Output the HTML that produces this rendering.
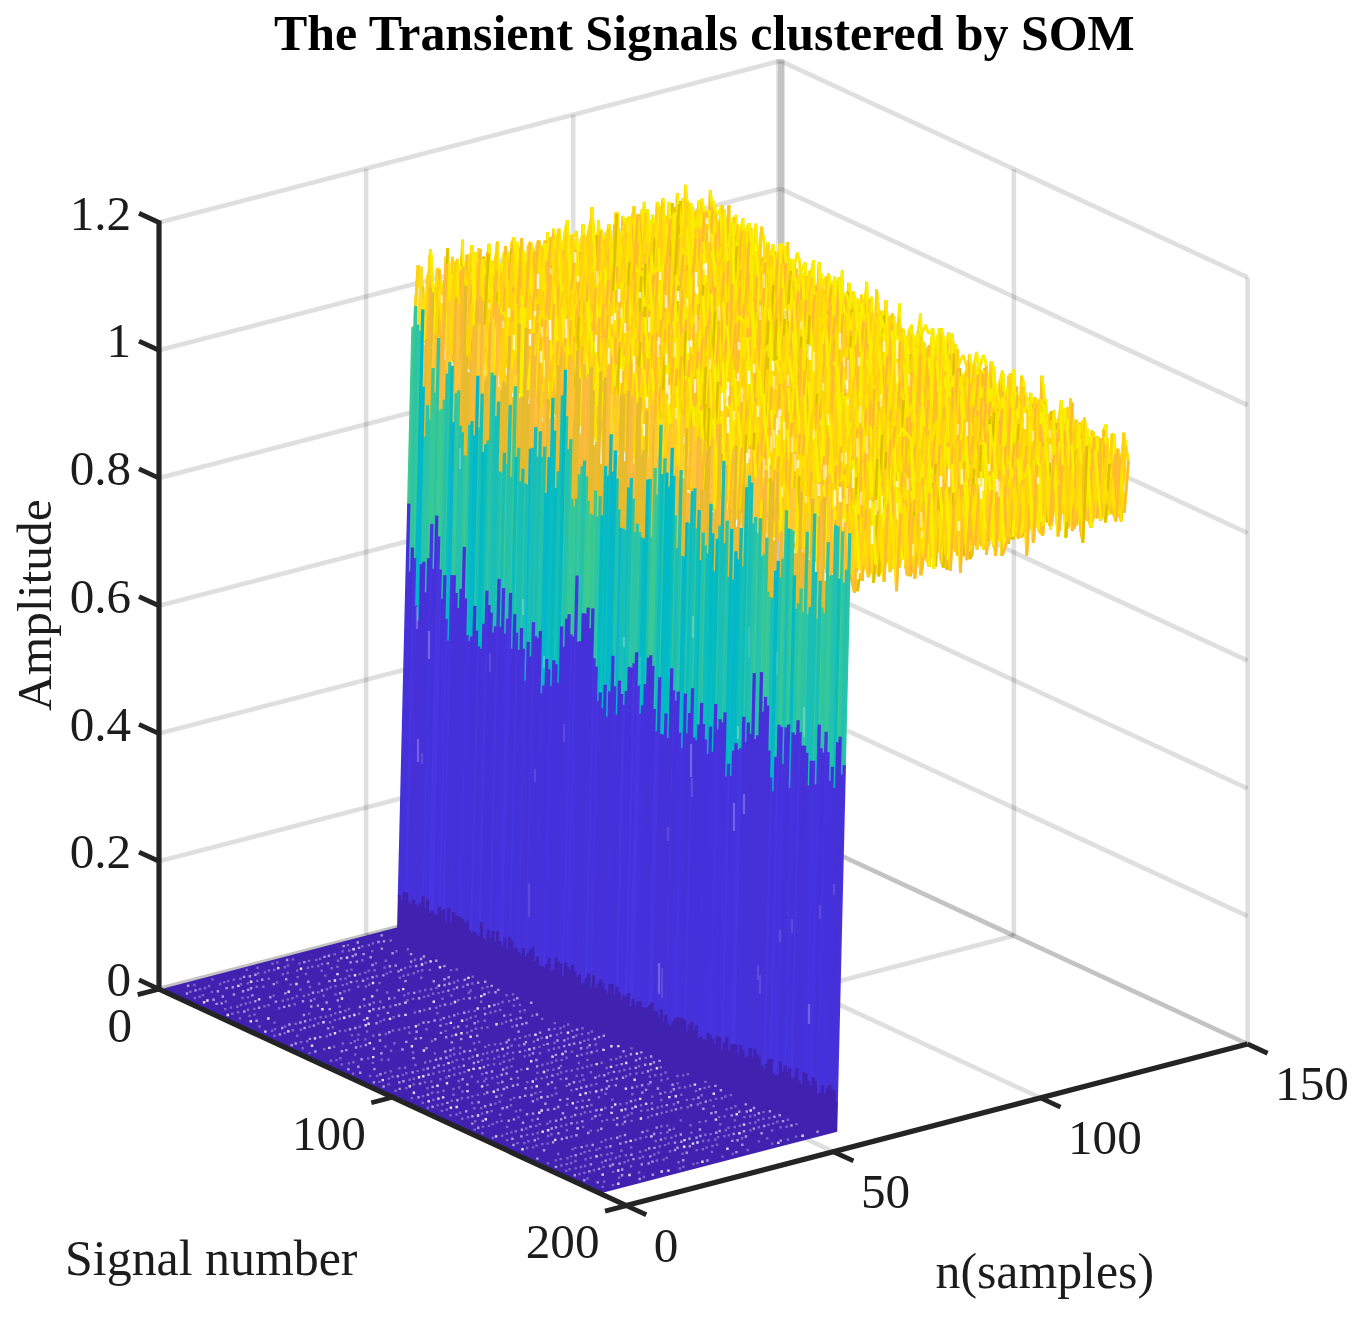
<!DOCTYPE html>
<html><head><meta charset="utf-8"><title>The Transient Signals clustered by SOM</title>
<style>html,body{margin:0;padding:0;background:#fff}body{width:1370px;height:1323px;position:relative;overflow:hidden}</style></head>
<body>
<svg width="1370" height="1323" viewBox="0 0 1370 1323" style="position:absolute;left:0;top:0">
<rect width="1370" height="1323" fill="#fff"/>
<g fill="none" stroke="#262626" stroke-opacity="0.15" stroke-width="4.6">
<path d="M159.0 989.1L780.3 827.5"/>
<path d="M159.0 861.3L780.3 699.7"/>
<path d="M159.0 733.6L780.3 572.0"/>
<path d="M159.0 605.8L780.3 444.2"/>
<path d="M159.0 478.1L780.3 316.5"/>
<path d="M159.0 350.3L780.3 188.7"/>
<path d="M159.0 222.5L780.3 60.9"/>
<path d="M366.1 935.2L366.1 168.7"/>
<path d="M573.2 881.4L573.2 114.8"/>
<path d="M780.3 827.5L1247.6 1044.0"/>
<path d="M780.3 699.7L1247.6 916.2"/>
<path d="M780.3 572.0L1247.6 788.5"/>
<path d="M780.3 444.2L1247.6 660.7"/>
<path d="M780.3 316.5L1247.6 533.0"/>
<path d="M780.3 188.7L1247.6 405.2"/>
<path d="M780.3 60.9L1247.6 277.4"/>
<path d="M1013.9 935.7L1013.9 169.2"/>
<path d="M1247.6 1044.0L1247.6 277.4"/>
<path d="M159.0 989.1L780.3 827.5"/>
<path d="M392.6 1097.3L1013.9 935.7"/>
<path d="M366.1 935.2L833.4 1151.7"/>
<path d="M573.2 881.4L1040.5 1097.9"/>
<path d="M780.3 827.5L1247.6 1044.0"/>
<path stroke-width="8.3" d="M780.3 58.9V827.5"/>
<path stroke-width="6.4" d="M781.2 60.9V827.5"/>
</g>
<style>.o{stroke:#ffba30}.g{stroke:#ffd014}.y{stroke:#ffe300}.b{stroke:#f8f000}.k{stroke:#dfc000}path{vector-effect:non-scaling-stroke}</style>
<g fill="none" stroke-width="2.7" stroke-linejoin="bevel">
<g transform="matrix(4.1420 -1.0773 0 -6.3880 161.3 990.2)"><path class="y" d="M61 93l1 10 1-8 1 0 1 10 1-10 1 5 1-9 1 11 1-8 1 8 1-11 1 10 1-5 1 8 1-12 1 11 1-12 1 11 1-11 1 8 1-6 1 8 1-8 1 8 1-8 1 10 1-11 1 10 1-9 1 9 1-8 1-4 1 12 1-7 1 8 1-9 1 10 1-11 1 6 1-5 1 7 1-8 1 12 1-12 1 8 1-6 1 6 1-10 1 12 1-11 1 9 1 1 1-10 1 10 1-8 1 8 1-7 1 5 1-4 1 7 1-10 1 7 1-9 1 11 1-7 1 7 1-10"/>
<path class="o" d="M61 93l1 10M68 91l1 11M72 91l1 10M76 92l1 11M78 91l1 11M82 93l1 8M84 93l1 8M86 93l1 10M88 92l1 10M90 93l1 9M93 90l1 12M99 93l1 6M101 94l1 7M103 93l1 12M111 92l1 9M122 93l1 7"/>
<path class="g" d="M63 95l1 0 1 10M66 95l1 5M70 94l1 8M74 96l1 8M92 94l1-4M95 95l1 8M97 94l1 10M105 93l1 8M107 95l1 6M114 92l1 10M116 94l1 8M118 95l1 5M120 96l1 7M126 95l1 7"/>
<path class="b" d="M65 105l1-10M75 104l1-12M98 104l1-11M104 105l1-12"/>
<path class="k" d="M80 91l1 8M109 91l1 12M124 91l1 11"/>
</g>
<g transform="matrix(4.1420 -1.0773 0 -6.3880 173.0 995.6)"><path class="y" d="M61 92l1 11 1-10 1 9 1-2 1-8 1 9 1-8 1 8 1-10 1 13 1-11 1 11 1-10 1 9 1-9 1 8 1-11 1 10 1-9 1 10 1-12 1 14 1-10 1-1 1 7 1-6 1 6 1-7 1 10 1-8 1 8 1-10 1 7 1-7 1 8 1 1 1-9 1 11 1-15 1 12 1-6 1 6 1-8 1 9 1-11 1 9 1-10 1 11 1-7 1 6 1-4 1 6 1-11 1 9 1-5 1 5 1-7 1 9 1-12 1 13 1-12 1 13 1-13 1 12 1-9 1 9 1-9"/>
<path class="o" d="M61 92l1 11M63 93l1 9M66 92l1 9M68 93l1 8M72 93l1 11M78 91l1 10M82 90l1 14M85 93l1 7M89 93l1 10M93 93l1 7M98 93l1 11M114 91l1 9M118 93l1 9M120 90l1 13M122 91l1 13M124 91l1 12"/>
<path class="b" d="M62 103l1-10M71 104l1-11M73 104l1-10M75 103l1-9M83 104l1-10M92 103l1-10M99 104l1-15M121 103l1-12M123 104l1-13M125 103l1-9M127 103l1-9"/>
<path class="g" d="M70 91l1 13M74 94l1 9M76 94l1 8M80 92l1 10M84 94l1-1M87 94l1 6M91 95l1 8M95 93l1 8M102 95l1 6M104 93l1 9M106 91l1 9M110 94l1 6M112 96l1 6M116 95l1 5M126 94l1 9"/>
<path class="k" d="M100 89l1 12M108 90l1 11"/>
</g>
<g transform="matrix(4.1420 -1.0773 0 -6.3880 184.7 1001.0)"><path class="y" d="M61 94l1 7 1-9 1 8 1-8 1 10 1-12 1 11 1-8 1 8 1-5 1 8 1-10 1 7 1-8 1 2 1 9 1-12 1 8 1-10 1 9 1-5 1 6 1-9 1 13 1-11 1 11 1-14 1 9 1-7 1 8 1-9 1 10 1-8 1 9 1-7 1 6 1-8 1 9 1-10 1 10 1 1 1-13 1 10 1-6 1 9 1-9 1 10 1-11 1 1 1 5 1-8 1 13 1-9 1 10 1-11 1 10 1-3 1-10 1 7 1-6 1 9 1-10 1 11 1-10 1 9 1-10 1 12"/>
<path class="g" d="M61 94l1 7M71 96l1 8M73 94l1 7M76 95l1 9M82 94l1 6M86 93l1 11M90 92l1 8M96 95l1 6M105 94l1 9M107 94l1 10M110 94l1 5M114 95l1 10M116 94l1 10M121 92l1 9M123 91l1 11M125 92l1 9M127 91l1 12"/>
<path class="o" d="M63 92l1 8M65 92l1 10M69 93l1 8M75 93l1 2M78 92l1 8M80 90l1 9M84 91l1 13M92 91l1 10M94 93l1 9M98 93l1 9M100 92l1 10M109 93l1 1M112 91l1 13M119 91l1 7"/>
<path class="k" d="M67 90l1 11M88 90l1 9M103 90l1 10"/>
<path class="b" d="M72 104l1-10M77 104l1-12M85 104l1-11M87 104l1-14M102 103l1-13M108 104l1-11M113 104l1-9M115 105l1-11M117 104l1-3"/>
</g>
<g transform="matrix(4.1420 -1.0773 0 -6.3880 196.4 1006.4)"><path class="y" d="M61 100l1-9 1 12 1-11 1-1 1 9 1-7 1 8 1-7 1 1 1 8 1-9 1 7 1-11 1 11 1-7 1 7 1-5 1 5 1-9 1 9 1-11 1 11 1-8 1 11 1-14 1 12 1-10 1 10 1-9 1 9 1-10 1 9 1-9 1 8 1 0 1-6 1 8 1-8 1 10 1-11 1 10 1-11 1 11 1-13 1 10 1-8 1 12 1-13 1 9 1-6 1 8 1-11 1 10 1-9 1 8 1-8 1 11 1-11 1-1 1 8 1-8 1 10 1-10 1 11 1 1 1 1 1-12"/>
<path class="o" d="M62 91l1 12M64 92l1-1 1 9M67 93l1 8M74 90l1 11M82 90l1 11M84 93l1 11M90 93l1 9M92 92l1 9M94 92l1 8M103 92l1 11M105 90l1 10M109 91l1 9M115 92l1 8M117 92l1 11M119 92l1-1 1 8"/>
<path class="b" d="M63 103l1-11M71 103l1-9M85 104l1-14M100 104l1-11M102 103l1-11M104 103l1-13M108 104l1-13M118 103l1-11M125 102l1 1 1 1 1-12"/>
<path class="g" d="M69 94l1 1 1 8M72 94l1 7M76 94l1 7M78 96l1 5M80 92l1 9M88 92l1 10M97 94l1 8M99 94l1 10M101 93l1 10M107 92l1 12M111 94l1 8M113 91l1 10M124 91l1 11"/>
<path class="k" d="M86 90l1 12M122 91l1 10"/>
</g>
<g transform="matrix(4.1420 -1.0773 0 -6.3880 208.1 1011.8)"><path class="y" d="M61 92l1-1 1 11 1-12 1 11 1-10 1 8 1-6 1 8 1-11 1 12 1-6 1 4 1-6 1-3 1 9 1-11 1 14 1-10 1 9 1-8 1 8 1-8 1 8 1-9 1 10 1-11 1 8 1-5 1-1 1-2 1 12 1-12 1 7 1-7 1 9 1-1 1 3 1-12 1 10 1-10 1 0 1 8 1-7 1 13 1-14 1 11 1-11 1 10 1-9 1 7 1-4 1 5 1-8 1 10 1-7 1 8 1-9 1-1 1 9 1-10 1 11 1-13 1 1 1 10 1-12 1 14 1-12"/>
<path class="o" d="M61 92l1-1 1 11M66 91l1 8M68 93l1 8M70 90l1 12M75 91l1 9M79 93l1 9M87 92l1 8M93 92l1 7M95 92l1 9M99 91l1 10M101 91l1 0 1 8M104 92l1 13M106 91l1 11M108 91l1 10M110 92l1 7M114 92l1 10M119 93l1 9M121 92l1 11M124 91l1 10M126 89l1 14"/>
<path class="k" d="M64 90l1 11M77 89l1 14M123 90l1 1"/>
<path class="b" d="M71 102l1-6M78 103l1-10M84 102l1-9M86 103l1-11M92 104l1-12M98 103l1-12M105 105l1-14M117 103l1-9M122 103l1-13M127 103l1-12"/>
<path class="g" d="M72 96l1 4M74 94l1-3M81 94l1 8M83 94l1 8M85 93l1 10M89 95l1-1 1-2 1 12M112 95l1 5M116 95l1 8M118 94l1-1"/>
</g>
<g transform="matrix(4.1420 -1.0773 0 -6.3880 219.7 1017.2)"><path class="y" d="M61 92l1 6 1-6 1 10 1-9 1 11 1-12 1 10 1-12 1 10 1-10 1 9 1-4 1-3 1 11 1-13 1 2 1 10 1-11 1 8 1-8 1 8 1-5 1 7 1-9 1 9 1-9 1 10 1-10 1 7 1-5 1 8 1-13 1 11 1-8 1 7 1-8 1 9 1-9 1 3 1 7 1-8 1 8 1-8 1 7 1-9 1 11 1-12 1 10 1-8 1 11 1-2 1 0 1-11 1 14 1-15 1 11 1-8 1 9 1-11 1 11 1-9 1 0 1-1 1 12 1-10 1 8 1 0"/>
<path class="o" d="M61 92l1 6M63 92l1 10M67 92l1 10M69 90l1 10M74 92l1 11M76 90l1 2 1 10M79 91l1 8M89 92l1 7M93 89l1 11M95 92l1 7M97 91l1 9M99 91l1 3M104 93l1 7M108 90l1 10M118 92l1 9M120 90l1 11M122 92l1 0 1-1"/>
<path class="g" d="M65 93l1 11M73 95l1-3M81 91l1 8M83 94l1 7M85 92l1 9M87 92l1 10M91 94l1 8M100 94l1 7M102 93l1 8M106 91l1 11M110 92l1 11M124 91l1 12M126 93l1 8"/>
<path class="b" d="M66 104l1-12M75 103l1-13M88 102l1-10M107 102l1-12M111 103l1-2M115 104l1-15M125 103l1-10"/>
<path class="k" d="M71 90l1 9M114 90l1 14M116 89l1 11"/>
</g>
<g transform="matrix(4.1420 -1.0773 0 -6.3880 231.4 1022.7)"><path class="y" d="M61 99l1-6 1 9 1-10 1 8 1 0 1-9 1 9 1-10 1 12 1-8 1 7 1-11 1 10 1-8 1 7 1-9 1 8 1-4 1 7 1-9 1 9 1-11 1 9 1-9 1 11 1-10 1 2 1 8 1-9 1 9 1-9 1 7 1-6 1 7 1-7 1 10 1-2 1-12 1 13 1-12 1 10 1 1 1-11 1 10 1-9 1 11 1-8 1-2 1 8 1-2 1-4 1-2 1 11 1-10 1 11 1-10 1 6 1-12 1 11 1-9 1 11 1-11 1 13 1 1 1-5 1-7 1 11"/>
<path class="g" d="M62 93l1 9M67 91l1 9M71 94l1 7M75 92l1 7M79 94l1 7M88 93l1 8M96 93l1 10M106 91l1 11M108 94l1-2M112 94l1-2 1 11M117 94l1 6M123 90l1 13M127 92l1 11"/>
<path class="b" d="M63 102l1-10M70 102l1-8M97 103l1-2M107 102l1-8M114 103l1-10M116 104l1-10M124 103l1 1 1-5"/>
<path class="o" d="M64 92l1 8M69 90l1 12M81 92l1 9M85 90l1 11M87 91l1 2M90 92l1 9M92 92l1 7M94 93l1 7M99 89l1 13M104 90l1 10M109 92l1 8M115 93l1 11M119 88l1 11"/>
<path class="k" d="M73 90l1 10M77 90l1 8M83 90l1 9M101 90l1 10M121 90l1 11"/>
</g>
<g transform="matrix(4.1420 -1.0773 0 -6.3880 243.1 1028.1)"><path class="y" d="M61 92l1 7 1-8 1 0 1 11 1-10 1 9 1-7 1 6 1-11 1 12 1-9 1 11 1-13 1 10 1-10 1 11 1-7 1 7 1-10 1 1 1 8 1-9 1 7 1-6 1 8 1-7 1-2 1 10 1-10 1 11 1-9 1 9 1-9 1 0 1 8 1-8 1 8 1-9 1 11 1-11 1 9 1-9 1 7 1-6 1 6 1-6 1 7 1-7 1 9 1-11 1 10 1-10 1 10 1-10 1 9 1-7 1 7 1-7 1 9 1-9 1 8 1-8 1 5 1-8 1 9 1-9 1 10"/>
<path class="g" d="M61 92l1 7M63 91l1 0M66 92l1 9M68 94l1 6M76 90l1 11M78 94l1 7M80 91l1 1M87 93l1-2M90 91l1 11M92 93l1 9M94 93l1 0M97 93l1 8M105 93l1 6M107 93l1 7M117 93l1 7M119 93l1 9M121 93l1 8M123 93l1 5M127 90l1 10"/>
<path class="o" d="M64 91l1 11M72 92l1 11M74 90l1 10M81 92l1 8M83 91l1 7M85 92l1 8M88 91l1 10M95 93l1 8M99 92l1 11M101 92l1 9M103 92l1 7M109 93l1 9M111 91l1 10M113 91l1 10M115 91l1 9"/>
<path class="b" d="M65 102l1-10M73 103l1-13M91 102l1-9M93 102l1-9M100 103l1-11M110 102l1-11M120 102l1-9"/>
<path class="k" d="M70 89l1 12M125 90l1 9"/>
</g>
<g transform="matrix(4.1420 -1.0773 0 -6.3880 254.8 1033.5)"><path class="y" d="M61 91l1 8 1-6 1 8 1-11 1 7 1-7 1 11 1-10 1 10 1-11 1 13 1-14 1 13 1-11 1 8 1-6 1 6 1-5 1 6 1-9 1 7 1-6 1 10 1-10 1 10 1-11 1 10 1-8 1 7 1-10 1 11 1-12 1 13 1-7 1 5 1-7 1-1 1 7 1-6 1 6 1-5 1 7 1-13 1 13 1-8 1 7 1-8 1 1 1 9 1-13 1 15 1-10 1 8 1-12 1 13 1-9 1 5 1 0 1-7 1 10 1-12 1 9 1-8 1 7 1-7 1 11 1-11"/>
<path class="o" d="M61 91l1 8M65 90l1 7M67 90l1 11M71 90l1 13M75 91l1 8M83 92l1 10M87 91l1 10M93 89l1 13M115 90l1 13M120 92l1 10M124 91l1 7M126 91l1 11"/>
<path class="g" d="M63 93l1 8M69 91l1 10M77 93l1 6M79 94l1 6M81 91l1 7M85 92l1 10M89 93l1 7M91 90l1 11M95 95l1 5M97 93l1-1 1 7M100 93l1 6M102 94l1 7M106 93l1 7M108 92l1 1 1 9M113 94l1 8M117 94l1 5M122 90l1 9"/>
<path class="b" d="M72 103l1-14M74 102l1-11M84 102l1-10M86 102l1-11M94 102l1-7M110 102l1-13M112 104l1-10M114 102l1-12M116 103l1-9M121 102l1-12M127 102l1-11"/>
<path class="k" d="M73 89l1 13M104 88l1 13M111 89l1 15"/>
</g>
<g transform="matrix(4.1420 -1.0773 0 -6.3880 266.5 1038.9)"><path class="y" d="M61 102l1-12 1 1 1 8 1-8 1 11 1-11 1 9 1-10 1 12 1-9 1 5 1-5 1 6 1-5 1 8 1-9 1 5 1-9 1 10 1-8 1 8 1-7 1 8 1-11 1 13 1-11 1 8 1-6 1 7 1-9 1 12 1-1 1-15 1 15 1-12 1 9 1-9 1 8 1-7 1 10 1-11 1 10 1-10 1 10 1-11 1 12 1-10 1 10 1-11 1 11 1-10 1 9 1-6 1 9 1-13 1 12 1-14 1 12 1-12 1 12 1-8 1 7 1-6 1 10 1-3 1-7 1 6"/>
<path class="b" d="M61 102l1-12M66 102l1-11M70 102l1-9M76 102l1-9M86 102l1-11M92 103l1-1 1-15M95 102l1-12M101 101l1-11M107 101l1-10M115 103l1-13M117 102l1-14M125 103l1-3"/>
<path class="g" d="M62 90l1 1M69 90l1 12M71 93l1 5M73 93l1 6M75 94l1 8M77 93l1 5M83 92l1 8M89 93l1 7M91 91l1 12M98 90l1 8M100 91l1 10M112 91l1 9M114 94l1 9M116 90l1 12M122 92l1 7M124 93l1 10M127 93l1 6"/>
<path class="o" d="M63 91l1 8M65 91l1 11M67 91l1 9M81 91l1 8M87 91l1 8M96 90l1 9M102 90l1 10M104 90l1 10M108 91l1 10M110 90l1 11M118 88l1 12M120 88l1 12"/>
<path class="k" d="M79 89l1 10M85 89l1 13M94 87l1 15M106 89l1 12"/>
</g>
<g transform="matrix(4.1420 -1.0773 0 -6.3880 278.2 1044.3)"><path class="y" d="M61 90l1 12 1-13 1 9 1-7 1 10 1-11 1 11 1-12 1 11 1-7 1 9 1-9 1 7 1-9 1 8 1-9 1 11 1-10 1 10 1-9 1 6 1-7 1 8 1-7 1 8 1-10 1 10 1-6 1 5 1-7 1 8 1-7 1 5 1-9 1 11 1-9 1 11 1-12 1 10 1-9 1 7 1-8 1 7 1-8 1 10 1-9 1 10 1 2 1-10 1 9 1-11 1 9 1-9 1 12 1-11 1 11 1-9 1 7 1-11 1 11 1-8 1 6 1-8 1 10 1-6 1 5 1-7"/>
<path class="o" d="M61 90l1 12M65 91l1 10M67 90l1 11M77 90l1 11M79 91l1 10M81 92l1 6M83 91l1 8M87 90l1 10M91 92l1 8M97 91l1 11M99 90l1 10M101 91l1 7M107 90l1 10M112 90l1 9M116 91l1 11M122 92l1 6"/>
<path class="b" d="M62 102l1-13M68 101l1-12M72 102l1-9M78 101l1-10M80 101l1-9M98 102l1-12M109 102l1-10M111 101l1-11M115 102l1-11M117 102l1-9"/>
<path class="k" d="M63 89l1 9M69 89l1 11M95 89l1 11M105 89l1 10M120 89l1 11"/>
<path class="g" d="M71 93l1 9M73 93l1 7M75 91l1 8M85 92l1 8M89 94l1 5M93 93l1 5M103 90l1 7M110 92l1 9M114 90l1 12M118 93l1 7M124 90l1 10M126 94l1 5"/>
</g>
<g transform="matrix(4.1420 -1.0773 0 -6.3880 289.8 1049.7)"><path class="y" d="M61 90l1 9 1-8 1 7 1-7 1 6 1-6 1 9 1-7 1 7 1-9 1 2 1 7 1-8 1 11 1-14 1 8 1-7 1 8 1-8 1 7 1-6 1 10 1-10 1 7 1-5 1 7 1-10 1 7 1-7 1 9 1-8 1 7 1-11 1 15 1-12 1 11 1-9 1 8 1-8 1 7 1-9 1 1 1 10 1-12 1 10 1-9 1 8 1-9 1 9 1-7 1 9 1-9 1 8 1-7 1 8 1-9 1 9 1-11 1 10 1-7 1 7 1-7 1 8 1-9 1 6 1-7 1 8"/>
<path class="o" d="M61 90l1 9M76 89l1 8M78 90l1 8M82 91l1 10M90 90l1 9M96 90l1 11M105 89l1 10M107 90l1 8M109 89l1 9M111 91l1 9M119 89l1 10M125 91l1 6"/>
<path class="g" d="M63 91l1 7M65 91l1 6M67 91l1 9M69 93l1 7M71 91l1 2 1 7M74 92l1 11M80 90l1 7M84 91l1 7M86 93l1 7M88 90l1 7M92 91l1 7M98 92l1 8M100 92l1 7M102 90l1 1 1 10M113 91l1 8M115 92l1 8M117 91l1 9M121 92l1 7M123 92l1 8M127 90l1 8"/>
<path class="b" d="M75 103l1-14M83 101l1-10M95 102l1-12M104 101l1-12"/>
<path class="k" d="M94 87l1 15"/>
</g>
<g transform="matrix(4.1420 -1.0773 0 -6.3880 301.5 1055.1)"><path class="y" d="M61 91l1 7 1 3 1-2 1-7 1 8 1-12 1 11 1-10 1 12 1-11 1 8 1-7 1 11 1-14 1 11 1-7 1 7 1-11 1 10 1-8 1 12 1-12 1 10 1-10 1 9 1-8 1 7 1-9 1 13 1-12 1 9 1-8 1 8 1-9 1 12 1-9 1 8 1-11 1 8 1-10 1 15 1-14 1 12 1-10 1 7 1-9 1 13 1-9 1 5 1-7 1 9 1 1 1-10 1 8 1-7 1 8 1-11 1 9 1-7 1 11 1-10 1 6 1-8 1 13 1-13 1 9 1-9"/>
<path class="o" d="M61 91l1 7M67 88l1 11M71 90l1 8M83 90l1 10M87 91l1 7M89 89l1 13M93 91l1 8M95 90l1 12M99 90l1 8M103 89l1 12M105 91l1 7M107 89l1 13M111 91l1 9M114 91l1 8M116 92l1 8M118 89l1 9M120 91l1 11M124 90l1 13M126 90l1 9"/>
<path class="b" d="M63 101l1-2M70 101l1-11M74 102l1-14M82 102l1-12M90 102l1-12M96 102l1-9M98 101l1-11M102 103l1-14M104 101l1-10M108 102l1-9M113 101l1-10M121 102l1-10M125 103l1-13"/>
<path class="g" d="M65 92l1 8M73 91l1 11M77 92l1 7M81 90l1 12M85 90l1 9M91 90l1 9M97 93l1 8M109 93l1 5M122 92l1 6"/>
<path class="k" d="M69 89l1 12M75 88l1 11M79 88l1 10M101 88l1 15"/>
</g>
<g transform="matrix(4.1420 -1.0773 0 -6.3880 313.2 1060.5)"><path class="y" d="M61 88l1 12 1-10 1 10 1-9 1 6 1-7 1 11 1-10 1 8 1-9 1 11 1-12 1 11 1-10 1 11 1-10 1-1 1 0 1 11 1-3 1-9 1 11 1-11 1 11 1-10 1 11 1-9 1 6 1-6 1 7 1-7 1 8 1-10 1 9 1-11 1 13 1-13 1 14 1-12 1 10 1-9 1 9 1-11 1 8 1 4 1-11 1 9 1-6 1 6 1-8 1 9 1-10 1 8 1 1 1-9 1 6 1-6 1 9 1-10 1 10 1-7 1 8 1-10 1 10 1-3 1-7 1 1"/>
<path class="k" d="M61 88l1 12M96 88l1 13M98 88l1 14"/>
<path class="o" d="M63 90l1 10M65 91l1 6M67 90l1 11M71 90l1 11M73 89l1 11M75 90l1 11M77 91l1-1 1 0 1 11M82 89l1 11M84 89l1 11M86 90l1 11M94 90l1 9M100 90l1 10M102 91l1 9M107 90l1 9M111 91l1 9M113 90l1 8M116 90l1 6M118 90l1 9M120 89l1 10M124 90l1 10"/>
<path class="b" d="M68 101l1-10M72 101l1-12M76 101l1-10M80 101l1-3M87 101l1-9M93 100l1-10M97 101l1-13M99 102l1-12M106 101l1-11"/>
<path class="g" d="M69 91l1 8M88 92l1 6M90 92l1 7M92 92l1 8M104 89l1 8M109 93l1 6M122 92l1 8M127 90l1 1"/>
</g>
<g transform="matrix(4.1420 -1.0773 0 -6.3880 324.9 1066.0)"><path class="y" d="M61 102l1-10 1-2 1 12 1-12 1 9 1-10 1 9 1-10 1 10 1-8 1 12 1-11 1 9 1-11 1 9 1-10 1 13 1-13 1 12 1-11 1 11 1-10 1 9 1-10 1 9 1-8 1 10 1-10 1 10 1-9 1 8 1-10 1 9 1-7 1 10 1-12 1 7 1-8 1 8 1-6 1 8 1-6 1 7 1-8 1 9 1-9 1 8 1-9 1 9 1-11 1 13 1-12 1 12 1-10 1 7 1-9 1 10 1-1 1-9 1 11 1-8 1 6 1-9 1 9 1-9 1 9 1-1"/>
<path class="b" d="M61 102l1-10M64 102l1-12M72 102l1-11M78 101l1-13M80 100l1-11M82 100l1-10M90 100l1-9M96 101l1-12M112 101l1-12M114 101l1-10"/>
<path class="g" d="M62 92l1-2 1 12M65 90l1 9M87 90l1 10M91 91l1 8M103 92l1 7M105 91l1 9M109 90l1 9M115 91l1 7M117 89l1 10M120 89l1 11M122 92l1 6"/>
<path class="o" d="M67 89l1 9M69 88l1 10M71 90l1 12M73 91l1 9M75 89l1 9M81 89l1 11M83 90l1 9M85 89l1 9M89 90l1 10M93 89l1 9M95 91l1 10M97 89l1 7M99 88l1 8M101 90l1 8M107 91l1 8M111 88l1 13M113 89l1 12M124 89l1 9M126 89l1 9"/>
<path class="k" d="M77 88l1 13M79 88l1 12"/>
</g>
<g transform="matrix(4.1420 -1.0773 0 -6.3880 336.6 1071.4)"><path class="y" d="M61 99l1-10 1 10 1-10 1 10 1-9 1 10 1-7 1 5 1-11 1 12 1-8 1 8 1-10 1 9 1-6 1 7 1-8 1 10 1-11 1 9 1-11 1 13 1-10 1 10 1-9 1 10 1-15 1 12 1-8 1 7 1-7 1 9 1-6 1-6 1 14 1-4 1-12 1 11 1-9 1 11 1-7 1 6 1-6 1 5 1-8 1 8 1 1 1-8 1 10 1-3 1-9 1 13 1-13 1 11 1-7 1 8 1-12 1 13 1-11 1 12 1-15 1 14 1-8 1-3 1 8 1-8 1 12"/>
<path class="o" d="M62 89l1 10M66 90l1 10M78 91l1 10M84 91l1 10M95 88l1 14M98 86l1 11M100 88l1 11M106 89l1 8M109 90l1 10M125 90l1 8M127 90l1 12"/>
<path class="g" d="M64 89l1 10M68 93l1 5M72 91l1 8M74 89l1 9M76 92l1 7M80 90l1 9M82 88l1 13M86 92l1 10M90 91l1 7M92 91l1 9M94 94l1-6M102 92l1 6M104 92l1 5M116 92l1 8M120 90l1 12M124 93l1-3"/>
<path class="k" d="M70 87l1 12M88 87l1 12M112 88l1 13M114 88l1 11M118 88l1 13M122 87l1 14"/>
<path class="b" d="M79 101l1-11M83 101l1-10M85 101l1-9M87 102l1-15M96 102l1-4M110 100l1-3M113 101l1-13M117 100l1-12M119 101l1-11M121 102l1-15M123 101l1-8"/>
</g>
<g transform="matrix(4.1420 -1.0773 0 -6.3880 348.3 1076.8)"><path class="y" d="M61 100l1-12 1 11 1-8 1 10 1-11 1 8 1-10 1 9 1-7 1 8 1-8 1 10 1-7 1 2 1-7 1 9 1-7 1 6 1-7 1 2 1 7 1-1 1-7 1 5 1-5 1 8 1-7 1 5 1-6 1 7 1 1 1-10 1 12 1-9 1 7 1-6 1 9 1-13 1 10 1-9 1 13 1-13 1 10 1-11 1 7 1 2 1-8 1 12 1-13 1 13 1-3 1-9 1 9 1-6 1 5 1-8 1 11 1-9 1 8 1-14 1 17 1-13 1 11 1-12 1 8 1-6 1 8"/>
<path class="b" d="M61 100l1-12M65 101l1-11M73 100l1-7M98 101l1-13M102 102l1-13M109 101l1-13M111 101l1-3M122 102l1-13M124 100l1-12"/>
<path class="o" d="M62 88l1 11M66 90l1 8M68 88l1 9M76 88l1 9M78 90l1 6M80 89l1 2M84 90l1 5M86 90l1 8M88 91l1 5M90 90l1 7M93 88l1 12M101 89l1 13M108 89l1 12M110 88l1 13M113 89l1 9M117 89l1 11M121 85l1 17M123 89l1 11M125 88l1 8"/>
<path class="g" d="M64 91l1 10M70 90l1 8M72 90l1 10M74 93l1 2M81 91l1 7M95 91l1 7M97 92l1 9M103 89l1 10M115 92l1 5M119 91l1 8M127 90l1 8"/>
<path class="k" d="M99 88l1 10M105 88l1 7"/>
</g>
<g transform="matrix(4.1420 -1.0773 0 -6.3880 359.9 1082.2)"><path class="y" d="M61 97l1-9 1 11 1-11 1 0 1 10 1 1 1-13 1 14 1-9 1 8 1-8 1 9 1 0 1 0 1-9 1 8 1-9 1 7 1-7 1 8 1-7 1 6 1-10 1 12 1-8 1 7 1-10 1 9 1-8 1 12 1-10 1 9 1-10 1 8 1-10 1 12 1-12 1 12 1-11 1 12 1-12 1 10 1-2 1-10 1 12 1-13 1 10 1-6 1 6 1-8 1 8 1-7 1 12 1-9 1 8 1-12 1 12 1-9 1 7 1-2 1 3 1 0 1-10 1 10 1-10 1 12 1-9"/>
<path class="o" d="M62 88l1 11M64 88l1 0M78 90l1 7M80 90l1 8M88 88l1 9M96 88l1 12M98 88l1 12M100 89l1 12M102 89l1 10M113 89l1 12M117 88l1 12M126 89l1 12"/>
<path class="k" d="M65 88l1 10M68 86l1 14M84 87l1 12M105 87l1 12M107 86l1 10"/>
<path class="b" d="M69 100l1-9M73 100l1 0 1 0M91 101l1-10M93 100l1-10M97 100l1-12M99 100l1-11M101 101l1-12M114 101l1-9M116 100l1-12M118 100l1-9M127 101l1-9"/>
<path class="g" d="M70 91l1 8M72 91l1 9M76 91l1 8M82 91l1 6M86 91l1 7M90 89l1 12M92 91l1 9M94 90l1 8M109 90l1 6M111 88l1 8M115 92l1 8M119 91l1 7M124 89l1 10"/>
</g>
<g transform="matrix(4.1420 -1.0773 0 -6.3880 371.6 1087.6)"><path class="y" d="M61 98l1-7 1 7 1-8 1 10 1-10 1 10 1-9 1-1 1 8 1-9 1 12 1-11 1-1 1 9 1 1 1 0 1-9 1 7 1-7 1 11 1-14 1 14 1-11 1 7 1-7 1-2 1 11 1-10 1 8 1-9 1 9 1-8 1 10 1-8 1 7 1-9 1 11 1-10 1 8 1-9 1 9 1-8 1-4 1 12 1-10 1 10 1-8 1 10 1-9 1 5 1-6 1 7 1-8 1 7 1-7 1 11 1-4 1-6 1 7 1-9 1 11 1-8 1 9 1-12 1 10 1-8 1-3"/>
<path class="g" d="M62 91l1 7M64 90l1 10M68 91l1-1M71 89l1 12M73 90l1-1M78 90l1 7M80 90l1 11M95 91l1 7M101 89l1 9M110 91l1 5M123 91l1 9M125 88l1 10"/>
<path class="b" d="M65 100l1-10M67 100l1-9M72 101l1-11M81 101l1-14M83 101l1-11M94 99l1-8M98 100l1-10M109 100l1-9M117 100l1-4M124 100l1-12"/>
<path class="o" d="M66 90l1 10M69 90l1 8M74 89l1 9M84 90l1 7M86 90l1-2 1 11M89 89l1 8M93 89l1 10M97 89l1 11M99 90l1 8M103 90l1-4 1 12M106 88l1 10M108 90l1 10M112 90l1 7M114 89l1 7M116 89l1 11M119 90l1 7M121 88l1 11M127 90l1-3"/>
<path class="k" d="M82 87l1 14M91 88l1 9"/>
</g>
<g transform="matrix(4.1420 -1.0773 0 -6.3880 383.3 1093.0)"><path class="y" d="M61 88l1 10 1-8 1 10 1-12 1 11 1-9 1 10 1-14 1 2 1 10 1-9 1 11 1-10 1 7 1-9 1 9 1-8 1 8 1-7 1 9 1-8 1 9 1-11 1 7 1-7 1 10 1-7 1 6 1-9 1 9 1-7 1 6 1-8 1 11 1-13 1 14 1-13 1 11 1-11 1 9 1-8 1 8 1-6 1 9 1-9 1 8 1-10 1 9 1-1 1 2 1-10 1 7 1-9 1 3 1-4 1 13 1-9 1 7 1-8 1 8 1-8 1 11 1-13 1 9 1-5 1 7 1-9"/>
<path class="g" d="M61 88l1 10M82 91l1 9M88 92l1 6M92 91l1 6M100 88l1 9M102 89l1 8M104 91l1 9M106 91l1 8M115 90l1-4M120 89l1 8M126 91l1 7"/>
<path class="o" d="M63 90l1 10M65 88l1 11M67 90l1 10M70 88l1 10M72 89l1 11M74 90l1 7M76 88l1 9M78 89l1 8M80 90l1 9M84 89l1 7M86 89l1 10M90 89l1 9M94 89l1 11M98 88l1 11M108 89l1 9M112 89l1 7M118 90l1 7M122 89l1 11M124 87l1 9"/>
<path class="b" d="M64 100l1-12M68 100l1-14M73 100l1-10M83 100l1-11M95 100l1-13M97 101l1-13M105 100l1-9M107 99l1-10M111 99l1-10M123 100l1-13"/>
<path class="k" d="M69 86l1 2M96 87l1 14M114 87l1 3M116 86l1 13"/>
</g>
<g transform="matrix(4.1420 -1.0773 0 -6.3880 395.0 1098.4)"><path class="y" d="M61 97l1-10 1 11 1-8 1-2 1 10 1-8 1 10 1-13 1 11 1-8 1 6 1-8 1 8 1-7 1 12 1-14 1 12 1-12 1 9 1-8 1 11 1-11 1 0 1 13 1-13 1 11 1 0 1-8 1 8 1-11 1 12 1-2 1-7 1 9 1-4 1-9 1 11 1-7 1 6 1-8 1 9 1-8 1 7 1-8 1 8 1-5 1 7 1-9 1 9 1-10 1 9 1-8 1 8 1-8 1 7 1-7 1 10 1-10 1 10 1-13 1 5 1 7 1-8 1 4 1-7 1 10 1-9"/>
<path class="k" d="M62 87l1 11M77 87l1 12M79 87l1 9M121 87l1 5"/>
<path class="g" d="M64 90l1-2M71 90l1 6M89 91l1 8M94 91l1 9M99 91l1 6M103 90l1 7M105 89l1 8M107 92l1 7M115 90l1 7M117 90l1 10M122 92l1 7M124 91l1 4M126 88l1 10"/>
<path class="o" d="M65 88l1 10M67 90l1 10M69 87l1 11M73 88l1 8M75 89l1 12M81 88l1 11M83 88l1 0 1 13M86 88l1 11M91 88l1 12M97 87l1 11M101 89l1 9M109 90l1 9M111 89l1 9M113 90l1 8M119 90l1 10"/>
<path class="b" d="M68 100l1-13M76 101l1-14M82 99l1-11M85 101l1-13M88 99l1-8M92 100l1-2M95 100l1-4M110 99l1-10M118 100l1-10M120 100l1-13M123 99l1-8"/>
</g>
<g transform="matrix(4.1420 -1.0773 0 -6.3880 406.7 1103.8)"><path class="y" d="M61 91l1 6 1-8 1 7 1-9 1 11 1-8 1 9 1-11 1 10 1-7 1 9 1-10 1 9 1-11 1 12 1-11 1 11 1-10 1 9 1-14 1 5 1 9 1-11 1 11 1-13 1 14 1-12 1 9 1-11 1 12 1-8 1 9 1-10 1 9 1-9 1 7 1-10 1 14 1-10 1 6 1-10 1 14 1-15 1 13 1-8 1 8 1-9 1 6 1-6 1 10 1-12 1 13 1-10 1 7 1-6 1 7 1-8 1 8 1-9 1 8 1-7 1 8 1-8 1 8 1-11 1 13 1-8"/>
<path class="g" d="M61 91l1 6M63 89l1 7M67 90l1 9M69 88l1 10M71 91l1 9M73 90l1 9M77 89l1 11M79 90l1 9M82 90l1 9M92 90l1 9M100 90l1 6M106 90l1 8M110 89l1 10M114 90l1 7M116 91l1 7M118 90l1 8M122 90l1 8M124 90l1 8"/>
<path class="o" d="M65 87l1 11M75 88l1 12M81 85l1 5M84 88l1 11M86 86l1 14M88 88l1 9M94 89l1 9M96 89l1 7M102 86l1 14M108 89l1 6M120 89l1 8"/>
<path class="b" d="M68 99l1-11M72 100l1-10M76 100l1-11M78 100l1-10M83 99l1-11M85 99l1-13M87 100l1-12M99 100l1-10M103 100l1-15M111 99l1-12M113 100l1-10M127 100l1-8"/>
<path class="k" d="M90 86l1 12M98 86l1 14M104 85l1 13M112 87l1 13M126 87l1 13"/>
</g>
<g transform="matrix(4.1420 -1.0773 0 -6.3880 418.4 1109.3)"><path class="y" d="M61 97l1-9 1 12 1-11 1 9 1-8 1 5 1-7 1 10 1-11 1 13 1-13 1 10 1-8 1 9 1 1 1-11 1 12 1-12 1 7 1-8 1 1 1 12 1-15 1 11 1-10 1 11 1-11 1 12 1-1 1-9 1 11 1-13 1 12 1-10 1 9 1-8 1 8 1-9 1 10 1-8 1 10 1-13 1 10 1-7 1 4 1-4 1 8 1-11 1 12 1-13 1 14 1-10 1 6 1-6 1 7 1-6 1 6 1-12 1 12 1-8 1 7 1-7 1 11 1-11 1 10 1-10 1 11"/>
<path class="g" d="M62 88l1 12M64 89l1 9M66 90l1 5M68 88l1 10M72 87l1 10M74 89l1 9M81 87l1 1M91 88l1 11M97 89l1 8M99 88l1 10M101 90l1 10M105 90l1 4M107 90l1 8M113 90l1 6M115 90l1 7M117 91l1 6M121 89l1 7"/>
<path class="b" d="M63 100l1-11M71 100l1-13M76 99l1-11M78 100l1-12M83 100l1-15M92 99l1-13M102 100l1-13M112 100l1-10M124 100l1-11M126 99l1-10"/>
<path class="o" d="M70 87l1 13M77 88l1 12M79 88l1 7M82 88l1 12M84 85l1 11M95 88l1 9M103 87l1 10M109 87l1 12M111 86l1 14M119 85l1 12M123 89l1 11M125 89l1 10M127 89l1 11"/>
<path class="k" d="M86 86l1 11M88 86l1 12M93 86l1 12"/>
</g>
<g transform="matrix(4.1420 -1.0773 0 -6.3880 430.0 1114.7)"><path class="y" d="M61 99l1-10 1 8 1-9 1 11 1-9 1 8 1-10 1 9 1-9 1 12 1-12 1-2 1 12 1-9 1 11 1-10 1 6 1-8 1 12 1-12 1 9 1-10 1 10 1-8 1 7 1-6 1 9 1-9 1-1 1 9 1-8 1-1 1-1 1 11 1-12 1 9 1-6 1 5 1-4 1 5 1-10 1 13 1-10 1 7 1-7 1 6 1-5 1 10 1-13 1 12 1-9 1 8 1-13 1 14 1-8 1 9 1-12 1 9 1-9 1-1 1 11 1-9 1 8 1-11 1 15 1-5 1-8"/>
<path class="b" d="M61 99l1-10M65 99l1-9M71 100l1-12M76 100l1-10M80 100l1-12M88 99l1-9M95 99l1-12M103 99l1-10M109 100l1-13M111 99l1-9M115 99l1-8M117 100l1-12M126 101l1-5"/>
<path class="g" d="M62 89l1 8M66 90l1 8M68 88l1 9M77 90l1 6M79 88l1 12M87 90l1 9M89 90l1-1M92 90l1-1M94 88l1 11M98 90l1 5M100 91l1 5M106 89l1 6M108 90l1 10M112 90l1 8M116 91l1 9M118 88l1 9M123 89l1 8"/>
<path class="o" d="M64 88l1 11M70 88l1 12M72 88l1-2 1 12M75 89l1 11M81 88l1 9M83 87l1 10M85 89l1 7M90 89l1 9M93 89l1-1M104 89l1 7M110 87l1 12M114 85l1 14M120 88l1-1 1 11M125 86l1 15"/>
<path class="k" d="M96 87l1 9M102 86l1 13"/>
</g>
<g transform="matrix(4.1420 -1.0773 0 -6.3880 441.7 1120.1)"><path class="y" d="M61 98l1-9 1 8 1-9 1 9 1-2 1-7 1 9 1-12 1 12 1-7 1 7 1-9 1 12 1-15 1 11 1-7 1 9 1-12 1 14 1-12 1 8 1-10 1 10 1-10 1 12 1-9 1 7 1-7 1 8 1-11 1 12 1-12 1 3 1 7 1-8 1-1 1 10 1-10 1 10 1 3 1-15 1 13 1-9 1 10 1-1 1-8 1 7 1-10 1 11 1-11 1 10 1-10 1 9 1-6 1 9 1-10 1 8 1-10 1 13 1-12 1 10 1-10 1 10 1-11 1 8 1 1 1-6"/>
<path class="b" d="M61 98l1-9M74 100l1-15M80 100l1-12M86 98l1-9M101 100l1-15M105 99l1-1M116 99l1-10M120 100l1-12"/>
<path class="g" d="M62 89l1 8M67 88l1 9M71 90l1 7M104 89l1 10M107 90l1 7M109 87l1 11M113 87l1 9M115 90l1 9M117 89l1 8M119 87l1 13M125 87l1 8"/>
<path class="o" d="M64 88l1 9M69 85l1 12M73 88l1 12M77 89l1 9M81 88l1 8M87 89l1 7M89 89l1 8M93 86l1 3 1 7M96 88l1-1 1 10M99 87l1 10M111 87l1 10M121 88l1 10M123 88l1 10"/>
<path class="k" d="M75 85l1 11M79 86l1 14M83 86l1 10M85 86l1 12M91 86l1 12M102 85l1 13"/>
</g>
<g transform="matrix(4.1420 -1.0773 0 -6.3880 453.4 1125.5)"><path class="y" d="M61 89l1 6 1-8 1 13 1-13 1 9 1-6 1 10 1 0 1-13 1 10 1-11 1 11 1-9 1 10 1 0 1-9 1 9 1-12 1 12 1-9 1 8 1-7 1 5 1-8 1 11 1-8 1 7 1-11 1 11 1-7 1 7 1-11 1 11 1-9 1 10 1-1 1-9 1 9 1-11 1 9 1-8 1 10 1-9 1 9 1-9 1 9 1 1 1 0 1-9 1 9 1-9 1 5 1-7 1 8 1-8 1 13 1-10 1 6 1-10 1 11 1-8 1 7 1-9 1 8 1-7 1 9 1 2"/>
<path class="g" d="M61 89l1 6M67 90l1 10M77 89l1 9M83 90l1 5M87 90l1 7M91 90l1 7M95 88l1 10M106 88l1 9M110 89l1 9M112 89l1 5M118 90l1 6"/>
<path class="o" d="M63 87l1 13M65 87l1 9M70 87l1 10M74 88l1 10M79 86l1 12M81 89l1 8M85 87l1 11M89 86l1 11M93 86l1 11M98 88l1 9M102 87l1 10M104 88l1 9M114 87l1 8M116 87l1 13M120 86l1 11M122 89l1 7M124 87l1 8M126 88l1 9"/>
<path class="b" d="M64 100l1-13M68 100l1 0 1-13M75 98l1 0M80 98l1-9M86 98l1-8M96 98l1-1M108 98l1 0M111 98l1-9M117 100l1-10"/>
<path class="k" d="M72 86l1 11M100 86l1 9"/>
</g>
<g transform="matrix(4.1420 -1.0773 0 -6.3880 465.1 1130.9)"><path class="y" d="M61 87l1 9 1-7 1 8 1-10 1 9 1-8 1 9 1-11 1 11 1-12 1 11 1-8 1-1 1 9 1-8 1 9 1 2 1-10 1 6 1-8 1 13 1-10 1 8 1-8 1 6 1-10 1 11 1-9 1 9 1-9 1 11 1-9 1 8 1-2 1-9 1 8 1-7 1 7 1-7 1 11 1-13 1 13 1-11 1 12 1-11 1 7 1-9 1 9 1-9 1 10 1-9 1 8 1-7 1-1 1 10 1-4 1-6 1 9 1-9 1 6 1-8 1 11 1-10 1 11 1-9 1 10 1-4"/>
<path class="o" d="M61 87l1 9M67 88l1 9M71 85l1 11M73 88l1-1M76 88l1 9M81 87l1 13M87 86l1 11M91 88l1 11M96 87l1 8M98 88l1 7M100 88l1 11M102 86l1 13M104 88l1 12M110 87l1 10M112 88l1 8M118 88l1 9M120 88l1 6M124 87l1 11"/>
<path class="g" d="M63 89l1 8M65 87l1 9M74 87l1 9M79 89l1 6M83 90l1 8M85 90l1 6M89 88l1 9M93 90l1 8M106 89l1 7M108 87l1 9M114 89l1-1 1 10M126 89l1 10"/>
<path class="k" d="M69 86l1 11M122 86l1 11"/>
<path class="b" d="M78 99l1-10M82 100l1-10M84 98l1-8M92 99l1-9M101 99l1-13M103 99l1-11M105 100l1-11M125 98l1-9M127 99l1-4"/>
</g>
<g transform="matrix(4.1420 -1.0773 0 -6.3880 476.8 1136.3)"><path class="y" d="M61 88l1 9 1-11 1 11 1-11 1 11 1-10 1 10 1-9 1 10 1-8 1 8 1-1 1-13 1 14 1-12 1 8 1-8 1 10 1-7 1 6 1-7 1 10 1-14 1 14 1-9 1 8 1-9 1 8 1-9 1 9 1-8 1 10 1-11 1 9 1-10 1 11 1-11 1 3 1 6 1-5 1 7 1-12 1 10 1 2 1-9 1 9 1-11 1 11 1-11 1 10 1-6 1 8 1-10 1 8 1-8 1 10 1-11 1-1 1 8 1-7 1 8 1-6 1 5 1 1 1-9 1 12 1-13"/>
<path class="g" d="M61 88l1 9M71 90l1 8M80 89l1 6M82 88l1 10M86 89l1 8M96 86l1 11M99 89l1 6M101 90l1 7M106 88l1 9M112 90l1 8M114 88l1 8"/>
<path class="o" d="M63 86l1 11M65 86l1 11M67 87l1 10M69 88l1 10M74 84l1 14M76 86l1 8M78 86l1 10M84 84l1 14M88 88l1 8M90 87l1 9M92 88l1 10M94 87l1 9M98 86l1 3M108 86l1 11M116 88l1 10M118 87l1-1M121 87l1 8M123 89l1 5M126 86l1 12"/>
<path class="b" d="M70 98l1-8M72 98l1-1M75 98l1-12M83 98l1-14M85 98l1-9M93 98l1-11M113 98l1-10M117 98l1-11M127 98l1-13"/>
<path class="k" d="M103 85l1 10M110 86l1 10M119 86l1 8"/>
</g>
<g transform="matrix(4.1420 -1.0773 0 -6.3880 488.4 1141.7)"><path class="y" d="M61 89l1 9 1-12 1 9 1-8 1 9 1-6 1 6 1-6 1 10 1-13 1 11 1-13 1 12 1-11 1 9 1-6 1 6 1-8 1 10 1-12 1 10 1-10 1 10 1-9 1 8 1-9 1 11 1 1 1-9 1 8 1-10 1 1 1 8 1-8 1 12 1-15 1 12 1-9 1 7 1-6 1 7 1-5 1-3 1 12 1-11 1 9 1-2 1-6 1 7 1-7 1 1 1 8 1-10 1 0 1 7 1-9 1 8 1-7 1 12 1-14 1 12 1-10 1 9 1-9 1 12 1-13 1 8"/>
<path class="g" d="M61 89l1 9M65 87l1 9M67 90l1 6M69 90l1 10M75 86l1 9M77 89l1 6M92 86l1 1M101 88l1 7M103 90l1-3M109 89l1 7M111 89l1 1 1 8M115 88l1 7M117 86l1 8"/>
<path class="b" d="M62 98l1-12M70 100l1-13M72 98l1-13M89 97l1-9M96 99l1-15M105 99l1-11M113 98l1-10M120 99l1-14M126 99l1-13"/>
<path class="o" d="M63 86l1 9M71 87l1 11M73 85l1 12M79 87l1 10M83 85l1 10M85 86l1 8M90 88l1 8M93 87l1 8M95 87l1 12M99 87l1 7M104 87l1 12M106 88l1 9M114 88l1 0M119 87l1 12M123 87l1 9M125 87l1 12M127 86l1 8"/>
<path class="k" d="M81 85l1 10M87 85l1 11M97 84l1 12M121 85l1 12"/>
</g>
<g transform="matrix(4.1420 -1.0773 0 -6.3880 500.1 1147.1)"><path class="y" d="M61 90l1-2 1 9 1-8 1 4 1-4 1 6 1-9 1 2 1 12 1-13 1 9 1-7 1 6 1-7 1 11 1-14 1 12 1-9 1 7 1-7 1 8 1-10 1 10 1 1 1-7 1 8 1-12 1 12 1-12 1 12 1-11 1 10 1 2 1-13 1 10 1-11 1 11 1-9 1-3 1 10 1-8 1 12 1-11 1 12 1-11 1 8 1-8 1 6 1-8 1 10 1-1 1-6 1 12 1-15 1 11 1-11 1 8 1-9 1 12 1-10 1 10 1-10 1 12 1-10 1 6 1-9 1 9"/>
<path class="g" d="M61 90l1-2M64 89l1 4M66 89l1 6M69 88l1 12M71 87l1 9M73 89l1 6M86 90l1 8M90 86l1 12M92 87l1 10M95 86l1 10M106 88l1 8M113 89l1 12M115 86l1 11M125 89l1 6"/>
<path class="o" d="M62 88l1 9M68 86l1 2M75 88l1 11M79 88l1 7M81 88l1 8M83 86l1 10M88 86l1 12M99 87l1-3M102 86l1 12M104 87l1 12M108 88l1 6M110 86l1 10M117 86l1 8M121 87l1 10M123 87l1 12M127 86l1 9"/>
<path class="b" d="M70 100l1-13M76 99l1-14M87 98l1-12M89 98l1-12M91 98l1-11M94 99l1-13M103 98l1-11M105 99l1-11M114 101l1-15M124 99l1-10"/>
<path class="k" d="M77 85l1 12M97 85l1 11M100 84l1 10M119 85l1 12"/>
</g>
<g transform="matrix(4.1420 -1.0773 0 -6.3880 511.8 1152.6)"><path class="y" d="M61 86l1-2 1 15 1-12 1 9 1-8 1 9 1-9 1 8 1-8 1 9 1-1 1-10 1 2 1 8 1-8 1 10 1-12 1 8 1 2 1-8 1 7 1-8 1 10 1-11 1 9 1-8 1 8 1-9 1 10 1-9 1 10 1-8 1 7 1-7 1 8 1-2 1-8 1 11 1-12 1 9 1-7 1 8 1-9 1 10 1-8 1 7 1-11 1 9 1-7 1 9 1-10 1 9 1-12 1 14 1-11 1 11 1-10 1 10 1-1 1-9 1 11 1-11 1 11 1-12 1 10 1-11 1 15"/>
<path class="o" d="M61 86l1-2M64 87l1 9M70 88l1 9M73 86l1 2M83 87l1 10M85 86l1 9M89 86l1 10M98 87l1 11M100 86l1 9M110 87l1 9M112 86l1 9M116 86l1 11M118 87l1 10M121 87l1 11M123 87l1 11M125 86l1 10"/>
<path class="k" d="M62 84l1 15M108 85l1 9M114 83l1 14M127 85l1 15"/>
<path class="b" d="M63 99l1-12M67 97l1-9M71 97l1-1M77 98l1-12M92 97l1-8M96 97l1-2M99 98l1-12M115 97l1-11M122 98l1-11M124 98l1-12"/>
<path class="g" d="M66 88l1 9M68 88l1 8M74 88l1 8M76 88l1 10M78 86l1 8M81 88l1 7M87 87l1 8M91 87l1 10M93 89l1 7M95 89l1 8M102 88l1 8M104 87l1 10M106 89l1 7"/>
</g>
<g transform="matrix(4.1420 -1.0773 0 -6.3880 523.5 1158.0)"><path class="y" d="M61 87l1 9 1-10 1-2 1 12 1-9 1 7 1-6 1 9 1-9 1 8 1-10 1 12 1-12 1 11 1-8 1 9 1-12 1 10 1-11 1 10 1-9 1 11 1-8 1 8 1-12 1 11 1-11 1 7 1-6 1 11 1-12 1 11 1-7 1 6 1-7 1 7 1-8 1 12 1-13 1 8 1-8 1 7 1 2 1-8 1 9 1-9 1 6 1-6 1 8 1-7 1 8 1 1 1-9 1 8 1-13 1 14 1-10 1 10 1-8 1 7 1-9 1 9 1 0 1-10 1 9 1 0 1-9"/>
<path class="g" d="M61 87l1 9M63 86l1-2M66 87l1 7M70 88l1 8M74 86l1 11M76 89l1 9M80 85l1 10M82 86l1 11M84 89l1 8M94 89l1 6M96 88l1 7M100 86l1 8M105 87l1 9M111 88l1 8M114 88l1 8M120 89l1 7M125 86l1 9"/>
<path class="o" d="M64 84l1 12M68 88l1 9M72 86l1 12M78 86l1 10M88 85l1 7M90 86l1 11M92 85l1 11M98 87l1 12M102 86l1 7M107 87l1 6M109 87l1 8M116 83l1 14M118 87l1 10M122 87l1 9"/>
<path class="b" d="M69 97l1-9M73 98l1-12M75 97l1-8M77 98l1-12M83 97l1-8M85 97l1-12M91 97l1-12M99 99l1-13M113 97l1-9M119 97l1-8"/>
<path class="k" d="M86 85l1 11"/>
</g>
<g transform="matrix(4.1420 -1.0773 0 -6.3880 535.2 1163.4)"><path class="y" d="M61 86l1 8 1-7 1 10 1-10 1 8 1-9 1 7 1-7 1 8 1-9 1 11 1-11 1 1 1 10 1-12 1 12 1-11 1 9 1-7 1 7 1-7 1 10 1-14 1 13 1-8 1 7 1-6 1 7 1-10 1 7 1-5 1 8 1-7 1 7 1-10 1 9 1-7 1 9 1-11 1 9 1-8 1 8 1 0 1-11 1 9 1-5 1 8 1-10 1 11 1-9 1 9 1-12 1 11 1-12 1 11 1-8 1 8 1-10 1 12 1-10 1 7 1-5 1-4 1 10 1-8 1 11 1-11"/>
<path class="o" d="M61 86l1 8M63 87l1 10M65 87l1 8M67 86l1 7M73 85l1 1 1 10M80 87l1 7M82 87l1 10M84 83l1 13M90 86l1 7M100 86l1 9M109 86l1 11M113 85l1 11M117 87l1 8M121 87l1 7M126 87l1 11"/>
<path class="b" d="M64 97l1-10M83 97l1-14M99 97l1-11M110 97l1-9M112 97l1-12M120 97l1-10M127 98l1-11"/>
<path class="g" d="M69 86l1 8M78 85l1 9M86 88l1 7M88 89l1 7M92 88l1 8M94 89l1 7M96 86l1 9M98 88l1 9M102 87l1 8M107 88l1 8M111 88l1 9M123 89l1-4"/>
<path class="k" d="M71 85l1 11M76 84l1 12M105 84l1 9M115 84l1 11M119 85l1 12M124 85l1 10"/>
</g>
<g transform="matrix(4.1420 -1.0773 0 -6.3880 546.9 1168.8)"><path class="y" d="M61 86l1 10 1-11 1 10 1-9 1 11 1-10 1 0 1 7 1-5 1 4 1-5 1 7 1-9 1 12 1-9 1 8 1 0 1-11 1 10 1-11 1 10 1-10 1 10 1-11 1 12 1-13 1 13 1-9 1-1 1 9 1-9 1 7 1 4 1-9 1 11 1-14 1 10 1-8 1 11 1-13 1 10 1-7 1 5 1-8 1 11 1-7 1 8 1-10 1 7 1-7 1 0 1 10 1-13 1 10 1-6 1 9 1-10 1 7 1-8 1 8 1-7 1 9 1-9 1 11 1-11 1 8 1-8"/>
<path class="o" d="M61 86l1 10M63 85l1 10M65 86l1 11M79 86l1 10M81 85l1 10M87 83l1 13M90 86l1 9M92 86l1 7M97 85l1 10M99 87l1 11M101 85l1 10M111 87l1 0 1 10M114 84l1 10M118 87l1 7M120 86l1 8M122 87l1 9M126 87l1 8"/>
<path class="b" d="M66 97l1-10M75 98l1-9M77 97l1 0 1-11M94 97l1-9M96 99l1-14M100 98l1-13M106 96l1-7M108 97l1-10M113 97l1-13M117 97l1-10M123 96l1-9M125 98l1-11"/>
<path class="g" d="M67 87l1 0 1 7M70 89l1 4M72 88l1 7M74 86l1 12M76 89l1 8M83 85l1 10M89 87l1-1M95 88l1 11M103 88l1 5M105 85l1 11M107 89l1 8M109 87l1 7M116 88l1 9M124 87l1 11"/>
<path class="k" d="M85 84l1 12"/>
</g>
<g transform="matrix(4.1420 -1.0773 0 -6.3880 558.5 1174.2)"><path class="y" d="M61 86l1 10 1-11 1 12 1-9 1 9 1-11 1 10 1-12 1 12 1-12 1 13 1-12 1 2 1 7 1-10 1 15 1-13 1 11 1-13 1 12 1-13 1 13 1-1 1-11 1 4 1 8 1-8 1 9 1-13 1 10 1-4 1 4 1 4 1-10 1 7 1-10 1 10 1-10 1 7 1-9 1 14 1 0 1-13 1 13 1-10 1 9 1-9 1 6 1-6 1 9 1-11 1 10 1-7 1 6 1-7 1 8 1-8 1 5 1-8 1 10 1-6 1 6 1-7 1 10 1-9 1 9 1-9"/>
<path class="o" d="M61 86l1 10M63 85l1 12M69 84l1 12M76 84l1 15M85 84l1 4M90 84l1 10M97 85l1 10M99 85l1 7M101 83l1 14M104 84l1 13M106 87l1 9M108 87l1 6M110 87l1 9M116 87l1 8M120 84l1 10M124 87l1 10"/>
<path class="b" d="M64 97l1-9M66 97l1-11M68 96l1-12M72 97l1-12M77 99l1-13M79 97l1-13M81 96l1-13M87 96l1-8M89 97l1-13M94 98l1-10M102 97l1 0 1-13M105 97l1-10M107 96l1-9M125 97l1-9M127 97l1-9"/>
<path class="g" d="M65 88l1 9M67 86l1 10M73 85l1 2 1 7M78 86l1 11M86 88l1 8M88 88l1 9M92 90l1 4M95 88l1 7M112 85l1 10M114 88l1 6M118 87l1 5M122 88l1 6M126 88l1 9"/>
<path class="k" d="M71 84l1 13M80 84l1 12M82 83l1 13"/>
</g>
<g transform="matrix(4.1420 -1.0773 0 -6.3880 570.2 1179.6)"><path class="y" d="M61 96l1-9 1 9 1-10 1 7 1-9 1 12 1-7 1 5 1-10 1 12 1-12 1 13 1-12 1-1 1 9 1-8 1 11 1-10 1 7 1-11 1 1 1 13 1-9 1 10 1-11 1 10 1 0 1-8 1 4 1-7 1 11 1-10 1 8 1-8 1 10 1-10 1 8 1-9 1 3 1 5 1-8 1 10 1 1 1-9 1 11 1-15 1 11 1-9 1 2 1-1 1 7 1-5 1 5 1-5 1 6 1-7 1 9 1-11 1 9 1-8 1 8 1-9 1 9 1-11 1 13 1-11 1 9"/>
<path class="g" d="M62 87l1 9M68 89l1 5M70 84l1 12M77 85l1 11M79 86l1 7M84 87l1 10M86 86l1 10M89 88l1 4M91 85l1 11M100 88l1 5M105 87l1 11M110 87l1-1M113 88l1 5M115 88l1 6"/>
<path class="o" d="M64 86l1 7M66 84l1 12M72 84l1 13M74 85l1-1 1 9M93 86l1 8M95 86l1 10M97 86l1 8M99 85l1 3M102 85l1 10M107 83l1 11M109 85l1 2M111 86l1 7M117 87l1 9M119 85l1 9M121 86l1 8M123 85l1 9M125 83l1 13M127 85l1 9"/>
<path class="b" d="M71 96l1-12M73 97l1-12M78 96l1-10M83 96l1-9M85 97l1-11M88 96l1-8M104 96l1-9M106 98l1-15M118 96l1-11"/>
<path class="k" d="M81 82l1 1 1 13"/>
</g>
<g transform="matrix(4.1420 -1.0773 0 -6.3880 581.9 1185.0)"><path class="y" d="M61 83l1 12 1-10 1 1 1 9 1-11 1 11 1-10 1 9 1-10 1 10 1-1 1-9 1 12 1-10 1 7 1-8 1 12 1-9 1 4 1-7 1 10 1-8 1 8 1-8 1 9 1-8 1-2 1 7 1-7 1 9 1-8 1 11 1-14 1 8 1-7 1 10 1 3 1-12 1 10 1-11 1 11 1-13 1 11 1-9 1 14 1-13 1 10 1-10 1 9 1-10 1 7 1-6 1 10 1-10 1 7 1-4 1 8 1-14 1 10 1-6 1 5 1-7 1 11 1-11 1 12 1-12 1 11"/>
<path class="o" d="M61 83l1 12M64 86l1 9M66 84l1 11M75 86l1 7M77 85l1 12M81 85l1 10M88 86l1 7M92 87l1 11M94 84l1 8M99 86l1 10M101 85l1 11M105 85l1 14M109 86l1 9M111 85l1 7M113 86l1 10M115 86l1 7M119 83l1 10M123 85l1 11M125 85l1 12M127 85l1 11"/>
<path class="g" d="M63 85l1 1M68 85l1 9M70 84l1 10M79 88l1 4M83 87l1 8M85 87l1 9M87 88l1-2M90 86l1 9M96 85l1 10M107 86l1 10M117 89l1 8M121 87l1 5"/>
<path class="k" d="M73 84l1 12M103 83l1 11"/>
<path class="b" d="M74 96l1-10M78 97l1-9M86 96l1-8M93 98l1-14M98 98l1-12M100 96l1-11M106 99l1-13M114 96l1-10M118 97l1-14M124 96l1-11M126 97l1-12"/>
</g>
<g transform="matrix(4.1420 -1.0773 0 -6.3880 593.6 1190.4)"><path class="y" d="M61 94l1-8 1-3 1 12 1-8 1 5 1 0 1-4 1 7 1-7 1 7 1-8 1 11 1-10 1 7 1-9 1-1 1 8 1-10 1 14 1-13 1 8 1-6 1 8 1-9 1 9 1-8 1 9 1-8 1 9 1-11 1 10 1-9 1 9 1-10 1 10 1-12 1 11 1-9 1 8 1 3 1-10 1 1 1 7 1 2 1-11 1 12 1-9 1 5 1-7 1 10 1-10 1 12 1-15 1 10 1-9 1 3 1 7 1-9 1 8 1-7 1 9 1-8 1 9 1-11 1 9 1-9 1 12"/>
<path class="o" d="M62 86l1-3 1 12M76 86l1-1M79 83l1 14M81 84l1 8M83 86l1 8M85 85l1 9M87 86l1 9M95 85l1 10M97 83l1 11M99 85l1 8M102 86l1 1M106 85l1 12M110 86l1 10M112 86l1 12M114 83l1 10M116 84l1 3M119 85l1 8M121 86l1 9M127 85l1 12"/>
<path class="g" d="M65 87l1 5M68 88l1 7M70 88l1 7M72 87l1 11M74 88l1 7M77 85l1 8M89 87l1 9M91 85l1 10M93 86l1 9M103 87l1 7M108 88l1 5M117 87l1 7M123 87l1 9M125 85l1 9"/>
<path class="b" d="M73 98l1-10M80 97l1-13M90 96l1-11M101 96l1-10M105 96l1-11M107 97l1-9M111 96l1-10M113 98l1-15"/>
</g>
<g transform="matrix(2.3365 1.0825 0 -6.3880 689.2 851.2)"><path class="y" d="M1 92l1 8 1-5 1-3 1 10 1-8 1-3 1 0 1 14 1-3 1 1 1-10 1-1 1 2 1 9 1-11 1 12 1-14 1 3 1 10 1-12 1 10 1 2 1-10 1 7 1 1 1-10 1 1 1 0 1 7 1 4 1-2 1-9 1 9 1-9 1 8 1 0 1 0 1-6 1 8 1-11 1 9 1 0 1-8 1 0 1 7 1-7 1-2 1 2 1 5 1-5 1 0 1 9 1-9 1-2 1 8 1-8 1 0 1 10 1 0 1-10 1 7 1-6 1 7 1-10 1 3 1-1 1-2 1 1 1-1 1 9 1-7 1 1 1-2 1 9 1 4 1-13 1 11 1-8 1-3 1 9 1-7 1-4 1 5 1 6 1-6 1 7 1-12 1 8 1 6 1-14 1 3 1-2 1 0 1 1 1 0 1 2 1 7 1 3 1-11 1-1 1 0 1 1 1-3 1 0 1 5 1 8 1-14 1 1 1 11 1 2 1-2 1-10 1 7 1 3 1-10 1 1 1 1 1-2 1 1 1 1 1 7 1 2 1-3 1 2 1 1 1-1 1-12 1 4 1 8 1-3 1-6 1 7 1 2 1-11 1-2 1 10 1 1 1 3 1-14 1 9 1 1 1 2 1-8 1-2 1 8 1-9 1 0 1 1 1-1 1 14 1-3 1-3 1-7 1 7 1-8 1 2 1-2 1 10 1-10 1 1 1 10 1-10 1 11 1-12 1 1 1 7 1 1 1-11 1 4 1 0 1 6 1 1 1-2 1-6 1 7 1 0 1-9 1 10 1-9 1 10 1 0 1-10 1-2 1-1 1 14 1-2 1-2"/>
<path class="o" d="M1 92l1 8M7 91l1 0 1 14M12 93l1-1M16 92l1 12M27 91l1 1 1 0 1 7M35 92l1 8M41 91l1 9M48 90l1 2 1 5M54 92l1-2 1 8M58 90l1 10M65 88l1 3M67 90l1-2M69 89l1-1M72 90l1 1 1-2 1 9M82 91l1-4 1 5M93 88l1 0M95 89l1 0 1 2M102 89l1 1 1-3M105 87l1 5M116 88l1 1 1 1M119 88l1 1 1 1M128 86l1 4M135 87l1-2M148 86l1 1 1-1 1 14M156 86l1 2M158 86l1 10M165 86l1 1 1 7M169 84l1 4M183 86l1-2 1-1"/>
<path class="g" d="M3 95l1-3 1 10M6 94l1-3M13 92l1 2 1 9M19 93l1 10M21 91l1 10M24 93l1 7M33 92l1 9M39 94l1 8M44 92l1 0 1 7M47 92l1-2M51 92l1 0 1 9M57 90l1 0M61 90l1 7M63 91l1 7M66 91l1-1M77 89l1 11M79 92l1-3 1 9M84 92l1 6M86 92l1 7M92 90l1-2M94 88l1 1M97 91l1 7M100 90l1-1 1 0M106 92l1 8M113 88l1 7M118 90l1-2M121 90l1 7M129 90l1 8M132 89l1 7M144 89l1-2 1 8M147 86l1 0M154 87l1 7M157 88l1-2M160 86l1 1 1 10M163 87l1 11M170 88l1 0 1 6M175 87l1 7M178 85l1 10M180 86l1 10"/>
<path class="b" d="M9 105l1-3M11 103l1-10M15 103l1-11M17 104l1-14M20 103l1-12M23 103l1-10M31 103l1-2M40 102l1-11M53 101l1-9M76 102l1-13M78 100l1-8M90 101l1-14M99 101l1-11M107 100l1-14M111 100l1-2M123 99l1-3M125 98l1 1 1-1 1-12M130 98l1-3M134 98l1-11M139 99l1-14M143 97l1-8M151 100l1-3 1-3M164 98l1-12M182 96l1-10M186 97l1-2"/>
<path class="k" d="M18 90l1 3M68 88l1 1M70 88l1 9M88 87l1 8M91 87l1 3M104 87l1 0M108 86l1 1 1 11M136 85l1 10M140 85l1 9M185 83l1 14"/>
</g>
<g transform="matrix(2.3365 1.0825 0 -6.3880 685.0 852.3)"><path class="y" d="M1 102l1-9 1-1 1 8 1-8 1 11 1-8 1 7 1-10 1 0 1-1 1 13 1-2 1-1 1-10 1 13 1-11 1 9 1-1 1-7 1 9 1-12 1 0 1 10 1-9 1 9 1 0 1 1 1-2 1-10 1 2 1-1 1 3 1-1 1 6 1-9 1 0 1 1 1 9 1-8 1 10 1-10 1 1 1 10 1-11 1 1 1 7 1 2 1-1 1-10 1 8 1 0 1-8 1 9 1 2 1-12 1 9 1 0 1-7 1 0 1 7 1-9 1 8 1 3 1-2 1-9 1 10 1-10 1 3 1 8 1-3 1 2 1-1 1 0 1-9 1 0 1 9 1-7 1 8 1-2 1-8 1 12 1-3 1-1 1-8 1 11 1-10 1 8 1-12 1 2 1 1 1 8 1-1 1-10 1 9 1 2 1 1 1-9 1-1 1 10 1-1 1 1 1 1 1-1 1 0 1 1 1-14 1 13 1 1 1-10 1-1 1 0 1 6 1-5 1-2 1 8 1 0 1 1 1 1 1-1 1-1 1-5 1-2 1 0 1 0 1 8 1-10 1 8 1 3 1-9 1 10 1-2 1-10 1 2 1 7 1 2 1-10 1-2 1 0 1 9 1-9 1 11 1-9 1 11 1-1 1-12 1 2 1 9 1-3 1 1 1-10 1 2 1 2 1 7 1-8 1 7 1-1 1 2 1-7 1 6 1 3 1-11 1 1 1-1 1 12 1-4 1-9 1 2 1 8 1-4 1 5 1-12 1-1 1 1 1 8 1-8 1 4 1 6 1-10 1 8 1-8 1 2 1 5 1 1 1 1 1-9 1 2 1-2"/>
<path class="o" d="M2 93l1-1 1 8M5 92l1 11M9 92l1 0 1-1 1 13M17 93l1 9M32 91l1 3M34 93l1 6M36 90l1 0 1 1M40 92l1 10M50 91l1 8M53 91l1 9M56 90l1 9M62 90l1 8M66 90l1 10M68 90l1 3M75 90l1 0 1 9M85 90l1 11M89 87l1 2 1 1 1 8M98 90l1-1 1 10M107 86l1 13M111 89l1 0 1 6M115 88l1 8M123 89l1 0 1 0M127 87l1 8M137 88l1-2M139 86l1 9M141 86l1 11M146 86l1 2 1 9M151 85l1 2M162 87l1 1M172 85l1-1M176 85l1 4M179 85l1 8M181 85l1 2 1 5"/>
<path class="b" d="M6 103l1-8M12 104l1-2M16 104l1-11M21 103l1-12M41 102l1-10M44 103l1-11M48 102l1-1M55 102l1-12M64 101l1-2M70 101l1-3M79 100l1-2M82 102l1-3M86 101l1-10M100 99l1-1M103 100l1-1M105 99l1 1 1-14M108 99l1 1 1-10M129 98l1-9M131 99l1-2M136 98l1-10M144 99l1-1 1-12M148 97l1-3M161 98l1-11M165 99l1-4M171 97l1-12"/>
<path class="g" d="M7 95l1 7M15 91l1 13M20 94l1 9M22 91l1 0 1 10M25 92l1 9M31 92l1-1M33 94l1-1M38 91l1 9M42 92l1 1 1 10M45 92l1 1 1 7M59 92l1 0 1 7M69 93l1 8M78 92l1 8M81 90l1 12M87 91l1 8M110 90l1-1M114 90l1-2M122 91l1-2M125 89l1 8M130 89l1 10M133 87l1 2 1 7M138 86l1 0M143 88l1 11M152 87l1 2 1 7M155 88l1 7M159 89l1 6M163 88l1-1 1 12M167 86l1 2 1 8M173 84l1 1 1 8M177 89l1 6M186 85l1 2 1-2"/>
<path class="k" d="M30 90l1 2M94 87l1 9"/>
</g>
<g transform="matrix(2.3365 1.0825 0 -6.3880 680.9 853.4)"><path class="y" d="M1 95l1 10 1-4 1-5 1 5 1-7 1 8 1-8 1 10 1-2 1-1 1-11 1 4 1-2 1 11 1 0 1 0 1-12 1 1 1 9 1-12 1 3 1 8 1-9 1 11 1-9 1-4 1 3 1 0 1 11 1-4 1 5 1-5 1 2 1-8 1 6 1 3 1-2 1-10 1 11 1-10 1 10 1 0 1-11 1 10 1 0 1-11 1 3 1-2 1 9 1-5 1-3 1 9 1-9 1 0 1 6 1-6 1 1 1 6 1 3 1-11 1 7 1-5 1-2 1 0 1 7 1-5 1 5 1 6 1-13 1-1 1 1 1-1 1 2 1 7 1 0 1-9 1 11 1-12 1 4 1 4 1-7 1-2 1 5 1 5 1-8 1 10 1-11 1-1 1 10 1 1 1-11 1 0 1 9 1-8 1 3 1-1 1 5 1 2 1-8 1-1 1 4 1-5 1 4 1-3 1-1 1 11 1-10 1 3 1 7 1 1 1 0 1-10 1 10 1-8 1 10 1-15 1 3 1-4 1 2 1 8 1 1 1 2 1-2 1 1 1-9 1 8 1-9 1-1 1 12 1-9 1-2 1 8 1 4 1-12 1-1 1 9 1 1 1-7 1-2 1 12 1-12 1-1 1 1 1 1 1 7 1 3 1-9 1 0 1-4 1 11 1 1 1-1 1-8 1 8 1-1 1-9 1 1 1 7 1-8 1 1 1 8 1 1 1-10 1 1 1 0 1 10 1-4 1-4 1-5 1 4 1 9 1-3 1 2 1-8 1 8 1-12 1 1 1 10 1-9 1 11 1 1 1-14 1 1 1 0 1 9 1 1 1-1"/>
<path class="g" d="M1 95l1 10M4 96l1 5M6 94l1 8M8 94l1 10M13 94l1-2 1 11M22 92l1 8M24 91l1 11M26 93l1-4M35 93l1 6M49 90l1 9M51 94l1-3 1 9M55 91l1 6M58 92l1 6M61 90l1 7M63 92l1-2M67 92l1 5M70 90l1-1M72 90l1-1 1 2M77 89l1 11M79 88l1 4 1 4M82 89l1-2M84 92l1 5M96 91l1-1M101 88l1 4 1-5M104 91l1-3M109 91l1 7M115 91l1 10M126 88l1 8M128 87l1-1M131 89l1-2M139 89l1-2M142 87l1-1M145 88l1 7M148 89l1 0 1-4M154 88l1 8M164 86l1 1M169 89l1-5M171 88l1 9M175 88l1 8M178 85l1 10M183 84l1 1"/>
<path class="b" d="M2 105l1-4M9 104l1-2M15 103l1 0 1 0 1-12M30 103l1-4M32 104l1-5M37 102l1-2M60 101l1-11M69 103l1-13M111 99l1 0 1-10M114 99l1-8M116 101l1-15M134 99l1-12M141 99l1-12M147 98l1-9M167 97l1-4M172 97l1-3M174 96l1-8M181 97l1 1 1-14"/>
<path class="o" d="M12 90l1 4M18 91l1 1 1 9M28 92l1 0 1 11M41 91l1 10M44 90l1 10M48 92l1-2M54 91l1 0M57 91l1 1M64 90l1 0 1 7M71 89l1 1M74 91l1 7M83 87l1 5M86 89l1 10M88 88l1-1M93 87l1 9M95 88l1 3M97 90l1 5M100 89l1-1M103 87l1 4M105 88l1-1 1 11M108 88l1 3M113 89l1 10M118 89l1-4 1 2 1 8M132 87l1 8M135 87l1-1M140 87l1 12M143 86l1 1 1 1M157 86l1 1 1 7M160 86l1 1 1 8M165 87l1 0 1 10M170 84l1 4M177 84l1 1M180 86l1 11M184 85l1 0 1 9"/>
<path class="k" d="M21 89l1 3M27 89l1 3M39 90l1 11M47 89l1 3M89 87l1 10M92 87l1 0M117 86l1 3M129 86l1 12M136 86l1 9M150 85l1 11"/>
</g>
<g transform="matrix(2.3365 1.0825 0 -6.3880 676.7 854.4)"><path class="y" d="M1 102l1-10 1 0 1 9 1-10 1 12 1-12 1 11 1-8 1-4 1 2 1-4 1 15 1 0 1-11 1 10 1-9 1 8 1 1 1-9 1 8 1 0 1-1 1 3 1-10 1 10 1-3 1 1 1-2 1-5 1 10 1-14 1 1 1 1 1 7 1-9 1 0 1 3 1 9 1-12 1 8 1-5 1-2 1 12 1-12 1 12 1-3 1 0 1 0 1-9 1 9 1-3 1 3 1 1 1 1 1-11 1 10 1-10 1-1 1-1 1 14 1-13 1 9 1 0 1 3 1-2 1 1 1-12 1 1 1 9 1-1 1 2 1-2 1 4 1-11 1-1 1 8 1-8 1 11 1-4 1-9 1 8 1 3 1-12 1 4 1 8 1-11 1 12 1-2 1-10 1 0 1 10 1 2 1-12 1 12 1-4 1 2 1-7 1-1 1 7 1-2 1 2 1 2 1-2 1 1 1 0 1-10 1 10 1-3 1-6 1 0 1 1 1 10 1-11 1 10 1-13 1 12 1-2 1 2 1 0 1-11 1 4 1-1 1-2 1 8 1-1 1-7 1 10 1-1 1-9 1 10 1-1 1-11 1 2 1 12 1-5 1-6 1-4 1 12 1 0 1-10 1 12 1 0 1-4 1 2 1-8 1-3 1 13 1-3 1-2 1-8 1 2 1-1 1 9 1-8 1-2 1 11 1 1 1-11 1 8 1 0 1-10 1-1 1 13 1-1 1 2 1-12 1-1 1 10 1-2 1 4 1-12 1 1 1 0 1 10 1-13 1 9 1 1 1-8 1 11 1-11 1 2 1 9 1-2 1-1 1-8 1 0 1-1"/>
<path class="o" d="M2 92l1 0 1 9M9 94l1-4 1 2 1-4 1 15M15 92l1 10M17 93l1 8M33 91l1 1 1 7M40 90l1 8M43 91l1 12M45 91l1 12M50 91l1 9M60 89l1 14M62 90l1 9M69 90l1 9M76 90l1 8M90 88l1 0 1 10M99 90l1 7M107 88l1 10M110 89l1 0 1 1M116 86l1 12M121 87l1 4M124 88l1 8M127 88l1 10M130 88l1 10M133 86l1 2 1 12M138 85l1 12M147 86l1 13M151 86l1 2M155 88l1-2M159 87l1 8M167 86l1-1M172 85l1 1 1 0M176 83l1 9M186 85l1 0 1-1"/>
<path class="k" d="M5 91l1 12M32 90l1 1M36 90l1 0 1 3M81 88l1 8M84 87l1 4M87 88l1 12M163 84l1 13"/>
<path class="b" d="M6 103l1-12M13 103l1 0 1-11M16 102l1-9M19 102l1-9M24 103l1-10M26 103l1-3M31 104l1-14M39 102l1-12M44 103l1-12M46 103l1-3M54 101l1 1 1-11M57 101l1-10M61 103l1-13M65 102l1-2M67 101l1-12M72 100l1-2M74 102l1-11M79 101l1-4M88 100l1-2M93 100l1-12M95 100l1-4M103 99l1-2M113 100l1-11M115 99l1-13M128 98l1-1M131 98l1-1M135 100l1-5M142 99l1 0 1-4M148 99l1-3M157 97l1 1 1-11M164 97l1-1M166 98l1-12M171 97l1-12M180 96l1-11M183 96l1-2"/>
<path class="g" d="M7 91l1 11M20 93l1 8M25 93l1 10M30 94l1 10M38 93l1 9M42 93l1-2M56 91l1 10M58 91l1-1 1-1M68 89l1 1M75 91l1-1M78 90l1 11M85 91l1 8M94 88l1 12M98 91l1-1M112 90l1 10M114 89l1 10M122 91l1-1 1-2M137 89l1-4M141 87l1 12M146 89l1-3M152 88l1-1 1 9M156 86l1 11M162 85l1-1M168 85l1 10M174 86l1 10M179 85l1 11M181 85l1 2 1 9"/>
</g>
<g transform="matrix(2.3365 1.0825 0 -6.3880 672.6 855.5)"><path class="y" d="M1 91l1 13 1-5 1-6 1 8 1-10 1 10 1-6 1 5 1 0 1 2 1-1 1-7 1 0 1 8 1-11 1 1 1-1 1 0 1 10 1-10 1-2 1 5 1-3 1 11 1-11 1 1 1 1 1 1 1 9 1 0 1-2 1 0 1-1 1-9 1 7 1 2 1-2 1-5 1 8 1-10 1 10 1 2 1-5 1 3 1-8 1-3 1 3 1-2 1 6 1-7 1 0 1 3 1-3 1 0 1 10 1-10 1 8 1 2 1 2 1-12 1 9 1-8 1 10 1-9 1-2 1 0 1 11 1-2 1-8 1-2 1-2 1 3 1-2 1 13 1-8 1-4 1 9 1-7 1-1 1 10 1-11 1 0 1 11 1-1 1-10 1 9 1-6 1-1 1 8 1 1 1-13 1 1 1 11 1-7 1-5 1 3 1 9 1 0 1-11 1 3 1 8 1-10 1-1 1 1 1 1 1 7 1-7 1 8 1-2 1 4 1-5 1-6 1 8 1 5 1-5 1-10 1 1 1-2 1 2 1 10 1-1 1-9 1 8 1-9 1 0 1 13 1-2 1-10 1 10 1-11 1-2 1 13 1-4 1-6 1 6 1 0 1 3 1-10 1-1 1 10 1-10 1 3 1-3 1 0 1 13 1-4 1 0 1-11 1 2 1 12 1-1 1 0 1-8 1 9 1-2 1 2 1-14 1 14 1-13 1 0 1 12 1-3 1-9 1 1 1 1 1-2 1 11 1 1 1-10 1 0 1 10 1-5 1 5 1-12 1 9 1-8 1 0 1 10 1-10 1 10 1 0 1-12 1 1 1 12 1-1 1-3 1-2"/>
<path class="o" d="M1 91l1 13M4 93l1 8M6 91l1 10M16 91l1 1M21 91l1-2M24 91l1 11M26 91l1 1 1 1M35 91l1 7M41 91l1 10M47 90l1 3M51 90l1 0 1 3M54 90l1 0 1 10M57 90l1 8M61 90l1 9M63 91l1 10M71 89l1-2M73 90l1-2M80 90l1 10M82 89l1 0M93 88l1 11M96 87l1 3M100 88l1 3M103 89l1-1 1 1 1 1M113 89l1 8M118 88l1-2M120 88l1 10M123 88l1 8M125 87l1 0 1 13M129 88l1 10M131 87l1-2 1 13M135 88l1 6M139 87l1-1 1 10M142 86l1 3M144 86l1 0 1 13M149 84l1 2 1 12M164 85l1 1 1 1 1-2M171 87l1 10M175 85l1 9M177 86l1 0 1 10M183 84l1 1"/>
<path class="b" d="M2 104l1-5M25 102l1-11M30 103l1 0 1-2M43 103l1-5M45 101l1-8M60 102l1-12M64 101l1-9M68 101l1-2M75 101l1-8M81 100l1-11M84 100l1-1M91 100l1-13M98 99l1 0M111 100l1-5M115 102l1-5M127 100l1-2 1-10M130 98l1-11M146 99l1-4M151 98l1-1 1 0M155 98l1-2M157 98l1-14M159 98l1-13M162 97l1-3M169 97l1-10M172 97l1-5M174 97l1-12M179 96l1-10M181 96l1 0M185 97l1-1"/>
<path class="g" d="M8 95l1 5M13 94l1 0 1 8M17 92l1-1 1 0 1 10M23 94l1-3M28 93l1 1 1 9M39 93l1 8M46 93l1-3M48 93l1-2 1 6M53 93l1-3M65 92l1-2 1 0 1 11M70 91l1-2M76 93l1-4 1 9M79 91l1-1M83 89l1 11M86 89l1 9M88 92l1-1 1 8M95 92l1-5M97 90l1 9M101 91l1 8M106 90l1 7M108 90l1 8M143 89l1-3M154 89l1 9M160 85l1 0M167 85l1 11M170 87l1 0M180 86l1 10M184 85l1 12"/>
<path class="k" d="M22 89l1 5M72 87l1 3M74 88l1 13M92 87l1 1M117 87l1 1M119 86l1 2M158 84l1 14M161 85l1 12"/>
</g>
<g transform="matrix(2.3365 1.0825 0 -6.3880 668.5 856.6)"><path class="y" d="M1 100l1-8 1 3 1 8 1-10 1 11 1-11 1 11 1-9 1-2 1-2 1 2 1 6 1 4 1-10 1 8 1 2 1-1 1 2 1-12 1-2 1 13 1-1 1 3 1-6 1-7 1-3 1 13 1-3 1-7 1-2 1 3 1-1 1 1 1 7 1-7 1-1 1 0 1 9 1-12 1 10 1-8 1 1 1 6 1-8 1 9 1 1 1 0 1-1 1-10 1 9 1 2 1 1 1-1 1-1 1-7 1 9 1-9 1 0 1-2 1 8 1-8 1 10 1-8 1 7 1 1 1 2 1 0 1-11 1 8 1-1 1 2 1 3 1-4 1-9 1 11 1-1 1-12 1 12 1 1 1-12 1 9 1 0 1-9 1-1 1 11 1-10 1 9 1 0 1-9 1 2 1 9 1-1 1-11 1 9 1 3 1 0 1-13 1 2 1 7 1 3 1-2 1 3 1 0 1-1 1-1 1-11 1 10 1-1 1-9 1 2 1-1 1 1 1-1 1 0 1 1 1 9 1 2 1-2 1 0 1-10 1-4 1 17 1-11 1 7 1-1 1-7 1-1 1 8 1-8 1 9 1-1 1-10 1 0 1 9 1-6 1-1 1-1 1 8 1 0 1-8 1 12 1-2 1-1 1 2 1-11 1 2 1-1 1 6 1 0 1-7 1-1 1 2 1 5 1-8 1 11 1-10 1 12 1-13 1 11 1-7 1-2 1 1 1 8 1-11 1 11 1 1 1-11 1 1 1 7 1 0 1-8 1 5 1-5 1 8 1-9 1 11 1-3 1-7 1 9 1-10 1 2 1 7 1-9 1-1 1 3 1-3 1 3"/>
<path class="o" d="M2 92l1 3M5 93l1 11M10 93l1-2M12 93l1 6M15 93l1 8M20 92l1-2M26 92l1-3 1 13M30 92l1-2 1 3 1-1M37 92l1 0M40 89l1 10M43 92l1 6M45 90l1 9M50 89l1 9M60 90l1 8M62 90l1 10M75 90l1 11M81 89l1 9M84 89l1-1 1 11M87 89l1 9M90 89l1 2M99 89l1 7M110 87l1 2 1-1M115 88l1 1M121 88l1-4 1 17M127 89l1-1 1 8M133 86l1 0M136 89l1-1 1-1 1 8M141 87l1 12M151 87l1-1 1 2M157 86l1 12M159 85l1 11M162 87l1 1M168 86l1 1 1 7M172 86l1 5M174 86l1 8M176 85l1 11M184 85l1-1M187 84l1 3"/>
<path class="g" d="M3 95l1 8M7 93l1 11M9 95l1-2M11 91l1 2M33 92l1 1 1 7M36 93l1-1M38 92l1 9M42 91l1 1M56 92l1 9M58 92l1 0 1-2M64 92l1 7M69 91l1 8M91 91l1 9M94 88l1 9M112 88l1 1 1-1 1 0M116 89l1 9M124 90l1 7M130 88l1 9M146 87l1 2 1-1 1 6M153 88l1 5M161 89l1-2M163 88l1 8M179 86l1 9M181 85l1 2 1 7M186 87l1-3"/>
<path class="b" d="M4 103l1-10M6 104l1-11M8 104l1-9M14 103l1-10M17 103l1-1M19 104l1-12M22 103l1-1M24 105l1-6M28 102l1-3M53 101l1-1M57 101l1-9M67 102l1 0 1-11M73 103l1-4M76 101l1-1 1-12M79 100l1 1 1-12M92 100l1-1M96 100l1 0 1-13M101 99l1-2M103 100l1 0 1-1 1-1M118 100l1-2 1 0 1-10M123 101l1-11M142 99l1-2M145 98l1-11M158 98l1-13M166 96l1 1 1-11"/>
<path class="k" d="M21 90l1 13M78 88l1 12M98 87l1 2M107 87l1 10M134 86l1 9M155 85l1 11M165 85l1 11M185 84l1 3"/>
</g>
<g transform="matrix(2.3365 1.0825 0 -6.3880 664.3 857.7)"><path class="y" d="M1 93l1 10 1-4 1-5 1 7 1-10 1 13 1-10 1 6 1 2 1-1 1 3 1-12 1 1 1 8 1-10 1 2 1-2 1-1 1 10 1 3 1-12 1-1 1 2 1-1 1 1 1-2 1 1 1-1 1 12 1-1 1-2 1 2 1 0 1-11 1 11 1-1 1-8 1-1 1 9 1-10 1 11 1 0 1-2 1 0 1-7 1-2 1 2 1 2 1 5 1-7 1-1 1-3 1 13 1 2 1-4 1-8 1 9 1 1 1-1 1-8 1 9 1-12 1 9 1-8 1 2 1-1 1 0 1 9 1-9 1 1 1-1 1 0 1-3 1 1 1-2 1 4 1 1 1-5 1 3 1 12 1-11 1 0 1 10 1-2 1 0 1 1 1-13 1 1 1 11 1 0 1-11 1 2 1 9 1-12 1 2 1 1 1 8 1 0 1-10 1 4 1 6 1-10 1-1 1 0 1 3 1 7 1-9 1-1 1 2 1 7 1 0 1 0 1 2 1-9 1 9 1-9 1 0 1-2 1 0 1 11 1-13 1 1 1 14 1-13 1 2 1 6 1 1 1-9 1 3 1-4 1 0 1 10 1 2 1-10 1 7 1 2 1-1 1-11 1 9 1 3 1-1 1-8 1 0 1 0 1 9 1 1 1-4 1-9 1 3 1 10 1-3 1 2 1-11 1 12 1-11 1 10 1-11 1 8 1-9 1 9 1-9 1 12 1-8 1 5 1-7 1 0 1 8 1 1 1 1 1-9 1 8 1 0 1-2 1-9 1 9 1-7 1-2 1 2 1-2 1 7 1-6 1 9 1 2 1 0 1-2 1 0 1-3"/>
<path class="g" d="M1 93l1 10M8 94l1 6M13 92l1 1M17 93l1-2M26 92l1-2M39 91l1 9M49 94l1 5M57 91l1 9M61 92l1 9M66 92l1-1M68 91l1 9M70 91l1 1 1-1 1 0 1-3M78 92l1-5M80 90l1 12M83 91l1 10M93 90l1 9M100 88l1 4 1 6M103 88l1-1M106 90l1 7M118 89l1-2M120 87l1 11M125 87l1 2M130 90l1-4M132 86l1 10M154 86l1 12M156 87l1 10M160 85l1 9M164 89l1 5M166 87l1 0M171 88l1 8M177 87l1-2 1 2"/>
<path class="b" d="M2 103l1-4M7 104l1-10M12 104l1-12M21 103l1-12M30 102l1-1M43 101l1-2M55 103l1-4M59 101l1-1M62 101l1-12M81 102l1-11M84 101l1-2M87 100l1-13M124 100l1-13M134 98l1-10M147 98l1-4M151 98l1-3M153 97l1-11M155 98l1-11M163 97l1-8M170 97l1-9M173 96l1-2M184 97l1 0 1-2"/>
<path class="o" d="M4 94l1 7M14 93l1 8M16 91l1 2M18 91l1-1M22 91l1-1 1 2 1-1 1 1M28 91l1-1 1 12M38 92l1-1M41 90l1 11M46 92l1-2 1 2 1 2M51 92l1-1 1-3M63 89l1 9M65 90l1 2M67 91l1 0M75 89l1-2 1 4 1 1M82 91l1 0M88 87l1 1M92 88l1 2M95 87l1 2 1 1 1 8M104 87l1 0M108 88l1-1 1 2 1 7M115 89l1 9M117 89l1 0M119 87l1 0M126 89l1 6M129 87l1 3M131 86l1 0M135 88l1 7M143 88l1 0 1 0 1 9M150 88l1 10M158 86l1 8M162 85l1 12M167 87l1 8M175 85l1 9M179 87l1-2 1 7M182 86l1 9"/>
<path class="k" d="M6 91l1 13M19 90l1 10M27 90l1 1M35 90l1 11M53 88l1 13M74 88l1 1M79 87l1 3M89 88l1 11M105 87l1 3M122 85l1 1 1 14M139 85l1 9M149 85l1 3"/>
</g>
<g transform="matrix(2.3365 1.0825 0 -6.3880 660.2 858.7)"><path class="y" d="M1 103l1-10 1-1 1 11 1-13 1 13 1-8 1 7 1-11 1 3 1-2 1 9 1-1 1 3 1-12 1 8 1 1 1 1 1-9 1 1 1-1 1 9 1 1 1 0 1-1 1 0 1 1 1 1 1 0 1-11 1-2 1 13 1-11 1 2 1 6 1-7 1-3 1 13 1-4 1-7 1 10 1-12 1-1 1 3 1 9 1-1 1 1 1-1 1-2 1-6 1 8 1 2 1-2 1-11 1 2 1 1 1 8 1-8 1-2 1-1 1 13 1-11 1 10 1-11 1 12 1-3 1 1 1-10 1 1 1 7 1 2 1 0 1-1 1-1 1-1 1 5 1-1 1-2 1-1 1 1 1-14 1 15 1-1 1-10 1 1 1 6 1-7 1 8 1-7 1 4 1-6 1 11 1 1 1 1 1-4 1 0 1 1 1-9 1 2 1 6 1-10 1 1 1 9 1 3 1-3 1 0 1-11 1 11 1 2 1-2 1-8 1 1 1-1 1 0 1 9 1-11 1 9 1-1 1 2 1 2 1-11 1 9 1-2 1-9 1 10 1 1 1-9 1 3 1 5 1-10 1 8 1 1 1-9 1 4 1 7 1-10 1 1 1-2 1 10 1-11 1 0 1 1 1 9 1 3 1-3 1-8 1 2 1 6 1 1 1 0 1-9 1 0 1 0 1 9 1-11 1 11 1 1 1-1 1-1 1 2 1-10 1 10 1-12 1 11 1-9 1 7 1 2 1-9 1 0 1-2 1 9 1 1 1-12 1 1 1 8 1-6 1 9 1-1 1 2 1 0 1-9 1 9 1-12 1 2 1-2 1 2 1-1 1 2"/>
<path class="o" d="M2 93l1-1 1 11M11 92l1 9M19 92l1 1 1-1 1 9M30 92l1-2M37 90l1 13M40 92l1 10M42 90l1-1 1 3M54 89l1 2 1 1M58 92l1-2 1-1 1 13M62 91l1 10M69 91l1 7M84 89l1 1 1 6M87 89l1 8M89 90l1 4M91 88l1 11M101 87l1 1 1 9M111 89l1 1M113 89l1 0 1 9M116 87l1 9M127 88l1 3M133 86l1 4M136 87l1 1 1-2 1 10M141 85l1 1 1 9M146 87l1 2M151 87l1 0 1 0M155 85l1 11M161 87l1 10M165 87l1 7M169 87l1-2 1 9M173 83l1 1 1 8M176 86l1 9M183 84l1 2 1-2 1 2"/>
<path class="b" d="M4 103l1-13M6 103l1-8M14 103l1-12M27 102l1 1 1 0 1-11M32 103l1-11M38 103l1-4M41 102l1-12M52 102l1-2M61 102l1-11M63 101l1-11M65 102l1-3M76 102l1-1 1-2M82 100l1-1M93 100l1 1 1-4M104 100l1-3M115 98l1-11M120 99l1-11M144 98l1-3M157 97l1-1M160 97l1-10M162 97l1-12M164 96l1-9M179 96l1 0 1-9M182 96l1-12"/>
<path class="k" d="M5 90l1 13M9 91l1 3M15 91l1 8M31 90l1 13M81 85l1 15M107 86l1 11M124 86l1 10M130 86l1 8M140 85l1 0"/>
<path class="g" d="M7 95l1 7M10 94l1-2M33 92l1 2 1 6M36 93l1-3M44 92l1 9M50 92l1 8M56 92l1 8M64 90l1 12M68 90l1 1M90 94l1-6M98 89l1 2 1 6M112 90l1-1M121 88l1 9M128 91l1 5M134 90l1 7M147 89l1 6M153 87l1 9M163 85l1 11M168 87l1 0M181 87l1 9M186 86l1-1 1 2"/>
</g>
<g transform="matrix(2.3365 1.0825 0 -6.3880 656.0 859.8)"><path class="y" d="M1 96l1 5 1 3 1-10 1 7 1-11 1 14 1-12 1 11 1-1 1-4 1-5 1-1 1 2 1 7 1-10 1 1 1 2 1 8 1 0 1 0 1-8 1-4 1 2 1-3 1 1 1 2 1-2 1 3 1 8 1-2 1-4 1-1 1 6 1-8 1 10 1-4 1-7 1-2 1 10 1-7 1 8 1-1 1 2 1-11 1-2 1 2 1 1 1 2 1 8 1-12 1 0 1 0 1 13 1-4 1 1 1-9 1 7 1-5 1 9 1-10 1 7 1-8 1 8 1-7 1-2 1-1 1 12 1-2 1-9 1 0 1-1 1 1 1 2 1 5 1-6 1 3 1-5 1 3 1 8 1 0 1-9 1 2 1 6 1-2 1 2 1-2 1-7 1 6 1 5 1-3 1-7 1 2 1 3 1-6 1 0 1 0 1 10 1 0 1-10 1 11 1-2 1-8 1 0 1 2 1-3 1 9 1-7 1-2 1 0 1 8 1 2 1-1 1-3 1-6 1-1 1-2 1 1 1-2 1 4 1 11 1-13 1 2 1 6 1-6 1-3 1 10 1 1 1-11 1 13 1-11 1-2 1 12 1-2 1-9 1 7 1 4 1-9 1-2 1 8 1 4 1-2 1-11 1 3 1-2 1 10 1-1 1-12 1 4 1 1 1 7 1 0 1 0 1-7 1 8 1-8 1-3 1 2 1-1 1 2 1 8 1-11 1 13 1-14 1-1 1 2 1 2 1 5 1 3 1 1 1-13 1 1 1 10 1-2 1-5 1 6 1-9 1-1 1 4 1-5 1 10 1-5 1 6 1 2 1 0 1-3 1 2 1 1"/>
<path class="g" d="M1 96l1 5M4 94l1 7M8 92l1 11M14 94l1 7M16 91l1 1 1 2 1 8M22 94l1-4M27 92l1-2M32 95l1-1 1 6M35 92l1 10M38 91l1-2M49 93l1 8M57 90l1 7M59 92l1 9M73 89l1 2M77 93l1-5M79 91l1 8M83 92l1 6M93 92l1 3M97 89l1 10M100 89l1 11M103 90l1 0 1 2 1-3 1 9M108 91l1-2 1 0M115 89l1-1M123 89l1 6M125 89l1-3M135 87l1 7M138 89l1-2 1 8M144 89l1-2M149 88l1 1 1 7M154 89l1 8M156 89l1-3M158 88l1-1M160 89l1 8M167 88l1 5M175 88l1 6M177 85l1-1M179 88l1-5M182 88l1 6"/>
<path class="b" d="M3 104l1-10M7 104l1-12M9 103l1-1M36 102l1-4M54 102l1-4M60 101l1-10M90 100l1-3M99 99l1-10M101 100l1-2M112 99l1-1M121 100l1-13M130 99l1-11M137 98l1-9M141 99l1-2M155 97l1-8M161 97l1-11M163 99l1-14M170 97l1-13M184 96l1 0 1-3"/>
<path class="k" d="M6 90l1 14M23 90l1 2M25 89l1 1M28 90l1 3M39 89l1 10M53 89l1 13M72 88l1 1M126 86l1 10M129 86l1 13M148 84l1 4M165 84l1 2"/>
<path class="o" d="M12 93l1-1 1 2M24 92l1-3M26 90l1 2M29 93l1 8M41 92l1 8M45 90l1-2 1 2 1 1 1 2M51 89l1 0 1 0M61 91l1 7M63 90l1 8M65 91l1-2 1-1 1 12M70 89l1 0 1-1M74 91l1 5M76 90l1 3M78 88l1 3M82 90l1 2M88 89l1 6M92 90l1 2M95 89l1 0 1 0M110 89l1 8M116 88l1-2 1 1 1-2 1 4 1 11M122 87l1 2M131 88l1-2 1 12M143 86l1 3M145 87l1 10M157 86l1 2M159 87l1 2M162 86l1 13M164 85l1-1M166 86l1 2M171 84l1 1 1 10M178 84l1 4M180 83l1 10"/>
</g>
<g transform="matrix(2.3365 1.0825 0 -6.3880 651.9 860.9)"><path class="y" d="M1 100l1-8 1 2 1-1 1 0 1 9 1-8 1 8 1-1 1-10 1 0 1 12 1-3 1 2 1-9 1-1 1 11 1 0 1-9 1 7 1-8 1 8 1-11 1 11 1-9 1 9 1 0 1-1 1-10 1 2 1-4 1 14 1-2 1-10 1 12 1-9 1-3 1 9 1 4 1-12 1 8 1-8 1 2 1-1 1 10 1-2 1-3 1 5 1-13 1 2 1 9 1-1 1 0 1-10 1 2 1-2 1 9 1-7 1 10 1-11 1 8 1-9 1 12 1-9 1-1 1 8 1-11 1 1 1 1 1 10 1-2 1 1 1-11 1 11 1-10 1 12 1 1 1-3 1-2 1-8 1 2 1 10 1-2 1-10 1 1 1 1 1-2 1 7 1 5 1-12 1 1 1 0 1 8 1-9 1 7 1 1 1 2 1-1 1-10 1 12 1-10 1-2 1 11 1 0 1 1 1-2 1-10 1 9 1 3 1-2 1-13 1 3 1 2 1-3 1 10 1 0 1 1 1 1 1-1 1 0 1-11 1 12 1-1 1-13 1 14 1-3 1-7 1-2 1 9 1-7 1 8 1-4 1-6 1 0 1 10 1-11 1 1 1 8 1 1 1-7 1-2 1-1 1 10 1-3 1 5 1-13 1 1 1 12 1-2 1 2 1-1 1-11 1 12 1 0 1-10 1 9 1-2 1 2 1 1 1-2 1-11 1 11 1-9 1 8 1 1 1-2 1-7 1-3 1 4 1-3 1 7 1 6 1-11 1-3 1 10 1-9 1 13 1-1 1-1 1-1 1-12 1 16 1-11 1-5 1 4 1-2 1 0 1-1"/>
<path class="o" d="M2 92l1 2 1-1 1 0M11 91l1 12M16 92l1 11M21 93l1 8M25 92l1 9M31 88l1 14M40 91l1 8M42 91l1 2M44 92l1 10M49 89l1 2 1 9M54 89l1 2M56 89l1 9M58 91l1 10M62 89l1 12M65 91l1 8M68 89l1 1 1 10M73 88l1 11M75 89l1 12M84 89l1 1 1 1M87 89l1 7M90 89l1 1 1 0M94 89l1 7M101 90l1-2M107 88l1 9M111 85l1 3 1 2M121 87l1 12M124 85l1 14M128 87l1 9M141 87l1-1M146 85l1 1 1 12M168 84l1 4M170 85l1 7M173 87l1-3M176 85l1 13M181 83l1 16M186 85l1 0"/>
<path class="g" d="M5 93l1 9M7 94l1 8M15 93l1-1M19 94l1 7M29 90l1 2 1-4M36 93l1-3M43 93l1-1M55 91l1-2M60 90l1 8M64 92l1-1M80 89l1 2 1 10M86 91l1-2M92 90l1 8M99 88l1 12M102 88l1 11M113 90l1-3 1 10M127 89l1-2M130 89l1 8M133 87l1 0 1 10M137 87l1 8M140 89l1-2M142 86l1 10M152 86l1 12M155 88l1 9M163 87l1 8M167 87l1-3M169 88l1-3M183 88l1-5M185 87l1-2M187 85l1-1"/>
<path class="k" d="M10 91l1 0M23 90l1 11M34 90l1 12M37 90l1 9M67 88l1 1M136 86l1 1M161 85l1 11M174 84l1 10M184 83l1 4"/>
<path class="b" d="M12 103l1-3M14 102l1-9M17 103l1 0 1-9M32 102l1-2M35 102l1-9M39 103l1-12M45 102l1-2M48 102l1-13M59 101l1-11M63 101l1-9M70 100l1-2M76 101l1 1 1-3M82 101l1-2M89 101l1-12M97 99l1-1M100 100l1-10M103 99l1 0M105 100l1-2M109 100l1-2M118 99l1-1M122 99l1-1M125 99l1-3M145 98l1-13M148 98l1-2M150 98l1-1M153 98l1 0 1-10M156 97l1-2M158 97l1 1 1-2M172 98l1-11M177 98l1-1 1-1M182 99l1-11"/>
</g>
<g transform="matrix(2.3365 1.0825 0 -6.3880 647.8 862.0)"><path class="y" d="M1 95l1 6 1-5 1 8 1-1 1-10 1 7 1-5 1-4 1 10 1 0 1-10 1 0 1-1 1 10 1 3 1-12 1-1 1 12 1-11 1 3 1-4 1 11 1-10 1 7 1-6 1 0 1-1 1 10 1-2 1 1 1-7 1-2 1 11 1-8 1 6 1 2 1-12 1 1 1 10 1-2 1-1 1 3 1-9 1 1 1-5 1 2 1 1 1-3 1 14 1-9 1-4 1 3 1 11 1-2 1-1 1-11 1 11 1-11 1 10 1-10 1 9 1-9 1 8 1 4 1-11 1 11 1-3 1 2 1-8 1 7 1-10 1 11 1-10 1 9 1-11 1 2 1 10 1-11 1 10 1 1 1-9 1 0 1 8 1 2 1-1 1-2 1 3 1-13 1 11 1-3 1 4 1-13 1 10 1-11 1 4 1 0 1 1 1 8 1-9 1 10 1-2 1-8 1 7 1-7 1 0 1 8 1-8 1 0 1-1 1 8 1-2 1-7 1 12 1-11 1-1 1 1 1-1 1-2 1 2 1 9 1-9 1 1 1-2 1 10 1-7 1 9 1-4 1-9 1 12 1-10 1 0 1 8 1 0 1-6 1-3 1 10 1-7 1-4 1 10 1-2 1 2 1-9 1 1 1 0 1 6 1 5 1-12 1-1 1 9 1-8 1 0 1 1 1 0 1-2 1 1 1-3 1 2 1 2 1-4 1 11 1-8 1 9 1-11 1 1 1 1 1 0 1 10 1 2 1-6 1-6 1 0 1 10 1-2 1-11 1 12 1-11 1 2 1-3 1-1 1 14 1-9 1 9 1-1 1 0 1-2 1 1 1 2"/>
<path class="g" d="M1 95l1 6M3 96l1 8M6 93l1 7M8 95l1-4M12 91l1 0 1-1M20 91l1 3 1-4M24 91l1 7M26 92l1 0M32 93l1-2M35 94l1 6M39 91l1 10M45 93l1-5M51 93l1-4M53 92l1 11M70 92l1 7M72 89l1 11M74 90l1 9M82 91l1 0 1 8M97 90l1 1 1 8M100 90l1 10M103 90l1 7M105 90l1 0 1 8M108 90l1 0 1-1M113 88l1 12M123 89l1-2M126 90l1 9M135 90l1-3M138 90l1-4M143 87l1 1 1 0M154 88l1-2M158 86l1 2 1-4M164 85l1 1M171 87l1 0 1 10M178 87l1-3 1-1M182 88l1 9"/>
<path class="b" d="M4 104l1-1 1-10M16 103l1-12M34 102l1-8M37 102l1-12M50 102l1-9M54 103l1-2 1-1M65 101l1-11M67 101l1-3M69 100l1-8M78 100l1-11M85 101l1-1 1-2M88 101l1-13M92 100l1-13M101 100l1-2M114 100l1-11M127 99l1-4M130 98l1-10M147 99l1-12M168 97l1 2 1-6M173 97l1-2M176 96l1-11M181 97l1-9M183 97l1-1 1 0 1-2"/>
<path class="k" d="M9 91l1 10M22 90l1 11M38 90l1 1M49 88l1 14M57 89l1 11M59 89l1 10M76 88l1 2M129 86l1 12M157 84l1 2M160 84l1 11M180 83l1 14"/>
<path class="o" d="M14 90l1 10M17 91l1-1 1 12M27 92l1-1 1 10M33 91l1 11M44 92l1 1M46 88l1 2 1 1 1-3M52 89l1 3M61 89l1 9M63 89l1 8M66 90l1 11M77 90l1 10M79 89l1 10M89 88l1 11M93 87l1 10M95 86l1 4 1 0M110 89l1 8M115 89l1-1 1 1 1-1 1-2 1 2 1 9M122 88l1 1M124 87l1 10M131 88l1 0 1 8M136 87l1 10M139 86l1 10M145 88l1 6M148 87l1-1 1 9M151 87l1 0 1 1 1 0M155 86l1 1 1-3M162 87l1 9M165 86l1 1 1 0 1 10M175 84l1 12M177 85l1 2"/>
</g>
<g transform="matrix(2.3365 1.0825 0 -6.3880 643.6 863.1)"><path class="y" d="M1 102l1-11 1 4 1-4 1 0 1 9 1-8 1 8 1 3 1-7 1 8 1-3 1 3 1-11 1-1 1 0 1 10 1 0 1-9 1 11 1-1 1-2 1-9 1 0 1 0 1 8 1-8 1 10 1-9 1-4 1 5 1 6 1 2 1-1 1 0 1-8 1 0 1 10 1-1 1-12 1 4 1-5 1 4 1-1 1 8 1 2 1-2 1 0 1 2 1-9 1 9 1-1 1-3 1-6 1 7 1-8 1 1 1-4 1 12 1-8 1 8 1-7 1 5 1-8 1 0 1 6 1-5 1 0 1 0 1 7 1-9 1 12 1-12 1 10 1-9 1 10 1-2 1-9 1 11 1-10 1-1 1 11 1-2 1-7 1-4 1 1 1 0 1 1 1 1 1-3 1 13 1-11 1 10 1-9 1 5 1 4 1 1 1-11 1 1 1 7 1-7 1 0 1 8 1-11 1 10 1 1 1-12 1 10 1 3 1 0 1-8 1-2 1 11 1-10 1 7 1 3 1-6 1 5 1-2 1-1 1-7 1 8 1 2 1-11 1-2 1 14 1-11 1-2 1 11 1-11 1 7 1 3 1-10 1-2 1 11 1 2 1-10 1 9 1 0 1-12 1 1 1 1 1 8 1 4 1-2 1-11 1 0 1 8 1 4 1-2 1 1 1 1 1 1 1-1 1-3 1 2 1 1 1-4 1 2 1-1 1-8 1 8 1-8 1 0 1 1 1 9 1-3 1-9 1 0 1 1 1 9 1-8 1 8 1-10 1 2 1 0 1 6 1 3 1-1 1-7 1 1 1 6 1-2 1-5 1-2 1 1 1-3 1-2"/>
<path class="o" d="M2 91l1 4M5 91l1 9M7 92l1 8M14 93l1-1M19 93l1 11M23 92l1 0 1 0 1 8M27 92l1 10M42 89l1 4M56 91l1 1M64 90l1 0 1 6M71 89l1 12M73 89l1 10M75 90l1 10M78 89l1 11M80 90l1-1 1 11M85 87l1 1 1 0 1 1M89 90l1-3M94 90l1 5M99 90l1 7M102 90l1 8M107 86l1 10M112 89l1 11M127 89l1-2 1 11M130 87l1 7M133 87l1-2 1 11M141 86l1 1M164 87l1 1M169 85l1 1M174 85l1 2M176 87l1 6M185 86l1 1M187 84l1-2"/>
<path class="g" d="M3 95l1-4 1 0M10 96l1 8M15 92l1 0 1 10M29 93l1-4M31 94l1 6M36 93l1 0 1 10M41 94l1-5M43 93l1-1 1 8M50 93l1 9M54 92l1 7M57 92l1-4M60 92l1 8M62 93l1 5M67 91l1 0 1 0 1 7M84 91l1-4M88 89l1 1M92 89l1 10M98 89l1 1M101 90l1 0M111 91l1-2M114 90l1 7M121 89l1 8M124 88l1-2 1 14M137 88l1 9M142 87l1 8M146 86l1 0 1 8M161 87l1 8M163 87l1 0M165 88l1 9M168 85l1 0M170 86l1 9M172 87l1 8M175 87l1 0M180 88l1 1 1 6M184 88l1-2M186 87l1-3"/>
<path class="b" d="M11 104l1-3M13 104l1-11M20 104l1-1 1-2M28 102l1-9M38 103l1-1 1-12M46 102l1-2M49 102l1-9M51 102l1-1 1-3M72 101l1-12M76 100l1-2M82 100l1-2M91 100l1-11M93 99l1-9M97 100l1-11M109 99l1 0 1-8M113 100l1-10M116 100l1-6M118 99l1-2M123 99l1-11M126 100l1-11M129 98l1-11M136 98l1-10M144 99l1-2M149 98l1-2M152 98l1 1 1-1 1-3M157 98l1-4M166 97l1-3M178 96l1-1"/>
<path class="k" d="M30 89l1 5M40 90l1 4M58 88l1 12M90 87l1 13M104 87l1 10M140 85l1 1"/>
</g>
<g transform="matrix(2.3365 1.0825 0 -6.3880 639.5 864.1)"><path class="y" d="M1 94l1 10 1-5 1 2 1-11 1 5 1 7 1-12 1 2 1 8 1-6 1-2 1 0 1 9 1 1 1-2 1 1 1-8 1 10 1-14 1 6 1 4 1 1 1 2 1-1 1-12 1 14 1-3 1 1 1 0 1 3 1-13 1-2 1 2 1-1 1 10 1 2 1-12 1 4 1 5 1 4 1-4 1-2 1 2 1-8 1-1 1 2 1-2 1 2 1 7 1-8 1 1 1-2 1 11 1-10 1 9 1 3 1 0 1-14 1 11 1-8 1 5 1-10 1 13 1 1 1-11 1 9 1-2 1-8 1 9 1 0 1-10 1 10 1-9 1 12 1-9 1-1 1 8 1-9 1 7 1 0 1-8 1-1 1 12 1 0 1 0 1-11 1 11 1-2 1 0 1-9 1 7 1-7 1 11 1-11 1-3 1 4 1 7 1 2 1-2 1 0 1 2 1-10 1 12 1-2 1-8 1 5 1-8 1 2 1 0 1 7 1-10 1 4 1 6 1-8 1 2 1-2 1-1 1-1 1-1 1 13 1-12 1 2 1 6 1 1 1-9 1-1 1 9 1-7 1 8 1 2 1-10 1 9 1 2 1-9 1-2 1 10 1-12 1 1 1 13 1-5 1 3 1-10 1-2 1 2 1 9 1 0 1-12 1 4 1-5 1 2 1 0 1 9 1-8 1 10 1-14 1 2 1 3 1-3 1 2 1 8 1-7 1 6 1 2 1 1 1-9 1 9 1-1 1-9 1 10 1-10 1 6 1-7 1 7 1 1 1 0 1-1 1-7 1-2 1 14 1-5 1-6 1-2 1 8 1 4 1-13 1 10 1 1"/>
<path class="g" d="M1 94l1 10M6 95l1 7M11 94l1-2M13 92l1 9M21 95l1 4M32 91l1-2M39 94l1 5M45 91l1-1M47 92l1-2M53 90l1 11M55 91l1 9M69 89l1 9M74 89l1 12M76 92l1-1 1 8M106 91l1 5M108 88l1 2 1 0 1 7M112 87l1 4 1 6M116 91l1-2M123 89l1 6M126 87l1-1M129 88l1 8M135 90l1-2M139 87l1 13M144 86l1 2M149 89l1-5M151 86l1 0M162 88l1 6M166 88l1 9M173 86l1 7M179 84l1 14M182 87l1-2 1 8M186 84l1 10"/>
<path class="b" d="M2 104l1-5M19 103l1-14M27 103l1-3M31 104l1-13M37 102l1-12M41 103l1-4M57 103l1 0 1-14M65 101l1-11M75 101l1-9M84 100l1 0 1 0 1-11M88 100l1-2M94 100l1-11M99 99l1-2M104 101l1-2 1-8M121 99l1-12M134 99l1-9M137 98l1-12M140 100l1-5M142 98l1-10M155 97l1-14M165 97l1-9M167 97l1-1M170 97l1-10M180 98l1-5M185 97l1-13"/>
<path class="o" d="M5 90l1 5M8 90l1 2 1 8M12 92l1 0M18 93l1 10M34 91l1-1 1 10M38 90l1 4M46 90l1 2M48 90l1 2 1 7M51 91l1 1 1-2M59 89l1 11M61 92l1 5M63 87l1 13M66 90l1 9M79 90l1 7M82 89l1-1 1 12M87 89l1 11M91 89l1 7M93 89l1 11M95 89l1-3M97 90l1 7M103 89l1 12M115 89l1 2M117 89l1-1 1-1 1-1 1 13M122 87l1 2M127 86l1 9M132 88l1 9M136 88l1 10M138 86l1 1M143 88l1-2M145 88l1 9M148 85l1 4M152 86l1 9M154 87l1 10M157 85l1 3 1-3 1 2 1 8M169 87l1 10M171 87l1 6M178 86l1-2"/>
<path class="k" d="M20 89l1 6M26 89l1 14M33 89l1 2M72 88l1 10M96 86l1 4M150 84l1 2M156 83l1 2"/>
</g>
<g transform="matrix(2.3365 1.0825 0 -6.3880 635.3 865.2)"><path class="y" d="M1 102l1-11 1 9 1-5 1 8 1-3 1-7 1 7 1 2 1-10 1 13 1-3 1 0 1-5 1-7 1 2 1 1 1 7 1-7 1 7 1 2 1-12 1 1 1 1 1 1 1 11 1-14 1 3 1-3 1 3 1 0 1 10 1-2 1-1 1-1 1-8 1 2 1 8 1-1 1-3 1-7 1 3 1 1 1-1 1 6 1 4 1-2 1 0 1 2 1-6 1 5 1-1 1-2 1-7 1 9 1-9 1-1 1 10 1-10 1 0 1 8 1-7 1 9 1-11 1-1 1 10 1-8 1-2 1 11 1-9 1 0 1 8 1-12 1 12 1-9 1 9 1 0 1-8 1 10 1-2 1-7 1 8 1-1 1-9 1 1 1 1 1-3 1-1 1 12 1-10 1 6 1-8 1 10 1-8 1 9 1-9 1 8 1-9 1 1 1-2 1 2 1 0 1 9 1-13 1 3 1 8 1-9 1 10 1-2 1 0 1-6 1 8 1-2 1-7 1 9 1 1 1-14 1 15 1-3 1 0 1-7 1 6 1 4 1-10 1-1 1 6 1 2 1-10 1 9 1-8 1 0 1 9 1-10 1 2 1 6 1 1 1 3 1-3 1 4 1-15 1 3 1-1 1 9 1 3 1-11 1-2 1 0 1 7 1 3 1-3 1 4 1 1 1-13 1 11 1-11 1 11 1 2 1-2 1 1 1 1 1-14 1 13 1-8 1-2 1 0 1 7 1-7 1-1 1 12 1-13 1 9 1-9 1 9 1-8 1-1 1 3 1-4 1 12 1-2 1-9 1 1 1 6 1 3 1-10 1-1 1 9 1-9 1 4"/>
<path class="o" d="M2 91l1 9M7 93l1 7M10 92l1 13M16 92l1 1M22 90l1 1 1 1 1 1 1 11M27 90l1 3 1-3 1 3M31 93l1 10M36 91l1 2M59 91l1 0 1 8M64 90l1-1M67 91l1-2 1 11M70 91l1 0M75 90l1 9M84 90l1 1M92 88l1 10M94 90l1 9M99 90l1-2 1 2M107 88l1 10M125 89l1 6M128 87l1 9M130 88l1 0 1 9M133 87l1 2M142 87l1 9M146 86l1 0 1 7M161 84l1 13M165 87l1 7M167 87l1-1 1 12M170 85l1 9M172 85l1 9M175 85l1 3M177 84l1 12M180 85l1 1 1 6"/>
<path class="g" d="M4 95l1 8M14 97l1-7M17 93l1 7M19 93l1 7M30 93l1 0M37 93l1 8M42 93l1 1 1-1 1 6M54 92l1 9M56 92l1-1 1 10M62 92l1 9M65 89l1 10M71 91l1 8M78 91l1 10M81 92l1 8M85 91l1 1 1-3 1-1 1 12M90 90l1 6M96 90l1 8M98 89l1 1M101 90l1 0 1 9M105 89l1 8M111 90l1 8M114 89l1 9M121 90l1 6M124 90l1-1M134 89l1 6M141 88l1-1M145 88l1-2M163 89l1-2 1 0M174 86l1-1M176 88l1-4M184 85l1-1"/>
<path class="b" d="M5 103l1-3M11 105l1-3M26 104l1-14M32 103l1-2M46 103l1-2M48 101l1 2 1-6M51 102l1-1 1-2M55 101l1-9M63 101l1-11M79 101l1-2M82 100l1-1M89 100l1-10M103 99l1-13M115 98l1 1 1-14M118 100l1-3M123 100l1-10M137 99l1-3M139 100l1-15M144 99l1-11M151 97l1 1 1-13M157 98l1-2M160 98l1-14M162 97l1-8M169 98l1-13M178 96l1-2"/>
<path class="k" d="M15 90l1 2M41 90l1 3M73 87l1 12M104 86l1 3M117 85l1 15M140 85l1 3M153 85l1 11M155 85l1 11M185 84l1 9M187 84l1 4"/>
</g>
<g transform="matrix(2.3365 1.0825 0 -6.3880 631.2 866.3)"><path class="y" d="M1 92l1 10 1-10 1 9 1 2 1-12 1 13 1-12 1 0 1 10 1-7 1-3 1 1 1 7 1 3 1-2 1 0 1-11 1 11 1-8 1-1 1 10 1 2 1 0 1-3 1-11 1 11 1 0 1 2 1-8 1 8 1-12 1 2 1-1 1 1 1 8 1 2 1-13 1 2 1 1 1 9 1-2 1 1 1-10 1 3 1 0 1-6 1 2 1-3 1 3 1 0 1-1 1 1 1 12 1-10 1 7 1 2 1-7 1 6 1 0 1-9 1 8 1-8 1 8 1 2 1-3 1-2 1 3 1-10 1 11 1 1 1-11 1 11 1-14 1 11 1-10 1 2 1 9 1-11 1 11 1-1 1 3 1-10 1 7 1-1 1 4 1-3 1 2 1-9 1 8 1-10 1 10 1-10 1 10 1-11 1-1 1 1 1 2 1 8 1-1 1 1 1-2 1-6 1 9 1-3 1-6 1 9 1-10 1-2 1 1 1 8 1-9 1 1 1 0 1 0 1-3 1 12 1-11 1 1 1 1 1 8 1-9 1 0 1 10 1 4 1-14 1 2 1 9 1-10 1 6 1-5 1-2 1 8 1 1 1-10 1 2 1 8 1-6 1-2 1 9 1-9 1-4 1 1 1 2 1 12 1 2 1-15 1 0 1 1 1-1 1-3 1 2 1 12 1-8 1 9 1-10 1-2 1 0 1-2 1 2 1 10 1 0 1-10 1 8 1-5 1-5 1 10 1-8 1 2 1 4 1-4 1 8 1-13 1 11 1 2 1-3 1 0 1-9 1 1 1 11 1 0 1 0 1-12 1 10 1-2 1-9 1 11 1 0"/>
<path class="o" d="M1 92l1 10M3 92l1 9M8 92l1 0 1 10M21 92l1 10M26 90l1 11M32 91l1 2M34 92l1 1M38 90l1 2 1 1M44 91l1 3M48 90l1-3M50 90l1 0 1-1 1 1M63 91l1 8M69 89l1 11M72 90l1 11M74 87l1 11M77 90l1 9M79 88l1 11M91 89l1 10M93 89l1 10M95 88l1-1 1 1M98 90l1 8M108 89l1-2M110 88l1 8M113 88l1 0 1 0 1-3 1 12M122 87l1 0 1 10M126 87l1 2M129 88l1 6M135 86l1 2M139 88l1 9M141 88l1-4 1 1M144 87l1 12M148 86l1 1 1-1M152 85l1 12M157 86l1 0M160 86l1 10M163 86l1 8M168 86l1 2M173 83l1 11M179 85l1 11"/>
<path class="k" d="M6 91l1 13M18 90l1 11M47 88l1 2M49 87l1 3M76 88l1 2M118 86l1 1M143 85l1 2M151 83l1 2M159 84l1 2M166 84l1 10M178 84l1 1M183 84l1 10M186 83l1 11"/>
<path class="b" d="M7 104l1-12M15 103l1-2M22 102l1 2 1 0 1-3M29 103l1-8M31 103l1-12M37 103l1-13M41 102l1-2M54 102l1-10M65 101l1-3M70 100l1 1 1-11M73 101l1-14M82 101l1-10M86 101l1-3M88 100l1-9M104 99l1-3M107 99l1-10M125 101l1-14M128 98l1-10M145 99l1 2 1-15M153 97l1-8M155 98l1-10M175 96l1-3M181 96l1 0"/>
<path class="g" d="M11 95l1-3 1 1 1 7M20 93l1-1M30 95l1 8M33 93l1-1M35 93l1 8M40 93l1 9M45 94l1 0 1-6M53 90l1 12M55 92l1 7M58 94l1 6M61 91l1 8M83 91l1 7M89 91l1 8M97 88l1 2M103 90l1 9M106 90l1 9M109 87l1 1M112 87l1 1M119 87l1 1 1 8M127 89l1 9M131 89l1-2 1 8M136 88l1 8M138 90l1-2M147 86l1 0M150 86l1-3M154 89l1 9M156 88l1-2M158 86l1-2M165 89l1-5M169 88l1 4M171 88l1 8"/>
</g>
<g transform="matrix(2.3365 1.0825 0 -6.3880 627.0 867.4)"><path class="y" d="M1 102l1-8 1 10 1-12 1-1 1 11 1-11 1 10 1 3 1-4 1 4 1-4 1 2 1-7 1-4 1 0 1-1 1 10 1-8 1 7 1 1 1-8 1 9 1-1 1-7 1 8 1-9 1 8 1-9 1-2 1 3 1 10 1-1 1 1 1-2 1-9 1-3 1 12 1 0 1-1 1-5 1-2 1 0 1 7 1 0 1 1 1-1 1 4 1-1 1 0 1-3 1 0 1 2 1-8 1 9 1-11 1 10 1-2 1-7 1-3 1 12 1-9 1 8 1-10 1 2 1-2 1 3 1-3 1 11 1-13 1 1 1 11 1-9 1 9 1-13 1 14 1-3 1-11 1 13 1-8 1-3 1-2 1 12 1-10 1 0 1 0 1 0 1 2 1 9 1-12 1 9 1-7 1 9 1-12 1 10 1-1 1 5 1-3 1-1 1-8 1 1 1-4 1 12 1-8 1 0 1 10 1-14 1 13 1 1 1-4 1-6 1 9 1-1 1-1 1 2 1-1 1-9 1 9 1-1 1 1 1-11 1 8 1 1 1-9 1 11 1-4 1 1 1-7 1 9 1-10 1 9 1-8 1 0 1-1 1 8 1 3 1-13 1 12 1 0 1-8 1 9 1-3 1 3 1-3 1-8 1 2 1 7 1-1 1 5 1-4 1-1 1 2 1-11 1 9 1-8 1 10 1-9 1 10 1-1 1 1 1-13 1 3 1 9 1-10 1 5 1 5 1-14 1 12 1 0 1-9 1 9 1-9 1 8 1-8 1-2 1 4 1-1 1 9 1-2 1 2 1-10 1-1 1 8 1-8 1-1 1 14 1-11 1-1"/>
<path class="g" d="M2 94l1 10M7 91l1 10M14 95l1-4M25 93l1 8M41 94l1-2M54 93l1 9M59 92l1-3M62 92l1 8M65 92l1-2 1 3 1-3 1 11M73 91l1 9M80 92l1-3M86 89l1 0M88 91l1 9M90 88l1 9M104 90l1 0 1 10M111 90l1 9M117 89l1 9M121 87l1 8M124 87l1 11M130 87l1 9M140 89l1 9M145 87l1 2 1 7M153 86l1 9M157 88l1 10M162 88l1 9M164 87l1 5M170 86l1 9M176 88l1-1M187 87l1-1"/>
<path class="b" d="M3 104l1-12M9 104l1-4M11 104l1-4M32 102l1-1M34 102l1-2M48 103l1-1 1 0 1-3M53 101l1-8M55 102l1-11M57 101l1-2M61 101l1-9M69 101l1-13M76 101l1-3M79 100l1-8M89 100l1-12M97 101l1-3M106 100l1-14M108 99l1 1 1-4M112 99l1-1M115 99l1-1M118 98l1-1M125 98l1-4M136 98l1-13M141 98l1-3M143 98l1-3M149 100l1-4M152 97l1-11M156 97l1-9M158 98l1-1 1 1 1-13M163 97l1-10M166 97l1-14M180 96l1-10M186 98l1-11"/>
<path class="o" d="M4 92l1-1M15 91l1 0 1-1 1 10M19 92l1 7M22 92l1 9M27 92l1 8M29 91l1-2 1 3 1 10M36 91l1-3M42 92l1 0 1 7M56 91l1 10M64 90l1 2M71 89l1 11M75 87l1 14M81 89l1-2 1 12M84 89l1 0 1 0M87 89l1 2M92 90l1 9M94 87l1 10M100 89l1 1 1-4M107 86l1 13M128 88l1 9M132 88l1 0 1-1 1 8M155 87l1 10M161 85l1 3M167 83l1 12M172 86l1 8M174 86l1-2 1 4M177 87l1 9M181 86l1-1 1 8M184 85l1-1 1 14"/>
<path class="k" d="M5 91l1 11M37 88l1 12M60 89l1 12M70 88l1 1M78 87l1 13M102 86l1 12M137 85l1 12"/>
</g>
<g transform="matrix(2.3365 1.0825 0 -6.3880 622.9 868.4)"><path class="y" d="M1 101l1-1 1-7 1 10 1 1 1-8 1 7 1-11 1 0 1 0 1-1 1 0 1 3 1 7 1-3 1 4 1 0 1-12 1 12 1-10 1 3 1 8 1-11 1 0 1 8 1 1 1 1 1-2 1 1 1 1 1-8 1-1 1 0 1 0 1 0 1 8 1-9 1 11 1-11 1-1 1 13 1-15 1 13 1-11 1-3 1 3 1 2 1 0 1-1 1 1 1-3 1 3 1-4 1 11 1-11 1 11 1-1 1-10 1 10 1 1 1 0 1 0 1-9 1 8 1 1 1 0 1 0 1 1 1-9 1 6 1 3 1-12 1 12 1-10 1-2 1-1 1 1 1 10 1-7 1 7 1-1 1-10 1 1 1 3 1 5 1-1 1 0 1 3 1-11 1 9 1-7 1 10 1-10 1 8 1-11 1 2 1 0 1 2 1-3 1 11 1-1 1 0 1-11 1 13 1 0 1-13 1 11 1-10 1 3 1-1 1 10 1-12 1 1 1 2 1-2 1 1 1 6 1-8 1 0 1 0 1 9 1-8 1-3 1 13 1-14 1 4 1-2 1 10 1-6 1 6 1-9 1 9 1-9 1 8 1-10 1 4 1-2 1-4 1 6 1 8 1-8 1-3 1 1 1 1 1 6 1 0 1-6 1-2 1 1 1 1 1-3 1 0 1 8 1-6 1 8 1 0 1 1 1-12 1 8 1-6 1 10 1-4 1-7 1 8 1-6 1-1 1 9 1 1 1-12 1 9 1-9 1 10 1-11 1 10 1 0 1-1 1 2 1-9 1-3 1 4 1 5 1 4 1-12 1 10 1 1 1-9 1 6 1 3"/>
<path class="g" d="M3 93l1 10M6 96l1 7M9 92l1 0 1-1M13 94l1 7M21 95l1 8M31 94l1-1 1 0 1 0 1 0 1 8M37 92l1 11M40 91l1 13M47 93l1 0 1-1M50 93l1-3M52 93l1-4M55 89l1 11M69 92l1 6M74 91l1-2M79 92l1 7M83 89l1 3 1 5M96 89l1 0M98 91l1-3M108 88l1 3 1-1 1 10M114 91l1-2 1 1 1 6M126 89l1-2M129 91l1 6M135 86l1 4 1-2M139 90l1 8M141 90l1-3M143 88l1 1 1 6M147 89l1-2M149 88l1 1 1-3M154 88l1 8M160 87l1 10M165 88l1-1 1 9M178 86l1-3M183 84l1 10"/>
<path class="b" d="M5 104l1-8M22 103l1-11M27 102l1-2M38 103l1-11M41 104l1-15M43 102l1-11M68 101l1-9M71 101l1-12M73 101l1-10M92 100l1-10M104 100l1 0 1-13M111 100l1-12M124 99l1-14M140 98l1-8M157 97l1-12M161 97l1-4M168 97l1-12M182 96l1-12"/>
<path class="o" d="M8 92l1 0M12 91l1 3M18 90l1 12M20 92l1 3M23 92l1 0 1 8M39 92l1-1M42 89l1 13M44 91l1-3 1 3 1 2M49 92l1 1M51 90l1 3M53 89l1 11M63 91l1 8M72 89l1 12M75 89l1-1M77 89l1 10M89 88l1 9M91 90l1 10M93 90l1 8M95 87l1 2M97 89l1 2M99 88l1 11M103 87l1 13M112 88l1 1 1 2M118 88l1 0 1 0 1 9M122 89l1-3M127 87l1 10M131 88l1 9M133 88l1 8M137 88l1-4 1 6M142 87l1 1M148 87l1 1M151 86l1 0 1 8M158 85l1 8M163 86l1 8M169 85l1 9M171 85l1 10M173 84l1 10M180 87l1 5M186 86l1 6"/>
<path class="k" d="M11 91l1 0M58 89l1 10M76 88l1 1M82 88l1 1M106 87l1 11M123 86l1 13M125 85l1 4M179 83l1 4"/>
</g>
<g transform="matrix(2.3365 1.0825 0 -6.3880 618.8 869.5)"><path class="y" d="M1 92l1 2 1 6 1-8 1-1 1 9 1-7 1 7 1 2 1 3 1-6 1 2 1 3 1-13 1 1 1 2 1 0 1 7 1-10 1 12 1-4 1 0 1 1 1 0 1-7 1 10 1-11 1-2 1 11 1-9 1 6 1 3 1-11 1 10 1 1 1-10 1 0 1 1 1-2 1 12 1-13 1 12 1-9 1 6 1 3 1 0 1-3 1 5 1-3 1 1 1 0 1-1 1 0 1-11 1 13 1-11 1-3 1 10 1-8 1 0 1 1 1-1 1 2 1-3 1 3 1-1 1-4 1 3 1 12 1-13 1-1 1 13 1-12 1 12 1-2 1-2 1 1 1-7 1 8 1-9 1 11 1-3 1 1 1-2 1-5 1-4 1 1 1-1 1 11 1-10 1 7 1 1 1-1 1-7 1 11 1-1 1-3 1-6 1-3 1 0 1 2 1 0 1 9 1 2 1-9 1 8 1-9 1 6 1 2 1 2 1-14 1-1 1 11 1 2 1-2 1 3 1-13 1 5 1 5 1 0 1-9 1 7 1 2 1-7 1 8 1 1 1-2 1-7 1 9 1-12 1 11 1-11 1 9 1-6 1 8 1-1 1-2 1 3 1-3 1-7 1 2 1 7 1 0 1 3 1-12 1 9 1-2 1 2 1 0 1 0 1 0 1 2 1-11 1 7 1-7 1 1 1-3 1 10 1-6 1 7 1-8 1-1 1 8 1-8 1 10 1-10 1 1 1-1 1 9 1-8 1 8 1-10 1 10 1-6 1-4 1 0 1 1 1-2 1 9 1 2 1-11 1 1 1 7 1-6 1-2 1 11 1-3 1-9"/>
<path class="g" d="M1 92l1 2 1 6M15 92l1 2 1 0 1 7M37 91l1 1M43 92l1 6M56 91l1-3M63 92l1-3M65 92l1-1 1-4M70 89l1-1M85 92l1-4M98 90l1-3M105 91l1 8M107 90l1 6M118 91l1 5M121 87l1 7M124 89l1 8M128 89l1 9M140 87l1 2 1 7M156 88l1-3M159 89l1 7M161 88l1-1 1 8M167 88l1-1M170 88l1 8M174 90l1-4 1 0 1 1 1-2M181 85l1 1 1 7M184 87l1-2"/>
<path class="o" d="M4 92l1-1M7 93l1 7M14 91l1 1M19 91l1 12M25 93l1 10M27 92l1-2 1 11M30 92l1 6M33 90l1 10M36 91l1 0M38 92l1-2 1 12M54 89l1 13M57 88l1 10M59 90l1 0 1 1 1-1 1 2M64 89l1 3M67 87l1 3 1 12M73 89l1 12M78 91l1 8M80 90l1 11M86 88l1 1 1-1 1 11M90 89l1 7M94 89l1 11M99 87l1 0M101 89l1 0 1 9M112 85l1 11M117 86l1 5M130 86l1 11M134 89l1 8M145 87l1 9M153 87l1 7M155 87l1 1M157 85l1 10M164 87l1 10M166 87l1 1M168 87l1 9M172 86l1 10M178 85l1 9M185 85l1 11"/>
<path class="k" d="M5 91l1 9M41 89l1 12M71 88l1 13M100 87l1 2M111 86l1-1M132 86l1 9"/>
<path class="b" d="M10 105l1-6M13 104l1-13M20 103l1-4M26 103l1-11M40 102l1-13M48 103l1-3M50 101l1 0 1-1M55 102l1-11M69 102l1-13M72 101l1-12M74 101l1-2M81 101l1-3M95 100l1-1 1-3M104 100l1-9M106 99l1-9M110 100l1-14M116 99l1-13M126 98l1-2M129 98l1-12M144 99l1-12M152 98l1-11M165 97l1-10M169 96l1-8M173 96l1-6M180 96l1-11M186 96l1-3"/>
</g>
<g transform="matrix(2.3365 1.0825 0 -6.3880 614.6 870.6)"><path class="y" d="M1 103l1-9 1 0 1 6 1 3 1-9 1 8 1-9 1-1 1-1 1 3 1-3 1 2 1 8 1 3 1-4 1 2 1-9 1 0 1 1 1-2 1 10 1-7 1-2 1 6 1-7 1-2 1 12 1-10 1 7 1 1 1-10 1 13 1-12 1 11 1 0 1-12 1 13 1 1 1-14 1 12 1-10 1 8 1-10 1 0 1 0 1 2 1 0 1-1 1-1 1 2 1-2 1 2 1 9 1-11 1 8 1 3 1-11 1 8 1 1 1-1 1 2 1-3 1 3 1-4 1 3 1 4 1-2 1-10 1 8 1 0 1-7 1 8 1-13 1 1 1 12 1 2 1-15 1 3 1 6 1-8 1 2 1-1 1 0 1 8 1-1 1 2 1 1 1-1 1 1 1-8 1-3 1 10 1 1 1-11 1 9 1-9 1 9 1 0 1 2 1 0 1 0 1-10 1 0 1 0 1 0 1 8 1-9 1 2 1-1 1 10 1 0 1-12 1-1 1 2 1-1 1 12 1 1 1-10 1-4 1 12 1-1 1-8 1 9 1-13 1 4 1-3 1 13 1-11 1 11 1-12 1 10 1-9 1 8 1-7 1-3 1 4 1-2 1 6 1 3 1-1 1-11 1 4 1-2 1 10 1-11 1 0 1 2 1-2 1 0 1 1 1 1 1 8 1-8 1 9 1-2 1 2 1-2 1 4 1-14 1 12 1-1 1-8 1 7 1-9 1 8 1 2 1-2 1-10 1 13 1-10 1 7 1-9 1 13 1-2 1-9 1 6 1 0 1-7 1 1 1 8 1 1 1-8 1 7 1 1 1-10 1 0 1 11"/>
<path class="g" d="M2 94l1 0M6 94l1 8M11 94l1-3 1 2 1 8M19 93l1 1 1-2M23 95l1-2 1 6M34 91l1 11M48 92l1-1 1-1 1 2 1-2 1 2 1 9M55 90l1 8M69 91l1 8M72 92l1 8M83 89l1 0 1 8M91 91l1-3M95 88l1 9M97 88l1 9M105 89l1 0M109 90l1-1M119 90l1-4M126 89l1-3M131 87l1 10M135 89l1-3M137 90l1-2M143 89l1-2M147 86l1 2 1-2M150 86l1 1M152 88l1 8M154 88l1 9M163 88l1 7M176 87l1 6M180 87l1 8M183 88l1 7"/>
<path class="o" d="M3 94l1 6M8 93l1-1 1-1 1 3M18 93l1 0M21 92l1 10M26 92l1-2 1 12M29 92l1 7M37 90l1 13M40 90l1 12M42 92l1 8M44 90l1 0 1 0 1 2 1 0M58 90l1 8M75 88l1 12M78 87l1 3 1 6M82 90l1-1M92 88l1 10M103 89l1 0 1 0M106 89l1 8M108 88l1 2M110 89l1 10M113 87l1-1M115 88l1-1 1 12M120 86l1 12M123 89l1 9M125 85l1 4M129 88l1 11M133 88l1 8M136 86l1 4M138 88l1 6M142 85l1 4M144 87l1 10M146 86l1 0M149 86l1 0M151 87l1 1M160 85l1 12M165 86l1 8M169 84l1 13M171 87l1 7M173 85l1 13M179 86l1 1M186 86l1 0 1 11"/>
<path class="b" d="M15 104l1-4M22 102l1-7M28 102l1-10M33 103l1-12M35 102l1 0 1-12M38 103l1 1 1-14M41 102l1-10M54 101l1-11M57 101l1-11M67 103l1-2 1-10M76 100l1 2 1-15M101 99l1 0M112 99l1-12M117 99l1 1 1-10M128 99l1-11M130 99l1-12M155 97l1-2M157 97l1-2M159 99l1-14M161 97l1-1M170 97l1-10M174 98l1-2 1-9M182 96l1-8M185 96l1-10"/>
<path class="k" d="M32 90l1 13M74 87l1 1M81 88l1 2M114 86l1 2M127 86l1 13"/>
</g>
<g transform="matrix(2.3365 1.0825 0 -6.3880 610.5 871.7)"><path class="y" d="M1 91l1 10 1 0 1-7 1-2 1 9 1-9 1 8 1 3 1 1 1-11 1 12 1-2 1-9 1 1 1-4 1-1 1 10 1 2 1-1 1 0 1-9 1 9 1 0 1-8 1 7 1 2 1-11 1 8 1-6 1-1 1 7 1-7 1 10 1-10 1 1 1 10 1-12 1-2 1 10 1-6 1 6 1-8 1 8 1-8 1 10 1-9 1 9 1-1 1-2 1 4 1-3 1 0 1-8 1 8 1-10 1-1 1 12 1-9 1-1 1 3 1 1 1-4 1 0 1 1 1 2 1 10 1-14 1 9 1-9 1 1 1-2 1 0 1 1 1 10 1-9 1 0 1 8 1-1 1-8 1 12 1-1 1-1 1-1 1 2 1-10 1 1 1-2 1 1 1 1 1 9 1-3 1-10 1 1 1 9 1 1 1-1 1-10 1 3 1 7 1-7 1 2 1 7 1-2 1-1 1-1 1-7 1 1 1 6 1 1 1-9 1 0 1 9 1 4 1-2 1 2 1-9 1 8 1-2 1-1 1-9 1 0 1 9 1-8 1 9 1 1 1-2 1-5 1 9 1-11 1 7 1-6 1 8 1-10 1 11 1-2 1 0 1-1 1-8 1 1 1 0 1 7 1 1 1-2 1-10 1 9 1 2 1 1 1-9 1 5 1 1 1 2 1-9 1 8 1 0 1-8 1 1 1 0 1-3 1 10 1-9 1 0 1 13 1-14 1 10 1-8 1-2 1 3 1 8 1-7 1 4 1-7 1 10 1-3 1-5 1-3 1 1 1-1 1 11 1 0 1-10 1 1 1 10 1-10 1-3 1 9 1 0 1-7"/>
<path class="k" d="M1 91l1 10M56 89l1-1M145 85l1 9M159 85l1 10"/>
<path class="g" d="M4 94l1-2 1 9M7 92l1 8M14 94l1 1 1-4M28 91l1 8M30 93l1-1M36 93l1 10M38 91l1-2M41 93l1 6M43 91l1 8M54 91l1 8M59 91l1-1M61 93l1 1 1-4M66 93l1 10M76 90l1 0 1 8M80 89l1 12M87 91l1-2 1 1M90 91l1 9M99 90l1 7M102 92l1 7M117 91l1 8M122 87l1 9M128 91l1 9M132 90l1 8M134 88l1 11M140 89l1 0 1 7M166 87l1-2M168 88l1 8M170 89l1 4M172 86l1 10M175 88l1-3 1 1M178 85l1 11M181 86l1 1 1 10M184 87l1-3"/>
<path class="b" d="M9 103l1 1 1-11M12 105l1-2 1-9M27 102l1-11M34 102l1-10M37 103l1-12M48 101l1-1M51 102l1-3M67 103l1-14M81 101l1-1 1-1M85 100l1-10M91 100l1-3M114 100l1-2M116 100l1-9M118 99l1-2M129 100l1-11M133 98l1-10M135 99l1-2M163 99l1-14M173 96l1-3M180 96l1-10M183 97l1-10"/>
<path class="o" d="M11 93l1 12M16 91l1-1 1 10M22 92l1 9M25 93l1 7M31 92l1 7M33 92l1 10M35 92l1 1M39 89l1 10M45 91l1 10M47 92l1 9M57 88l1 12M60 90l1 3M63 90l1 0 1 1 1 2M68 89l1 9M70 89l1 1 1-2 1 0 1 1 1 10M86 90l1 1M89 90l1 1M93 87l1 1 1 9M98 87l1 3M101 90l1 2M107 88l1 1 1 6M111 87l1 0 1 9M121 87l1 0M124 88l1 9M130 89l1 7M139 88l1 1M149 88l1 5M153 87l1 8M156 87l1 1 1 0 1-3M161 86l1 0 1 13M164 85l1 10M167 85l1 3M177 86l1-1M185 84l1 9"/>
</g>
<g transform="matrix(2.3365 1.0825 0 -6.3880 606.3 872.7)"><path class="y" d="M1 101l1-8 1 0 1 11 1 0 1-14 1 14 1-1 1-8 1-3 1 12 1-13 1 1 1 11 1-4 1 5 1-4 1-5 1-2 1-2 1 0 1 12 1-13 1 1 1-1 1 0 1 0 1 13 1-9 1 5 1-5 1-2 1 8 1-6 1 6 1 0 1 0 1 0 1 1 1-9 1 0 1-2 1 10 1-9 1 8 1-8 1 8 1-11 1 4 1-2 1 10 1-12 1 2 1 11 1-8 1 5 1 2 1 0 1-1 1-1 1 4 1-5 1 5 1-3 1-2 1 2 1-8 1 12 1-15 1 9 1 2 1-1 1-1 1 1 1-10 1 10 1 0 1-8 1 2 1 5 1-8 1 10 1-9 1 2 1-3 1 7 1 6 1-4 1 2 1-3 1-7 1 10 1-8 1 8 1-11 1 0 1 2 1 6 1 0 1-8 1 10 1-4 1-7 1 0 1 1 1 0 1 8 1 2 1-11 1 10 1 0 1-11 1 2 1 0 1 2 1-1 1 9 1-9 1-1 1 1 1 7 1-8 1-3 1 11 1 0 1 1 1-8 1 5 1-9 1 9 1-8 1 9 1-8 1 8 1-10 1 0 1 2 1 0 1 8 1 1 1-2 1-6 1-2 1 0 1 9 1-8 1-2 1 1 1 11 1-9 1-4 1 3 1 7 1-7 1-1 1 6 1 2 1 2 1 0 1-9 1 8 1-2 1-6 1 10 1-10 1 9 1-10 1 7 1-6 1 6 1-7 1 7 1-7 1-2 1 10 1-1 1-1 1 0 1-8 1 0 1 11 1-11 1-2 1 12 1-10 1 3 1-2 1 9"/>
<path class="o" d="M2 93l1 0M6 90l1 14M10 92l1 12M12 91l1 1 1 11M21 91l1 12M26 90l1 0 1 13M32 92l1 8M40 92l1 0 1-2M44 91l1 8M46 91l1 8M49 92l1-2 1 10M53 90l1 11M67 91l1 12M78 90l1 2M81 89l1 10M83 90l1 2M85 89l1 7M96 89l1 2M100 89l1 10M104 88l1 1 1 0 1 8M112 87l1 2 1 0M119 89l1 1M129 86l1 9M131 87l1 9M133 88l1 8M136 86l1 2 1 0 1 8M144 87l1 9M147 86l1 1 1 11M155 87l1 6M171 87l1 7M180 85l1 11M182 85l1-2M185 85l1 3M187 86l1 9"/>
<path class="g" d="M3 93l1 11M9 95l1-3M18 95l1-2 1-2 1 0M24 91l1-1M29 94l1 5M31 94l1-2M34 94l1 6M42 90l1 10M55 93l1 5M79 92l1 5M84 92l1-3M91 90l1 10M93 92l1 8M95 89l1 0M97 91l1 6M103 88l1 0M109 88l1 10M114 89l1 2 1-1 1 9M118 90l1-1M120 90l1 7M122 89l1-3M127 90l1 5M135 86l1 0M142 89l1-2 1 0M146 88l1-2M150 89l1-4M152 88l1 7M154 88l1-1M160 88l1 8M163 88l1 10M165 88l1 9M167 87l1 7M169 88l1 6M173 87l1-2 1 10M179 85l1 0M186 88l1-2"/>
<path class="b" d="M4 104l1 0 1-14M7 104l1-1 1-8M11 104l1-13M14 103l1-4M16 104l1-4M22 103l1-13M28 103l1-9M54 101l1-8M61 102l1-5M63 102l1-3M68 103l1-15M87 102l1-4M89 100l1-3M92 100l1-8M94 100l1-11M108 99l1-11M117 99l1-9M126 98l1-8M140 97l1-2M149 98l1-9M158 97l1 0 1-9M164 98l1-10M166 97l1-10"/>
<path class="k" d="M23 90l1 1M25 90l1 0M48 88l1 4M52 88l1 2M69 88l1 9M75 88l1 10M123 86l1 11M151 85l1 3M183 83l1 12"/>
</g>
<g transform="matrix(2.3365 1.0825 0 -6.3880 602.2 873.8)"><path class="y" d="M1 95l1 5 1 0 1-9 1 3 1 6 1-8 1-1 1 12 1-1 1-8 1 8 1 0 1-11 1 2 1-1 1-1 1 11 1-10 1 11 1-1 1-11 1 13 1-1 1-9 1 8 1-1 1-9 1 10 1-9 1 9 1 0 1-7 1 7 1-12 1 3 1-3 1 2 1 0 1 7 1 1 1 1 1-2 1 3 1-10 1 9 1-10 1 7 1 2 1 1 1-11 1 9 1 0 1-9 1 8 1-8 1 0 1 2 1-2 1-1 1 0 1-1 1 3 1-4 1 5 1-2 1 7 1-7 1 11 1-10 1 0 1-3 1 2 1 1 1-2 1 8 1-8 1-2 1 11 1-11 1 10 1-7 1 10 1-3 1 3 1-14 1 2 1-2 1 0 1 3 1 9 1-10 1 12 1-10 1 9 1 0 1-2 1-8 1 0 1 6 1-3 1 7 1-13 1 12 1 0 1 0 1-12 1 1 1 11 1-8 1 0 1 1 1-2 1 9 1 0 1-3 1 1 1 1 1 1 1-7 1-1 1 7 1 0 1-7 1-1 1 8 1 2 1-11 1 8 1-9 1 9 1-8 1 6 1-4 1 9 1-2 1 2 1-1 1-12 1 2 1 9 1 0 1 0 1 1 1-9 1 7 1 1 1 1 1-14 1 12 1 0 1-1 1-9 1 11 1-12 1 2 1-2 1 1 1 3 1 5 1-6 1-4 1 12 1-9 1 8 1-6 1 7 1-2 1-1 1-4 1 7 1 0 1 1 1-2 1-13 1 1 1 2 1 3 1 9 1-2 1-9 1 9 1-9 1 0 1 10 1 1 1-1 1-9"/>
<path class="g" d="M1 95l1 5M5 94l1 6M11 94l1 8M25 94l1 8M28 92l1 10M30 93l1 9M33 95l1 7M35 90l1 3 1-3M38 92l1 0M47 91l1 7M56 90l1 0M65 92l1-2M73 90l1 1M75 89l1 8M77 89l1-2M92 88l1 12M101 92l1 7M110 90l1 0 1 1 1-2 1 9M120 91l1-1 1 7M124 90l1-1M134 90l1 9M145 89l1 7M153 86l1 11M159 89l1 5M161 88l1-4M166 89l1 7M170 89l1 7M177 85l1 3 1 9"/>
<path class="o" d="M4 91l1 3M7 92l1-1 1 12M14 91l1 2 1-1 1-1 1 11M19 92l1 11M22 91l1 13M37 90l1 2M39 92l1 7M45 92l1 9M51 90l1 9M54 90l1 8M57 90l1 2 1-2 1-1 1 0M62 88l1 3 1-4M66 90l1 7M68 90l1 11M70 91l1 0 1-3M74 91l1-2M80 87l1 10M82 90l1 10M86 86l1 2 1-2M90 89l1 9M94 90l1 9M98 89l1 0 1 6M107 86l1 1 1 11M125 89l1 8M128 88l1 8M130 87l1 9M132 88l1 6M139 86l1 2 1 9M149 84l1 12M156 87l1-2 1 1 1 3M164 87l1 8M176 83l1 2M181 86l1 9M183 86l1 0 1 10"/>
<path class="b" d="M9 103l1-1M20 103l1-1M23 104l1-1 1-9M26 102l1-1M29 102l1-9M31 102l1 0M34 102l1-12M42 101l1-2M44 102l1-10M46 101l1-10M50 101l1-11M69 101l1-10M83 100l1-3M85 100l1-14M93 100l1-10M95 99l1 0 1-2M102 99l1-13M127 99l1-11M135 99l1-2M137 99l1-1 1-12M144 98l1-9M148 98l1-14M154 97l1-12M171 96l1 0 1 1 1-2M179 97l1-2M185 96l1 1 1-1 1-9"/>
<path class="k" d="M61 89l1-1M64 87l1 5M72 88l1 2M78 87l1 11M88 86l1 0 1 3M103 86l1 12M155 85l1 2M162 84l1 12M175 82l1 1"/>
</g>
<g transform="matrix(2.3365 1.0825 0 -6.3880 598.1 874.9)"><path class="y" d="M1 101l1-8 1 7 1 1 1-2 1-8 1 12 1 1 1-14 1 1 1 12 1-10 1 1 1 8 1 0 1-2 1 2 1-11 1 13 1-12 1-1 1 10 1-11 1 5 1-1 1-3 1-1 1 12 1-9 1 10 1-12 1-2 1 9 1-4 1 3 1 2 1 1 1 1 1-3 1-9 1 4 1 0 1-2 1 1 1 8 1-11 1 11 1-10 1 0 1 0 1 9 1-8 1 1 1-2 1 2 1 7 1 3 1-1 1-2 1 0 1-1 1 0 1-1 1 4 1-10 1 10 1-14 1 12 1-9 1 9 1 1 1-9 1 10 1 0 1-3 1-9 1 7 1 3 1-10 1 9 1-3 1 2 1-7 1 10 1-3 1 2 1 0 1 0 1 0 1 2 1-13 1 11 1-11 1 9 1-10 1 4 1-4 1 12 1 2 1-11 1 7 1-10 1 11 1-10 1-1 1 3 1 7 1-1 1-6 1 9 1-5 1-5 1 10 1-11 1 12 1-11 1 0 1 8 1-11 1 9 1 3 1-11 1 11 1-3 1 3 1-10 1 1 1 9 1-12 1 4 1-1 1 9 1-10 1 9 1-7 1-2 1 2 1-1 1 7 1 0 1-8 1-2 1 2 1-2 1 8 1-6 1 0 1-2 1 6 1-3 1 0 1 0 1 9 1-12 1 12 1-2 1 2 1-3 1-11 1 1 1 8 1 2 1-6 1 7 1-9 1 9 1-11 1-1 1 4 1 7 1-8 1 1 1-2 1 1 1 7 1 4 1-3 1-1 1-8 1 1 1 12 1-14 1 11 1-2 1-6 1-3 1 1 1 10"/>
<path class="o" d="M2 93l1 7M6 91l1 12M9 90l1 1M20 92l1-1M23 90l1 5M26 91l1-1M29 93l1 10M32 89l1 9M40 89l1 4M43 91l1 1 1 8M48 90l1 0 1 0 1 9M52 91l1 1 1-2 1 2 1 7M67 87l1 12M76 89l1 7M83 90l1 10M97 87l1 12M102 87l1 11M104 88l1-1M114 88l1 12M116 89l1 0 1 8M119 86l1 9M122 87l1 11M126 88l1 1M129 86l1 4M133 88l1 9M141 88l1-2 1 2 1-2 1 8M146 88l1 0M159 84l1 1M171 87l1 1M179 86l1 1M187 86l1 10"/>
<path class="b" d="M7 103l1 1 1-14M15 102l1-2M19 104l1-12M28 102l1-9M30 103l1-12M57 102l1-1 1-2M64 101l1-10M66 101l1-14M73 101l1 0 1-3M84 100l1-3M90 101l1-13M99 101l1-11M110 99l1-5M113 99l1-11M115 100l1-11M123 98l1-3M125 98l1-10M128 98l1-12M132 98l1-10M153 98l1-12M155 98l1-2M157 98l1-3M166 96l1-11M176 98l1-3M181 99l1-14M183 96l1-2"/>
<path class="g" d="M10 91l1 12M12 93l1 1 1 8M18 91l1 13M21 91l1 10M24 95l1-1 1-3M31 91l1-2M34 94l1 3M41 93l1 0 1-2M65 91l1 10M69 90l1 9M72 91l1 10M79 89l1 9M93 88l1 9M96 91l1-4M100 90l1 7M105 87l1 3 1 7M109 90l1 9M112 89l1 10M127 89l1 9M130 90l1-1 1 9M135 90l1-2 1 2 1-1 1 7M147 88l1-2 1 6M150 89l1 0 1 0 1 9M154 86l1 12M160 85l1 8M163 89l1 7M165 87l1 9M169 88l1 7M172 88l1-2 1 1 1 7M180 87l1 12M182 85l1 11M185 88l1-3 1 1"/>
<path class="k" d="M27 90l1 12M46 89l1 11M91 88l1 11M95 87l1 4M167 85l1-1 1 4"/>
</g>
<g transform="matrix(2.3365 1.0825 0 -6.3880 593.9 876.0)"><path class="y" d="M1 93l1 10 1-8 1-4 1 3 1 8 1-7 1 0 1 6 1 1 1-8 1 9 1-1 1-8 1-4 1 0 1 1 1 12 1-12 1 12 1 2 1-12 1 11 1 0 1-3 1-1 1-1 1-6 1 11 1-15 1 11 1 1 1-7 1 5 1-6 1 0 1 1 1 0 1-4 1 9 1 2 1-9 1-1 1 9 1-12 1 12 1-10 1 10 1 1 1-1 1-11 1 12 1-2 1 0 1 1 1-11 1 2 1 0 1 1 1-4 1 3 1 1 1-3 1-1 1 13 1-4 1 3 1-10 1 11 1-12 1 2 1 10 1-10 1-1 1 2 1 5 1-8 1 3 1 7 1-7 1-4 1 11 1 0 1-10 1 1 1-3 1 1 1 1 1 0 1-2 1 11 1-9 1 8 1-7 1 8 1 2 1-4 1-7 1-2 1 13 1-11 1 8 1-8 1 6 1 2 1 1 1-7 1 0 1 8 1-12 1 3 1 10 1-12 1 11 1-8 1 5 1 1 1-8 1 6 1-9 1 13 1-4 1-8 1 14 1-13 1 9 1 0 1-1 1-11 1 14 1 1 1-14 1 11 1-7 1 8 1-1 1 2 1-1 1-11 1 10 1 2 1-4 1-1 1 3 1-10 1 12 1-1 1-3 1-6 1 8 1 0 1 0 1-11 1 12 1-14 1 3 1 1 1-2 1 10 1 2 1-14 1 3 1 10 1-10 1 7 1-9 1 11 1-1 1 3 1-10 1 9 1-1 1-2 1 3 1-10 1 0 1-3 1 1 1 8 1-6 1-2 1 12 1-13 1 1 1 6 1 5 1-4 1-8"/>
<path class="g" d="M1 93l1 10M3 95l1-4M5 94l1 8M7 95l1 0 1 6M11 94l1 9M14 94l1-4M19 91l1 12M28 93l1 11M33 94l1 5M35 93l1 0 1 1 1 0 1-4 1 9M62 92l1-3M70 89l1 2 1 10M75 92l1 5M78 92l1 7M80 92l1-4M85 90l1-3M88 89l1 0M92 89l1 8M103 89l1 6M107 91l1 0 1 8M110 87l1 3 1 10M113 88l1 11M115 91l1 5M118 89l1 6M125 88l1 9M134 90l1 8M139 87l1 10M149 89l1 8M153 86l1 12M157 88l1-2M170 88l1 9M178 85l1 8M184 85l1 6"/>
<path class="b" d="M2 103l1-8M12 103l1-1M18 103l1-12M20 103l1 2 1-12M23 104l1 0 1-3M29 104l1-15M49 101l1-1M65 101l1-4M69 101l1-12M72 101l1-10M96 100l1-4M100 100l1-11M109 99l1-12M112 100l1-12M114 99l1-8M121 99l1-4M124 101l1-13M130 99l1 1 1-14M135 98l1-1M137 99l1-1 1-11M141 99l1-4M146 99l1-1 1-3M154 98l1-14M160 98l1-14M163 97l1-10M169 98l1-10M171 97l1-1M174 97l1-10M182 97l1-13M186 96l1-4"/>
<path class="k" d="M4 91l1 3M15 90l1 0M45 88l1 12M51 89l1 12M63 89l1-1 1 13M87 88l1 1M129 85l1 14M155 84l1 3M161 84l1 3"/>
<path class="o" d="M16 90l1 1 1 12M22 93l1 11M30 89l1 11M42 92l1-1 1 9M47 90l1 10M56 89l1 2 1 0 1 1 1-4 1 3 1 1M68 90l1 11M73 91l1-1 1 2M77 89l1 3M81 88l1 11M84 89l1 1M86 87l1 1M89 89l1-2 1 11M94 90l1 8M98 89l1-2 1 13M101 89l1 8M120 86l1 13M123 87l1 14M132 86l1 11M145 87l1 12M156 87l1 1M158 86l1 10M162 87l1 10M164 87l1 7M166 85l1 11M175 87l1 0 1-3 1 1M180 87l1-2 1 12M183 84l1 1"/>
</g>
<g transform="matrix(2.3365 1.0825 0 -6.3880 589.8 877.1)"><path class="y" d="M1 105l1-11 1 7 1 1 1 0 1-9 1 8 1-1 1-11 1 7 1 4 1-7 1-1 1 1 1 10 1 0 1-10 1-2 1 9 1-10 1 2 1 10 1-12 1 10 1-9 1 2 1 0 1 9 1-9 1 9 1-12 1 1 1 12 1-1 1-3 1 0 1-8 1 8 1 0 1-6 1-5 1 13 1 1 1-14 1 14 1-12 1 12 1-11 1 2 1-4 1 8 1-7 1 0 1 0 1 3 1 8 1-1 1-3 1 3 1-1 1 2 1-2 1 1 1 0 1-12 1 1 1 2 1 9 1-11 1 12 1-2 1-8 1 7 1-2 1 4 1-8 1 5 1 2 1-10 1 12 1-2 1-11 1 1 1 10 1 2 1-4 1 3 1-1 1-12 1 1 1-2 1 12 1-8 1 8 1 0 1-7 1 8 1 2 1-3 1-10 1 9 1-1 1 3 1-10 1 1 1-5 1 13 1 1 1-12 1 13 1-3 1-6 1 6 1-8 1-2 1 2 1 2 1 6 1-8 1 9 1-9 1-2 1 12 1-10 1 0 1-1 1-1 1 0 1 8 1-8 1 1 1-1 1 2 1 8 1-8 1 6 1-7 1-1 1 9 1-10 1 1 1-2 1 1 1 0 1 12 1-11 1 0 1 2 1-3 1 3 1-2 1 11 1-2 1-11 1 14 1-4 1 0 1 0 1-9 1-1 1 10 1 0 1-8 1 7 1-7 1 6 1-4 1-2 1 0 1 0 1-3 1 3 1-1 1 10 1 1 1-1 1-2 1-1 1-8 1 9 1 0 1-8 1 8 1 4 1-12 1 8 1-12 1 14"/>
<path class="b" d="M1 105l1-11M15 103l1 0 1-10M22 102l1-12M28 102l1-9M30 102l1-12M33 103l1-1 1-3M43 102l1-14M45 102l1-12M47 102l1-11M56 101l1-1M61 101l1-2M70 101l1-2M80 101l1-2M85 101l1-4M87 100l1-1M97 99l1 2 1-3M103 99l1-10M108 99l1-12M110 100l1-3M123 99l1-10M145 98l1-11M152 98l1-2M155 99l1-4M175 97l1-1 1-2M184 98l1-12"/>
<path class="o" d="M2 94l1 7M6 93l1 8M9 89l1 7M12 93l1-1 1 1M18 91l1 9M20 90l1 2 1 10M23 90l1 10M25 91l1 2M27 93l1 9M32 91l1 12M41 88l1 13M44 88l1 14M46 90l1 12M48 91l1 2M52 90l1 0M54 90l1 3M65 88l1 1M67 91l1 9M72 91l1 7M79 89l1 12M82 88l1 1M89 87l1 1M104 89l1 1M106 85l1 13M109 87l1 13M114 89l1-2 1 2M121 89l1-2 1 12M126 88l1-1M128 87l1 8M130 87l1 1 1-1M138 87l1 9M140 86l1 1 1-2 1 1 1 0 1 12M146 87l1 0 1 2M149 86l1 3M151 87l1 11M159 86l1-1 1 10M163 87l1 7M170 87l1-3M173 86l1 10M179 85l1 9M182 86l1 8M185 86l1 8M187 82l1 14"/>
<path class="g" d="M10 96l1 4M14 93l1 10M17 93l1-2M26 93l1 0M29 93l1 9M37 91l1 8M40 93l1-5M49 93l1-4M53 90l1 0M55 93l1 8M66 89l1 2M69 89l1 12M76 92l1 5M83 89l1 10M90 88l1-2M93 90l1 8M96 91l1 8M100 88l1 9M105 90l1-5M112 91l1 6M116 89l1 2 1 6M119 89l1 9M124 89l1 0 1-1M127 87l1 0M132 87l1 2 1 8M135 89l1 6M137 88l1-1M148 89l1-3M150 89l1-2M165 87l1 6M167 89l1-2 1 0 1 0M172 87l1-1"/>
<path class="k" d="M31 90l1 1M50 89l1 8M91 86l1 12M154 85l1 14M171 84l1 3"/>
</g>
<g transform="matrix(2.3365 1.0825 0 -6.3880 585.6 878.1)"><path class="y" d="M1 93l1 7 1-10 1 0 1 0 1 11 1-9 1-1 1 11 1 2 1-14 1 11 1 0 1-2 1-7 1 0 1 10 1-1 1 1 1-1 1-2 1 1 1-9 1 0 1 9 1 1 1 0 1-9 1 9 1-8 1 8 1 1 1-10 1 0 1-3 1 3 1 7 1-10 1 4 1 7 1 1 1-8 1-3 1 13 1-11 1 8 1-10 1-1 1 13 1-1 1-11 1 12 1-11 1-2 1 10 1-8 1-1 1 1 1-2 1 0 1 0 1 2 1-1 1 0 1 1 1 9 1 0 1-9 1 8 1-10 1 3 1 9 1-12 1 2 1-1 1 8 1-7 1 7 1 1 1-11 1 1 1 9 1 0 1 2 1-9 1 8 1-10 1 10 1-12 1 1 1 2 1 1 1 8 1-8 1 8 1-2 1-9 1 2 1-1 1 9 1-8 1-2 1 0 1 12 1-2 1 2 1-12 1-2 1 2 1 2 1-3 1 10 1-7 1 9 1-1 1 1 1-1 1-11 1 8 1-8 1 11 1-3 1-4 1 5 1 2 1-1 1-1 1 1 1-9 1 8 1 3 1-4 1 4 1-10 1 6 1-10 1 14 1-2 1-8 1 6 1-5 1 7 1 1 1-11 1-2 1 13 1-4 1 6 1-3 1 0 1-1 1-10 1 2 1 9 1-9 1 5 1-5 1-2 1 11 1-2 1 0 1-11 1 12 1-10 1 12 1-10 1 6 1 0 1 2 1 0 1 1 1-2 1 1 1-12 1 1 1 10 1-9 1-1 1 11 1-11 1-2 1 10 1-9 1 3 1 10 1-10 1 7 1-8"/>
<path class="o" d="M1 93l1 7M3 90l1 0M5 90l1 11M16 92l1 10M23 91l1 0M28 92l1 9M34 92l1-3 1 3M38 89l1 4M45 92l1 8M48 89l1 13M51 90l1 12M53 91l1-2M56 91l1-1 1 1M59 89l1 0 1 0 1 2 1-1 1 0 1 1 1 9M68 91l1 8M73 89l1 2M77 91l1 7M80 88l1 1 1 9M85 91l1 8M90 88l1 2 1 1M97 88l1 2 1-1 1 9M102 88l1 0 1 12M107 88l1-2 1 2 1 2M111 87l1 10M118 87l1 8M129 88l1 8M136 85l1 14M144 87l1-2M152 86l1 2 1 9M158 86l1 11M164 86l1 12M174 84l1 1 1 10M177 86l1-1 1 11M180 85l1-2"/>
<path class="k" d="M4 90l1 0M11 90l1 11M43 90l1 13M89 87l1 1M145 85l1 13M162 84l1 12M181 83l1 10M183 84l1 3"/>
<path class="g" d="M7 92l1-1 1 11M15 92l1 0M24 91l1 9M30 93l1 8M33 92l1 0M36 92l1 7M39 93l1 7M42 93l1-3M47 90l1-1M54 89l1 10M58 91l1-2M70 89l1 3 1 9M74 91l1-1 1 8M87 89l1 10M92 91l1 8M94 91l1 8M101 90l1-2M110 90l1-3M113 90l1 9M120 87l1 11M123 91l1 5M134 89l1 6M139 89l1 6M141 90l1 7M155 88l1 5M157 88l1-2M166 88l1 6M184 87l1 10M186 87l1 7"/>
<path class="b" d="M10 104l1-14M32 102l1-10M44 103l1-11M49 102l1-1 1-11M52 102l1-11M72 101l1-12M84 100l1-9M104 100l1-2M106 100l1-12M114 99l1-1M116 99l1-1M131 99l1-4M133 99l1-10M137 99l1-2M142 97l1 1 1-11M146 98l1-4M148 100l1-3M154 97l1-9M159 97l1-2M165 98l1-10M171 97l1-2M185 97l1-10"/>
</g>
<g transform="matrix(2.3365 1.0825 0 -6.3880 581.5 879.2)"><path class="y" d="M1 101l1-7 1 8 1 2 1-2 1-7 1 6 1 1 1-13 1 2 1 12 1-13 1 1 1 2 1 9 1 1 1-10 1 0 1 0 1-1 1-1 1 2 1 8 1-9 1 2 1-1 1-3 1 8 1-5 1 7 1 0 1-6 1 7 1-1 1 1 1 0 1-8 1 11 1-2 1-9 1 1 1 8 1 0 1-9 1 5 1-8 1 11 1-1 1-9 1 1 1 6 1-6 1 5 1 1 1-6 1-2 1 7 1 5 1-3 1 2 1 2 1-4 1 2 1-3 1 2 1-9 1 2 1-1 1-2 1 0 1 8 1-9 1 12 1 0 1-2 1-7 1 0 1-3 1 10 1 2 1 1 1-14 1 0 1 5 1 5 1-9 1 10 1-8 1 8 1 1 1-2 1 0 1-8 1 9 1-11 1 1 1 10 1 0 1 1 1-12 1 10 1 0 1-3 1-5 1 0 1-4 1 11 1-1 1 0 1 1 1 3 1-11 1-3 1 0 1 5 1-5 1-1 1 14 1-11 1 10 1-13 1 0 1 10 1-5 1-5 1 2 1-2 1 2 1 10 1-8 1-3 1 2 1 0 1 8 1-11 1 12 1-2 1-6 1 11 1-12 1 7 1-8 1 2 1 10 1-3 1-10 1-2 1 2 1-1 1 9 1-6 1 9 1 1 1-8 1 7 1-11 1 9 1 1 1-10 1 0 1 1 1 9 1-11 1 3 1 0 1 7 1-9 1-1 1-2 1 2 1 12 1-10 1-2 1 1 1 8 1-9 1 8 1-8 1 1 1 8 1 2 1-10 1 9 1-8 1-2 1 1 1-1 1 9"/>
<path class="g" d="M2 94l1 8M6 95l1 6M14 93l1 9M17 93l1 0M22 93l1 8M24 92l1 2 1-1 1-3M29 93l1 7M32 94l1 7M37 93l1 11M40 93l1 1 1 8M44 93l1 5M50 92l1 6M56 90l1 7M67 93l1-1 1-2M72 89l1 12M76 92l1 0 1-3 1 10M84 93l1 5M88 91l1 8M96 89l1 10M105 90l1-4M115 91l1-5M124 90l1-5M130 89l1-3M133 88l1 8M138 89l1 11M143 89l1 10M148 86l1-1M151 88l1 9M154 90l1 7M161 87l1 9M164 88l1 0 1 7M167 86l1-1 1-2M172 87l1-2M178 85l1 1M182 86l1 9M184 87l1-2M186 86l1-1"/>
<path class="b" d="M4 104l1-2M11 103l1-13M16 103l1-10M38 104l1-2 1-9M42 102l1 0 1-9M58 102l1-3M60 101l1 2 1-4M63 101l1-3M73 101l1 0 1-2M80 101l1 1 1-14M90 100l1-2M97 99l1 0M99 100l1-12M111 100l1-11M118 99l1-11M139 100l1-12M144 99l1-3M153 98l1-8M155 97l1-11M171 97l1-10"/>
<path class="k" d="M9 89l1 2M12 90l1 1 1 2M82 88l1 0M113 86l1 0 1 5M116 86l1-1 1 14M122 85l1 10M125 85l1 2M127 85l1 2M131 86l1 2M135 85l1 12M149 85l1 9M169 83l1 2"/>
<path class="o" d="M10 91l1 12M18 93l1 0 1-1 1-1 1 2M27 90l1 8M46 90l1 11M49 91l1 1M52 92l1 5M55 92l1-2M66 91l1 2M69 90l1 0 1 8M83 88l1 5M86 89l1 10M93 90l1 9M95 88l1 1M100 88l1 10M104 90l1 0M106 86l1 11M112 89l1-3M119 88l1 10M121 85l1 0M126 87l1-2M128 87l1 10M132 88l1 0M140 88l1 7M142 87l1 2M146 86l1-2 1 2M156 86l1 9M159 86l1 0 1 1M163 85l1 3M170 85l1 12M173 85l1 1 1 8M176 85l1 8M179 86l1 8M185 85l1 1M187 85l1 9"/>
</g>
<g transform="matrix(2.3365 1.0825 0 -6.3880 577.3 880.3)"><path class="y" d="M1 94l1 6 1-5 1-5 1 1 1 10 1-8 1-1 1 11 1-3 1 2 1 0 1 1 1 0 1-9 1-1 1 6 1 2 1-9 1 8 1-9 1 11 1-10 1-2 1 13 1-2 1 2 1-8 1 6 1-10 1-1 1 10 1-8 1-1 1 2 1-1 1-2 1-1 1 0 1 12 1-2 1-8 1 2 1 7 1 0 1 1 1-12 1 3 1 5 1 4 1-10 1 8 1-10 1-1 1 15 1-4 1-7 1-1 1 0 1-2 1-1 1 4 1-1 1 9 1-10 1 10 1 2 1-4 1-1 1 3 1-10 1 10 1-10 1 2 1 1 1 6 1 1 1-2 1-11 1 1 1 1 1 10 1-1 1 1 1-11 1 13 1-10 1 7 1-9 1-1 1 1 1 1 1 10 1-11 1 10 1-2 1-8 1 11 1-11 1 9 1-9 1 2 1-1 1 8 1 2 1-4 1-8 1-1 1 3 1 1 1-1 1 7 1-1 1 0 1 1 1-1 1 2 1-12 1 11 1-7 1 10 1-6 1-10 1 12 1 1 1-2 1 4 1-2 1-8 1 9 1 1 1-5 1 4 1-12 1 13 1-9 1-3 1 8 1-9 1 12 1-10 1 9 1-1 1-11 1 0 1 9 1 4 1-1 1-1 1-8 1 7 1-11 1 1 1 14 1-3 1-2 1-10 1 2 1 8 1 0 1 1 1-1 1 0 1 2 1-1 1-10 1 9 1 1 1-7 1 9 1-14 1 14 1-3 1-8 1 1 1 6 1-7 1 8 1 0 1-9 1 0 1 8 1-8 1 9 1 3 1-1 1-1 1-8"/>
<path class="o" d="M1 94l1 6M4 90l1 1M8 92l1 11M16 93l1 6M21 91l1 11M23 92l1-2 1 13M33 92l1-1 1 2M37 90l1-1M42 91l1 2M47 89l1 3M51 91l1 8M57 92l1-1 1 0 1-2 1-1M63 91l1 9M65 90l1 10M79 87l1 1 1 1M85 88l1 13M89 89l1-1 1 1 1 1 1 10M97 89l1 11M99 89l1 9M101 89l1 2M108 87l1 3M118 86l1 11M134 86l1 13M137 87l1 8M145 85l1 9M153 85l1 14M158 86l1 8M166 85l1 9M171 83l1 14M174 86l1 1M177 86l1 8M183 85l1 9"/>
<path class="g" d="M3 95l1-5M5 91l1 10M7 93l1-1M15 94l1-1M19 92l1 8M28 95l1 6M30 91l1-1M35 93l1-1 1-2M43 93l1 7M48 92l1 5M62 92l1-1M71 90l1 10M73 90l1 2 1 1 1 6M81 89l1 10M87 91l1 7M94 89l1 10M102 91l1-1 1 8M107 88l1-1M109 90l1 1 1-1 1 7M120 90l1 10M129 89l1 9M136 90l1-3M141 88l1 9M150 88l1 7M169 88l1 9M175 87l1 6M180 85l1 0 1 8"/>
<path class="b" d="M9 103l1-3M13 103l1 0 1-9M22 102l1-10M25 103l1-2M27 103l1-8M46 101l1-12M55 103l1-4M67 102l1-4M77 100l1-2M86 101l1-10M93 100l1-11M95 99l1-2M98 100l1-11M105 100l1-4M121 100l1-6M127 99l1-2M130 98l1 1 1-5M133 98l1-12M135 99l1-9M140 98l1-10M147 98l1-1M154 99l1-3M170 97l1-14M172 97l1-3M185 97l1-1 1-1"/>
<path class="k" d="M31 90l1 10M38 89l1 0 1 12M53 89l1-1 1 15M61 88l1 4M123 84l1 12M139 86l1 12M144 85l1 0M152 84l1 1M157 84l1 2"/>
</g>
<g transform="matrix(2.3365 1.0825 0 -6.3880 573.2 881.4)"><path class="y" d="M1 99l1-4 1 4 1 1 1 1 1-12 1 13 1-1 1-10 1 3 1-2 1 12 1-1 1-12 1 9 1 4 1-13 1 2 1 8 1-9 1 9 1-11 1 0 1 11 1-2 1-5 1 7 1 3 1-12 1 9 1 1 1-10 1 8 1-1 1 4 1 0 1-3 1-10 1 12 1-11 1 2 1 6 1 4 1-10 1-2 1 0 1-2 1 13 1-13 1 3 1 8 1-10 1 11 1 2 1-12 1 1 1 10 1-3 1 3 1-4 1 0 1 0 1 2 1-9 1 10 1-11 1 0 1 1 1-1 1-2 1 8 1-7 1 11 1 0 1 1 1-13 1 0 1 3 1 7 1 1 1-1 1-10 1 2 1-2 1 12 1-11 1 8 1 0 1 2 1-1 1 0 1-7 1 0 1 8 1-9 1-2 1 9 1-9 1 9 1-10 1 10 1 0 1 2 1-11 1 2 1 0 1 7 1 1 1 0 1 0 1 0 1-10 1 0 1 1 1-1 1 3 1-3 1 8 1-8 1 9 1 0 1-12 1 11 1-6 1 0 1-4 1 2 1-4 1 15 1-14 1 3 1 3 1-5 1 10 1-6 1 5 1 1 1-1 1 1 1-10 1 8 1-7 1 0 1 7 1 4 1-14 1 1 1 1 1 0 1 10 1-10 1 10 1 0 1-1 1-1 1-8 1 9 1 1 1-9 1 1 1-2 1-2 1 2 1 1 1 10 1 1 1-14 1 3 1 8 1-10 1 7 1-7 1 0 1 8 1 3 1-8 1 6 1-8 1 0 1 8 1 2 1-12 1 9 1-8 1 1 1 7 1-7 1 9"/>
<path class="g" d="M2 95l1 4M9 91l1 3 1-2M26 94l1 7M32 92l1 8M41 93l1 6M44 93l1-2 1 0M50 92l1 8M56 92l1 10M72 89l1 11M78 91l1 7M92 91l1 0 1 8M96 88l1 9M104 88l1 2 1 0 1 7M113 88l1 1M115 88l1 3 1-3M124 90l1 0 1-4M132 91l1-5M135 90l1 5M143 87l1 7M160 88l1-2M170 85l1 7M176 88l1 6M182 84l1 9M184 85l1 1"/>
<path class="k" d="M6 89l1 13M38 90l1 12M47 89l1 13M70 88l1 8M126 86l1 2M128 84l1 15M146 84l1 1 1 1M167 84l1 3"/>
<path class="o" d="M11 92l1 12M14 91l1 9M17 91l1 2 1 8M20 92l1 9M22 90l1 0 1 11M29 92l1 9M40 91l1 2M46 91l1-2M49 89l1 3M52 90l1 11M55 91l1 1M64 91l1 10M66 90l1 0 1 1 1-1 1-2M76 88l1 0 1 3M82 88l1 2 1-2 1 12M86 89l1 8M95 90l1-2M98 88l1 9M100 87l1 10M112 88l1 0M114 89l1-1M117 88l1 8M119 88l1 9M122 85l1 11M127 88l1-4M130 85l1 3 1 3M133 86l1 10M140 86l1 8M142 87l1 0M148 86l1 0 1 10M151 86l1 10M156 86l1 9M159 87l1 1M161 86l1-2 1 2 1 1 1 10M168 87l1 8M172 85l1 0 1 8M178 86l1 0 1 8M185 86l1 7M187 86l1 9"/>
<path class="b" d="M12 104l1-1 1-12M16 104l1-13M28 104l1-12M35 103l1 0 1-3M39 102l1-11M43 103l1-10M48 102l1-13M54 103l1-12M57 102l1-3M59 102l1-4M65 101l1-11M75 101l1-13M85 100l1-11M129 99l1-14M145 98l1-14M165 97l1 1 1-14M175 96l1-8M181 96l1-12"/>
</g>
<g transform="matrix(2.3365 1.0825 0 -6.3880 569.1 882.4)"><path class="y" d="M1 93l1 8 1-10 1 2 1 1 1 10 1-11 1-1 1 10 1 1 1-1 1-12 1-1 1 14 1-12 1 3 1 6 1 1 1-8 1 9 1-11 1 9 1 1 1-12 1 14 1-12 1-1 1 0 1 14 1-13 1-2 1 14 1-12 1 1 1-2 1 2 1-2 1 12 1-12 1 11 1-2 1-8 1 2 1 9 1-1 1-3 1 4 1-13 1 12 1-1 1-10 1 9 1-9 1-1 1 10 1 1 1-10 1-1 1 2 1 1 1-2 1 0 1 3 1 5 1-8 1 12 1-11 1 7 1 5 1-2 1-13 1 13 1 0 1-10 1 0 1 6 1 3 1-3 1-6 1-1 1-2 1 15 1-6 1 3 1-11 1 11 1-13 1 1 1 1 1 3 1-2 1 10 1-11 1 3 1 7 1 0 1-11 1 11 1-10 1 6 1-4 1-3 1 0 1 10 1 0 1 2 1-12 1 3 1-3 1 1 1-1 1 10 1 1 1-2 1 3 1-5 1 5 1-12 1 11 1-4 1-8 1 7 1-5 1 10 1 0 1-2 1 1 1-3 1-8 1 11 1-3 1 2 1-1 1-10 1 13 1-10 1 0 1-2 1-1 1 13 1-12 1 11 1-4 1-6 1-3 1 2 1-1 1 9 1 2 1-9 1 10 1 1 1-11 1 0 1-2 1 13 1-13 1 2 1 7 1-1 1 3 1 1 1 0 1-3 1-8 1 0 1 10 1-4 1-9 1 12 1-11 1 9 1-7 1-1 1 0 1-1 1 1 1 9 1 1 1-12 1 2 1 10 1-12 1 12 1-1 1-10 1 9 1-8"/>
<path class="o" d="M1 93l1 8M3 91l1 2M7 93l1-1 1 10M19 93l1 9M26 91l1-1 1 0 1 14M30 91l1-2 1 14M33 91l1 1 1-2 1 2M39 90l1 11M42 91l1 2M48 89l1 12M53 90l1-1M57 90l1-1 1 2M62 90l1 3M65 90l1 12M71 88l1 13M74 91l1 0M79 91l1-1M81 88l1 15M87 87l1 1 1 1 1 3M93 89l1 3M99 89l1 6M103 88l1 10M107 88l1 3M109 88l1 1M111 88l1 10M121 87l1 7M123 89l1 10M129 87l1 11M134 86l1 13M138 87l1-1M141 87l1 11M146 87l1-1 1 9M155 86l1 13M166 87l1 10M171 85l1 9M173 87l1-1M175 86l1-1 1 1 1 9M180 84l1 2M183 84l1 12M186 85l1 9"/>
<path class="g" d="M4 93l1 1 1 10M15 91l1 3 1 6M21 91l1 9M36 92l1-2 1 12M43 93l1 9M51 90l1 9M54 89l1 10M59 91l1 1 1-2 1 0M63 93l1 5M67 91l1 7M75 91l1 6M80 90l1-2M85 89l1 11M90 92l1-2 1 10M94 92l1 7M97 88l1 11M101 91l1-3 1 0M108 91l1-3M110 89l1-1M118 88l1 11M136 89l1 0 1-2M139 86l1 13M144 88l1-3M150 88l1 10M153 88l1 0 1-2M157 86l1 2 1 7M165 87l1 0M174 86l1 0M181 86l1 10"/>
<path class="b" d="M6 104l1-11M14 103l1-12M20 102l1-11M25 103l1-12M29 104l1-13M32 103l1-12M38 102l1-12M44 102l1-1 1-3M47 102l1-13M49 101l1-1M66 102l1-11M69 103l1-2 1-13M72 101l1 0 1-10M77 100l1-3M82 103l1-6M84 100l1-11M86 100l1-13M92 100l1-11M98 99l1-10M106 100l1-12M113 99l1-2M115 100l1-5M117 100l1-12M119 99l1-4M124 99l1 0 1-2M127 98l1-3M135 99l1-10M140 99l1-12M142 98l1-4M151 98l1 1 1-11M156 99l1-13M161 97l1 1 1 0 1-3M167 97l1-4M179 96l1-12M182 96l1-12M184 96l1-1"/>
<path class="k" d="M12 90l1-1 1 14M24 89l1 14M145 85l1 2M169 84l1 12"/>
</g>
<g transform="matrix(2.3365 1.0825 0 -6.3880 564.9 883.5)"><path class="y" d="M1 104l1-12 1 10 1 0 1 1 1-10 1 7 1 2 1-9 1 0 1 0 1 9 1-3 1-5 1 5 1 3 1-10 1 1 1 8 1-9 1 11 1-9 1-1 1 11 1-9 1 5 1 0 1 0 1 3 1-1 1-1 1-10 1 11 1 1 1-5 1 3 1-3 1-7 1 9 1-6 1-2 1 9 1-3 1-10 1 4 1-2 1 1 1 7 1-3 1-5 1 12 1-9 1-5 1 13 1-11 1 2 1 9 1 1 1 0 1-3 1 2 1 0 1-5 1-6 1 8 1-10 1 12 1-9 1 1 1 0 1 4 1-6 1 10 1 0 1 1 1-15 1 11 1-7 1 8 1 1 1 2 1-12 1 0 1 9 1 0 1-10 1 11 1 0 1-7 1-3 1 11 1-12 1 1 1 7 1-5 1-3 1 1 1 0 1 11 1-11 1 9 1-3 1 6 1-11 1 1 1-5 1 14 1-5 1-10 1 13 1-1 1-9 1 2 1-3 1 14 1-11 1-3 1 13 1-10 1-3 1 10 1-8 1-4 1 4 1 0 1-1 1 0 1 0 1 8 1-10 1 2 1-1 1 0 1 11 1-10 1-2 1 8 1 0 1 3 1-11 1 10 1-8 1-1 1 11 1-1 1-1 1-3 1-3 1-2 1 6 1-7 1 1 1 9 1 1 1-1 1-10 1-1 1 10 1-8 1-1 1 1 1 0 1-3 1 1 1 10 1-1 1-11 1 2 1 11 1-10 1 8 1-11 1 14 1-3 1 1 1-2 1 0 1-7 1 1 1 0 1 10 1-11 1 10 1-11 1-1 1 9 1-11 1 1"/>
<path class="b" d="M1 104l1-12M21 103l1-9M24 104l1-9M29 103l1-1 1-1M33 102l1 1 1-5M51 102l1-9M54 101l1-11M57 101l1 1 1 0 1-3M61 101l1 0 1-5M74 100l1 1 1-15M81 101l1-12M91 100l1-12M99 100l1-11M103 101l1-11M107 100l1-5M115 101l1-11M118 100l1-10M134 98l1-10M144 98l1-1M154 98l1-1 1-10M169 97l1-10M173 98l1-3M175 96l1-2M181 98l1-11M183 97l1-11"/>
<path class="g" d="M2 92l1 10M11 93l1 9M14 94l1 5M18 93l1 8M20 92l1 11M22 94l1-1 1 11M25 95l1 5M40 94l1-2 1 9M49 95l1-5 1 12M52 93l1-5M56 92l1 9M69 92l1 0 1 4M78 90l1 8M89 92l1-3M95 91l1-3 1 1M98 89l1 11M104 90l1 1 1-5M113 90l1-3M116 90l1-3M119 90l1-3M125 89l1-1 1 0M130 86l1 2M133 87l1 11M143 87l1 11M148 90l1-2 1 6M152 88l1 9M159 88l1-1 1 1 1 0 1-3 1 1 1 10M170 87l1 8M179 88l1 0 1 10M182 87l1 10M185 85l1 9"/>
<path class="o" d="M6 93l1 7M9 93l1 0 1 0M17 92l1 1M32 91l1 11M38 91l1 9M44 88l1 4 1-2 1 1 1 7M55 90l1 2M64 90l1 8M66 88l1 12M68 91l1 1M72 90l1 10M76 86l1 11M82 89l1 0 1 9M86 88l1 11M90 89l1 11M92 88l1 1 1 7M97 89l1 0M100 89l1 9M112 88l1 2M114 87l1 14M117 87l1 13M120 87l1 10M122 89l1-4M124 89l1 0M127 88l1 0 1 8M131 88l1-1 1 0M135 88l1-2M140 86l1 10M142 88l1-1M151 87l1 1M156 87l1-1 1 10M168 86l1 11M178 87l1 1M184 86l1-1"/>
<path class="k" d="M53 88l1 13M106 86l1 14M109 85l1 13M123 85l1 4M136 86l1 8M167 84l1 2M172 84l1 14M187 83l1 1"/>
</g>
<g transform="matrix(2.3365 1.0825 0 -6.3880 560.8 884.6)"><path class="y" d="M1 94l1 7 1-9 1 0 1 9 1 1 1-10 1 2 1 9 1-2 1 0 1-10 1-2 1 13 1-9 1 1 1-4 1 12 1-11 1 8 1 1 1 1 1 1 1-8 1 9 1-12 1-1 1 1 1-2 1 5 1 9 1-3 1-6 1-4 1 12 1-9 1 9 1 0 1-12 1 13 1-10 1-1 1-2 1 11 1-1 1-1 1-1 1-9 1 11 1 1 1-10 1 10 1-10 1-2 1 10 1 2 1-11 1-1 1 2 1-2 1 4 1-5 1 1 1 11 1-9 1 10 1-11 1 10 1-1 1 0 1-10 1 12 1-11 1-1 1 2 1 7 1-11 1 12 1-11 1 11 1-7 1 7 1-2 1-8 1-1 1 12 1-2 1-9 1 11 1 0 1-11 1 11 1-3 1 1 1-1 1 4 1-2 1 2 1-10 1 7 1-11 1 0 1 3 1 9 1-8 1 5 1-7 1-3 1 12 1-10 1 1 1 9 1-3 1 2 1-10 1 9 1 1 1-9 1 9 1-1 1-9 1 9 1 2 1-2 1-1 1 2 1 1 1 1 1-10 1 7 1-1 1 1 1 1 1-10 1 10 1 0 1-9 1-1 1-1 1 12 1-14 1 13 1-1 1 1 1-8 1-4 1 0 1 9 1 3 1-10 1 8 1 3 1-12 1-1 1 1 1 9 1 2 1-10 1 8 1 2 1-2 1 1 1-1 1-2 1-8 1 0 1 11 1 1 1-13 1 11 1-10 1 9 1-8 1-1 1-2 1 3 1 1 1 7 1 1 1 0 1 0 1-1 1-10 1 12 1 0 1-13 1 12 1 2"/>
<path class="g" d="M1 94l1 7M4 92l1 9M7 92l1 2 1 9M16 94l1-4M24 94l1 9M30 94l1 9M33 94l1-4M36 93l1 9M41 93l1-1M53 91l1-2M61 93l1-5M65 91l1 10M71 89l1 12M75 91l1 7M81 92l1 7M84 89l1-1M99 91l1 7M103 90l1 9M105 91l1 5M107 89l1-3M121 87l1 9M145 89l1-4M150 87l1 8M155 86l1 9M158 87l1 8M173 86l1-1M176 86l1 1 1 7"/>
<path class="o" d="M3 92l1 0M12 91l1-2 1 13M15 93l1 1M19 91l1 8M26 91l1-1M28 91l1-2M34 90l1 12M39 90l1 13M42 92l1-2 1 11M51 91l1 10M57 90l1-1M59 91l1-2 1 4M62 88l1 1 1 11M67 90l1 10M73 90l1-1 1 2M79 88l1 11M85 88l1 12M88 89l1 11M91 89l1 11M101 87l1 0M110 88l1 1 1 9M115 87l1 9M118 88l1 9M129 89l1 7M134 87l1 10M137 88l1-1 1-1M146 85l1 0M153 86l1-1 1 1M165 85l1 0 1 11M171 85l1 9M174 85l1-2M183 84l1 12"/>
<path class="b" d="M9 103l1-2M23 102l1-8M25 103l1-12M31 103l1-3M35 102l1-9M37 102l1 0 1-12M40 103l1-10M50 101l1-10M52 101l1-10M66 101l1-11M68 100l1-1M72 101l1-11M86 100l1-2M89 100l1 0 1-11M92 100l1-3M96 101l1-2M98 101l1-10M123 98l1-2M128 99l1-10M140 98l1-14M149 97l1-10M152 98l1-12M157 97l1-10M160 97l1-2M168 97l1-13M184 96l1 0 1-13"/>
<path class="k" d="M17 90l1 12M27 90l1 1M29 89l1 5M48 89l1 11M54 89l1 10M58 89l1 2M77 87l1 12M102 87l1 3M108 86l1 12M139 86l1 12M141 84l1 13M147 85l1 9M169 84l1 11M175 83l1 3M186 83l1 12"/>
</g>
<g transform="matrix(2.3365 1.0825 0 -6.3880 556.6 885.7)"><path class="y" d="M1 103l1-8 1 5 1 4 1-10 1 7 1 1 1-1 1-9 1 4 1-1 1 9 1-2 1-10 1 9 1-1 1 1 1-10 1 12 1-11 1 9 1-7 1 6 1 3 1-11 1 7 1 3 1-1 1-3 1 3 1-8 1 0 1 9 1-11 1 0 1 10 1-9 1 2 1 5 1-6 1 7 1-2 1 3 1-10 1-1 1 0 1 0 1 9 1-10 1 4 1 7 1-11 1 3 1 8 1-11 1 1 1 12 1-2 1-2 1 0 1 4 1-3 1 2 1-13 1 11 1-11 1 9 1-7 1-1 1 2 1 10 1-9 1 8 1 0 1 1 1 1 1-5 1-5 1 7 1-8 1 7 1-7 1-2 1 10 1-3 1-8 1 2 1 10 1-11 1 2 1 7 1-9 1 3 1-3 1 3 1-5 1 4 1-3 1 9 1 1 1-2 1 3 1 2 1-11 1 9 1-10 1 9 1-10 1 0 1 1 1 8 1-8 1 0 1-3 1 11 1-10 1 1 1 9 1 1 1-10 1 0 1 0 1-2 1 3 1-1 1 10 1-1 1-8 1-2 1 1 1-1 1 1 1-1 1 12 1-12 1-1 1 8 1 1 1 4 1-12 1 12 1-11 1 0 1-1 1 9 1 0 1 2 1-13 1 0 1 10 1 2 1-1 1 1 1 0 1 0 1-9 1-2 1 10 1-7 1-3 1 0 1 1 1-1 1 1 1 10 1 2 1-11 1-1 1 11 1-13 1 10 1-10 1 11 1-2 1 3 1-1 1-5 1-5 1 1 1-2 1 0 1-1 1 14 1-15 1 5 1 7 1-10 1-1"/>
<path class="g" d="M2 95l1 5M5 94l1 7M9 92l1 4 1-1 1 9M14 92l1 9M20 92l1 9M22 94l1 6M25 92l1 7M31 93l1 0 1 9M38 94l1 5M40 93l1 7M45 90l1 0M50 93l1 7M53 92l1 8M68 90l1-1 1 2M72 92l1 8M78 92l1 7M80 91l1 7M90 91l1 7M93 92l1-3 1 3 1-5M97 91l1-3M104 90l1 9M108 88l1 0M120 88l1 0M122 88l1-2M124 89l1-1M128 89l1-2M131 87l1 1M140 87l1 12M156 88l1-2 1 10M159 89l1-3 1 0M163 86l1 1 1 10M167 88l1-1M179 87l1-2M182 84l1 14M185 88l1 7"/>
<path class="b" d="M4 104l1-10M12 104l1-2M19 103l1-11M24 103l1-11M27 102l1-1M33 102l1-11M57 102l1-2M61 102l1-3M63 101l1-13M71 101l1-9M73 100l1 0 1 1 1 1 1-5M88 100l1-11M102 99l1 2 1-11M105 99l1-10M126 98l1-1M134 99l1-12M139 99l1-12M141 99l1-11M147 98l1-13M151 97l1-1M153 97l1 0M165 97l1 2 1-11M169 98l1-13M175 97l1-1M183 98l1-15"/>
<path class="o" d="M18 91l1 12M34 91l1 0 1 10M37 92l1 2M44 91l1-1M46 90l1 0 1 9M49 89l1 4M52 89l1 3M55 89l1 1 1 12M64 88l1 11M66 88l1 9M70 91l1 10M82 91l1-2 1 10M87 90l1 10M89 89l1 2M92 89l1 3M98 88l1 9M106 89l1 9M109 88l1 1 1 8M112 89l1 0 1-3M117 88l1 9M121 88l1 0M125 88l1 10M129 87l1 1 1-1M132 88l1-1 1 12M135 87l1-1 1 8M142 88l1 0 1-1 1 9M148 85l1 0M161 86l1 1 1-1M168 87l1 11M170 85l1 10M172 85l1 11M178 86l1 1M180 85l1 0 1-1M187 85l1-1"/>
<path class="k" d="M86 88l1 2M96 87l1 4M114 86l1 11M116 87l1 1M123 86l1 3M149 85l1 10M184 83l1 5"/>
</g>
<g transform="matrix(2.3365 1.0825 0 -6.3880 552.5 886.8)"><path class="y" d="M1 95l1-3 1 2 1-2 1 10 1-9 1 1 1-3 1 10 1 2 1-1 1-11 1 0 1 10 1-6 1 5 1-6 1 10 1-10 1 7 1-9 1 10 1-12 1 0 1 11 1-9 1 0 1 0 1 0 1 1 1 7 1-1 1-7 1 9 1 0 1-8 1 7 1 2 1-9 1 8 1-6 1-2 1-2 1 8 1 0 1 3 1 1 1-13 1 8 1 0 1-9 1 14 1-4 1-8 1 2 1 9 1-13 1 1 1 1 1-3 1 2 1-1 1 0 1 11 1-11 1 10 1-7 1 8 1-9 1 7 1-7 1 7 1-7 1 1 1-1 1-3 1 2 1 6 1-5 1 8 1-8 1 7 1 4 1-4 1-5 1 5 1 1 1-10 1 12 1-2 1-8 1 7 1 0 1-1 1 3 1 0 1-1 1 3 1-13 1 0 1 11 1-12 1 4 1 9 1-3 1 0 1-9 1 10 1 2 1-11 1-2 1 10 1-2 1 0 1-5 1 8 1-2 1-7 1-3 1 10 1-1 1-1 1-6 1 9 1-8 1-2 1 1 1 7 1 0 1 0 1 0 1 0 1-1 1-7 1 8 1 0 1-8 1-1 1-1 1 12 1-11 1 8 1 3 1-3 1-9 1 0 1 1 1 10 1 1 1-14 1 5 1-3 1 11 1-14 1 2 1 10 1 0 1-9 1 9 1 0 1 1 1-10 1 10 1-2 1-7 1 1 1 7 1-1 1-6 1-1 1 1 1 5 1-6 1-1 1 1 1-1 1-1 1 9 1-1 1 5 1-6 1 2 1-6 1 6 1 3 1-12 1 11 1-2"/>
<path class="g" d="M1 95l1-3M4 92l1 10M7 94l1-3M13 91l1 10M15 95l1 5M17 94l1 10M19 94l1 7M21 92l1 10M30 93l1 7M39 93l1 8M41 95l1-2 1-2M55 93l1 9M57 89l1 1M65 89l1 10M67 92l1 8M74 92l1-1M76 88l1 2M79 91l1 8M81 91l1 7M85 93l1 5M91 91l1 7M103 92l1 9M107 89l1 10M111 88l1 10M115 91l1 8M118 90l1-3 1 10M123 89l1 9M125 90l1-2M127 89l1 7M134 88l1 8M137 88l1-1 1-1M141 87l1 8M146 86l1 1 1 10M151 89l1-3M158 86l1 9M165 87l1 1 1 7M169 88l1-1 1 1 1 5M175 87l1-1M183 88l1 6"/>
<path class="o" d="M2 92l1 2 1-2M6 93l1 1M8 91l1 10M12 91l1 0M23 90l1 0M26 92l1 0 1 0 1 0 1 1M33 92l1 9M36 93l1 7M43 91l1 8M48 90l1 8M54 91l1 2M58 90l1 1 1-3 1 2 1-1 1 0 1 11M69 91l1 7M71 91l1 7M73 91l1 1M75 91l1-3M77 90l1 6M88 89l1 12M99 89l1 0 1 11M102 88l1 4M110 90l1-2M126 88l1 1M139 86l1 12M145 86l1 0M152 86l1 11M154 83l1 2 1 10M162 86l1 10M173 87l1-1 1 1M176 86l1-1 1 9M186 85l1 11"/>
<path class="b" d="M10 103l1-1M18 104l1-10M22 102l1-12M38 102l1-9M46 102l1 1 1-13M52 103l1-4M56 102l1-13M68 100l1-9M83 102l1-4M89 101l1-2M95 100l1 0 1-1M98 102l1-13M101 100l1-12M104 101l1-3M108 99l1 2 1-11M116 99l1-2M124 98l1-8M140 98l1-11M143 98l1-3M149 98l1-14M153 97l1-14M180 98l1-6M185 97l1-12M187 96l1-2"/>
<path class="k" d="M24 90l1 11M51 89l1 14M150 84l1 5"/>
</g>
<g transform="matrix(2.3365 1.0825 0 -6.3880 548.3 887.8)"><path class="y" d="M1 102l1 0 1-2 1 3 1-11 1 8 1 4 1-3 1-10 1 3 1-1 1 7 1 3 1-11 1 10 1-10 1 9 1-10 1 14 1-15 1 9 1-6 1 9 1 1 1-13 1 10 1 2 1-11 1 8 1-10 1 4 1-3 1 9 1-8 1-1 1 3 1 8 1-12 1 10 1-10 1 13 1-10 1-1 1 0 1 2 1-6 1 5 1 11 1-10 1-3 1 8 1-7 1 2 1 6 1 4 1-16 1 3 1 9 1 0 1 0 1 0 1-1 1 0 1-10 1 12 1-10 1 10 1-9 1 10 1-9 1 6 1-9 1 11 1 2 1-4 1-4 1 1 1-6 1 11 1-10 1 10 1-11 1 2 1-1 1 7 1-7 1 1 1-2 1 9 1-9 1 10 1-11 1 12 1-1 1-8 1-2 1 0 1 1 1 7 1-7 1 1 1 7 1 3 1-14 1 3 1-1 1 9 1-11 1 1 1 2 1 8 1-7 1-4 1 1 1 7 1-7 1-1 1 11 1 0 1-11 1 2 1-1 1 6 1-7 1 9 1 1 1-2 1-10 1 2 1 11 1 0 1-11 1 0 1 11 1-10 1-1 1 11 1-3 1-9 1 1 1 8 1-9 1 2 1-1 1 7 1 5 1 0 1-13 1 3 1 8 1-1 1 1 1-9 1 10 1-2 1-7 1-2 1 9 1-11 1 1 1 3 1 5 1-7 1-3 1 15 1-2 1-11 1 0 1 9 1 0 1 3 1-14 1 12 1-1 1 0 1-1 1 1 1-10 1 0 1 1 1-2 1 3 1 5 1-6 1 0 1 9 1-7 1-2"/>
<path class="b" d="M4 103l1-11M7 104l1-3M13 103l1-11M19 105l1-15M23 102l1 1 1-13M27 102l1-11M41 102l1-10M48 103l1-10M55 103l1-16M69 101l1-9M74 102l1-4M91 99l1-11M93 100l1-1 1-8M103 101l1-14M130 98l1 0M134 98l1-10M137 98l1-3M146 99l1 0 1-13M152 97l1-9M154 98l1-2M165 99l1-2 1-11M171 98l1-14M173 96l1-1"/>
<path class="g" d="M5 92l1 8M10 94l1-1M32 90l1 9M36 93l1 8M43 91l1 0M45 93l1-6M47 92l1 11M49 93l1-3M53 93l1 6M70 92l1 6M72 89l1 11M76 94l1 1M80 90l1 10M83 91l1-1M86 90l1 1 1-2M95 91l1-2M97 89l1 1M100 90l1 1 1 7M105 90l1-1 1 9M108 87l1 1M110 90l1 8M112 91l1-4M122 88l1 6M133 87l1 11M139 86l1 1M143 88l1-1M149 89l1 8M153 88l1 10M156 89l1-2 1 9M161 89l1 5M163 87l1-3M167 86l1 0M180 86l1-2M182 87l1 5M187 88l1-2"/>
<path class="o" d="M9 91l1 3M11 93l1 7M14 92l1 10M16 92l1 9M18 91l1 14M22 93l1 9M25 90l1 10M28 91l1 8M31 93l1-3M34 91l1-1M38 89l1 10M42 92l1-1M44 91l1 2M46 87l1 5M50 90l1 8M52 91l1 2M57 90l1 9M64 88l1 12M66 90l1 10M68 91l1 10M78 89l1 11M82 89l1 2M84 90l1 7M88 89l1 9M90 89l1 10M92 88l1 12M96 89l1 0M98 90l1 7M109 88l1 2M114 88l1 7M116 88l1-1 1 11M120 87l1 2 1-1M124 87l1 9M128 85l1 2 1 11M132 87l1 0M135 88l1-1 1 11M140 87l1 8M142 86l1 2M144 87l1 7M148 86l1 3M159 85l1 1 1 3M164 84l1 15M168 86l1 9M172 84l1 12M178 85l1 0 1 1M181 84l1 3M184 86l1 0 1 9"/>
<path class="k" d="M20 90l1 9M30 89l1 4M35 90l1 3M40 89l1 13M56 87l1 3M104 87l1 3M113 87l1 1"/>
</g>
<g transform="matrix(2.3365 1.0825 0 -6.3880 544.2 888.9)"><path class="y" d="M1 90l1 1 1 1 1 12 1-1 1-10 1 2 1-1 1 6 1 0 1 1 1-9 1-1 1 8 1-6 1 8 1-8 1 4 1-5 1 8 1-8 1 11 1-11 1 1 1 7 1-11 1 2 1 12 1-9 1 8 1-3 1 3 1-9 1 7 1 0 1 2 1-10 1-2 1 1 1 11 1-13 1 13 1-3 1-6 1 6 1 3 1-1 1 1 1-4 1 3 1-8 1 6 1 0 1-7 1-1 1 7 1 1 1-9 1 0 1 1 1 0 1-1 1-1 1 9 1-7 1 9 1-10 1 9 1-6 1 7 1-11 1 12 1-11 1 1 1 0 1 9 1-12 1-1 1-1 1 11 1-9 1 13 1-3 1 3 1 0 1-1 1 1 1-1 1-10 1 8 1-9 1 11 1-11 1-4 1 14 1-2 1 3 1-3 1-8 1 9 1 0 1-10 1 4 1 5 1 2 1 0 1-8 1 5 1-7 1 10 1-13 1 3 1 9 1 1 1-11 1 1 1 8 1-8 1 2 1 8 1-13 1 10 1-6 1 8 1-11 1-1 1 1 1 9 1 3 1-11 1 2 1 7 1 0 1-7 1 9 1-1 1-8 1 1 1 4 1 3 1-11 1-2 1 14 1-3 1-8 1 9 1-11 1 12 1-1 1-9 1 1 1-1 1 7 1-10 1 1 1 10 1 1 1-11 1 13 1-2 1-1 1-11 1 12 1-2 1-7 1 5 1 3 1 1 1 0 1-11 1 8 1 2 1-9 1-1 1-1 1 1 1 1 1 10 1-2 1-3 1 6 1-2 1-12 1 13 1-3 1-8 1 11 1-12"/>
<path class="k" d="M1 90l1 1M26 89l1 2M77 88l1-1 1-1M94 85l1 14M111 86l1 3M154 85l1 1"/>
<path class="o" d="M2 91l1 1 1 12M12 92l1-1M17 93l1 4M21 92l1 11M23 92l1 1 1 7M38 90l1 1 1 11M41 89l1 13M55 91l1 7M59 90l1 1 1 0 1-1M65 91l1 9M67 90l1 9M73 90l1 1M75 91l1 9M79 86l1 11M89 90l1 8M99 89l1 9M102 88l1 4M115 88l1 1 1 8M121 86l1 10M126 86l1 1M130 88l1 2M142 85l1 14M155 86l1 10M158 86l1 13M162 85l1 12M170 86l1 8M174 86l1-1 1 1 1 1M186 86l1 11"/>
<path class="b" d="M4 104l1-1M22 103l1-11M28 103l1-9M30 102l1-3M32 102l1-9M36 102l1-10M40 102l1-13M42 102l1-3M46 102l1-1M48 102l1-4M66 100l1-10M72 101l1-11M82 101l1-3M84 101l1 0 1-1 1 1 1-1 1-10M92 100l1-11M97 100l1-3M110 99l1-13M114 99l1-11M120 99l1-13M129 99l1-11M135 99l1-1 1-8M140 98l1-11M143 99l1-3M148 98l1-1 1-9M157 97l1-11M159 99l1-2 1-1M163 97l1-2M168 97l1 0 1-11M172 96l1-9M178 97l1-2M181 98l1-2 1-12M184 97l1-3M187 97l1-12"/>
<path class="g" d="M6 93l1 2 1-1 1 6M13 91l1 8M15 93l1 8M19 92l1 8M27 91l1 12M29 94l1 8M33 93l1 7M37 92l1-2M44 93l1 6M51 93l1 6M54 92l1-1M58 90l1 0M62 90l1-1 1 9M69 93l1 7M71 89l1 12M74 91l1 0M81 88l1 13M91 89l1 11M93 89l1-4M103 92l1 5M107 91l1 5M109 89l1 10M112 89l1 9M118 89l1 2 1 8M123 90l1 8M125 87l1-1M127 87l1 9M131 90l1 7M134 90l1 9M137 90l1 1 1 4M141 87l1-2M145 88l1 9M147 86l1 12M150 88l1 1 1-1 1 7M165 88l1 5M173 87l1-1M177 87l1 10M183 84l1 13"/>
</g>
<g transform="matrix(2.3365 1.0825 0 -6.3880 540.1 890.0)"><path class="y" d="M1 94l1 8 1-3 1 3 1-7 1 8 1-2 1 0 1-10 1 1 1-1 1 8 1 3 1-9 1 9 1-10 1 8 1-7 1 6 1-7 1 12 1-12 1 9 1 2 1-12 1 11 1-9 1-2 1 7 1-8 1 2 1 1 1 7 1-11 1 14 1-10 1 8 1 0 1 2 1-12 1 10 1-11 1 0 1 8 1 1 1 4 1-12 1-1 1-1 1 4 1 7 1-7 1-3 1 10 1-3 1-6 1-2 1 10 1 0 1 2 1-2 1-1 1 4 1-10 1 11 1-11 1 7 1-9 1 9 1-7 1 7 1-9 1 8 1 1 1 0 1-8 1 7 1 0 1 1 1-10 1 9 1-9 1 2 1 0 1-2 1 2 1 7 1-6 1 8 1-12 1 9 1-6 1 6 1-6 1-1 1 1 1-2 1 2 1-1 1-3 1 13 1-5 1 3 1-8 1-4 1 4 1 10 1-14 1 10 1-7 1 10 1-3 1-9 1 2 1 10 1-9 1 1 1 8 1-1 1 0 1 0 1-10 1 10 1-12 1 11 1 0 1 2 1-12 1 2 1 8 1 2 1-14 1 1 1 11 1-9 1 0 1 8 1 1 1-9 1-1 1-1 1 11 1-8 1-1 1 11 1-12 1 8 1-6 1-3 1 10 1 1 1-1 1-11 1 14 1-3 1-11 1 13 1-3 1-9 1 0 1 2 1 5 1-6 1-3 1 13 1-11 1 1 1 0 1-2 1 9 1-4 1-6 1 12 1-3 1 3 1 0 1 0 1-11 1 12 1-11 1 1 1-4 1 10 1-10 1 1 1 11 1-10 1 10"/>
<path class="g" d="M1 94l1 8M5 95l1 8M11 91l1 8M16 92l1 8M31 92l1 1 1 7M36 93l1 8M42 90l1 0 1 8M47 91l1-1M50 93l1 7M52 93l1-3 1 10M64 92l1 11M66 92l1 7M70 92l1 7M76 91l1 7M82 89l1 2 1 0 1-2M86 91l1 7M88 92l1 8M90 88l1 9M92 91l1 6M94 91l1-1M96 91l1-2M98 91l1-1M106 90l1 10M116 90l1 1 1 8M122 88l1 10M129 89l1 8M135 88l1 0M141 86l1 11M143 89l1-1 1 11M148 89l1-3 1 10M161 88l1 5M168 87l1-2M171 90l1-6M185 84l1 11"/>
<path class="b" d="M6 103l1-2M21 104l1-12M24 103l1-12M35 103l1-10M39 103l1-12M46 103l1-12M60 101l1-2M63 102l1-10M65 103l1-11M89 100l1-12M101 100l1-5M107 100l1-14M111 99l1-3M115 99l1-9M118 99l1-1M120 98l1 0M127 99l1-12M131 99l1-14M145 99l1-12M151 97l1-1M154 99l1-3M157 98l1-3M165 97l1-11M177 96l1-11M179 97l1-11"/>
<path class="o" d="M9 91l1 1 1-1M14 93l1 9M18 93l1 6M20 92l1 12M22 92l1 9M25 91l1 11M27 93l1-2 1 7M30 90l1 2M40 91l1 10M48 90l1-1 1 4M56 91l1-2 1 10M68 90l1 9M72 90l1 8M80 89l1 9M85 89l1 2M95 90l1 1M97 89l1 2M99 90l1-3 1 13M104 90l1-4 1 4M108 86l1 10M110 89l1 10M113 87l1 2 1 10M128 87l1 2M133 86l1 11M136 88l1 8M139 88l1-1 1-1M146 87l1 8M153 85l1 14M156 85l1 13M159 86l1 0 1 2M163 87l1-3 1 13M166 86l1 1 1 0M169 85l1 9M172 84l1 12M178 85l1 12M180 86l1 1 1-4 1 10M187 85l1 10"/>
<path class="k" d="M34 89l1 14M124 86l1 11M132 85l1 1M184 83l1 1"/>
</g>
<g transform="matrix(2.3365 1.0825 0 -6.3880 535.9 891.1)"><path class="y" d="M1 102l1-9 1 0 1 1 1 10 1-9 1 7 1-7 1 6 1 2 1-3 1-7 1 1 1 9 1-13 1 12 1-11 1 12 1-10 1 10 1-11 1 8 1-5 1 6 1 2 1-9 1 7 1 1 1-11 1 10 1 0 1 1 1-12 1 10 1-7 1 9 1-10 1-1 1-1 1 2 1-2 1 11 1 0 1-11 1-1 1 2 1 10 1-3 1 0 1 3 1-9 1 9 1-2 1-9 1 2 1 7 1 1 1-9 1 2 1-4 1 1 1-1 1 0 1 9 1-4 1 5 1-10 1 9 1-7 1 8 1-8 1-1 1 1 1-1 1 0 1 8 1-9 1 1 1 1 1 7 1-1 1 0 1 4 1 2 1-5 1 3 1-12 1 11 1-8 1 7 1-11 1 10 1-11 1 10 1 1 1 0 1 2 1-3 1-2 1-9 1 2 1 0 1 2 1 7 1 0 1 1 1-10 1 10 1-9 1 10 1-11 1 1 1 10 1-2 1-10 1 11 1 1 1-12 1 3 1-4 1 0 1 12 1-10 1 9 1-9 1 2 1 7 1-2 1 5 1-13 1 1 1 9 1 0 1-10 1 2 1 7 1-8 1-5 1 12 1 3 1-2 1-6 1 7 1 0 1-11 1 12 1-11 1-1 1 7 1-8 1 2 1 0 1 12 1-14 1 3 1 9 1 2 1-13 1 8 1 3 1-4 1-4 1 6 1-1 1-8 1 9 1-1 1 1 1 3 1-13 1 9 1 3 1-9 1-1 1-3 1 1 1 2 1 10 1-13 1 12 1-1 1-11 1 1 1 1 1 8 1-9 1 10 1-9"/>
<path class="o" d="M2 93l1 0 1 1M12 93l1 1M17 91l1 12M33 90l1 10M37 92l1-1 1-1 1 2M41 90l1 11M44 90l1-1 1 2 1 10M54 90l1 2M58 91l1 2M60 89l1 1M62 89l1 0 1 9M67 89l1 9M71 91l1-1 1 1M78 90l1 1 1 7M87 89l1 11M91 88l1 10M93 87l1 10M101 88l1 0 1 2 1 7M107 88l1 10M109 89l1 10M111 88l1 1 1 10M115 87l1 11M118 87l1 3M120 86l1 0 1 12M123 88l1 9M125 88l1 2M134 87l1 2M137 88l1-5M145 86l1 12M147 87l1-1M150 85l1 2 1 0M154 85l1 3M165 86l1 9M176 85l1 2 1 10M184 86l1 8"/>
<path class="g" d="M4 94l1 10M6 95l1 7M8 95l1 6M13 94l1 9M19 93l1 10M21 92l1 8M23 95l1 6M26 94l1 7M29 91l1 10M35 93l1 9M40 92l1-2M51 92l1 9M55 92l1 7M59 93l1-4M61 90l1-1M65 94l1 5M69 91l1 8M73 91l1-1 1 0 1 8M77 89l1 1M89 92l1 7M119 90l1-4M126 90l1 7M130 87l1 1 1 9M135 89l1 7M142 90l1 7M148 86l1 7M152 87l1 12M155 88l1 9M158 86l1 8M162 89l1 6M170 85l1 9M173 88l1-1 1-3M179 84l1 12M183 85l1 1M186 85l1 10"/>
<path class="b" d="M5 104l1-9M10 103l1-3M14 103l1-13M18 103l1-10M20 103l1-11M25 103l1-9M36 102l1-10M83 101l1 2 1-5M86 101l1-12M88 100l1-8M90 99l1-11M97 100l1-3M110 99l1-11M113 99l1-2M117 99l1-12M129 100l1-13M140 98l1-2M143 97l1 0M146 98l1-11M153 99l1-14M156 97l1 2 1-13M160 97l1-4M169 98l1-13M172 97l1-9M178 97l1-13"/>
<path class="k" d="M15 90l1 12M100 86l1 2M138 83l1 12M175 84l1 1M182 84l1 1"/>
</g>
<g transform="matrix(2.3365 1.0825 0 -6.3880 531.8 892.1)"><path class="y" d="M1 93l1 8 1-10 1 11 1-11 1 12 1-10 1 9 1-10 1 3 1-3 1 12 1-3 1-10 1 10 1-8 1 8 1-8 1 7 1-6 1 0 1-4 1 11 1-9 1 1 1 6 1-5 1-1 1 10 1-12 1 1 1-2 1 12 1-12 1 13 1-12 1 13 1-4 1-1 1-1 1 2 1-9 1-1 1 11 1-1 1 0 1-12 1 3 1 0 1-3 1 11 1-9 1 0 1 9 1 3 1-12 1 0 1 9 1 0 1 2 1 1 1-2 1 0 1-12 1 10 1-6 1 9 1-12 1 10 1-6 1 7 1 1 1-2 1-1 1 3 1-10 1 7 1 0 1-2 1-5 1-1 1-2 1 3 1-3 1 1 1 0 1-2 1 2 1 7 1-7 1 8 1-6 1 9 1-11 1-2 1 2 1-1 1 1 1 1 1 6 1 3 1-2 1 2 1-10 1 0 1-3 1 14 1-12 1 10 1-11 1 10 1 0 1-8 1-1 1 0 1 1 1-3 1 12 1 1 1-1 1-1 1-10 1 13 1-12 1 9 1 0 1-7 1-3 1 3 1 9 1-2 1-9 1-3 1 11 1 4 1-13 1 12 1-1 1-12 1 13 1-11 1 9 1-10 1 3 1 8 1-12 1 12 1-4 1-8 1 11 1-1 1 0 1-8 1 10 1-4 1-8 1 12 1-2 1-10 1 7 1-7 1 2 1-2 1 1 1 9 1-10 1 1 1 0 1-3 1 12 1-12 1 2 1 12 1-2 1-1 1-3 1 0 1-5 1 7 1-8 1 0 1 11 1-2 1 0 1-11 1 12 1-11 1 9"/>
<path class="o" d="M1 93l1 8M3 91l1 11M5 91l1 12M9 92l1 3M11 92l1 12M14 91l1 10M16 93l1 8M28 93l1 10M30 91l1 1 1-2M42 91l1-1 1 11M47 88l1 3M57 90l1 9M68 89l1 10M81 90l1-2 1 3M84 88l1 1 1 0 1-2M88 89l1 7M90 89l1 8M95 87l1 2 1-1 1 1 1 1M104 89l1 0M106 86l1 14M108 88l1 10M110 87l1 10M114 88l1 0 1 1 1-3M122 87l1 13M124 88l1 9M128 87l1 3M132 88l1-3 1 11M139 86l1 13M141 88l1 9M146 86l1 12M149 86l1 11M156 86l1 12M159 86l1 7M161 86l1 2M163 86l1 1 1 9M169 84l1 12M171 84l1 2M181 86l1 11M187 85l1 9"/>
<path class="g" d="M7 93l1 9M10 95l1-3M18 93l1 7M20 94l1 0 1-4M24 92l1 1 1 6M27 94l1-1M36 91l1 13M48 91l1 0 1-3M52 90l1 0 1 9M56 90l1 0M66 92l1 9M70 93l1 7M76 91l1 7M80 91l1-1M83 91l1-3M92 91l1 9M94 89l1-2M99 90l1 6M105 89l1-3M113 89l1-1M127 90l1-3M129 90l1 9M136 87l1 12M143 87l1 3 1 8M153 88l1 10M162 88l1-2M166 86l1 1 1 0 1-3M172 86l1 12M178 87l1 7M180 86l1 0"/>
<path class="b" d="M12 104l1-3M29 103l1-12M33 102l1-12M35 103l1-12M37 104l1-4M44 101l1-1M55 102l1-12M60 101l1 1 1-2M67 101l1-12M71 100l1 1 1-2M75 101l1-10M93 100l1-11M103 99l1-10M107 100l1-12M119 99l1-1M123 100l1-12M130 99l1-2M135 100l1-13M137 99l1-1 1-12M140 99l1-11M145 98l1-12M147 98l1-4M154 98l1-4M157 98l1-2M170 96l1-12M173 98l1-2M182 97l1-2M186 96l1-11"/>
<path class="k" d="M22 90l1 11M32 90l1 12M34 90l1 13M50 88l1 11M64 88l1 10M87 87l1 2M117 86l1 12M185 84l1 12"/>
</g>
<g transform="matrix(2.3365 1.0825 0 -6.3880 527.6 893.2)"><path class="y" d="M1 102l1-9 1 8 1-11 1 13 1-10 1 9 1-9 1 9 1-2 1-1 1-6 1 0 1 10 1-11 1 10 1-12 1 11 1-11 1 12 1-7 1 9 1-10 1 7 1-1 1-8 1 11 1-2 1-10 1 10 1 0 1-1 1-9 1 0 1 0 1 10 1-9 1-1 1 1 1 0 1 1 1 8 1-1 1 0 1-7 1 0 1 8 1-1 1 2 1 1 1-9 1 6 1 0 1-8 1 0 1 5 1 1 1-6 1-2 1-2 1 1 1 0 1 11 1 0 1-9 1 7 1-8 1 8 1 1 1-2 1-7 1 0 1-1 1 2 1-1 1 9 1-10 1 1 1 3 1 4 1-1 1-6 1 10 1-2 1-11 1 10 1 0 1 3 1-10 1 7 1-8 1 7 1-6 1 5 1 4 1-1 1 1 1 2 1-5 1-6 1 1 1-2 1-1 1-2 1 12 1-1 1-7 1 8 1-10 1 11 1-1 1-9 1 8 1 1 1 1 1-9 1 8 1-9 1 0 1 2 1-2 1 7 1-9 1 10 1 0 1-11 1 11 1 4 1-5 1-8 1 0 1 6 1 2 1-8 1-2 1 10 1-6 1-3 1 0 1 1 1 9 1-10 1 10 1-11 1 0 1 12 1-9 1-1 1 7 1-11 1 2 1 1 1-2 1 2 1-2 1 7 1 4 1-9 1 0 1-3 1 12 1-1 1-2 1 4 1-14 1 4 1 9 1 0 1 2 1-11 1 10 1-1 1-13 1 5 1-4 1 4 1-3 1 10 1-10 1 8 1 0 1-6 1-1 1-2 1 9 1-6 1 9 1-12"/>
<path class="o" d="M2 93l1 8M6 93l1 9M12 93l1 0 1 10M15 92l1 10M17 90l1 11M19 90l1 12M29 91l1 10M33 91l1 0 1 0 1 10M37 92l1-1 1 1 1 0M55 92l1 5M61 89l1 0M71 90l1 0 1-1 1 2 1-1 1 9M77 89l1 1M82 90l1 10M85 87l1 10M102 89l1-1M109 88l1 11M118 89l1 0M121 89l1 7M123 87l1 10M126 86l1 11M130 88l1 0M134 88l1-2M138 87l1 0 1 1 1 9M142 87l1 10M144 86l1 0 1 12M148 88l1 7M150 84l1 2 1 1 1-2M154 87l1-2M158 87l1 0M160 84l1 12M166 87l1 9M170 87l1 10M173 83l1 5M177 85l1 10M183 86l1-2"/>
<path class="k" d="M4 90l1 13M60 88l1 1M104 86l1 12M135 86l1 10M155 85l1 7M165 83l1 4M175 84l1 4"/>
<path class="g" d="M8 93l1 9M21 95l1 9M23 94l1 7M26 92l1 11M40 92l1 1 1 8M45 93l1 0 1 8M51 94l1 6M54 92l1 0M58 92l1-2 1-2M62 89l1 11M65 91l1 7M67 90l1 8M78 90l1 3 1 4M89 90l1 7M91 89l1 7M93 90l1 5M100 90l1 1 1-2M103 88l1-2M107 90l1 8M112 89l1 8M116 90l1 8M119 89l1 2 1-2M131 88l1 6M137 90l1-3M147 89l1-1M153 85l1 2M159 87l1-3M174 88l1-4M176 88l1-3M179 85l1 8M182 87l1-1M184 84l1 9M186 87l1 9"/>
<path class="b" d="M14 103l1-11M22 104l1-10M27 103l1-2M49 102l1 1 1-9M83 100l1-2M88 100l1-10M98 101l1-5M110 99l1-1M115 99l1-9M128 101l1-5M141 97l1-10M146 98l1-9M164 97l1-14M169 98l1-11M171 97l1-1M187 96l1-12"/>
</g>
<g transform="matrix(2.3365 1.0825 0 -6.3880 523.5 894.3)"><path class="y" d="M1 92l1 10 1-11 1 11 1-11 1 9 1-5 1 8 1-11 1-1 1-1 1 9 1 0 1-7 1 12 1-12 1 1 1-1 1 8 1-8 1 8 1-6 1 0 1 0 1-1 1 9 1-12 1 3 1 10 1-4 1-6 1 0 1 7 1 3 1 1 1-13 1 10 1 1 1-2 1 0 1 1 1-9 1-3 1 3 1 11 1-4 1-8 1 1 1 1 1-1 1 8 1-9 1 0 1 7 1 0 1-8 1 3 1 0 1 7 1 1 1-3 1 2 1-8 1-3 1 11 1-8 1 8 1-8 1-4 1 2 1 10 1 0 1-3 1 3 1-5 1-8 1 3 1 12 1-4 1-6 1-1 1 8 1-10 1 9 1 1 1-11 1 3 1 1 1 7 1-8 1 8 1-6 1 8 1-14 1 10 1-5 1-1 1-2 1-1 1 12 1-1 1-2 1-1 1 2 1-11 1 1 1 3 1-2 1 9 1-10 1-2 1 13 1 1 1-14 1 1 1 12 1-11 1 12 1 0 1-4 1 0 1-9 1 11 1-3 1-7 1 9 1-10 1 12 1-12 1 12 1-2 1-10 1 2 1 7 1 1 1-9 1 10 1-1 1 1 1-1 1-1 1 0 1-8 1 10 1-2 1-10 1 1 1 9 1-10 1 12 1-3 1 1 1-7 1-3 1 9 1-10 1-1 1 12 1 0 1 1 1-8 1-3 1 0 1 1 1 7 1 2 1-9 1 0 1-1 1 9 1-7 1-4 1 2 1 8 1-1 1 3 1-4 1-7 1 12 1-10 1-1 1 7 1 2 1-1 1-9 1 10 1-13 1 12"/>
<path class="g" d="M1 92l1 10M7 95l1 8M9 92l1-1M14 92l1 12M16 92l1 1 1-1M22 94l1 0 1 0 1-1M28 93l1 10M31 93l1 0 1 7M44 92l1 11M47 91l1 1 1 1 1-1M52 91l1 0M57 93l1 0 1 7M63 92l1-3M66 92l1 8M68 92l1-4M77 90l1 12M80 92l1-1 1 8M83 89l1 9M86 88l1 3 1 1 1 7M90 91l1 8M92 93l1 8M96 92l1-1 1-2 1-1M107 91l1-2 1 9M122 87l1 11M127 87l1 12M133 89l1 7M153 89l1-3M161 89l1-3M164 87l1 7M168 87l1-1M171 88l1-4M178 85l1 12M180 87l1-1"/>
<path class="o" d="M3 91l1 11M5 91l1 9M10 91l1-1M18 92l1 8M20 92l1 8M25 93l1 9M36 91l1 10M42 92l1-3M50 92l1 8M53 91l1 7M56 90l1 3M64 89l1 11M69 88l1 2 1 10M76 87l1 3M99 88l1 12M105 87l1 1 1 3M110 88l1-2M115 87l1 12M117 88l1 12M125 88l1 9M129 87l1 12M132 87l1 2M136 88l1 10M143 88l1 10M146 86l1 1 1 9M149 86l1 12M154 86l1 9M156 85l1-1 1 12M162 86l1 0 1 1M167 87l1 0M169 86l1 9M173 86l1 8M181 86l1 7M185 85l1 10M187 82l1 12"/>
<path class="b" d="M8 103l1-11M15 104l1-12M26 102l1-12M29 103l1-4M34 103l1 1 1-13M38 102l1-2M45 103l1-4M60 101l1-3M78 102l1-4M93 101l1-14M100 100l1-1 1-2M112 99l1 1 1-14M116 99l1-11M118 100l1 0 1-4M128 99l1-12M130 99l1-2M137 98l1-1M139 98l1-1M144 98l1-2M150 98l1-3M160 97l1-8M176 96l1-4M179 97l1-10"/>
<path class="k" d="M11 90l1 9M27 90l1 3M43 89l1 3M94 87l1 10M111 86l1 13M114 86l1 1M172 84l1 2"/>
</g>
<g transform="matrix(2.3365 1.0825 0 -6.3880 519.4 895.4)"><path class="y" d="M1 103l1-9 1 0 1 0 1 9 1-9 1 7 1-8 1 8 1 2 1 1 1-11 1 0 1 8 1-8 1 9 1 2 1 0 1-12 1 8 1-8 1 8 1 1 1-2 1 4 1-11 1 9 1-2 1-8 1-1 1 1 1 9 1-8 1 0 1-2 1 3 1-1 1-1 1-2 1 0 1 2 1 11 1-4 1 5 1-11 1-1 1 8 1 3 1-9 1 7 1-10 1 10 1-3 1-8 1 12 1-1 1 2 1-3 1-9 1 2 1-1 1-1 1 11 1-2 1-10 1 12 1-11 1 8 1 1 1-11 1 2 1 0 1 2 1-3 1 0 1 13 1-1 1-9 1-2 1 8 1 0 1-9 1 11 1-9 1 6 1 1 1-1 1 3 1-11 1 8 1-9 1 11 1-10 1 9 1-10 1 11 1 0 1-2 1-11 1 3 1 10 1-12 1 2 1 1 1 6 1 4 1-2 1 0 1-12 1 11 1 0 1-11 1 3 1 11 1-1 1-9 1 8 1-9 1 1 1-2 1 1 1 10 1-12 1 3 1 7 1-7 1 7 1-9 1 11 1-12 1-1 1 3 1 9 1-8 1-3 1 10 1-9 1-1 1-1 1 1 1-2 1 0 1 11 1-3 1-6 1 11 1-3 1-8 1 10 1-9 1-1 1 2 1 6 1 3 1-11 1 9 1 0 1-8 1-4 1 1 1 10 1 3 1 0 1-5 1-6 1-4 1 2 1 11 1-1 1-1 1 2 1-2 1 1 1-9 1 1 1 9 1-1 1 1 1-11 1 10 1-7 1-4 1-2 1 2 1 3 1-1 1 9 1-7"/>
<path class="g" d="M2 94l1 0M4 94l1 9M6 94l1 7M8 93l1 8M21 92l1 8M31 91l1 9M35 90l1 3 1-1M41 91l1 11M49 93l1 7M59 90l1 2 1-1M67 90l1 8M73 92l1-3M75 89l1 13M78 92l1-2M84 91l1 6M103 89l1 1 1 6M116 90l1 8M119 90l1-2M123 87l1 3 1 7M126 90l1 7M132 89l1 9M134 90l1-3M137 88l1-1M140 87l1-2M150 88l1-1 1 2 1 6M158 88l1-4M175 87l1 9M181 88l1-4M185 87l1-1 1 9"/>
<path class="o" d="M3 94l1 0M12 93l1 0 1 8M15 93l1 9M19 92l1 8M26 92l1 9M29 91l1-1M33 92l1 0 1-2M37 92l1-1 1-2M45 92l1-1 1 8M51 90l1 10M61 91l1-1 1 11M70 88l1 2 1 0 1 2M74 89l1 0M79 90l1 8M82 89l1 11M89 89l1 8M91 88l1 11M93 89l1 9M95 88l1 11M100 89l1 10M102 87l1 2M113 89l1 11M118 89l1 1M120 88l1 1 1 10M128 88l1 11M130 87l1-1M135 87l1 10M138 87l1-1 1 1M141 85l1 0 1 11M145 87l1 11M148 87l1 10M155 87l1 9M160 85l1 10M165 87l1-4 1 2 1 11M174 86l1 1M179 85l1 10M182 84l1-2"/>
<path class="b" d="M11 104l1-11M17 104l1 0 1-12M25 103l1-11M42 102l1-4M44 103l1-11M48 102l1-9M55 101l1-1M57 102l1-3M63 101l1-2M66 101l1-11M76 102l1-1 1-9M83 100l1-9M88 100l1-11M106 100l1-2M114 100l1-1 1-9M117 98l1-9M122 99l1-12M129 99l1-12M133 98l1-8M146 98l1-3M154 98l1-11M162 98l1 0 1-5M171 96l1-2"/>
<path class="k" d="M30 90l1 1M39 89l1 0 1 2M54 89l1 12M65 89l1 12M99 86l1 3M109 86l1 11M112 86l1 3M131 86l1 3M159 84l1 1M183 82l1 2 1 3"/>
</g>
<g transform="matrix(2.3365 1.0825 0 -6.3880 515.2 896.4)"><path class="y" d="M1 93l1 9 1-1 1-9 1 1 1 7 1-8 1 9 1-7 1 2 1-3 1 9 1 1 1-10 1 8 1-11 1 4 1-3 1 10 1-7 1 9 1-10 1-3 1 5 1-3 1 9 1-8 1-1 1 6 1 5 1-2 1-11 1 13 1-4 1 2 1-1 1 0 1 0 1 2 1-3 1 3 1-9 1-3 1 0 1 11 1 1 1-8 1-4 1 11 1-13 1 12 1-8 1-4 1 10 1-9 1 4 1 6 1-7 1 6 1 2 1-1 1 2 1-4 1-7 1 10 1-10 1 7 1-5 1 0 1 7 1-1 1 2 1 1 1-3 1 1 1-7 1-4 1 13 1-1 1-10 1 0 1 6 1-7 1 11 1-7 1-2 1-4 1 4 1 8 1-9 1 0 1-2 1 8 1-5 1 9 1-11 1-3 1 3 1-2 1 14 1-13 1 1 1 11 1-1 1-12 1-1 1 4 1-2 1 8 1-10 1 0 1 13 1-2 1-8 1 0 1 7 1-8 1 8 1-8 1 11 1-1 1-8 1-4 1 2 1 1 1 9 1-11 1 12 1-11 1 10 1-2 1 1 1-8 1 10 1-1 1-9 1 8 1-2 1 1 1 0 1-2 1 2 1-9 1 0 1 11 1-8 1-3 1 7 1-10 1 11 1 0 1 5 1-11 1-4 1 10 1-10 1-1 1 14 1-2 1-2 1-6 1-2 1 1 1-1 1 8 1 2 1-1 1-7 1-3 1 3 1 0 1-4 1 0 1 11 1-10 1 1 1 7 1-9 1 11 1-10 1 11 1 0 1-2 1 2 1-1 1-1 1-8 1 8"/>
<path class="o" d="M1 93l1 9M4 92l1 1 1 7M7 92l1 9M11 93l1 9M18 91l1 10M23 90l1 5M25 92l1 9M27 93l1-1 1 6M43 90l1 0 1 11M48 90l1 11M52 92l1-4M55 89l1 4M64 90l1 10M66 90l1 7M77 88l1 13M80 90l1 0 1 6M83 89l1 11M87 87l1 4M91 90l1-2M97 86l1 3 1-2 1 14M105 87l1-1 1 4 1-2 1 8M110 86l1 0 1 13M114 89l1 0 1 7M123 86l1 2 1 1M127 87l1 12M143 87l1 0 1 11M149 84l1 11M154 85l1 10M157 84l1 14M162 86l1 1 1-1 1 8M180 85l1 11M187 86l1 8"/>
<path class="g" d="M9 94l1 2 1-3M14 93l1 8M17 94l1-3M20 94l1 9M22 93l1-3M24 95l1-3M32 90l1 13M42 93l1-3M47 94l1-4M56 93l1 6M58 92l1 6M68 92l1 0 1 7M76 92l1-4M85 93l1-2 1-4M88 91l1 8M90 90l1 0M92 88l1 8M94 91l1 9M96 89l1-3M101 88l1 1 1 11M117 88l1 8M119 88l1 11M122 90l1-4M125 89l1 9M129 88l1 10M133 89l1 10M136 89l1 8M146 90l1-3 1 7M153 89l1-4M161 88l1-2M168 88l1-3 1 3 1 0 1-4M175 85l1 1 1 7"/>
<path class="b" d="M13 103l1-10M21 103l1-10M30 103l1-2M33 103l1-4M39 102l1-3M41 102l1-9M45 101l1 1 1-8M62 101l1-4M72 100l1 1 1-3M78 101l1-1 1-10M84 100l1-7M95 100l1-11M100 101l1-13M103 100l1-1M112 99l1-2M120 99l1-1 1-8M126 98l1-11M128 99l1-11M134 99l1-1 1-9M145 98l1-8M152 100l1-11M158 98l1-2M181 96l1 0M184 96l1-1"/>
<path class="k" d="M16 90l1 4M50 88l1 12M53 88l1 10M156 85l1-1M172 84l1 0 1 11M178 84l1 11"/>
</g>
<g transform="matrix(2.3365 1.0825 0 -6.3880 511.1 897.5)"><path class="y" d="M1 101l1-9 1 0 1 8 1 1 1-8 1 7 1 4 1-1 1-2 1 3 1-13 1 1 1 8 1-7 1 11 1-3 1-2 1-6 1-1 1 1 1 7 1 1 1 0 1-2 1-7 1 9 1-2 1-8 1-1 1 0 1 12 1-10 1 0 1 2 1-2 1-1 1 1 1-3 1 13 1-10 1 8 1-1 1-1 1-7 1-2 1 13 1-2 1-10 1 10 1-8 1 8 1 2 1-10 1 9 1-3 1-7 1 8 1-8 1-4 1 3 1-2 1 4 1 7 1-10 1 11 1-12 1 11 1-7 1-2 1-1 1 3 1-4 1 1 1 4 1 8 1-3 1-10 1 3 1 8 1-4 1-7 1 9 1-7 1 6 1 3 1-2 1 1 1-8 1 7 1 0 1 0 1-7 1 6 1-6 1 6 1 1 1 3 1-12 1 1 1 12 1-3 1-9 1 1 1 5 1 4 1 0 1-2 1-9 1 10 1-2 1-10 1 12 1 1 1-1 1-9 1 6 1-7 1 11 1-12 1-1 1 10 1 1 1 0 1 0 1-10 1 12 1-13 1 12 1-10 1 2 1-1 1 6 1-7 1-1 1 11 1-10 1 0 1 0 1-1 1-1 1 12 1-4 1 4 1-9 1 8 1-10 1 1 1 7 1-10 1 1 1 3 1 10 1-3 1 0 1 1 1 0 1-10 1-3 1 1 1 11 1 0 1-4 1 6 1-13 1-1 1 2 1 10 1-1 1 2 1-13 1 10 1 1 1-9 1 8 1 3 1-11 1 9 1-11 1 2 1 1 1 11 1-11 1-3 1-1 1 2 1 10 1-12"/>
<path class="g" d="M2 92l1 0M15 93l1 11M21 93l1 7M35 94l1-2 1-1M49 90l1 10M51 92l1 8M54 92l1 9M63 92l1 7M69 92l1-2M72 92l1-4M75 93l1 8M79 91l1 8M82 88l1 9M84 90l1 6M93 90l1 6M116 89l1 6M118 88l1 11M126 87l1 12M128 86l1 12M131 90l1-1 1 6M137 88l1 0M139 88l1-1 1-1M145 89l1 8M148 88l1 7M152 89l1 10M158 87l1-3M167 86l1 10M174 86l1 8M177 86l1 9M180 86l1 1 1 11M183 87l1-3"/>
<path class="o" d="M3 92l1 8M6 93l1 7M12 91l1 1 1 8M19 93l1-1 1 1M26 92l1 9M29 91l1-1 1 0 1 12M33 92l1 0 1 2M37 91l1 1 1-3 1 13M41 92l1 8M45 91l1-2M57 91l1 8M59 91l1-4 1 3 1-2 1 4M67 88l1 11M70 90l1-1 1 3M74 89l1 4M78 88l1 3M89 90l1 7M95 90l1 6M99 88l1 1 1 12M103 89l1 1 1 5M109 88l1 10M120 87l1-1 1 10M130 88l1 2M134 88l1-1 1 11M138 88l1 0M141 86l1 12M147 87l1 1M150 85l1 1 1 3M159 84l1 1 1 11M165 85l1-1M171 84l1 10M179 84l1 2M184 84l1-1 1 2 1 10"/>
<path class="b" d="M8 104l1-1 1-2M11 104l1-13M16 104l1-3M32 102l1-10M40 102l1-10M47 102l1-2M53 102l1-10M55 101l1-3M76 101l1-3M98 100l1-12M101 101l1-3M106 99l1 0 1-2M114 99l1-1M119 99l1-12M127 99l1-13M136 98l1-10M142 98l1-4M144 98l1-9M153 99l1-3M156 97l1 0 1-10M164 98l1-13M170 97l1-13M176 97l1-11M182 98l1-11"/>
<path class="k" d="M46 89l1 13M65 89l1 11M73 88l1 1M112 86l1 12M166 84l1 2"/>
</g>
<g transform="matrix(2.3365 1.0825 0 -6.3880 506.9 898.6)"><path class="y" d="M1 93l1 10 1 1 1-11 1-1 1 2 1-3 1 1 1-2 1 1 1 0 1 10 1-1 1-7 1 9 1-9 1-2 1 2 1 8 1-10 1 11 1-10 1 1 1 0 1 0 1 8 1-9 1 13 1-1 1-2 1-3 1-7 1 7 1-1 1 1 1-1 1 3 1 1 1-2 1-10 1 12 1-9 1-2 1 0 1 10 1-1 1-10 1 1 1 8 1-11 1 11 1-10 1 3 1 6 1-10 1 3 1 10 1-9 1 9 1 0 1-1 1 2 1-13 1-1 1 12 1-11 1 9 1-7 1 10 1-2 1 0 1 0 1 1 1-2 1 1 1-8 1 1 1 9 1-4 1-7 1 0 1 7 1-6 1 7 1-7 1-4 1 4 1-3 1 9 1-7 1 0 1-3 1 11 1-10 1 9 1-8 1-1 1 4 1 6 1 2 1-12 1 0 1 9 1 0 1 2 1-11 1 9 1-11 1 14 1-10 1-5 1 14 1-13 1 3 1-1 1 9 1-7 1 7 1-1 1 3 1-3 1-7 1-3 1 2 1 0 1 7 1-8 1 12 1-9 1 6 1 2 1 1 1-11 1 6 1 4 1-14 1 10 1 3 1 0 1-2 1 0 1-6 1 6 1-7 1-2 1 10 1 0 1 0 1-8 1 11 1-2 1 1 1-14 1 5 1-2 1 2 1 0 1 8 1-3 1-1 1-10 1 5 1-1 1 0 1 8 1 0 1-2 1-9 1 3 1-3 1 11 1-6 1-4 1 12 1-8 1-2 1 10 1-1 1-3 1 2 1 0 1-10 1 6 1 5 1 0 1-2 1-6 1 8"/>
<path class="g" d="M1 93l1 10M6 94l1-3M8 92l1-2M11 91l1 10M14 93l1 9M18 93l1 8M23 93l1 0 1 0 1 8M42 93l1-2M58 92l1 9M68 91l1 10M77 92l1 9M80 90l1 0M83 91l1 7M85 91l1-4M87 91l1-3M94 88l1 9M98 92l1 6M102 88l1 9M110 90l1-5M114 89l1-1 1 9M117 90l1 7M125 88l1 7M129 90l1 6M133 88l1 6M142 89l1 6M145 86l1 10M149 88l1 11M154 89l1-2M156 89l1 0 1 8M162 88l1-1M172 89l1-4M175 89l1-2M187 88l1 8"/>
<path class="b" d="M3 104l1-11M21 102l1-10M28 105l1-1 1-2M38 102l1-2M41 102l1-9M57 101l1-9M59 101l1 0 1-1M62 102l1-13M69 101l1-2M78 101l1-4M100 100l1-12M105 99l1-11M109 100l1-10M112 99l1-13M120 99l1-3M128 99l1-9M131 98l1 1 1-11M135 98l1-14M150 99l1-2M152 98l1-14M158 97l1-3M174 97l1-8M177 97l1-1M184 96l1 0 1-2"/>
<path class="o" d="M4 93l1-1 1 2M10 91l1 0M16 93l1-2 1 2M20 91l1 11M22 92l1 1M27 92l1 13M32 92l1 7M40 90l1 12M43 91l1 0 1 10M47 90l1 1 1 8M52 89l1 3 1 6M56 91l1 10M63 89l1-1M66 89l1 9M76 91l1 1M81 90l1 7M86 87l1 4M88 88l1 9M90 90l1 0 1-3M96 89l1-1 1 4M101 88l1 0M106 88l1 9M111 85l1 14M113 86l1 3M122 89l1-3M124 88l1 0M127 87l1 12M136 84l1 10M144 88l1-2M153 84l1 5M155 87l1 2M163 87l1 0 1 8M169 87l1-3 1 11M173 85l1 12M176 87l1 10M182 85l1 6"/>
<path class="k" d="M7 91l1 1M9 90l1 1M50 88l1 11M55 88l1 3M64 88l1 12M92 87l1 11M108 86l1 14M123 86l1 2M161 83l1 5M168 84l1 3"/>
</g>
<g transform="matrix(2.3365 1.0825 0 -6.3880 502.8 899.7)"><path class="y" d="M1 101l1-7 1-2 1 9 1-1 1 4 1-4 1 2 1 1 1-11 1 8 1-8 1 9 1 3 1-12 1 9 1 0 1 1 1-8 1 6 1-6 1 6 1 0 1 0 1-9 1 3 1-2 1-2 1 3 1-1 1-2 1 11 1-11 1 0 1 2 1-1 1 0 1 0 1 0 1 11 1-10 1 9 1-4 1 3 1-7 1-1 1 8 1-1 1-10 1 12 1-10 1 8 1-1 1-7 1 1 1 9 1-9 1 8 1-7 1-2 1-1 1 7 1 0 1 1 1-6 1 8 1-11 1 12 1-8 1-2 1-1 1-1 1 11 1-9 1-1 1 11 1-4 1-7 1 2 1 6 1-1 1-6 1-1 1-2 1 10 1-1 1-1 1 3 1-8 1 7 1 3 1-3 1-10 1 12 1 0 1 0 1-2 1 0 1-8 1 1 1-3 1 10 1-9 1-3 1 3 1 10 1-11 1 3 1-2 1 11 1 0 1-10 1 10 1-4 1 2 1-11 1 11 1-10 1 2 1-5 1 1 1 11 1 1 1-9 1 11 1-10 1 5 1-5 1 0 1-1 1 1 1-4 1 11 1-9 1-4 1 14 1-11 1 0 1 9 1-10 1-1 1 14 1-13 1 12 1 1 1-13 1-1 1 2 1 9 1-8 1-1 1 0 1 9 1 0 1-1 1 2 1 0 1-8 1-2 1-1 1 11 1-2 1-3 1 2 1-8 1-1 1 2 1 9 1-3 1 5 1-2 1-3 1 3 1 2 1-2 1 0 1-11 1 0 1 2 1-2 1 2 1 9 1-11 1 0 1 0 1 1 1 10 1-9"/>
<path class="o" d="M2 94l1-2 1 9M10 92l1 8M25 91l1 3M28 90l1 3M30 92l1-2 1 11M33 90l1 0 1 2M38 91l1 0 1 11M41 92l1 9M46 92l1 8M49 89l1 12M51 91l1 8M60 91l1-1 1 7M67 89l1 12M70 91l1-1 1-1 1 11M83 90l1-2 1 10M93 88l1 12M101 88l1 10M103 89l1-3M105 89l1 10M107 88l1 3M109 89l1 11M116 87l1 11M132 86l1 11M134 88l1-4 1 14M138 87l1 9M140 86l1-1 1 14M143 86l1 12M146 86l1-1M151 87l1 0 1 9M159 87l1-1 1 11M167 87l1 9M177 85l1 0 1 2M180 85l1 2M183 85l1 0M185 85l1 1 1 10"/>
<path class="b" d="M6 104l1-4M9 103l1-11M14 104l1-12M18 102l1-8M40 102l1-10M42 101l1-4M50 101l1-10M56 101l1-9M68 101l1-8M73 100l1-9M76 101l1-4M91 101l1-3M94 100l1 0 1 0 1-2M106 99l1-11M110 100l1 0 1-10M113 100l1-4M117 98l1-10M125 100l1-10M136 98l1-11M142 99l1-13M144 98l1 1 1-13M156 97l1 0 1-8M161 97l1-2M170 98l1-2M174 98l1-2 1 0 1-11M182 96l1-11M187 96l1-9"/>
<path class="g" d="M12 92l1 9M15 92l1 9M19 94l1 6M21 94l1 6M26 94l1-2 1-2M29 93l1-1M35 92l1-1 1 0 1 0M45 93l1-1M54 91l1 1 1 9M57 92l1 8M59 93l1-2M65 92l1 8M69 93l1-2M74 91l1-1 1 11M78 90l1 2 1 6M82 91l1-1M89 91l1 7M99 90l1 1 1-3M108 91l1-2M112 90l1 10M118 88l1 2 1-5M124 89l1 11M126 90l1 5M128 90l1 0 1-1 1 1 1-4M137 87l1 0M148 87l1 9M150 88l1-1M158 89l1-2M165 86l1-1 1 2M179 87l1-2M181 87l1 9M184 85l1 0"/>
<path class="k" d="M104 86l1 3M120 85l1 1 1 11M147 85l1 2"/>
</g>
<g transform="matrix(2.3365 1.0825 0 -6.3880 498.6 900.8)"><path class="y" d="M1 93l1 8 1 2 1-10 1-2 1-1 1 3 1-1 1 0 1 10 1-8 1 8 1-11 1 4 1-5 1 0 1 11 1-12 1 14 1-12 1 11 1-3 1-6 1-1 1 7 1 0 1 0 1 1 1-2 1 5 1-2 1-10 1 10 1 2 1-3 1 0 1-2 1 4 1-2 1-9 1 7 1-9 1 0 1 4 1 8 1-2 1-8 1-2 1 13 1-8 1 4 1-5 1-1 1 5 1-8 1 2 1 8 1-9 1 8 1 1 1 3 1-10 1-4 1 3 1 13 1-15 1 8 1-7 1 9 1 2 1-1 1-2 1-9 1 9 1 1 1-11 1 5 1 5 1 0 1-9 1 9 1 0 1-7 1 6 1 4 1-10 1 0 1-3 1 12 1-10 1-3 1 1 1 11 1-9 1 1 1 0 1 2 1 0 1 5 1 3 1-2 1-10 1 8 1 2 1-1 1-8 1 9 1 1 1-1 1 0 1-11 1 8 1-8 1 1 1-1 1 9 1-8 1 8 1 2 1-2 1-1 1-9 1 1 1 8 1-8 1 9 1-9 1 7 1 0 1 3 1 2 1-3 1-8 1 6 1 3 1-10 1-1 1 10 1-12 1 11 1-1 1-8 1 6 1 4 1-8 1 7 1 0 1-2 1-6 1 10 1-3 1 1 1-8 1 2 1-2 1-2 1 1 1 9 1-1 1 1 1-9 1 1 1-4 1 3 1 10 1-2 1-8 1-3 1 2 1 3 1-6 1 1 1 3 1-1 1 0 1-3 1 11 1-1 1 3 1-12 1 11 1-9 1 9 1-2 1 3 1-4 1-8 1 9"/>
<path class="o" d="M1 93l1 8M6 90l1 3 1-1 1 0 1 10M15 90l1 0 1 11M18 89l1 14M20 91l1 11M23 93l1-1 1 7M32 91l1 10M42 89l1 0 1 4M47 91l1-2 1 13M58 90l1 8M64 91l1 13M66 89l1 8M68 90l1 9M73 89l1 9M76 88l1 5M80 89l1 9M83 91l1 6M88 88l1 12M90 90l1-3 1 1 1 11M94 90l1 1M102 89l1 8M111 88l1 8M114 89l1-1M122 87l1 1 1 8M125 88l1 9M127 88l1 7M136 88l1-1 1 10M142 87l1 6M149 88l1 10M157 87l1 9M161 87l1 1M164 87l1 10M167 87l1-3 1 2 1 3M171 83l1 1 1 3M174 86l1 0 1-3M187 84l1 9"/>
<path class="g" d="M4 93l1-2M11 94l1 8M13 91l1 4 1-5M40 91l1 7M44 93l1 8M50 94l1 4M52 93l1-1 1 5M56 91l1 8M62 92l1-4M77 93l1 5M86 91l1 0 1-3M95 91l1 0 1 2 1 0 1 5M106 90l1 9M113 88l1 1M115 88l1 9M117 89l1 8M133 89l1 6M145 89l1 7M153 88l1 2 1-2 1-2 1 1M162 88l1-4M170 89l1-6M173 87l1-1M182 86l1 9"/>
<path class="k" d="M5 91l1-1M55 89l1 2M63 88l1 3M139 85l1 11M163 84l1 3M176 83l1 11M180 84l1 11"/>
<path class="b" d="M19 103l1-12M30 103l1-2M34 103l1-3M38 102l1-2M49 102l1-8M61 102l1-10M65 104l1-15M70 101l1-1 1-2M85 101l1-10M89 100l1-10M100 101l1-2 1-10M104 99l1-1M108 100l1-1 1 0 1-11M119 99l1-2M130 98l1 2 1-3M135 98l1-10M144 97l1-8M150 98l1-3M165 97l1-2M179 96l1-12M185 96l1-4"/>
</g>
<g transform="matrix(2.3365 1.0825 0 -6.3880 494.5 901.8)"><path class="y" d="M1 99l1-7 1-1 1 11 1 1 1-1 1 1 1-2 1 2 1-11 1 7 1 2 1-1 1 0 1 1 1 0 1-8 1 9 1 3 1-3 1-8 1-4 1 2 1 9 1-9 1-1 1 11 1-9 1 0 1 8 1-9 1 11 1-10 1-1 1 1 1-1 1-1 1 1 1 0 1 7 1-8 1 10 1 0 1 1 1-11 1 0 1-1 1 11 1-13 1 12 1-8 1 6 1-1 1-9 1 10 1-1 1-7 1 13 1-13 1 9 1-9 1 7 1 3 1-1 1-9 1 8 1-8 1 11 1-12 1 3 1-3 1-1 1 12 1-9 1 0 1 8 1-10 1 3 1-3 1 10 1-8 1 0 1 8 1-8 1-1 1 8 1-10 1 11 1-9 1 8 1 3 1-1 1-11 1 11 1-1 1 0 1-3 1-6 1-3 1 1 1 0 1 10 1-11 1-1 1 5 1-6 1 2 1 3 1 0 1-4 1 1 1 11 1-1 1 1 1 1 1-11 1 11 1-11 1 1 1-1 1 0 1 10 1-2 1-7 1 8 1-8 1 6 1-6 1-3 1 3 1-2 1 4 1 6 1 1 1-11 1 8 1 0 1 3 1 0 1-11 1-2 1 10 1 2 1 0 1-1 1-8 1-1 1 0 1 6 1-5 1 0 1-4 1 14 1 0 1-12 1 9 1 1 1-10 1 0 1-2 1 10 1 1 1-1 1 3 1-11 1-1 1 10 1-8 1 8 1 2 1-1 1-1 1-10 1 13 1-1 1-15 1 4 1-1 1 0 1 11 1-11 1 10 1-12 1 4 1-2 1-1 1 9 1-9"/>
<path class="o" d="M2 92l1-1 1 11M10 92l1 7M17 93l1 9M22 90l1 2M25 92l1-1 1 11M31 92l1 11M34 92l1 1M36 92l1-1 1 1 1 0M41 91l1 10M46 91l1-1 1 11M49 88l1 12M51 92l1 6M54 88l1 10M57 90l1 13M61 90l1 7M65 90l1 8M67 90l1 11M71 89l1-1M77 89l1 3M85 90l1 8M89 90l1 8M93 89l1 11M98 90l1-3M100 88l1 0M103 87l1-1M107 87l1 3M110 86l1 1 1 11M116 88l1 11M118 88l1 1M120 88l1 0 1 10M124 89l1 8M126 89l1 6M131 87l1 4M140 87l1-2 1 10M146 88l1-1M152 84l1 14M155 86l1 9M158 86l1 0 1-2 1 10M165 86l1-1 1 10M177 86l1-1 1 0 1 11M183 83l1 4"/>
<path class="b" d="M9 103l1-11M18 102l1 3 1-3M32 103l1-10M44 102l1-11M48 101l1-13M58 103l1-13M68 101l1-12M73 100l1-9M91 101l1-1 1-11M94 100l1-1M115 99l1-11M117 99l1-11M134 98l1-11M138 98l1 0 1-11M153 98l1 0 1-12M164 97l1-11M170 97l1-1 1-1M174 98l1-1 1-15M180 96l1-11"/>
<path class="g" d="M21 94l1-4M23 92l1 9M28 93l1 0 1 8M33 93l1-1M35 93l1-1M39 92l1 7M45 91l1 0M59 90l1 9M69 89l1 3 1-3M74 91l1 0 1 8M78 92l1-3 1 10M81 91l1 0 1 8M84 91l1-1M87 88l1 11M101 88l1 10M105 91l1-6M108 90l1 0 1-4M119 89l1-1M128 89l1-3M130 89l1-2M132 91l1 6M135 87l1 8M147 87l1 0 1 6M150 88l1 0 1-4M168 87l1 8M173 85l1 13M181 85l1 10M184 87l1-2 1-1 1 9"/>
<path class="k" d="M72 88l1 12M99 87l1 1M104 86l1 5M106 85l1 2M129 86l1 3M176 82l1 4"/>
</g>
<g transform="matrix(2.3365 1.0825 0 -6.3880 490.4 902.9)"><path class="y" d="M1 91l1 10 1 3 1-10 1 1 1-3 1 0 1-2 1 14 1-15 1 1 1 5 1-2 1-2 1 4 1-3 1 12 1-10 1-1 1-2 1 11 1 2 1-3 1-10 1 9 1-1 1-5 1 7 1 3 1-12 1 9 1-10 1 0 1 10 1-3 1-7 1 11 1-2 1 2 1 0 1-2 1-8 1 9 1-9 1 6 1 1 1 3 1-9 1 6 1-7 1 9 1-10 1 1 1 7 1-7 1-2 1 10 1-11 1 9 1-7 1 7 1-7 1-2 1 2 1 8 1 2 1 1 1-13 1 11 1-11 1 11 1 0 1-7 1 7 1 1 1-11 1 8 1 1 1 0 1-9 1-1 1 7 1-8 1 9 1 2 1-9 1 6 1-7 1 3 1-1 1-1 1-2 1 9 1-9 1-1 1 3 1-3 1 3 1 11 1-3 1-2 1 1 1 1 1 0 1-2 1 3 1 1 1-2 1 2 1-11 1 6 1-7 1-1 1-1 1 4 1 10 1-10 1 10 1-6 1-6 1 12 1-12 1 8 1-8 1-2 1 12 1-11 1 8 1 2 1 1 1-3 1 3 1-9 1-1 1 7 1-6 1-5 1 5 1-3 1 10 1 1 1-8 1-4 1 4 1-2 1 8 1 2 1-2 1-6 1 7 1 0 1 0 1-9 1-2 1 12 1-12 1 2 1-2 1 14 1-4 1-8 1-2 1 1 1-1 1 9 1 2 1-9 1 7 1-9 1 0 1-1 1 2 1 12 1-14 1 3 1 6 1 2 1-2 1-10 1 13 1-4 1 3 1 2 1 0 1-3 1 3 1-9 1 8"/>
<path class="o" d="M1 91l1 10M7 92l1-2M10 89l1 1 1 5M14 91l1 4M16 92l1 12M19 93l1-2 1 11M24 91l1 9M30 92l1 9M50 92l1 9M52 91l1 1 1 7M58 89l1 9M60 91l1 7M63 89l1 2 1 8M68 89l1 11M70 89l1 11M76 90l1 8M80 90l1-1 1 7M83 88l1 9M88 89l1 3M91 90l1-2 1 9M94 88l1-1 1 3 1-3 1 3M113 87l1-1 1 4M120 88l1 12M124 88l1-2 1 12M134 88l1 7M137 84l1 5M139 86l1 10M145 87l1 8M153 87l1-2 1 12M156 85l1 2 1-2 1 14M161 87l1-2 1 1 1-1 1 9M169 85l1 0 1-1 1 2 1 12M179 83l1 13"/>
<path class="b" d="M3 104l1-10M9 104l1-15M17 104l1-10M22 104l1-3M29 104l1-12M37 102l1-2M39 102l1 0 1-2M47 102l1-9M51 101l1-10M66 101l1 1 1-13M69 100l1-11M71 100l1 0M75 101l1-11M99 101l1-3M107 100l1-2M109 100l1-11M116 100l1-10M118 100l1-6M121 100l1-12M126 98l1-11M130 98l1-3M132 98l1-9M147 97l1-2M155 97l1-12M159 99l1-4M173 98l1-14M180 96l1-4M183 97l1 0 1-3M186 97l1-9"/>
<path class="g" d="M4 94l1 1 1-3 1 0M12 95l1-2 1-2M15 95l1-3M18 94l1-1M27 94l1 7M32 91l1 0 1 10M36 91l1 11M42 92l1 9M44 92l1 6M48 93l1 6M55 92l1-2 1 10M62 91l1-2M73 93l1 7M86 90l1 6M89 92l1-1 1-1M98 90l1 11M110 89l1 6M112 88l1-1M115 90l1 10M117 90l1 10M122 88l1 8M127 87l1 8M133 89l1-1M136 89l1-5M138 89l1-3M142 89l1-4M144 89l1-2M149 89l1 7M167 87l1 7M175 87l1 6M187 88l1 8"/>
<path class="k" d="M8 90l1 14M143 85l1 4M174 84l1 3"/>
</g>
<g transform="matrix(2.3365 1.0825 0 -6.3880 486.2 904.0)"><path class="y" d="M1 102l1-10 1 0 1 10 1-1 1 0 1 0 1-2 1-7 1 10 1-2 1 1 1 1 1 0 1 0 1-1 1-1 1 0 1-1 1 4 1-10 1-2 1 2 1 7 1-7 1-2 1 11 1-13 1 10 1 3 1-8 1 6 1 3 1-9 1-1 1 8 1-11 1 2 1 0 1-1 1 3 1 7 1-9 1 8 1-10 1-1 1 0 1 10 1-7 1 9 1-10 1 10 1 1 1-12 1 9 1-1 1-7 1 7 1-7 1 8 1-11 1 1 1 9 1 2 1-8 1-2 1 1 1 7 1 3 1-3 1-10 1 1 1 10 1-8 1-1 1 11 1-10 1 1 1-1 1 8 1-3 1-8 1 9 1-9 1 1 1 8 1-9 1 15 1-14 1 9 1-1 1 1 1-9 1 11 1 0 1-3 1 3 1-3 1-5 1-4 1-1 1 8 1-8 1 10 1-12 1 5 1-3 1 3 1-1 1 7 1-8 1 11 1-1 1-4 1 4 1-10 1 10 1-9 1 0 1 7 1-10 1 12 1-12 1 9 1 3 1-12 1 12 1-11 1 0 1 2 1 0 1-2 1 9 1-7 1-2 1 9 1-9 1 10 1-2 1-9 1 1 1 9 1 3 1-2 1 1 1-10 1 9 1-2 1 3 1-11 1 7 1-7 1 8 1 2 1-8 1 7 1 1 1-1 1-8 1-2 1 8 1 3 1-11 1 11 1-12 1 1 1 7 1-6 1 9 1-1 1 2 1-4 1 3 1 0 1 1 1-11 1 1 1-2 1 10 1-9 1 2 1-2 1 8 1-7 1 0 1-4 1 3 1 0"/>
<path class="o" d="M2 92l1 0M9 92l1 10M21 93l1-2 1 2 1 7M25 93l1-2 1 11M38 92l1 0 1-1M46 89l1 0M54 90l1 9M57 91l1 7M59 91l1 8M62 89l1 9M66 90l1 1 1 7M71 88l1 1 1 10M74 91l1-1 1 11M77 91l1 1M82 88l1 9M84 88l1 1 1 8M87 88l1 15M100 88l1-1 1 8M103 87l1 10M105 85l1 5M107 87l1 3 1-1 1 7M116 88l1 10M118 89l1 0M121 86l1 12M126 86l1 12M128 87l1 0 1 2M135 87l1 9M146 88l1 9M150 87l1 7M160 86l1 8M163 86l1 11M165 85l1 1 1 7M176 86l1 1M178 85l1 10"/>
<path class="g" d="M3 92l1 10M31 94l1 6M34 94l1-1 1 8M37 90l1 2M40 91l1 3 1 7M43 92l1 8M45 90l1-1M49 92l1 9M51 91l1 10M65 92l1-2M78 92l1-1 1 8M89 89l1 9M93 89l1 11M99 92l1-4M106 90l1-3M111 88l1 11M119 89l1 7M123 86l1 9M130 89l1 0 1-2 1 9M134 89l1-2M137 87l1 10M140 86l1 1 1 9M152 87l1 8M155 89l1 7M159 88l1-2M168 87l1 9M177 87l1-2M180 86l1 2 1-2 1 8M184 87l1 0 1-4M187 86l1 0"/>
<path class="b" d="M20 103l1-10M27 102l1-13M30 102l1-8M33 103l1-9M50 101l1-10M52 101l1 1 1-12M69 101l1-3M76 101l1-10M88 103l1-14M94 100l1 0 1-3M97 100l1-3M112 99l1-1M117 98l1-9M122 98l1-12M127 98l1-11M143 99l1-2M145 98l1-10M149 98l1-11M157 97l1-1M162 97l1-11M164 97l1-12M169 96l1-1M171 97l1-4M173 96l1 0M175 97l1-11"/>
<path class="k" d="M28 89l1 10M47 89l1 10M61 88l1 1M186 83l1 3"/>
</g>
<g transform="matrix(2.3365 1.0825 0 -6.3880 482.1 905.1)"><path class="y" d="M1 91l1 10 1 3 1-10 1-1 1-2 1 3 1-3 1 12 1-11 1 0 1 2 1-3 1 2 1 0 1 3 1 3 1-5 1-1 1 1 1 9 1-2 1-2 1-5 1 1 1 7 1-12 1 2 1 0 1 1 1 5 1-4 1 5 1 2 1-1 1-6 1 6 1-2 1 3 1 0 1-2 1-7 1-3 1 2 1 11 1-4 1 2 1-8 1 9 1-10 1 10 1-12 1 2 1 9 1-10 1 0 1 8 1-9 1 9 1-6 1 7 1-1 1-8 1 10 1 0 1-10 1 12 1-11 1 7 1-8 1 11 1-1 1-9 1 8 1 1 1-9 1 6 1 1 1-10 1 2 1 0 1 7 1-6 1 6 1 1 1-8 1 7 1-9 1 12 1-10 1 0 1-1 1 7 1-10 1 4 1-1 1-1 1 0 1 9 1-1 1 3 1-12 1 11 1 2 1-1 1 1 1-3 1-8 1 10 1-11 1 12 1-10 1-5 1 2 1 2 1 7 1-7 1-1 1 8 1-7 1 9 1-12 1 12 1-12 1 4 1 8 1-12 1 10 1 2 1 0 1 1 1 0 1-10 1 9 1-4 1-8 1 10 1-8 1-3 1 14 1-4 1-6 1 0 1-3 1-1 1 12 1-12 1 3 1-3 1 8 1-7 1 11 1-11 1 8 1 3 1-11 1 0 1 0 1 11 1 0 1-12 1 0 1 12 1-8 1 6 1 2 1-10 1 10 1-9 1-1 1-1 1 1 1-4 1 1 1 3 1 9 1-2 1 4 1-13 1 9 1 3 1-2 1-12 1 3 1 7 1 0 1 0 1 0"/>
<path class="k" d="M1 91l1 10M43 89l1 2M52 89l1 2M94 86l1 4M124 86l1 4M145 85l1 12M162 85l1 12M174 84l1 3M183 83l1 3"/>
<path class="b" d="M3 104l1-10M9 103l1-11M21 103l1-2M45 102l1-4M49 101l1-10M51 101l1-12M67 102l1-11M71 101l1-1M75 100l1-9M89 100l1-10M104 100l1-1 1 1 1-3M109 99l1-11M111 100l1-10M123 98l1-12M129 98l1 0M131 99l1 0 1-10M134 98l1-4M140 99l1-4M152 97l1-11M155 97l1-11M160 97l1-12M163 97l1-8M166 97l1-10M168 97l1-9M176 96l1-2M178 98l1-13M181 97l1-2"/>
<path class="g" d="M4 94l1-1M7 94l1-3M12 94l1-3M15 93l1 3 1 3M18 94l1-1M20 94l1 9M24 94l1 1 1 7M29 92l1 1M32 94l1 5M36 94l1 6M50 91l1 10M56 90l1 8M60 92l1 7M73 91l1 8M83 91l1 6M88 88l1 12M95 90l1-1M98 88l1 9M112 90l1-5M117 89l1-1M122 86l1 12M125 90l1 8M127 86l1 10M142 89l1 0 1-3 1-1M147 85l1 3 1-3M151 86l1 11M156 86l1 0M164 89l1 6M169 88l1-1 1-1 1 1M175 87l1 9"/>
<path class="o" d="M5 93l1-2 1 3M8 91l1 12M10 92l1 0 1 2M13 91l1 2 1 0M19 93l1 1M27 90l1 2 1 0M30 93l1 5M42 92l1-3M44 91l1 11M48 92l1 9M53 91l1 9M55 90l1 0M58 89l1 9M63 90l1 10M66 90l1 12M68 91l1 7M70 90l1 11M76 91l1 6M79 88l1 2 1 0 1 7M86 90l1 7M90 90l1 0 1-1 1 7M96 89l1-1 1 0M102 87l1 11M108 89l1 10M110 88l1 12M113 85l1 2 1 2 1 7M118 88l1 8M120 89l1 9M133 89l1 9M136 86l1 10M138 88l1-3 1 14M149 85l1 8M153 86l1 8M157 86l1 0 1 11M161 85l1 0M167 87l1 10M172 87l1-4 1 1M179 85l1 9M184 86l1 7"/>
</g>
<g transform="matrix(2.3365 1.0825 0 -6.3880 477.9 906.1)"><path class="y" d="M1 103l1-10 1 0 1 10 1-2 1 1 1-1 1-10 1 1 1 9 1 3 1-2 1-1 1 1 1-1 1 0 1-9 1 2 1 8 1 0 1-13 1 4 1 8 1 0 1 0 1-9 1 7 1 1 1-9 1 11 1-12 1 14 1-10 1-4 1 2 1 9 1 2 1-13 1 1 1-2 1 4 1 7 1 3 1-10 1 0 1 0 1-1 1 9 1-8 1 9 1-12 1 11 1 2 1-11 1 6 1-1 1-6 1 9 1-1 1 3 1-10 1 0 1 6 1-8 1-2 1 3 1 7 1 3 1-11 1-1 1-1 1 0 1 9 1-9 1 3 1 8 1-10 1 0 1 8 1 3 1-3 1-6 1 8 1-9 1-2 1 11 1-11 1 9 1-9 1 9 1 2 1 2 1-13 1 12 1-3 1 0 1 3 1 1 1-12 1 0 1-2 1 13 1-11 1-1 1 1 1 0 1-2 1 12 1-9 1 8 1-10 1 10 1-1 1-1 1 1 1-7 1 8 1-1 1-8 1 8 1-8 1 6 1 3 1 0 1-8 1-1 1 9 1-12 1 2 1-2 1 11 1-6 1 5 1-8 1-1 1 7 1 3 1 1 1-3 1-9 1 3 1 8 1-6 1 4 1-1 1-9 1 13 1-1 1 0 1-11 1 12 1-12 1 10 1-10 1 3 1 9 1-3 1-8 1-1 1-1 1 11 1-12 1 2 1 9 1-10 1 12 1 0 1-10 1 10 1-1 1 3 1-14 1 12 1 1 1-3 1-10 1 3 1-5 1 10 1-6 1-2 1 8 1 2 1-2 1-10 1 2 1-2 1 4"/>
<path class="g" d="M2 93l1 0M9 92l1 9M18 94l1 8M22 93l1 8M33 94l1-4M41 93l1 7M44 93l1 0 1 0 1-1 1 9M49 93l1 9M61 92l1 0 1 6M69 90l1-1 1-1M74 88l1 3 1 8M82 91l1 8M99 89l1 0M106 89l1-2M109 90l1 8M111 88l1 10M116 90l1 8M125 90l1-1 1 9M129 88l1-2M132 91l1 5M141 89l1 8M143 91l1 4M155 89l1 9M160 85l1 11M168 87l1 10M176 85l1 3 1-5M180 87l1-2"/>
<path class="o" d="M3 93l1 10M8 91l1 1M17 92l1 2M26 92l1 7M29 91l1 11M34 90l1 2 1 9M38 90l1 1 1-2 1 4M51 90l1 11M54 92l1 6M57 91l1 9M64 90l1-2M66 91l1 7M71 88l1 0 1 9M77 89l1 0 1 8M84 90l1-2 1 11M87 88l1 9M89 88l1 9M93 88l1 12M100 89l1-2 1 13M103 89l1-1 1 1 1 0M107 87l1 12M119 89l1 8M121 89l1 6M128 86l1 2M134 88l1-1 1 7M140 86l1 3M150 86l1 12M152 86l1 10M154 86l1 3M158 87l1-1 1-1M163 86l1 9M165 85l1 12M172 85l1 12M178 83l1 10M181 85l1 8M185 83l1 2 1-2"/>
<path class="b" d="M11 104l1-2M32 104l1-10M37 103l1-13M43 103l1-10M50 102l1-12M53 103l1-11M60 102l1-10M68 101l1-11M80 100l1-3M92 101l1-13M94 100l1-3M97 100l1 1 1-12M102 100l1-11M108 99l1-9M123 98l1 0 1-8M127 98l1-12M138 98l1-3M147 98l1-1 1 0M151 98l1-12M156 98l1-3M166 97l1 0 1-10M169 97l1-1M171 99l1-14M173 97l1 1 1-3"/>
<path class="k" d="M21 89l1 4M31 90l1 14M65 88l1 3M130 86l1 11M146 85l1 13M162 84l1 2M187 83l1 4"/>
</g>
<g transform="matrix(2.3365 1.0825 0 -6.3880 473.8 907.2)"><path class="y" d="M1 92l1 9 1-2 1-7 1-1 1 3 1-3 1 9 1 1 1-6 1 0 1-4 1 0 1 3 1-2 1 2 1 6 1 0 1-9 1 3 1 6 1 3 1-11 1-2 1 0 1 0 1 1 1 10 1 0 1-8 1 6 1-6 1 7 1 4 1-4 1-10 1 1 1 8 1 2 1-3 1 1 1-8 1 1 1 6 1 2 1 2 1 1 1-11 1 8 1-1 1 0 1-9 1 1 1 10 1-12 1 0 1 10 1-8 1-2 1 2 1 8 1-8 1 0 1 9 1 1 1 0 1-10 1 2 1 6 1-1 1 0 1 1 1-9 1 9 1 0 1-7 1 6 1 0 1-9 1-2 1 1 1 10 1-9 1 10 1 0 1-8 1 8 1-9 1 7 1-9 1 11 1-9 1 5 1-6 1 1 1-2 1-2 1 2 1 13 1-3 1 3 1-15 1 10 1 4 1-1 1 1 1-2 1-9 1 8 1-7 1 9 1-13 1 2 1-2 1 0 1 14 1-14 1 0 1 2 1 0 1 8 1-7 1 1 1-3 1 10 1 1 1-12 1 11 1 2 1-4 1-7 1 9 1-2 1 3 1 0 1-12 1 0 1 3 1-2 1 11 1-3 1-7 1 7 1-8 1 0 1 12 1-13 1 3 1-4 1 11 1-8 1 9 1-14 1 14 1-1 1-7 1-2 1 9 1-1 1 0 1-11 1 13 1-1 1-10 1 7 1-4 1-4 1 10 1 2 1-12 1-1 1 10 1-7 1 9 1-9 1 6 1 0 1 1 1-10 1 12 1-3 1-9 1 2 1 1 1 8 1-9 1 9 1-2"/>
<path class="g" d="M1 92l1 9M10 95l1 0 1-4M14 94l1-2M16 94l1 6M19 91l1 3 1 6M30 93l1 6M36 90l1 1M43 92l1 6M48 92l1 8M52 90l1 1M62 91l1 0 1 9M67 91l1 2 1 6M76 92l1 6M81 88l1 10M83 89l1 10M86 91l1 8M88 90l1 7M90 88l1 11M95 90l1-2M110 90l1 9M113 88l1-2M123 90l1-3 1 10M131 88l1 9M138 89l1-2M145 87l1 12M148 89l1-4M156 89l1-2M166 89l1-4M182 84l1 2 1 1 1 8M186 86l1 9"/>
<path class="o" d="M4 92l1-1 1 3 1-3 1 9M12 91l1 0M15 92l1 2M23 92l1-2M26 90l1 1 1 10M32 93l1 7M37 91l1 8M42 91l1 1M53 91l1 10M55 89l1 0 1 10M58 91l1-2 1 2 1 8M73 90l1 9M79 89l1-2 1 1M92 90l1 5M94 89l1 1M96 88l1-2M98 88l1 13M102 86l1 10M108 89l1 8M118 86l1 2 1 0 1 8M122 89l1 1M127 86l1 11M136 86l1 0 1 3M139 87l1 11M142 88l1 7M144 87l1 0M147 86l1 3M151 88l1 9M153 83l1 14M157 87l1 9M164 86l1 7M167 85l1 10M170 85l1-1M173 87l1 9M175 87l1 6M179 84l1 12"/>
<path class="k" d="M13 91l1 3M24 90l1 0 1 0M97 86l1 2M112 86l1 2M114 86l1 0 1 14M117 86l1 0M149 85l1 11M161 84l1 13M171 84l1 10"/>
<path class="b" d="M22 103l1-11M34 104l1-4M46 102l1 1 1-11M54 101l1-12M65 101l1 0 1-10M99 101l1-3M101 101l1-15M104 100l1-1M106 100l1-2M111 99l1-13M116 100l1-14M129 99l1-4M135 98l1-12M140 98l1-3M146 99l1-13M152 97l1-14M162 97l1-1M169 97l1-12"/>
</g>
<g transform="matrix(2.3365 1.0825 0 -6.3880 469.6 908.3)"><path class="y" d="M1 104l1-12 1 4 1 8 1-14 1 13 1-10 1-4 1 4 1 0 1 0 1 9 1 1 1 0 1-3 1 1 1-10 1 1 1 11 1-2 1-10 1-1 1 11 1 0 1-3 1 5 1-5 1-6 1 0 1 8 1-8 1 9 1-11 1 4 1-2 1 8 1 3 1-13 1 3 1 7 1-9 1 9 1 3 1-13 1-1 1 5 1-2 1 8 1-11 1 1 1 1 1 8 1 3 1-11 1 10 1 2 1-11 1 8 1-1 1 0 1-11 1 3 1 8 1-10 1 3 1-2 1 9 1-1 1 4 1-11 1-2 1 1 1 11 1-10 1-2 1 9 1-11 1 5 1-3 1 7 1-1 1-7 1 11 1-9 1 0 1 10 1-12 1 9 1-7 1 6 1 2 1 0 1-8 1 9 1-2 1 0 1 1 1-2 1-7 1 2 1-2 1 11 1-12 1 1 1 7 1-8 1-2 1 14 1-11 1 9 1 0 1-8 1 7 1 1 1 0 1-9 1 9 1 0 1-2 1 1 1-12 1 10 1 3 1 0 1-10 1 10 1 1 1-9 1-3 1 0 1 9 1 3 1-8 1-5 1 0 1 12 1-3 1-8 1 9 1-7 1-3 1 12 1-11 1 10 1 0 1-9 1 8 1 4 1-5 1-8 1 9 1-10 1 8 1-9 1-1 1 13 1-1 1-10 1 0 1 0 1 10 1-10 1 3 1 9 1-10 1 10 1-4 1 2 1-10 1 10 1-2 1 1 1 0 1-7 1 7 1-11 1 0 1 1 1 11 1-10 1 0 1 11 1 0 1 0 1-11 1 9 1-11 1 0"/>
<path class="b" d="M1 104l1-12M4 104l1-14M6 103l1-10M13 103l1 0 1-3M19 103l1-2M26 103l1-5M37 103l1-13M43 103l1-13M53 102l1-11M56 103l1-11M69 102l1-11M73 101l1-10M94 99l1-2M102 100l1-12M108 100l1-11M123 98l1 0M126 98l1 1 1-9M132 99l1-8M136 98l1-3M142 98l1-11M148 100l1-5M156 97l1-1M164 98l1-10M166 98l1-4M182 97l1 0 1 0 1-11"/>
<path class="o" d="M2 92l1 4M7 93l1-4M10 93l1 0 1 9M17 91l1 1M21 91l1-1 1 11M33 90l1 4M35 92l1 8M41 91l1 9M44 90l1-1 1 5M47 92l1 8M49 89l1 1M51 91l1 8M62 91l1 8M64 89l1 3M66 90l1 9M71 89l1 1M74 91l1-2 1 9M82 88l1 11M84 90l1 0M87 88l1 9M89 90l1 6M93 90l1 9M99 89l1 2M101 89l1 11M103 88l1 1 1 7M106 88l1-2M109 89l1 9M121 85l1 10M125 88l1 10M129 87l1 0 1 9M138 87l1 9M141 86l1 12M143 87l1 10M146 88l1 8M152 86l1 8M155 84l1 13M158 86l1 0M160 86l1 10M162 86l1 3M169 86l1 10M177 84l1 1 1 11M180 86l1 0 1 11M187 84l1 0"/>
<path class="g" d="M3 96l1 8M9 93l1 0M18 92l1 11M28 92l1 0 1 8M31 92l1 9M34 94l1-2M38 90l1 3 1 7M46 94l1-2M50 90l1 1M54 91l1 10M57 92l1 8M65 92l1-2M70 91l1-2M72 90l1 11M78 92l1-3 1 7M85 90l1 10M100 91l1-2M112 90l1 7M116 89l1 9M128 90l1-3M133 91l1-5M135 86l1 12M140 89l1-3M150 87l1 9M159 86l1 0M163 89l1 9M165 88l1 10M174 88l1 7M185 86l1 9"/>
<path class="k" d="M5 90l1 13M8 89l1 4M61 88l1 3M77 87l1 5M107 86l1 14M134 86l1 0M154 85l1-1M176 84l1 0"/>
</g>
<g transform="matrix(2.3365 1.0825 0 -6.3880 465.5 909.4)"><path class="y" d="M1 96l1 7 1-2 1-8 1 9 1-8 1 7 1 0 1 1 1-1 1 0 1-9 1 0 1 1 1-1 1-2 1 10 1 2 1-9 1 10 1-9 1 6 1-7 1 8 1-9 1 0 1-2 1 11 1 1 1-11 1 9 1-7 1 9 1-2 1 4 1-14 1 0 1 14 1-4 1-8 1 10 1-9 1-3 1 10 1-1 1 0 1-1 1-7 1 11 1-2 1 0 1-10 1-1 1 12 1-11 1 2 1 9 1-13 1 5 1-5 1 14 1-4 1-8 1 8 1 1 1 1 1-12 1 2 1 1 1 9 1 0 1 0 1-12 1 12 1-3 1-8 1 7 1 3 1-7 1-3 1 4 1 6 1-10 1 11 1 0 1 0 1-2 1-9 1 8 1-10 1 2 1 0 1 9 1-7 1-3 1 2 1-2 1 12 1 1 1 0 1-5 1-7 1 0 1 10 1-9 1 9 1-2 1-8 1 7 1 2 1-9 1 11 1-9 1-3 1 0 1 10 1-11 1 3 1-4 1 1 1 13 1-11 1-3 1 1 1 12 1-11 1-2 1 12 1-4 1-1 1-6 1 2 1 7 1 0 1 0 1-12 1 3 1 9 1-7 1 8 1 0 1-8 1 6 1-8 1 12 1-4 1-10 1 2 1-1 1 12 1-10 1 8 1-11 1 10 1 3 1-12 1 2 1 7 1 0 1 1 1-10 1-2 1 3 1-2 1 10 1-9 1 8 1-7 1 10 1-1 1-9 1-1 1 1 1 9 1-9 1-2 1 8 1 2 1-2 1 4 1-1 1-11 1 2 1 0 1 10 1-9 1 6 1 1"/>
<path class="g" d="M1 96l1 7M6 94l1 7M13 92l1 1 1-1 1-2M21 94l1 6M26 92l1-2M40 92l1 10M42 93l1-3M59 93l1-5M63 90l1 8M68 90l1 1M76 89l1 7M79 92l1-3M81 93l1 6M94 91l1-3 1 2M111 89l1 11M113 91l1-3M115 88l1 10M118 90l1-4M122 89l1-3M132 89l1 7M139 89l1 8M142 89l1 6M151 88l1 8M157 88l1 7M163 87l1-2M171 87l1-1M173 87l1 9M183 87l1 0 1 10M186 88l1 6"/>
<path class="b" d="M2 103l1-2M20 103l1-9M33 102l1-2M35 104l1-14M38 104l1-4M41 102l1-9M49 102l1-2M54 101l1-11M57 101l1-13M61 102l1-4M74 100l1-3M84 100l1 0 1 0 1-2M98 100l1 1 1 0 1-5M112 100l1-9M121 100l1-11M125 99l1-11M128 98l1-4M145 99l1-4M150 98l1-10M155 98l1-12M169 97l1-1M180 97l1-1 1-11M185 97l1-9"/>
<path class="o" d="M4 93l1 9M12 92l1 0M19 93l1 10M23 93l1 8M25 92l1 0M30 91l1 9M32 93l1 9M37 90l1 14M43 90l1 10M48 91l1 11M52 90l1-1M55 90l1 2 1 9M67 88l1 2M69 91l1 9M73 88l1 12M80 89l1 4M83 89l1 11M88 89l1 8M90 87l1 2 1 0 1 9M96 90l1-2 1 12M102 89l1 0 1 10M105 90l1 9M108 89l1 7M114 88l1 0M117 87l1 3M120 87l1 13M124 87l1 12M126 88l1-2 1 12M131 87l1 2M137 87l1 9M144 87l1 12M147 85l1 2 1-1 1 12M153 85l1 10M156 86l1 2M161 86l1-2M164 85l1 10M166 86l1 8M168 87l1 10M172 86l1 1M175 87l1-2 1 8M182 85l1 2"/>
<path class="k" d="M16 90l1 10M27 90l1 11M36 90l1 0M53 89l1 12M58 88l1 5M60 88l1 14M119 86l1 1M123 86l1 1M136 84l1 3M162 84l1 3"/>
</g>
<g transform="matrix(2.3365 1.0825 0 -6.3880 461.4 910.5)"><path class="y" d="M1 101l1-10 1 3 1 6 1-7 1 11 1-13 1 0 1 2 1-4 1 5 1 7 1 2 1-1 1 2 1-3 1-9 1 0 1 8 1-9 1 9 1-9 1 0 1 1 1 11 1-8 1 7 1-9 1-1 1 11 1-13 1 12 1-12 1 2 1 9 1 2 1-3 1-6 1-2 1 9 1-12 1 13 1 0 1-1 1-11 1 3 1-5 1 12 1-1 1-6 1 0 1 6 1 1 1-9 1 8 1 1 1-10 1 12 1-2 1 0 1-9 1-2 1 9 1-9 1 0 1 0 1 10 1 2 1-1 1-10 1 1 1 2 1 9 1-11 1-2 1 10 1-10 1 0 1 0 1 11 1 0 1-12 1 13 1-13 1 1 1 11 1-12 1 11 1-9 1 10 1-10 1 10 1-11 1 10 1 0 1 1 1-10 1-2 1 0 1 0 1 0 1 10 1-2 1-1 1 2 1-7 1-2 1 10 1-11 1 1 1 9 1-10 1 12 1-3 1 2 1-12 1 8 1 1 1 6 1-14 1 1 1 9 1 0 1 0 1-8 1 8 1-1 1 2 1-9 1-3 1 2 1 8 1-7 1 1 1-3 1 10 1-1 1-9 1 11 1-12 1-1 1 13 1-2 1 1 1-11 1 3 1 4 1 2 1 0 1 1 1-10 1 0 1 8 1-8 1 2 1 10 1-3 1-8 1-1 1 1 1-2 1 2 1-1 1 10 1-8 1 7 1-7 1-1 1-1 1 0 1-1 1 11 1-3 1-9 1 11 1 2 1-14 1 4 1-4 1 13 1-12 1 13 1 0 1-4 1-8 1 13 1-11 1 7"/>
<path class="o" d="M2 91l1 3 1 6M5 93l1 11M7 91l1 0 1 2M17 92l1 0 1 8M20 91l1 9M24 92l1 11M29 92l1 11M31 90l1 12M34 92l1 9M41 89l1 13M47 88l1 12M54 91l1 8M62 89l1 9M65 89l1 0 1 10M75 89l1 10M78 89l1 0 1 11M82 88l1 13M85 89l1 11M89 90l1 10M98 88l1 0M101 88l1 10M109 87l1 1 1 9M112 87l1 12M121 88l1 9M135 87l1 10M138 87l1 11M140 86l1-1M145 86l1 3M151 86l1 0 1 8M154 86l1 2M159 86l1 1M161 85l1 2 1-1 1 10M169 86l1 0 1-1 1 11M181 84l1 13"/>
<path class="b" d="M6 104l1-13M13 103l1-1M15 104l1-3M25 103l1-8M27 102l1-9M30 103l1-13M32 102l1-12M36 103l1-3M42 102l1 0 1-1M58 102l1-2M68 101l1-1M73 102l1-11M81 100l1-12M83 101l1-13M86 100l1-12M90 100l1-10M92 100l1-11M96 100l1-10M113 99l1-3M119 101l1-14M139 98l1-12M142 98l1-2M144 97l1-11M156 98l1-3M172 96l1-3M176 97l1-14M182 97l1 0 1-4M186 98l1-11"/>
<path class="g" d="M9 93l1-4M11 94l1 7M22 91l1 0 1 1M26 95l1 7M28 93l1-1M33 90l1 2M38 94l1-2 1 9M45 90l1 3 1-5M50 93l1 0 1 6M57 90l1 12M61 91l1-2M64 89l1 0M70 90l1 1 1 2 1 9M74 91l1-2M77 89l1 0M87 88l1 11M91 90l1 10M93 89l1 10M97 90l1-2M99 88l1 0 1 0M106 90l1-2 1 10M120 87l1 1M125 89l1 8M129 89l1-3 1 2 1 8M133 89l1 1 1-3M146 89l1 4M155 88l1 10M158 87l1-1M160 87l1-2M165 88l1 7M167 88l1-1 1-1M178 87l1-4M185 85l1 13M187 87l1 7"/>
<path class="k" d="M10 89l1 5M84 88l1 1M116 86l1 8M141 85l1 13M174 84l1 11M177 83l1 4M179 83l1 13"/>
</g>
<g transform="matrix(2.3365 1.0825 0 -6.3880 457.2 911.5)"><path class="y" d="M1 91l1 12 1-2 1-7 1 8 1-9 1 10 1-2 1 0 1-2 1 5 1-12 1 10 1-10 1-2 1 4 1 6 1 2 1-10 1 11 1-7 1 4 1 3 1-2 1-8 1 6 1-8 1 9 1 1 1-11 1 11 1-10 1 11 1-11 1 1 1 0 1 2 1 5 1 1 1-10 1 13 1-13 1 2 1 8 1 2 1-4 1 2 1-11 1 1 1 3 1 9 1-10 1-2 1 13 1-11 1 1 1 6 1-8 1 0 1 7 1 0 1 2 1-9 1 8 1 2 1 0 1-11 1 12 1-11 1 10 1 1 1-1 1-11 1 1 1 7 1-7 1 6 1-6 1 6 1-9 1 2 1 10 1-10 1 7 1-5 1-1 1 6 1-5 1 8 1-12 1 13 1-3 1 2 1-9 1-3 1 1 1 10 1 0 1-9 1 6 1 0 1-7 1-1 1 1 1 1 1 10 1 2 1-14 1 8 1 2 1-11 1 8 1-6 1-3 1 13 1-11 1 2 1-1 1-3 1 11 1 0 1-8 1-2 1 0 1 11 1-12 1 3 1-1 1 0 1 9 1-1 1-12 1 10 1 1 1 3 1 0 1-8 1 6 1-7 1 11 1-2 1-10 1-1 1 1 1 9 1-1 1-11 1 3 1 6 1-6 1 8 1 2 1-1 1-2 1 0 1-9 1 1 1 6 1 2 1 0 1 1 1 2 1-4 1 1 1 0 1-7 1 6 1 2 1-1 1 2 1 0 1-8 1-3 1 8 1-6 1-4 1 12 1-1 1 2 1-2 1-2 1-9 1 3 1 0 1 10 1-10 1 7 1-12"/>
<path class="o" d="M1 91l1 12M4 94l1 8M6 93l1 10M14 92l1-2M19 92l1 11M27 91l1 9M30 90l1 11M35 92l1 0 1 2M40 90l1 13M43 92l1 8M58 91l1 0 1 7M63 91l1 8M67 90l1 12M73 90l1 1M80 88l1 2 1 10M90 88l1 13M95 88l1 1 1 10M103 88l1 1 1 1M108 88l1 8M111 87l1 8M113 89l1-3 1 13M116 88l1 2M118 89l1-3 1 11M124 87l1 11M126 86l1 3M128 88l1 0M143 87l1 1 1 9M147 85l1 3 1 6M156 86l1 1 1 6M173 86l1 8M176 84l1 12"/>
<path class="b" d="M2 103l1-2M7 103l1-2M11 104l1-12M20 103l1-7M23 103l1-2M33 102l1-11M41 103l1-13M45 102l1-4M51 102l1-10M54 103l1-11M65 101l1 0 1-11M68 102l1-11M70 101l1 1 1-1 1-11M82 100l1-10M89 100l1-12M91 101l1-3M93 100l1-9M97 99l1 0M106 100l1 2 1-14M115 99l1-11M135 98l1 0 1-8M140 100l1-2 1-10M145 97l1-1M152 98l1-1M162 98l1-4M170 97l1 0 1-8M177 96l1-1M179 97l1-2M185 97l1-10"/>
<path class="g" d="M12 92l1 10M16 94l1 6M21 96l1 4M25 93l1 6M32 91l1 11M34 91l1 1M37 94l1 5M42 90l1 2M48 89l1 1 1 3 1 9M52 92l1-2 1 13M55 92l1 1 1 6M69 91l1 10M74 91l1 7M76 91l1 6M78 91l1 6M83 90l1 7M85 92l1-1 1 6M88 92l1 8M94 91l1-3M99 90l1 6M102 89l1-1M105 90l1 10M117 90l1-1M122 89l1-2 1 0M127 89l1-1M129 88l1 9M137 90l1 6M139 89l1 11M142 88l1-1M150 88l1 8M166 88l1 6M172 89l1-3M175 88l1-4M183 87l1 0 1 10M186 87l1 7"/>
<path class="k" d="M15 90l1 4M132 84l1 10M182 84l1 3"/>
</g>
<g transform="matrix(2.3365 1.0825 0 -6.3880 453.1 912.6)"><path class="y" d="M1 102l1-9 1-2 1 15 1-14 1 12 1-13 1 2 1-1 1 1 1 3 1 4 1-8 1 10 1 0 1 1 1-13 1 1 1 10 1-8 1 9 1-10 1 9 1-7 1 5 1-9 1 9 1-6 1 1 1 8 1-8 1-3 1 2 1 7 1-2 1 3 1 0 1-1 1-7 1 8 1-11 1 8 1 2 1-10 1 1 1 2 1-3 1 8 1 2 1-1 1-6 1 6 1 3 1-11 1-1 1 1 1-3 1 11 1 2 1-13 1 2 1-1 1 11 1-8 1-1 1-1 1 11 1-9 1 7 1-9 1 0 1 0 1 0 1 11 1-9 1 7 1 0 1 0 1-7 1 7 1-1 1-7 1 9 1-11 1 9 1 1 1-10 1 11 1-11 1 1 1-1 1 0 1 0 1 8 1 0 1 1 1-11 1 13 1-3 1-7 1 0 1 6 1 2 1-1 1-2 1-4 1-2 1 9 1-11 1 1 1 12 1-11 1 9 1-11 1 3 1 10 1-3 1-1 1 3 1-14 1 5 1 9 1-2 1-2 1-10 1 12 1 2 1-1 1-1 1-1 1-11 1 11 1-10 1 4 1-4 1 4 1 5 1-8 1 11 1-9 1-2 1 7 1 1 1 0 1-9 1 1 1 6 1 1 1 3 1 0 1 0 1-10 1 0 1-1 1 2 1 8 1-2 1-7 1 0 1 1 1-3 1 2 1-1 1 0 1-2 1 9 1-5 1-5 1 14 1-10 1-3 1 12 1 1 1-10 1 11 1-2 1-10 1-1 1 1 1-1 1 9 1 4 1-1 1-1 1-10 1 9 1-10 1 8"/>
<path class="g" d="M2 93l1-2M8 93l1-1 1 1M11 96l1 4M24 94l1 5M28 93l1 1 1 8M31 94l1-3M39 93l1 8M41 90l1 8M44 90l1 1M46 93l1-3M51 93l1 6M54 91l1-1 1 1M61 90l1-1 1 11M64 92l1-1 1-1 1 11M68 92l1 7M70 90l1 0M72 90l1 0M75 92l1 7M79 92l1 7M84 89l1 9M93 89l1 8M100 90l1 0 1 6M106 91l1-2M115 90l1 10M121 90l1 9M134 90l1-4M136 90l1 5M138 87l1 11M140 89l1-2M145 86l1 1M153 87l1-1M155 88l1 8M159 87l1 1 1-3M167 88l1-5M170 87l1-3M174 87l1 11M178 85l1 1M180 85l1 9M185 86l1 9"/>
<path class="k" d="M3 91l1 15M17 90l1 1M57 88l1 11M109 87l1 1M131 85l1 11"/>
<path class="b" d="M4 106l1-14M6 104l1-13M16 103l1-13M21 102l1-10M53 102l1-11M59 101l1-13M67 101l1-9M74 101l1-9M83 100l1-11M88 100l1-11M98 100l1-3M111 100l1-11M116 100l1-3M119 99l1-14M122 99l1-2M127 99l1-1M139 98l1-9M151 97l1-10M169 97l1-10M173 97l1-10M175 98l1-2 1-10M182 98l1-1 1-1 1-10"/>
<path class="o" d="M5 92l1 12M7 91l1 2M10 93l1 3M13 92l1 10M18 91l1 10M20 93l1 9M22 92l1 9M26 90l1 9M32 91l1 2 1 7M45 91l1 2M47 90l1 8M56 91l1-3M60 88l1 2M71 90l1 0M73 90l1 11M82 91l1 9M87 89l1 11M89 89l1 1 1-1 1 0 1 0M97 87l1 13M107 89l1 9M110 88l1 12M112 89l1 9M114 87l1 3M120 85l1 5M125 85l1 12M133 86l1 4M135 86l1 4M141 87l1 7M146 87l1 6M152 87l1 0M154 86l1 2M158 87l1 0M161 85l1 2 1-1 1 0 1-2 1 9M168 83l1 14M171 84l1 12M177 86l1-1M179 86l1-1M187 85l1 8"/>
</g>
<g transform="matrix(2.3365 1.0825 0 -6.3880 448.9 913.7)"><path class="y" d="M1 94l1 7 1 0 1-9 1 10 1-11 1 11 1-3 1-5 1 6 1 1 1-11 1 11 1-7 1-3 1 4 1 8 1 0 1-11 1 12 1-14 1 12 1-11 1 11 1-10 1 8 1-8 1 1 1-1 1-1 1 11 1-1 1-1 1-7 1 1 1-5 1 0 1 10 1 3 1-13 1 12 1-7 1 4 1 3 1 2 1-1 1-3 1-7 1-2 1-1 1 11 1-10 1 8 1 0 1 1 1 1 1-1 1-6 1 0 1 9 1-1 1-2 1-9 1 10 1-2 1 1 1-8 1 6 1-10 1 2 1 9 1 3 1 0 1-9 1 6 1-11 1 0 1 3 1 8 1-10 1 2 1 10 1-10 1 6 1-4 1-1 1 9 1-10 1 7 1 0 1 1 1 1 1-1 1-6 1-2 1-2 1 11 1-9 1 1 1 7 1 0 1 1 1 0 1-10 1 1 1 8 1-1 1-10 1 9 1 4 1-13 1 12 1-1 1-13 1 11 1-8 1 0 1 0 1-1 1 13 1-3 1-6 1-4 1 2 1 10 1-12 1 0 1 1 1-3 1 4 1 8 1-8 1 7 1 3 1-1 1 0 1-12 1 10 1-7 1 9 1 2 1-11 1-2 1 7 1 4 1 2 1-4 1-7 1-2 1 7 1-6 1 10 1-3 1-1 1 4 1-10 1-1 1 9 1-4 1 3 1-1 1 0 1 1 1 2 1-3 1-5 1-1 1 8 1 0 1 1 1-1 1-10 1-1 1 9 1 1 1-11 1 13 1-4 1 2 1 3 1-14 1 4 1-3 1-1 1 13 1-9 1 5 1 3"/>
<path class="g" d="M1 94l1 7M6 91l1 11M9 94l1 6M14 94l1-3M16 95l1 8M23 91l1 11M28 93l1-1M34 93l1 1 1-5M42 94l1 4M48 92l1-2M58 93l1 0 1 9M63 90l1 10M70 89l1 9M74 92l1 6M78 90l1 8M81 90l1 10M85 92l1-1 1 9M88 90l1 7M94 92l1-2 1-2M98 90l1 1 1 7M118 88l1-1M122 91l1-4M126 87l1 0M132 89l1 7M139 89l1 9M142 89l1-2M148 89l1-2 1 7M166 89l1-1 1 8M176 84l1 13M182 88l1-3 1-1M186 88l1 5"/>
<path class="o" d="M4 92l1 10M12 90l1 11M15 91l1 4M19 92l1 12M25 92l1 8M27 92l1 1M29 92l1-1 1 11M40 89l1 12M49 90l1-1M52 90l1 8M67 91l1 6M76 87l1 0 1 3M83 90l1 6M96 88l1 11M104 89l1 1 1 8M108 87l1 9M111 87l1 12M114 85l1 11M116 88l1 0 1 0M119 87l1 13M123 87l1 2 1 10M127 87l1 1 1-3 1 4 1 8M137 86l1 10M143 87l1 7M151 88l1 10M156 88l1-1 1 9M172 86l1-1 1 9M181 84l1 4"/>
<path class="b" d="M17 103l1 0 1-11M20 104l1-14M31 102l1-1M39 102l1-13M45 103l1-1 1-3M60 102l1-1 1-2M72 101l1 0 1-9M87 100l1-10M103 99l1-10M110 100l1-13M120 100l1-3M125 99l1-12M134 99l1-1 1 0 1-12M140 98l1 2 1-11M145 98l1 2 1-4M152 98l1-3M155 98l1-10M164 97l1-3M170 97l1-1M177 97l1-4M180 98l1-14M185 97l1-9"/>
<path class="k" d="M21 90l1 12M36 89l1 0 1 10M50 89l1 11M69 87l1 2M80 88l1 2M184 84l1 13"/>
</g>
<g transform="matrix(2.3365 1.0825 0 -6.3880 444.8 914.8)"><path class="y" d="M1 102l1-9 1 0 1 10 1-10 1 8 1-11 1 4 1 8 1-9 1 0 1 7 1-8 1 13 1-1 1-10 1-2 1 1 1 9 1-11 1 10 1-8 1 7 1-10 1 12 1-12 1 3 1 10 1-3 1 2 1-12 1-2 1-1 1 13 1-1 1 1 1 2 1-12 1-1 1 6 1-4 1 7 1-5 1-4 1 2 1-1 1 4 1-2 1 10 1 0 1-13 1 13 1-11 1 2 1-2 1 2 1-4 1 11 1-1 1-10 1 0 1 1 1 9 1-10 1 1 1 1 1 9 1-7 1 8 1-1 1-12 1 5 1-5 1 12 1-11 1 9 1 1 1-1 1-6 1 8 1-3 1-10 1 11 1-9 1 9 1 2 1-9 1 7 1-12 1 2 1 2 1-2 1 1 1 9 1 0 1-12 1 4 1 7 1 4 1-10 1-4 1 1 1 2 1 7 1 0 1-9 1-1 1 11 1-7 1-3 1 10 1 0 1-8 1-1 1 0 1 8 1 2 1-3 1-1 1-5 1-5 1 11 1 4 1-2 1-3 1 5 1-2 1-1 1 0 1-6 1-5 1 10 1-10 1 2 1-1 1 1 1 9 1-9 1 9 1-7 1 0 1 9 1-3 1-6 1-5 1 3 1-1 1 10 1-1 1-12 1 12 1-12 1 3 1-3 1 6 1 7 1-1 1-10 1-1 1 0 1 1 1-3 1 5 1-3 1 0 1 9 1-2 1-5 1-2 1 0 1-1 1 11 1 0 1-8 1-1 1 8 1-7 1 0 1 10 1-10 1 7 1 2 1-1 1-1 1-7 1 8 1-8 1-3"/>
<path class="o" d="M2 93l1 0 1 10M5 93l1 8M7 90l1 4 1 8M10 93l1 0 1 7M18 93l1 9M24 90l1 12M26 90l1 3M32 88l1-1 1 13M38 90l1-1 1 6M41 91l1 7M44 89l1 2 1-1 1 4M51 89l1 13M57 89l1 11M61 89l1 1 1 9M65 90l1 1M73 88l1 12M75 89l1 9M82 87l1 11M84 89l1 9M91 90l1-2 1 1 1 9M96 86l1 4M102 88l1 2M107 87l1 11M114 89l1 0 1 8M121 85l1 11M134 88l1-1M138 88l1 9M145 85l1 3 1-1 1 10M150 84l1 12M152 84l1 3 1-3M158 86l1-1 1 0M161 86l1-3 1 5M164 85l1 0 1 9M168 87l1-2 1 0M171 84l1 11M175 86l1 8M180 87l1 7"/>
<path class="g" d="M13 92l1 13M16 94l1-2 1 1M20 91l1 10M22 93l1 7M27 93l1 10M40 95l1-4M43 93l1-4M47 94l1-2 1 10M53 91l1 2 1-2 1 2 1-4M64 89l1 1M66 91l1 9M68 93l1 8M72 93l1-5M79 92l1 8M87 91l1 7M90 88l1 2M97 90l1 7M100 91l1-4M103 90l1 7M106 88l1-1M109 91l1-3 1 10M113 90l1-1M120 90l1-5M130 91l1-5M133 86l1 2M135 87l1 1 1 9M140 90l1 0 1 9M144 90l1-5M155 90l1 7M160 85l1 1M163 88l1-3M170 85l1-1M174 87l1-1M177 87l1 0 1 10M185 87l1 8M187 87l1-3"/>
<path class="b" d="M14 105l1-1 1-10M19 102l1-11M25 102l1-12M28 103l1-3M37 102l1-12M49 102l1 0 1-13M52 102l1-11M69 101l1-1M86 100l1-9M99 101l1-10M117 99l1-3M123 100l1-2 1-3M126 100l1-2M142 99l1-3M156 97l1-1M179 97l1-10M182 96l1-1"/>
<path class="k" d="M31 90l1-2M60 89l1 0M71 88l1 5M89 86l1 2M101 87l1 1M131 86l1 10M154 84l1 6"/>
</g>
<g transform="matrix(2.3365 1.0825 0 -6.3880 440.7 915.8)"><path class="y" d="M1 91l1 10 1 4 1-12 1 11 1-11 1 11 1-2 1-8 1 6 1 1 1 0 1 2 1-11 1 2 1 7 1 1 1-1 1-11 1 12 1-9 1 7 1-7 1 7 1-9 1 11 1 2 1-12 1 0 1 2 1 6 1-1 1 2 1-8 1-4 1 5 1-2 1 7 1 3 1-2 1 1 1-10 1 10 1 0 1 0 1-1 1 3 1-3 1-10 1 3 1 8 1-13 1 13 1-1 1-1 1 1 1 2 1-11 1 0 1 6 1 2 1 0 1-8 1-2 1 12 1 0 1-12 1 11 1-10 1 1 1 7 1 1 1 1 1-11 1 11 1-7 1-3 1 0 1 7 1-8 1-1 1 12 1-12 1 14 1-13 1-3 1 14 1-12 1 10 1-1 1-6 1 5 1 4 1-12 1 1 1 11 1-2 1-11 1 2 1 10 1 1 1-3 1 2 1-11 1 2 1 9 1 0 1-3 1 4 1 0 1-12 1 3 1 6 1 1 1 1 1-11 1-2 1 4 1-3 1 11 1-1 1-8 1 1 1 0 1-3 1 13 1-14 1 3 1-4 1 11 1 1 1-8 1 8 1 0 1 2 1-2 1-12 1 11 1-11 1 12 1-1 1-8 1-2 1 12 1-2 1-10 1-1 1-1 1 3 1 11 1-10 1 6 1 3 1-3 1 2 1-8 1-2 1 10 1-2 1 5 1-6 1 2 1-7 1 6 1 0 1-7 1-1 1 5 1 3 1-5 1 7 1-13 1 0 1 10 1 4 1-8 1 7 1 0 1-9 1 5 1-7 1 1 1-2 1 2 1 10 1-8 1 7 1-1"/>
<path class="o" d="M1 91l1 10M19 90l1 12M21 93l1 7M35 89l1 5M37 92l1 7M42 91l1 10M49 90l1 3M52 88l1 13M58 91l1 0 1 6M63 91l1-2 1 12M67 89l1 11M69 90l1 1 1 7M74 89l1 11M78 90l1 7M80 89l1-1M85 89l1-3 1 14M88 88l1 10M95 89l1 11M98 87l1 2 1 10M104 88l1 2M111 88l1 3M119 87l1 11M122 89l1 1M137 85l1 11M139 85l1 12M142 88l1-2M146 86l1-1 1-1 1 3 1 11M156 88l1-2M166 87l1-1 1 5M172 83l1 0 1 10M181 85l1 1M183 84l1 2 1 10"/>
<path class="b" d="M3 105l1-12M5 104l1-11M7 104l1-2M13 103l1-11M27 104l1-12M39 102l1-2M45 101l1-1M47 103l1-3M51 101l1-13M57 102l1-11M65 101l1 0 1-12M75 100l1-7M82 100l1-12M84 102l1-13M87 100l1-12M93 100l1-12M96 100l1-2M100 99l1 1 1-3M103 99l1-11M106 99l1 0 1-3M109 100l1 0 1-12M115 99l1-11M126 100l1-14M135 99l1-2M144 98l1-2M150 98l1-10M153 97l1-3M160 99l1-6M171 96l1-13M175 97l1-8M185 96l1-8"/>
<path class="g" d="M4 93l1 11M6 93l1 11M9 94l1 6M14 92l1 2 1 7M23 93l1 7M25 91l1 11M28 92l1 0 1 2 1 6M34 93l1-4M36 94l1-2M50 93l1 8M76 93l1-3 1 0M83 88l1 14M91 91l1 5M94 88l1 1M105 90l1 9M112 91l1 6M116 88l1-2M118 90l1-3M123 90l1 0 1-3 1 13M128 89l1-4M132 89l1 8M143 86l1 12M151 88l1 6M157 86l1 10M163 88l1 6M170 89l1 7M176 89l1 7M179 87l1 5M182 86l1-2M186 88l1 7"/>
<path class="k" d="M81 88l1 12M117 86l1 4M127 86l1 3M129 85l1 11"/>
</g>
<g transform="matrix(2.3365 1.0825 0 -6.3880 436.5 916.9)"><path class="y" d="M1 100l1-7 1-2 1 13 1-8 1 5 1-6 1 8 1-2 1-9 1-2 1 4 1 0 1 8 1 0 1-9 1 1 1-4 1 13 1-8 1 4 1-6 1 7 1-8 1 9 1-9 1-1 1 8 1 1 1 0 1-9 1 2 1-2 1 10 1-1 1 1 1 1 1-11 1 2 1 7 1-10 1 10 1-9 1 1 1-1 1 0 1 1 1 0 1 7 1 2 1-11 1 9 1-7 1 0 1 7 1-8 1-1 1 1 1 9 1-10 1-2 1 3 1 8 1 0 1-9 1 0 1 8 1-10 1 10 1 3 1-12 1 1 1-1 1 10 1-8 1 9 1-2 1 1 1-12 1 12 1-1 1-9 1 13 1-3 1-8 1 8 1-8 1 6 1-11 1 3 1 11 1-12 1 0 1 11 1-2 1-7 1-5 1 6 1 10 1-15 1 4 1-2 1 1 1 10 1-3 1-6 1-1 1 0 1 1 1 0 1 5 1 3 1 1 1-8 1-5 1 12 1-2 1-1 1-8 1 2 1-1 1 11 1-1 1 0 1-10 1 2 1 5 1 2 1 0 1 0 1-9 1 9 1-10 1 1 1 0 1-1 1 9 1-8 1 7 1 0 1-5 1 6 1-1 1-10 1-1 1 11 1 1 1 0 1 1 1-11 1 11 1-9 1-4 1 1 1 0 1 9 1 2 1-9 1 0 1 0 1-1 1-3 1 10 1-4 1-2 1 0 1 7 1-7 1-1 1 7 1-7 1 11 1-1 1-10 1 0 1 10 1-9 1 1 1 9 1-10 1 8 1-1 1 2 1-1 1-10 1 7 1-8 1 3"/>
<path class="g" d="M2 93l1-2M5 96l1 5M7 95l1 8M12 94l1 0 1 8M17 94l1-4M20 95l1 4M22 93l1 7M26 92l1-1M39 93l1 7M41 90l1 10M45 91l1 0M47 92l1 0 1 7M51 90l1 9M71 89l1 1M82 89l1 13M85 91l1 8M87 91l1 6M90 89l1 11M93 88l1 11M98 91l1 10M101 90l1-2M106 90l1-1 1 0M109 90l1 0 1 5M114 91l1-5M126 90l1 5M141 90l1 6M150 86l1 11M160 87l1-1 1-3M164 89l1-2 1 0M171 86l1 11M174 86l1 0M178 88l1 9"/>
<path class="o" d="M3 91l1 13M10 92l1-2M16 93l1 1M18 90l1 13M24 92l1 9M27 91l1 8M31 91l1 2 1-2 1 10M38 91l1 2M43 91l1 1 1-1M46 91l1 1M53 92l1 0 1 7M56 91l1-1 1 1 1 9M60 90l1-2M62 91l1 8M65 90l1 0 1 8M72 90l1-1 1 10M75 91l1 9M79 87l1 12M92 88l1 0M96 90l1-5 1 6M100 86l1 4M102 88l1 1 1 10M108 89l1 1M119 87l1 2 1-1 1 11M125 88l1 2M131 88l1 9M133 87l1 1 1 0 1-1 1 9M138 88l1 7M144 85l1-1M152 88l1-4 1 1 1 0 1 9M158 87l1 0 1 0M162 83l1 10M166 87l1 7M168 87l1-1 1 7M175 86l1 10M177 87l1 1M180 87l1 8M185 85l1 7M187 84l1 3"/>
<path class="b" d="M4 104l1-8M8 103l1-2M15 102l1-9M19 103l1-8M37 102l1-11M50 101l1-11M70 101l1-12M83 102l1-3M91 100l1-12M99 101l1-15M104 99l1-3M113 99l1-8M122 99l1-1M124 98l1-10M149 97l1-11M151 97l1-9M172 97l1-1M179 97l1-10"/>
<path class="k" d="M11 90l1 4M61 88l1 3M68 88l1 10M89 86l1 3M115 86l1 12M145 84l1 11"/>
</g>
<g transform="matrix(2.3365 1.0825 0 -6.3880 432.4 918.0)"><path class="y" d="M1 95l1 7 1 0 1-11 1 8 1-7 1 12 1-9 1-4 1 10 1 1 1 2 1-2 1-9 1-3 1 10 1 4 1-1 1-12 1 11 1-11 1 10 1-8 1 8 1-11 1 14 1-3 1-9 1-1 1 0 1 9 1 2 1 2 1-14 1-1 1 3 1-2 1 12 1-3 1-7 1 5 1-6 1 10 1 2 1-4 1 3 1 1 1-4 1-11 1 4 1 9 1-10 1 11 1-4 1-8 1 7 1 5 1-3 1-7 1 9 1-1 1-3 1-8 1-1 1 11 1-2 1 5 1-3 1 0 1-9 1 9 1-2 1-6 1-2 1 9 1-8 1 1 1-2 1 7 1-7 1 1 1 9 1-11 1 10 1 3 1-3 1 2 1-9 1 7 1 0 1-8 1 9 1-3 1-8 1 2 1 9 1-8 1 6 1-9 1 9 1 1 1-3 1 5 1-11 1-3 1 12 1-8 1 8 1-1 1-1 1-6 1-1 1-3 1 11 1 2 1-9 1-1 1 0 1 11 1-4 1-1 1-6 1 0 1-3 1 12 1-2 1-11 1 2 1 2 1-1 1 8 1-8 1 11 1-3 1 2 1-1 1-9 1 10 1-13 1 2 1 9 1-9 1 0 1 9 1 0 1-7 1-4 1 1 1 0 1 10 1-8 1 7 1 2 1-2 1-8 1 0 1-1 1 8 1 2 1 1 1-2 1 1 1-10 1 10 1 0 1 1 1-9 1 8 1-1 1-9 1 11 1-13 1 2 1 9 1-2 1-9 1 13 1-13 1 1 1-1 1 0 1-2 1 3 1-1 1 8 1 0 1 3 1 2"/>
<path class="g" d="M1 95l1 7M6 92l1 12M8 95l1-4M21 91l1 10M30 91l1 9M36 92l1-2 1 12M50 92l1 9M52 91l1 11M59 92l1 9M63 89l1-1M73 91l1-2M77 91l1-2M80 89l1 1 1 9M88 91l1 7M97 91l1 6M104 89l1-3M107 90l1 8M111 90l1-1M116 90l1-1M129 89l1-1 1 8M132 88l1 11M137 88l1 10M140 87l1 9M146 89l1-4M148 86l1 0M151 88l1 7M167 88l1 8M184 84l1 8"/>
<path class="o" d="M4 91l1 8M9 91l1 10M14 93l1-3M19 91l1 11M23 93l1 8M28 92l1-1 1 0M35 89l1 3M40 92l1 5M42 91l1 10M49 88l1 4M55 90l1 7M64 88l1 11M70 90l1 9M74 89l1 9M76 90l1 1M78 89l1 7M83 88l1 10M91 90l1 9M95 90l1 9M99 88l1 9M112 89l1-3M117 89l1 0 1 11M122 89l1 0 1-3M127 85l1 2 1 2M139 85l1 2M142 87l1 0 1 9M149 86l1 10M155 87l1 0 1-1 1 8M163 86l1 10M170 86l1 11M173 86l1 9M176 84l1 13M178 84l1 1 1-1M181 84l1-2M183 85l1-1"/>
<path class="b" d="M7 104l1-9M12 104l1-2M17 104l1-1 1-12M26 104l1-3M32 102l1 2 1-14M38 102l1-3M44 103l1-4M46 102l1 1 1-4M53 102l1-4M57 102l1-3M60 101l1-1M67 102l1-3M85 101l1-3M87 100l1-9M103 100l1-11M115 99l1-9M119 100l1-4M125 98l1-2M133 99l1-3M135 98l1-1M138 98l1-13M153 97l1-2M160 97l1-2M166 97l1-9M171 97l1-13M177 97l1-13"/>
<path class="k" d="M15 90l1 10M25 90l1 14M34 90l1-1M94 88l1 2M105 86l1 12M113 86l1 11M124 86l1 12M147 85l1 1M172 84l1 2M180 84l1 0M182 82l1 3"/>
</g>
<g transform="matrix(2.3365 1.0825 0 -6.3880 428.2 919.1)"><path class="y" d="M1 105l1-13 1-2 1 8 1-7 1 9 1-7 1 9 1 0 1-7 1-3 1 2 1-1 1 11 1-12 1-1 1 1 1-3 1 15 1-11 1 8 1-9 1 10 1-8 1-2 1 1 1-3 1 9 1 4 1-1 1-2 1-10 1 3 1 6 1 3 1 0 1 0 1-10 1 0 1 10 1-12 1 12 1-9 1-4 1 6 1-4 1-2 1 1 1 13 1-1 1-11 1 11 1-13 1 0 1 10 1-8 1-1 1-1 1 10 1-11 1 4 1-3 1 11 1-1 1-9 1 1 1 1 1-3 1-2 1 14 1-11 1 8 1 0 1 2 1-2 1 1 1-3 1 1 1-9 1 9 1 4 1-13 1 10 1 5 1-5 1-10 1-1 1 10 1-8 1 1 1 10 1-11 1 1 1 7 1 3 1-12 1 13 1-2 1 0 1-10 1-1 1-1 1 0 1 14 1-3 1-11 1 12 1-11 1 1 1 12 1-3 1 0 1-1 1-12 1 5 1 9 1-1 1-4 1-4 1-3 1 10 1 2 1-4 1 2 1-9 1-1 1 11 1 0 1 1 1-4 1-8 1 11 1-10 1 0 1-1 1-1 1 12 1-10 1 8 1-11 1 2 1 9 1 0 1-9 1-2 1 8 1 5 1-3 1 2 1-9 1 8 1-11 1 2 1-1 1 9 1 1 1 0 1-9 1-2 1 0 1 2 1-1 1 13 1-10 1-1 1-2 1 10 1-12 1 4 1 6 1-6 1 5 1 5 1-12 1-2 1 9 1-5 1 8 1-1 1 2 1-2 1 1 1-2 1 0 1-7 1 0 1 0 1 1"/>
<path class="b" d="M1 105l1-13M14 104l1-12M19 104l1-11M23 102l1-8M29 103l1-1 1-2M35 102l1 0 1 0 1-10M40 102l1-12M42 102l1-9M49 103l1-1 1-11M52 102l1-13M70 101l1-11M81 101l1-13M84 103l1-5M91 100l1-11M95 100l1-12M97 101l1-2M99 99l1-10M104 101l1-3M110 101l1-3M116 99l1-1M122 99l1-4M128 98l1 1 1-4M132 98l1-10M137 98l1-10M147 98l1-3M149 97l1-9M163 99l1-10M167 96l1-12M173 98l1-12M178 96l1-1M180 97l1-2M182 96l1-2"/>
<path class="g" d="M2 92l1-2M10 95l1-3M12 94l1-1M15 92l1-1 1 1M24 94l1-2M26 93l1-3M33 93l1 6M41 90l1 12M43 93l1-4M45 95l1-4 1-2M61 92l1-3M67 92l1-3 1-2M89 89l1 1 1 10M93 90l1 7M100 89l1-1M109 89l1 12M115 90l1 9M119 90l1-3M131 87l1 11M133 88l1 0M150 88l1 8M153 87l1-1 1 9M158 87l1-2M161 87l1-1M164 89l1-1 1-2M169 88l1 6M171 88l1 5M177 88l1 8M185 87l1 0 1 0 1 1"/>
<path class="k" d="M3 90l1 8M18 89l1 15M27 90l1 9M32 90l1 3M44 89l1 6M54 89l1 10M69 87l1 14M86 88l1-1 1 10M136 86l1 12M168 84l1 4"/>
<path class="o" d="M5 91l1 9M7 93l1 9M11 92l1 2M13 93l1 11M17 92l1-3M20 93l1 8M22 92l1 10M25 92l1 1M38 92l1 0 1 10M47 89l1 1 1 13M51 91l1 11M53 89l1 0M56 91l1-1 1-1 1 10M60 88l1 4M62 89l1 11M65 90l1 1 1 1M71 90l1 8M79 88l1 9M82 88l1 10M92 89l1 1M96 88l1 13M101 88l1-1 1 0 1 14M106 87l1 12M108 88l1 1M114 85l1 5M120 87l1 10M125 88l1-1 1 11M134 88l1-1 1-1M138 88l1 8M140 85l1 2 1 9M144 87l1-2 1 8M152 85l1 2M159 85l1 0 1 2M162 86l1 13M166 86l1 10M174 86l1-2 1 9"/>
</g>
<g transform="matrix(2.3365 1.0825 0 -6.3880 424.1 920.2)"><path class="y" d="M1 95l1 4 1 5 1-10 1 6 1 2 1 0 1-8 1-3 1 10 1-1 1 3 1-1 1-7 1-3 1 0 1 9 1 0 1-10 1 1 1-2 1 11 1-8 1 9 1-2 1 2 1-2 1-8 1-2 1 0 1 2 1 11 1-3 1-10 1 1 1 0 1 3 1 6 1 0 1 1 1 0 1-10 1 11 1-1 1-3 1 1 1 2 1-2 1-9 1 3 1 5 1-8 1 1 1 7 1-6 1 6 1 0 1-5 1 7 1-2 1 1 1 1 1-8 1-3 1 9 1 2 1 0 1-9 1 9 1-11 1 13 1-13 1 12 1-8 1-4 1 0 1 1 1 1 1 8 1-9 1 1 1 6 1-9 1 3 1-2 1-1 1 10 1-9 1 8 1 2 1-9 1 8 1 1 1-9 1-1 1 11 1-15 1 3 1-1 1 10 1-7 1 7 1 2 1-11 1 9 1-1 1-7 1 6 1 5 1-12 1 1 1 1 1-3 1 10 1 3 1-12 1 1 1-3 1 10 1 3 1-11 1 2 1 1 1-4 1 11 1 2 1-13 1 1 1-1 1 2 1 8 1-10 1 8 1 1 1-8 1 9 1-8 1 6 1-10 1 10 1 0 1-8 1 1 1 9 1 0 1-8 1 0 1 0 1-3 1 10 1-9 1 13 1-6 1-7 1-1 1-2 1 3 1 11 1-3 1 2 1 0 1 2 1-16 1 12 1-1 1 1 1-8 1 11 1-3 1-12 1 14 1-12 1 1 1 11 1-11 1 0 1 10 1-9 1-1 1-2 1 2 1 9 1-10 1 0 1 12 1-2 1-3 1 0"/>
<path class="g" d="M1 95l1 4M4 94l1 6M14 95l1-3M23 93l1 9M29 90l1 0M36 91l1 3 1 6M42 91l1 11M50 93l1 5M58 93l1 7M63 92l1-3 1 9M68 91l1 9M74 93l1-4M76 89l1 1 1 1 1 8M81 91l1 6M84 91l1-2 1-1M88 89l1 8M91 90l1 8M94 90l1-1 1 11M101 90l1 7M107 89l1 6M110 88l1 1M112 90l1-3M117 89l1-3M122 90l1 1 1-4M128 88l1-1M135 88l1 9M137 89l1 6M142 87l1 1 1 9M146 89l1 0 1 0 1-3M157 87l1 11M167 87l1 11M173 86l1 11M175 86l1 0M178 87l1-1M184 85l1 12"/>
<path class="b" d="M3 104l1-10M12 103l1-1M32 103l1-3M43 102l1-1M71 102l1-13M73 101l1-8M96 100l1-15M109 100l1-12M115 100l1-12M120 99l1-11M125 98l1 2 1-13M152 100l1-6M158 98l1-3M160 97l1 0 1 2 1-16M168 98l1-3M171 97l1-12M174 97l1-11M177 96l1-9M185 97l1-2"/>
<path class="o" d="M8 94l1-3 1 10M15 92l1 0 1 9M19 91l1 1 1-2M28 92l1-2M30 90l1 2 1 11M35 91l1 0M49 90l1 3M52 90l1 1 1 7M55 92l1 6M70 89l1 13M72 89l1 12M75 89l1 0M80 90l1 1M83 88l1 3M86 88l1 10M98 88l1-1 1 10M104 88l1 9M111 89l1 1M113 87l1 10M116 88l1 1M121 88l1 2M124 87l1 11M127 87l1 1M129 87l1 2 1 8M132 87l1 8M149 86l1 10M151 87l1 13M154 87l1-1 1-2M172 85l1 1M176 86l1 10M179 86l1-2 1 2 1 9M183 85l1 0"/>
<path class="k" d="M21 90l1 11M34 90l1 1M97 85l1 3M118 86l1 10M139 85l1 10M156 84l1 3M163 83l1 12M170 83l1 14"/>
</g>
<g transform="matrix(2.3365 1.0825 0 -6.3880 419.9 921.2)"><path class="y" d="M1 95l1-1 1-2 1 7 1-9 1 3 1-1 1 9 1 1 1-8 1-2 1 0 1 0 1 7 1 1 1 3 1-13 1 2 1 7 1 0 1 3 1-12 1 9 1-8 1 0 1 1 1 0 1 10 1-2 1-1 1 3 1-11 1 0 1 9 1 0 1-9 1 10 1-8 1-2 1 0 1 2 1 7 1-10 1 0 1 1 1 0 1 0 1 0 1 8 1-7 1-3 1 12 1-2 1-6 1 6 1-8 1 0 1 7 1-7 1-3 1 13 1-9 1 9 1-2 1-11 1 2 1-2 1 15 1-13 1-1 1 1 1 11 1-11 1 10 1 0 1-1 1 2 1-2 1-7 1 8 1-1 1-10 1 10 1 1 1-2 1 1 1-10 1 9 1-7 1-3 1 10 1-10 1 1 1 9 1 1 1-9 1 9 1 2 1-5 1-8 1 10 1-7 1-2 1 8 1-10 1 2 1 11 1-13 1 0 1 12 1 1 1-4 1 2 1-9 1-2 1 10 1 0 1 0 1-7 1-2 1 9 1-1 1 3 1-1 1-12 1 1 1 11 1-2 1-1 1 1 1-7 1 9 1-13 1 0 1 12 1-11 1 9 1-5 1 8 1-10 1-2 1 10 1 2 1 0 1-11 1 10 1-3 1 1 1 2 1-11 1 13 1-13 1 0 1 11 1-1 1-10 1 9 1 0 1-11 1 2 1 1 1-3 1 11 1-7 1-3 1 0 1 12 1-10 1 0 1 9 1-11 1 12 1-3 1-10 1 12 1 0 1-2 1-1 1 4 1-4 1-8 1 3 1 7 1-1 1-9 1-2 1 4 1 0"/>
<path class="g" d="M1 95l1-1 1-2 1 7M10 94l1-2M25 91l1 1 1 0 1 10M36 91l1 10M38 93l1-2M40 91l1 2 1 7M45 91l1 0M48 91l1 8M50 92l1-3M54 93l1 6M56 91l1 0M62 92l1 9M70 89l1 1 1 11M79 92l1 8M87 89l1 9M89 91l1-3M102 91l1-2M105 87l1 2M108 87l1 0M119 90l1-2 1 9M125 86l1 1 1 11M138 90l1 8M150 86l1 13M161 87l1-3M164 88l1-3M181 85l1 3 1 7M187 87l1 0"/>
<path class="o" d="M5 90l1 3 1-1 1 9M11 92l1 0 1 0 1 7M17 90l1 2 1 7M24 91l1 0M32 91l1 0 1 9M39 91l1 0M43 90l1 0 1 1M46 91l1 0 1 0M51 89l1 12M57 91l1 7M59 91l1-3M65 88l1 2 1-2M69 90l1-1M73 90l1 10M82 89l1 10M90 88l1 10M92 88l1 1 1 9M96 90l1 9M100 88l1 10M103 89l1 8M106 89l1 11M109 87l1 12M114 89l1-2 1 10M131 89l1 9M133 85l1 0 1 12M136 86l1 9M140 88l1-2 1 10M145 87l1 10M152 86l1 0 1 11M156 86l1 9M160 86l1 1M165 85l1 0 1 12M168 87l1 0 1 9M171 85l1 12M174 84l1 12M185 85l1-2 1 4"/>
<path class="b" d="M16 103l1-13M31 102l1-11M61 101l1-9M63 101l1-2M68 103l1-13M72 101l1-11M74 100l1 0 1-1M77 101l1-2M80 100l1-1M84 100l1-2M98 101l1-5M107 100l1-13M110 99l1 1 1-4M123 99l1-1 1-12M139 98l1-10M143 98l1 0 1-11M149 97l1-11M151 99l1-13M154 97l1-1M167 97l1-10M172 97l1-3M175 96l1 0M179 97l1-4"/>
<path class="k" d="M22 90l1 9M60 88l1 13M67 88l1 15M159 84l1 2M162 84l1 11"/>
</g>
<g transform="matrix(2.3365 1.0825 0 -6.3880 415.8 922.3)"><path class="y" d="M1 103l1-1 1-2 1-8 1 10 1 1 1-1 1-9 1-2 1 10 1 0 1 1 1 0 1-11 1 10 1-10 1 9 1 2 1-9 1-2 1 0 1 11 1-8 1 7 1 0 1-3 1 3 1-9 1-2 1-1 1 4 1 8 1 1 1-11 1 1 1 7 1-5 1 7 1-2 1 4 1-4 1-9 1 8 1 1 1 3 1-12 1 8 1 3 1-8 1 7 1 2 1-12 1 0 1 9 1-7 1 7 1 1 1-10 1 9 1 0 1-1 1 3 1-10 1-2 1 11 1 0 1-1 1-7 1-1 1 6 1-5 1-1 1 10 1-11 1-3 1 2 1 0 1 1 1 8 1-6 1-4 1 10 1-10 1-1 1 1 1 0 1 9 1-8 1 7 1 2 1-7 1 8 1 1 1-8 1-2 1 8 1-6 1-4 1 12 1-3 1-10 1 12 1-9 1-2 1 10 1-1 1-9 1 12 1-2 1-1 1-9 1 10 1-9 1 7 1 0 1-7 1 1 1-1 1 9 1-1 1-8 1-2 1 2 1-2 1 9 1-1 1-9 1 1 1-1 1 0 1 10 1-11 1 11 1-2 1 6 1-3 1-10 1 12 1-11 1 9 1 1 1-12 1 0 1 2 1 7 1-7 1 0 1 1 1-2 1 10 1-13 1 3 1 10 1-9 1-2 1 10 1-8 1-1 1 6 1 3 1-2 1 0 1-9 1 0 1 11 1 0 1-12 1 11 1 0 1-11 1 12 1-11 1-2 1 13 1-11 1 2 1-1 1-1 1 2 1-3 1 11 1 1 1-1 1-9 1 7 1-7 1 8 1 3"/>
<path class="g" d="M4 92l1 10M19 93l1-2M23 94l1 7M37 94l1 7M49 93l1 7M68 92l1-1M71 92l1-1 1 10M77 89l1 1M80 92l1-4M83 88l1-1M91 91l1 8M94 92l1-2 1 8M97 92l1-4M103 90l1-2M117 90l1-1 1 9M122 87l1 2 1-2M128 87l1-1M139 88l1 9M144 88l1 7M146 88l1 0 1 1 1-2 1 10M157 88l1-1M163 85l1 0M176 87l1-1M179 87l1-3"/>
<path class="b" d="M6 103l1-1M33 102l1-11M40 103l1-4M45 102l1-12M48 101l1-8M51 102l1-12M62 101l1-10M73 101l1-11M93 100l1-8M99 100l1-3M108 100l1-2M135 100l1-3M138 99l1-11M141 98l1-12M150 97l1-13M174 96l1-11M182 96l1-1"/>
<path class="o" d="M8 93l1-2M14 91l1 10M16 91l1 9M20 91l1 0 1 11M28 92l1-2 1-1 1 4 1 8M34 91l1 1 1 7M42 90l1 8M46 90l1 8M52 90l1 0 1 9M55 92l1 7M58 90l1 9M63 91l1-2 1 11M69 91l1 6M74 90l1-3 1 2 1 0M78 90l1 8M81 88l1 10M84 87l1 1 1 0 1 9M88 89l1 7M98 88l1 12M101 87l1 12M104 88l1 10M107 88l1 12M111 88l1 10M113 89l1 7M116 89l1 1M121 89l1-2M124 87l1 9M127 86l1 1M132 85l1 11M137 87l1 12M142 86l1 0 1 2M152 87l1 10M154 88l1-2 1 10M158 87l1 6M164 85l1 11M167 84l1 11M172 85l1-2M175 85l1 2M177 86l1-1 1 2M180 84l1 11M184 86l1 7M186 86l1 8"/>
<path class="k" d="M9 91l1 10M129 86l1 0 1 10M151 84l1 3M170 84l1 12M173 83l1 13"/>
</g>
<g transform="matrix(2.3365 1.0825 0 -6.3880 411.7 923.4)"><path class="y" d="M1 93l1-2 1 2 1 10 1-11 1 0 1 1 1 8 1-1 1-7 1 1 1-1 1 0 1 10 1-12 1 9 1-8 1-1 1 10 1-1 1-8 1 7 1 5 1-11 1-2 1 1 1 6 1 4 1-3 1 4 1-4 1-9 1 1 1 9 1 1 1-9 1 11 1-12 1-1 1 2 1-1 1 8 1-5 1-4 1 4 1 8 1-12 1 1 1 11 1-10 1-2 1 11 1-3 1-8 1 3 1-3 1-2 1 14 1-10 1-3 1 2 1-1 1 8 1 2 1-11 1-1 1 1 1 10 1 1 1-9 1 11 1-4 1-9 1 11 1-2 1 1 1 1 1-3 1-9 1 1 1 11 1-14 1 14 1 1 1 0 1-4 1-6 1 7 1-9 1 9 1 0 1-10 1 11 1-1 1 1 1-11 1 10 1 1 1-9 1 1 1 6 1-7 1 9 1-4 1 1 1-5 1 6 1-8 1-2 1 1 1 9 1-9 1 10 1-7 1-2 1 10 1-9 1 8 1-10 1 0 1 10 1-2 1 1 1 0 1-8 1 0 1 7 1 0 1 2 1-12 1 1 1 14 1-12 1 0 1 6 1-7 1 0 1-1 1 11 1-12 1 3 1-4 1 11 1 0 1-8 1 2 1 4 1 1 1 2 1-13 1 2 1 11 1-11 1 10 1-1 1-8 1 10 1-13 1 4 1-3 1 1 1 2 1 8 1-2 1-8 1 0 1 10 1-9 1 0 1 6 1-7 1 10 1 2 1-14 1 9 1 3 1 1 1-13 1 13 1-2 1-12 1 1 1 1 1 12 1-13 1 10 1-8 1 1"/>
<path class="o" d="M1 93l1-2 1 2M5 92l1 0 1 1 1 8M10 93l1 1M12 93l1 0 1 10M15 91l1 9M17 92l1-1M21 92l1 7M24 93l1-2 1 1 1 6M33 91l1 9M39 90l1 2M41 91l1 8M48 91l1 11M54 90l1 3M61 91l1-1 1 8M65 89l1-1M67 89l1 10M73 89l1 11M80 89l1 11M89 89l1 9M92 88l1 11M96 88l1 10M108 89l1-2M112 88l1 10M115 89l1 10M120 88l1 10M131 87l1 14M137 88l1-1 1 11M140 86l1 3M145 88l1 2M150 84l1 2 1 11M153 86l1 10M156 87l1 10M158 84l1 4M160 85l1 1 1 2M168 87l1 0 1 6M171 86l1 10M182 84l1 1 1 12M185 84l1 10M187 86l1 1"/>
<path class="g" d="M3 93l1 10M11 94l1-1M32 90l1 1M36 92l1 11M38 91l1-1M40 92l1-1M43 94l1-4 1 4 1 8M47 90l1 1M50 92l1-2 1 11M55 93l1-3 1-2M59 92l1-3 1 2M70 91l1 11M79 88l1 1M87 91l1 7M99 90l1 1 1 6M102 90l1 9M106 91l1 6M109 87l1 1 1 9M114 91l1-2M117 90l1 8M119 88l1 0M125 89l1 0 1 7M130 86l1 1M133 89l1 0 1 6M136 88l1 0M141 89l1-4M146 90l1 4M159 88l1-3M162 88l1 8M165 86l1 0 1 10"/>
<path class="b" d="M4 103l1-11M14 103l1-12M23 104l1-11M28 102l1-3M30 103l1-4M37 103l1-12M46 102l1-12M49 102l1-10M52 101l1-3M58 102l1-10M71 102l1-4M74 100l1-2M77 100l1-3M81 100l1-14M84 101l1 0 1-4M116 99l1-9M121 98l1-2M132 101l1-12M139 98l1-12M157 97l1-13M173 98l1-14M177 97l1-13M179 97l1-2M184 97l1-13"/>
<path class="k" d="M18 91l1 10M57 88l1 14M66 88l1 1M82 86l1 14M142 85l1 11M174 84l1 9M178 84l1 13M181 83l1 1"/>
</g>
<g transform="matrix(4.1420 -1.0773 0 -6.3880 166.0 992.3)"><path class="y" d="M61 93l1 7 1-8 1 12 1-14 1 12 1-11 1 14 1-12 1 8 1-10 1 10 1-7 1 7 1-5 1 3 1-6 1 11 1-12 1 12 1-13 1 12 1-11 1 12 1-12 1 9 1-7 1-3 1 10 1-10 1 2 1 6 1-7 1 8 1-6 1 6 1-8 1 10 1-11 1 8 1-4 1 7 1-12 1 11 1-6 1 5 1 0 1-7 1 8 1-7 1 6 1-7 1 11 1-12 1 8 1-1 1-4 1 1 1-2 1 10 1-12 1 7 1-4 1 4 1-7 1 9 1-9 1 3"/>
<path class="o" d="M61 93l1 7M63 92l1 12M65 90l1 12M69 93l1 8M73 94l1 7M77 93l1 11M81 91l1 12M83 92l1 12M87 94l1-3 1 10M91 93l1 6M95 94l1 6M99 91l1 8M108 93l1 8M110 94l1 6M114 92l1 8M119 94l1 10M127 92l1 3"/>
<path class="b" d="M64 104l1-14M68 105l1-12M78 104l1-12M80 104l1-13M84 104l1-12M113 104l1-12M120 104l1-12"/>
<path class="k" d="M67 91l1 14M71 91l1 10M103 90l1 11"/>
<path class="g" d="M75 96l1 3M79 92l1 12M85 92l1 9M90 91l1 2M93 92l1 8M97 92l1 10M101 95l1 7M105 95l1 5M112 93l1 11M117 95l1 1 1-2M121 92l1 7M123 95l1 4M125 92l1 9"/>
</g>
<g transform="matrix(4.1420 -1.0773 0 -6.3880 182.4 999.9)"><path class="y" d="M61 93l1 8 1-7 1 7 1-6 1 6 1-9 1 8 1-7 1 7 1-7 1 6 1-10 1 12 1-8 1 2 1 6 1-9 1 10 1-13 1 3 1 10 1-10 1-1 1 10 1-5 1 7 1-12 1 9 1-5 1 8 1-11 1 8 1-6 1 9 1-7 1 5 1-8 1 10 1-9 1 6 1-9 1 13 1-8 1 6 1-11 1 11 1-10 1 12 1-13 1 14 1-13 1 8 1 2 1-10 1 8 1-4 1 5 1-10 1 11 1-8 1 8 1-9 1 7 1-10 1 12 1-10 1 10"/>
<path class="g" d="M61 93l1 8M63 94l1 7M65 95l1 6M71 93l1 6M76 95l1 6M86 96l1 7M90 95l1 8M92 92l1 8M94 94l1 9M96 96l1 5M98 93l1 10M100 94l1 6M104 96l1 6M117 96l1 5M121 94l1 8M123 93l1 7"/>
<path class="o" d="M67 92l1 8M69 93l1 7M75 93l1 2M78 92l1 10M81 92l1 10M83 92l1-1 1 10M102 91l1 13M106 91l1 11M108 92l1 12M110 91l1 14M112 92l1 8M115 92l1 8M125 90l1 12M127 92l1 10"/>
<path class="k" d="M73 89l1 12M80 89l1 3M88 91l1 9M119 91l1 11"/>
<path class="b" d="M91 103l1-11M95 103l1-7M103 104l1-8M109 104l1-13M111 105l1-13"/>
</g>
<g transform="matrix(4.1420 -1.0773 0 -6.3880 198.7 1007.5)"><path class="y" d="M61 92l1 8 1-10 1 11 1-9 1 12 1-10 1 8 1-10 1 11 1-13 1 10 1-8 1 8 1-9 1 9 1-8 1 7 1 1 1 4 1-11 1 8 1 0 1-10 1 10 1-7 1 10 1-11 1-3 1 11 1-10 1 9 1-7 1 8 1-7 1 7 1-11 1 2 1 8 1-9 1 8 1-6 1 9 1-9 1-2 1 11 1-11 1 9 1-10 1 12 1-8 1 8 1-12 1 11 1-8 1 8 1 1 1-11 1 12 1-11 1 8 1-7 1 10 1-11 1 1 1 10 1-10 1 11"/>
<path class="g" d="M61 92l1 8M67 94l1 8M86 94l1 10M88 93l1-3M95 94l1 7M98 92l1 8M102 93l1 9M104 93l1-2M111 94l1 8M118 91l1 12"/>
<path class="o" d="M63 90l1 11M65 92l1 12M69 92l1 11M73 92l1 8M75 91l1 9M77 92l1 7M81 93l1 8M84 91l1 10M89 90l1 11M91 91l1 9M93 93l1 8M97 90l1 2M100 91l1 8M105 91l1 11M107 91l1 9M115 93l1 8M120 92l1 8M122 93l1 10M124 92l1 1 1 10M127 93l1 11"/>
<path class="b" d="M66 104l1-10M70 103l1-13M80 104l1-11M87 104l1-11M119 103l1-11M123 103l1-11M126 103l1-10"/>
<path class="k" d="M71 90l1 10M109 90l1 12M113 90l1 11"/>
</g>
<g transform="matrix(4.1420 -1.0773 0 -6.3880 215.1 1015.1)"><path class="y" d="M61 93l1 8 1-10 1 11 1-8 1 7 1-9 1 8 1-10 1 12 1-8 1 7 1-9 1 9 1 0 1-11 1 11 1-7 1 6 1-9 1 10 1-9 1 8 1-7 1 8 1-6 1 4 1-5 1 7 1-9 1 9 1 2 1-10 1 10 1-13 1 13 1-9 1 10 1-15 1 12 1-11 1 2 1-1 1 9 1 4 1-9 1 8 1-12 1 10 1-8 1 7 1-8 1 8 1 4 1-12 1 10 1-10 1-1 1 10 1-9 1 10 1-10 1 13 1-14 1 12 1-12 1 10 1-8"/>
<path class="g" d="M61 93l1 8M65 94l1 7M71 94l1 7M73 92l1 9M78 94l1 6M84 93l1 8M86 95l1 4M88 94l1 7M90 92l1 9M93 93l1 10M97 94l1 10M102 92l1-1 1 9M106 95l1 8M110 93l1 7M118 91l1 10M122 92l1 13M124 91l1 12"/>
<path class="o" d="M63 91l1 11M67 92l1 8M69 90l1 12M76 90l1 11M80 91l1 10M82 92l1 8M95 90l1 13M108 91l1 10M112 92l1 8M115 92l1 10M117 92l1-1M120 92l1 10M126 91l1 10"/>
<path class="b" d="M92 103l1-10M94 103l1-13M96 103l1-9M98 104l1-15M105 104l1-9M107 103l1-12M114 104l1-12M123 105l1-14M125 103l1-12"/>
<path class="k" d="M99 89l1 12M101 90l1 2"/>
</g>
<g transform="matrix(4.1420 -1.0773 0 -6.3880 231.4 1022.7)"><path class="y" d="M61 99l1-6 1 9 1-10 1 8 1 0 1-9 1 9 1-10 1 12 1-8 1 7 1-11 1 10 1-8 1 7 1-9 1 8 1-4 1 7 1-9 1 9 1-11 1 9 1-9 1 11 1-10 1 2 1 8 1-9 1 9 1-9 1 7 1-6 1 7 1-7 1 10 1-2 1-12 1 13 1-12 1 10 1 1 1-11 1 10 1-9 1 11 1-8 1-2 1 8 1-2 1-4 1-2 1 11 1-10 1 11 1-10 1 6 1-12 1 11 1-9 1 11 1-11 1 13 1 1 1-5 1-7 1 11"/>
<path class="o" d="M62 93l1 9M64 92l1 8M67 91l1 9M69 90l1 12M73 90l1 10M77 90l1 8M83 90l1 9M85 90l1 11M87 91l1 2M90 92l1 9M92 92l1 7M101 90l1 10M104 90l1 10M106 91l1 11M109 92l1 8M113 92l1 11M115 93l1 11M119 88l1 11"/>
<path class="b" d="M63 102l1-10M70 102l1-8M97 103l1-2M107 102l1-8M114 103l1-10M116 104l1-10M124 103l1 1 1-5"/>
<path class="g" d="M71 94l1 7M75 92l1 7M79 94l1 7M81 92l1 9M88 93l1 8M94 93l1 7M96 93l1 10M108 94l1-2M112 94l1-2M117 94l1 6M123 90l1 13M127 92l1 11"/>
<path class="k" d="M99 89l1 13M121 90l1 11"/>
</g>
<g transform="matrix(4.1420 -1.0773 0 -6.3880 247.8 1030.2)"><path class="y" d="M61 91l1 10 1-8 1 7 1-8 1 10 1-11 1 8 1-9 1 9 1 1 1-1 1-5 1 10 1-14 1 9 1-9 1 8 1-6 1 8 1-8 1 10 1-11 1 11 1-10 1 8 1-9 1 11 1-11 1 9 1-9 1 10 1-11 1-1 1 13 1-8 1 8 1-11 1 11 1-12 1-1 1 15 1-15 1 10 1-5 1 7 1-9 1 8 1-9 1 12 1-11 1 11 1-3 1-10 1 11 1-11 1 13 1-13 1 9 1-8 1 12 1-11 1 0 1 6 1-5 1 7 1-9 1 9"/>
<path class="g" d="M61 91l1 10M63 93l1 7M65 92l1 10M73 94l1 10M75 90l1 9M85 92l1 8M89 91l1 9M96 94l1 8M105 94l1 7M109 91l1 12M111 92l1 11M114 90l1 11M116 90l1 13M123 92l1 6M125 93l1 7M127 91l1 9"/>
<path class="b" d="M66 102l1-11M74 104l1-14M82 102l1-11M84 102l1-10M88 102l1-11M95 102l1-8M97 102l1-11M99 102l1-12M102 104l1-15M110 103l1-11M112 103l1-3M117 103l1-13M121 103l1-11"/>
<path class="o" d="M67 91l1 8M69 90l1 9M77 90l1 8M79 92l1 8M81 92l1 10M83 91l1 11M87 91l1 11M91 91l1 10M93 90l1-1M98 91l1 11M100 90l1-1 1 15M107 92l1 8M118 90l1 9M120 91l1 12M122 92l1 0"/>
<path class="k" d="M94 89l1 13M103 89l1 10"/>
</g>
<g transform="matrix(4.1420 -1.0773 0 -6.3880 264.1 1037.8)"><path class="y" d="M61 94l1 8 1-11 1 7 1-3 1 4 1-8 1 10 1-10 1 12 1-12 1 11 1-12 1 9 1-10 1 11 1-7 1 9 1-12 1 8 1-7 1 10 1-8 1 8 1-10 1 10 1-9 1 11 1-10 1 7 1-11 1 10 1 0 1-6 1 6 1-9 1 10 1-8 1 9 1-10 1 9 1-2 1-6 1 10 1-14 1 12 1-8 1 7 1-8 1-1 1 11 1-13 1 11 1-5 1 5 1-8 1 9 1-7 1 9 1-12 1 11 1-2 1-9 1 11 1-10 1 9 1-8 1 0"/>
<path class="g" d="M61 94l1 8M65 95l1 4M71 91l1 11M77 93l1 9M83 93l1 8M89 93l1 7M94 93l1 6M98 92l1 9M109 91l1-1M114 94l1 5M118 93l1 9"/>
<path class="b" d="M62 102l1-11M68 101l1-10M70 103l1-12M72 102l1-12M78 102l1-12M86 101l1-9M88 103l1-10M99 101l1-10M104 102l1-14M119 102l1-12M124 101l1-10"/>
<path class="o" d="M63 91l1 7M67 91l1 10M69 91l1 12M73 90l1 9M79 90l1 8M81 91l1 10M85 91l1 10M87 92l1 11M96 90l1 10M100 91l1 9M103 92l1 10M107 92l1 7M110 90l1 11M112 88l1 11M116 91l1 9M120 90l1 11M123 90l1 11M125 91l1 9M127 92l1 0"/>
<path class="k" d="M75 89l1 11M91 89l1 10M105 88l1 12"/>
</g>
<g transform="matrix(4.1420 -1.0773 0 -6.3880 280.5 1045.4)"><path class="y" d="M61 101l1-11 1 11 1-11 1 12 1-11 1 8 1-11 1 14 1-12 1 9 1-7 1 7 1-9 1 9 1-9 1 11 1-12 1 12 1-10 1 7 1-5 1 6 1-10 1 11 1-8 1 8 1-9 1 9 1-10 1 11 1-8 1 6 1-8 1 12 1-14 1 12 1-8 1 6 1-9 1 9 1-7 1 10 1-12 1 11 1-10 1 8 1-11 1 11 1-9 1 10 1-7 1 6 1-10 1 12 1-9 1 9 1-12 1 10 1-10 1 13 1-11 1 9 1-10 1 7 1-6 1 8 1-7"/>
<path class="b" d="M61 101l1-11M65 102l1-11M69 102l1-12M79 101l1-10M95 103l1-14M97 101l1-8M103 102l1-12M115 101l1-9M117 101l1-12M121 102l1-11"/>
<path class="o" d="M62 90l1 11M64 90l1 12M66 91l1 8M68 88l1 14M70 90l1 9M74 90l1 9M76 90l1 11M78 89l1 12M86 92l1 8M88 91l1 9M94 91l1 12M96 89l1 12M100 90l1 9M104 90l1 11M108 88l1 11M110 90l1 10M114 89l1 12M116 92l1 9M122 91l1 9M124 90l1 7"/>
<path class="g" d="M72 92l1 7M80 91l1 7M82 93l1 6M84 89l1 11M90 90l1 11M92 93l1 6M98 93l1 6M102 92l1 10M106 91l1 8M112 93l1 6M120 89l1 13M126 91l1 8"/>
<path class="k" d="M118 89l1 10"/>
</g>
<g transform="matrix(4.1420 -1.0773 0 -6.3880 296.9 1053.0)"><path class="y" d="M61 92l1 7 1-8 1 9 1-1 1-7 1 8 1-9 1 8 1-6 1 8 1-10 1 9 1-7 1 6 1-10 1 10 1-1 1-7 1 7 1-8 1 8 1-5 1 8 1-10 1 7 1-8 1 10 1-10 1 9 1-6 1 6 1-9 1 9 1-8 1 7 1-7 1 11 1-11 1 11 1-11 1 8 1-10 1 11 1-8 1 7 1-9 1 9 1-8 1 7 1-8 1 9 1-7 1 8 1-9 1-2 1 11 1-11 1 12 1-9 1-2 1 11 1-9 1 8 1-10 1 8 1-6 1 8"/>
<path class="g" d="M61 92l1 7M66 92l1 8M70 93l1 8M74 93l1 6M81 90l1 8M83 93l1 8M91 93l1 6M97 91l1 11M105 92l1 7M109 91l1 7M113 92l1 8M123 92l1 8M125 90l1 8M127 92l1 8"/>
<path class="o" d="M63 91l1 9M68 91l1 8M72 91l1 9M76 89l1 10M79 91l1 7M85 91l1 7M87 90l1 10M89 90l1 9M93 90l1 9M95 91l1 7M99 91l1 11M101 91l1 8M103 89l1 11M107 90l1 9M111 90l1 9M115 91l1-2 1 11M120 92l1-2 1 11"/>
<path class="b" d="M71 101l1-10M84 101l1-10M98 102l1-11M100 102l1-11M119 101l1-9M122 101l1-9"/>
<path class="k" d="M118 89l1 12"/>
</g>
<g transform="matrix(4.1420 -1.0773 0 -6.3880 313.2 1060.5)"><path class="y" d="M61 88l1 12 1-10 1 10 1-9 1 6 1-7 1 11 1-10 1 8 1-9 1 11 1-12 1 11 1-10 1 11 1-10 1-1 1 0 1 11 1-3 1-9 1 11 1-11 1 11 1-10 1 11 1-9 1 6 1-6 1 7 1-7 1 8 1-10 1 9 1-11 1 13 1-13 1 14 1-12 1 10 1-9 1 9 1-11 1 8 1 4 1-11 1 9 1-6 1 6 1-8 1 9 1-10 1 8 1 1 1-9 1 6 1-6 1 9 1-10 1 10 1-7 1 8 1-10 1 10 1-3 1-7 1 1"/>
<path class="o" d="M61 88l1 12M63 90l1 10M65 91l1 6M67 90l1 11M71 90l1 11M73 89l1 11M77 91l1-1 1 0 1 11M82 89l1 11M84 89l1 11M86 90l1 11M94 90l1 9M98 88l1 14M100 90l1 10M102 91l1 9M104 89l1 8M107 90l1 9M111 91l1 9M113 90l1 8M116 90l1 6M118 90l1 9M120 89l1 10M124 90l1 10"/>
<path class="b" d="M68 101l1-10M72 101l1-12M76 101l1-10M80 101l1-3M87 101l1-9M93 100l1-10M97 101l1-13M99 102l1-12M106 101l1-11"/>
<path class="g" d="M69 91l1 8M75 90l1 11M88 92l1 6M90 92l1 7M92 92l1 8M109 93l1 6M122 92l1 8M127 90l1 1"/>
<path class="k" d="M96 88l1 13"/>
</g>
<g transform="matrix(4.1420 -1.0773 0 -6.3880 329.6 1068.1)"><path class="y" d="M61 89l1 12 1-11 1 11 1-3 1-7 1-2 1 11 1-12 1 13 1-11 1 0 1 12 1-14 1 13 1-11 1 7 1-6 1 8 1-6 1 7 1-11 1 11 1 0 1-12 1 13 1-9 1 5 1-8 1 10 1-8 1 7 1-8 1 10 1-9 1 9 1-10 1 10 1 1 1-1 1-10 1 11 1-12 1 9 1-7 1 10 1-11 1 7 1-9 1 12 1-11 1 12 1-10 1 10 1-14 1 11 1-9 1 11 1-12 1 1 1 10 1-8 1 12 1-13 1 8 1-9 1 10 1-8"/>
<path class="o" d="M61 89l1 12M67 89l1 11M72 90l1 12M78 91l1 8M89 89l1 10M93 90l1 10M95 91l1 9M97 90l1 10M101 90l1 11M103 89l1 9M105 91l1 10M107 90l1 7M111 89l1 12M120 89l1 10M122 91l1 12"/>
<path class="b" d="M62 101l1-11M64 101l1-3M70 101l1-11M73 102l1-14M75 101l1-11M81 100l1-11M83 100l1 0M86 101l1-9M96 100l1-10M99 101l1-1M102 101l1-12M106 101l1-11M112 101l1-10M114 101l1-14M123 103l1-13"/>
<path class="g" d="M63 90l1 11M66 91l1-2M71 90l1 0M76 90l1 7M80 93l1 7M82 89l1 11M87 92l1 5M91 91l1 7M113 91l1 10M117 89l1 11M124 90l1 8M126 89l1 10"/>
<path class="k" d="M69 88l1 13M74 88l1 13M85 88l1 13M109 88l1 12M115 87l1 11M119 88l1 1"/>
</g>
<g transform="matrix(4.1420 -1.0773 0 -6.3880 345.9 1075.7)"><path class="y" d="M61 89l1 3 1 8 1-10 1 7 1-8 1 10 1-10 1 11 1-12 1 11 1-11 1 12 1-11 1 7 1-9 1 13 1-10 1 9 1-9 1 9 1-10 1 9 1-8 1 9 1-9 1 8 1-6 1 5 1-6 1 7 1-9 1 8 1-7 1 9 1-8 1 8 1 0 1-9 1 9 1-11 1 13 1-13 1 13 1-9 1 6 1-11 1 10 1-8 1 7 1-6 1 9 1-7 1 7 1 0 1-2 1-7 1 9 1-10 1 10 1 0 1-9 1 11 1-11 1 7 1-5 1 6 1-9"/>
<path class="o" d="M61 89l1 3M64 90l1 7M66 89l1 10M68 89l1 11M70 88l1 11M72 88l1 12M74 89l1 7M78 90l1 9M80 90l1 9M82 89l1 9M84 90l1 9M94 90l1 9M99 90l1 9M109 89l1 7M117 90l1 9M119 89l1 10M124 90l1 7"/>
<path class="g" d="M62 92l1 8M86 90l1 8M88 92l1 5M90 91l1 7M92 89l1 8M96 91l1 8M105 92l1 6M111 90l1 9M113 92l1 7M122 90l1 11M126 92l1 6"/>
<path class="b" d="M63 100l1-10M77 100l1-10M102 101l1-13M104 101l1-9M123 101l1-11"/>
<path class="k" d="M76 87l1 13M101 88l1 13M103 88l1 13M107 87l1 10"/>
</g>
<g transform="matrix(4.1420 -1.0773 0 -6.3880 362.3 1083.3)"><path class="y" d="M61 91l1 6 1-8 1 9 1-11 1 13 1-9 1 9 1-9 1 9 1-11 1 8 1-9 1 10 1-10 1 11 1-11 1 9 1-9 1 8 1-8 1 3 1 5 1-5 1 6 1-10 1 10 1-6 1 6 1-10 1 2 1 9 1 3 1-10 1 8 1-9 1 8 1 1 1-12 1 10 1-6 1 8 1-10 1 11 1-12 1 11 1-11 1 14 1-11 1 7 1-9 1 7 1-7 1 9 1-9 1 0 1-1 1 10 1-9 1 7 1-7 1 11 1-11 1 9 1-10 1 11 1-8 1 8"/>
<path class="g" d="M61 91l1 6M63 89l1 9M67 91l1 9M69 91l1 9M82 91l1 5M84 91l1 6M88 91l1 6M91 89l1 9M94 91l1 8M96 90l1 8M101 91l1 8M109 91l1 7M113 89l1 9M115 89l1 0 1-1M123 89l1 9M127 91l1 8"/>
<path class="o" d="M65 87l1 13M71 89l1 8M73 88l1 10M75 88l1 11M77 88l1 9M79 88l1 8M81 88l1 3M90 87l1 2M103 89l1 11M111 89l1 7M117 88l1 10M119 89l1 7M121 89l1 11"/>
<path class="b" d="M66 100l1-9M68 100l1-9M70 100l1-11M93 101l1-10M104 100l1-12M108 102l1-11M122 100l1-11"/>
<path class="k" d="M86 87l1 10M99 87l1 10M105 88l1 11M107 88l1 14M125 88l1 11"/>
</g>
<g transform="matrix(4.1420 -1.0773 0 -6.3880 378.6 1090.9)"><path class="y" d="M61 98l1-6 1 6 1-8 1 7 1-9 1 11 1-11 1 10 1-6 1 5 1-6 1 8 1-8 1 8 1-10 1 11 1-14 1 14 1-12 1 12 1-10 1 10 1-12 1 8 1-5 1 7 1-11 1 8 1-6 1 8 1-6 1-6 1 14 1-2 1-8 1 9 1-2 1-4 1 7 1-10 1 10 1-8 1 7 1-8 1 7 1-7 1 10 1-12 1 11 1-10 1 9 1-11 1 12 1-9 1 10 1-10 1 7 1-8 1 6 1 6 1-2 1-11 1 11 1-11 1 8 1-9 1 1"/>
<path class="g" d="M62 92l1 6M64 90l1 7M68 88l1 10M70 92l1 5M72 91l1 8M74 91l1 8M80 88l1 12M86 91l1 7M90 89l1 8M92 91l1-6M96 89l1 9M99 92l1 7M103 91l1 7M105 90l1 7M111 89l1 9"/>
<path class="o" d="M66 88l1 11M76 89l1 11M82 90l1 10M84 88l1 8M101 89l1 10M107 90l1 10M109 88l1 11M115 90l1 10M117 90l1 7M119 89l1 6M123 88l1 11M125 88l1 8"/>
<path class="b" d="M75 99l1-10M77 100l1-14M79 100l1-12M81 100l1-10M83 100l1-12M94 99l1-2M108 100l1-12M116 100l1-10M121 101l1-2"/>
<path class="k" d="M78 86l1 14M88 87l1 8M93 85l1 14M113 87l1 12M127 87l1 1"/>
</g>
<g transform="matrix(4.1420 -1.0773 0 -6.3880 395.0 1098.4)"><path class="y" d="M61 97l1-10 1 11 1-8 1-2 1 10 1-8 1 10 1-13 1 11 1-8 1 6 1-8 1 8 1-7 1 12 1-14 1 12 1-12 1 9 1-8 1 11 1-11 1 0 1 13 1-13 1 11 1 0 1-8 1 8 1-11 1 12 1-2 1-7 1 9 1-4 1-9 1 11 1-7 1 6 1-8 1 9 1-8 1 7 1-8 1 8 1-5 1 7 1-9 1 9 1-10 1 9 1-8 1 8 1-8 1 7 1-7 1 10 1-10 1 10 1-13 1 5 1 7 1-8 1 4 1-7 1 10 1-9"/>
<path class="o" d="M62 87l1 11M65 88l1 10M69 87l1 11M73 88l1 8M75 89l1 12M79 87l1 9M83 88l1 0M86 88l1 11M97 87l1 11M109 90l1 9M111 89l1 9M119 90l1 10M121 87l1 5"/>
<path class="g" d="M64 90l1-2M67 90l1 10M71 90l1 6M81 88l1 11M84 88l1 13M89 91l1 8M91 88l1 12M94 91l1 9M99 91l1 6M101 89l1 9M103 90l1 7M105 89l1 8M107 92l1 7M113 90l1 8M115 90l1 7M117 90l1 10M122 92l1 7M124 91l1 4M126 88l1 10"/>
<path class="b" d="M68 100l1-13M76 101l1-14M82 99l1-11M85 101l1-13M88 99l1-8M92 100l1-2M95 100l1-4M110 99l1-10M118 100l1-10M120 100l1-13M123 99l1-8"/>
<path class="k" d="M77 87l1 12"/>
</g>
<g transform="matrix(4.1420 -1.0773 0 -6.3880 411.3 1106.0)"><path class="y" d="M61 89l1 11 1-13 1 8 1-7 1 10 1-9 1 7 1 2 1-11 1 11 1-10 1 10 1-9 1 11 1-11 1 10 1-10 1 1 1 8 1-8 1 10 1-9 1-5 1 11 1-9 1 10 1-9 1 9 1-10 1 10 1-12 1 10 1-9 1 12 1-11 1-2 1 9 1-4 1 7 1-11 1 9 1-10 1 13 1-8 1 5 1-9 1 12 1-10 1-1 1 8 1-8 1 11 1-10 1 9 1-10 1 8 1-6 1 7 1-6 1 6 1-9 1 9 1-7 1 8 1-10 1 11 1-13"/>
<path class="g" d="M61 89l1 11M63 87l1 8M72 88l1 10M74 89l1 11M81 90l1 10M83 91l1-5M96 88l1-2M99 91l1 7M105 91l1 5M110 88l1 8M112 88l1 11M118 90l1 7M120 91l1 6M126 88l1 11"/>
<path class="b" d="M62 100l1-13M75 100l1-11M77 99l1-10M82 100l1-9M95 99l1-11M104 99l1-8M108 99l1-10M113 99l1-10M127 99l1-13"/>
<path class="o" d="M65 88l1 10M67 89l1 7M76 89l1 10M78 89l1 1 1 8M84 86l1 11M86 88l1 10M88 89l1 9M90 88l1 10M94 87l1 12M101 87l1 9M103 86l1 13M107 87l1 12M109 89l1-1M114 89l1 9M116 88l1 8M122 88l1 9M124 90l1 8"/>
<path class="k" d="M70 87l1 11M92 86l1 10M97 86l1 9"/>
</g>
<g transform="matrix(4.1420 -1.0773 0 -6.3880 427.7 1113.6)"><path class="y" d="M61 89l1 7 1-9 1 13 1-10 1 9 1-13 1 13 1-10 1 7 1-6 1 9 1-1 1-10 1 10 1-12 1 11 1-8 1 9 1-8 1 9 1-11 1 10 1-10 1 10 1-9 1 10 1-12 1 12 1-11 1-1 1 12 1-11 1 7 1-4 1 6 1-10 1 14 1-1 1-12 1 9 1-6 1 7 1-11 1 4 1 9 1-2 1-7 1 7 1-10 1 8 1-7 1 10 1-11 1 10 1-9 1 8 1-8 1 8 1-8 1 9 1-9 1-1 1 14 1-3 1-8 1-3 1 10"/>
<path class="g" d="M61 89l1 7M65 90l1 9M71 90l1 9M74 88l1 10M78 89l1 9M80 90l1 9M90 88l1-1M95 91l1 6M102 91l1 7M105 91l1 9M108 91l1 7M110 88l1 8M112 89l1 10M116 89l1 8M123 88l1 14M126 91l1-3 1 10"/>
<path class="o" d="M63 87l1 13M69 89l1 7M76 86l1 11M82 88l1 10M84 88l1 10M86 89l1 10M88 87l1 12M91 87l1 12M93 88l1 7M97 87l1 14M100 88l1 9M104 87l1 4M114 88l1 10M118 89l1 8M120 89l1 9M122 89l1-1"/>
<path class="b" d="M64 100l1-10M66 99l1-13M68 99l1-10M72 99l1-1M81 99l1-11M87 99l1-12M89 99l1-11M92 99l1-11M98 101l1-1 1-12M106 100l1-2M113 99l1-11M115 98l1-9M121 98l1-9M124 102l1-3 1-8"/>
<path class="k" d="M67 86l1 13"/>
</g>
<g transform="matrix(4.1420 -1.0773 0 -6.3880 444.1 1121.2)"><path class="y" d="M61 96l1-9 1 9 1-6 1 9 1-10 1 10 1-10 1 7 1-5 1 8 1-10 1 8 1-8 1 6 1-6 1 6 1-9 1 12 1-10 1 10 1-11 1 10 1-8 1 7 1-6 1 9 1-12 1 9 1-9 1 11 1-10 1 8 1-8 1 7 1-7 1 8 1-7 1 5 1-9 1 9 1-9 1 10 1-8 1 8 1-8 1 10 1-8 1-2 1 10 1-3 1-5 1 6 1-8 1 9 1-9 1 10 1-9 1 11 1-12 1 10 1-12 1-1 1 13 1-6 1 5 1-5 1 6"/>
<path class="o" d="M62 87l1 9M68 89l1 7M74 89l1 6M76 89l1 6M78 86l1 12M80 88l1 10M82 87l1 10M88 87l1 9M94 88l1 7M100 85l1 9M102 85l1 10M104 87l1 8M106 87l1 10M108 89l1-2 1 10M112 89l1 6M114 87l1 9M116 87l1 10M118 88l1 11M122 85l1-1 1 13"/>
<path class="g" d="M64 90l1 9M66 89l1 10M70 91l1 8M72 89l1 8M84 89l1 7M86 90l1 9M90 87l1 11M92 88l1 8M96 88l1 8M98 89l1 5M120 87l1 10M125 91l1 5M127 91l1 6"/>
<path class="b" d="M65 99l1-10M67 99l1-10M71 99l1-10M79 98l1-10M87 99l1-12M119 99l1-12"/>
</g>
<g transform="matrix(4.1420 -1.0773 0 -6.3880 460.4 1128.7)"><path class="y" d="M61 98l1-12 1 9 1-8 1 12 1-10 1 8 1-12 1 12 1-12 1 12 1-9 1 1 1 5 1-7 1 12 1-11 1 10 1-11 1 10 1-11 1 9 1-5 1 0 1 8 1-10 1 11 1-12 1 9 1-6 1 10 1-11 1 10 1-12 1 9 1-9 1 2 1 7 1-9 1 12 1-10 1 8 1-9 1 7 1-10 1 1 1 10 1-10 1 14 1-12 1 10 1-7 1 6 1-9 1 8 1-8 1 10 1-12 1 10 1-10 1 10 1-9 1 9 1-8 1 9 1-11 1 12 1-8"/>
<path class="k" d="M62 86l1 9M68 85l1 12M70 85l1 12M105 85l1 1 1 10M120 86l1 10"/>
<path class="g" d="M64 87l1 12M66 89l1 8M73 89l1 5M77 88l1 10M83 90l1 0 1 8M90 90l1 10M92 89l1 10M94 87l1 9M101 89l1 8M112 91l1 6M116 88l1 10"/>
<path class="b" d="M65 99l1-10M76 99l1-11M78 98l1-11M87 99l1-12M91 100l1-11M93 99l1-12M100 99l1-10M109 100l1-12M111 98l1-7M117 98l1-12M127 98l1-8"/>
<path class="o" d="M72 88l1 1M75 87l1 12M79 87l1 10M81 86l1 9M86 88l1 11M88 87l1 9M96 87l1 2 1 7M99 87l1 12M103 88l1 7M108 86l1 14M110 88l1 10M114 88l1 8M118 86l1 10M122 87l1 9M124 88l1 9M126 86l1 12"/>
</g>
<g transform="matrix(4.1420 -1.0773 0 -6.3880 476.8 1136.3)"><path class="y" d="M61 88l1 9 1-11 1 11 1-11 1 11 1-10 1 10 1-9 1 10 1-8 1 8 1-1 1-13 1 14 1-12 1 8 1-8 1 10 1-7 1 6 1-7 1 10 1-14 1 14 1-9 1 8 1-9 1 8 1-9 1 9 1-8 1 10 1-11 1 9 1-10 1 11 1-11 1 3 1 6 1-5 1 7 1-12 1 10 1 2 1-9 1 9 1-11 1 11 1-11 1 10 1-6 1 8 1-10 1 8 1-8 1 10 1-11 1-1 1 8 1-7 1 8 1-6 1 5 1 1 1-9 1 12 1-13"/>
<path class="o" d="M61 88l1 9M63 86l1 11M65 86l1 11M67 87l1 10M69 88l1 10M74 84l1 14M78 86l1 10M82 88l1 10M84 84l1 14M92 88l1 10M94 87l1 9M103 85l1 10M106 88l1 9M108 86l1 11M110 86l1 10M114 88l1 8M116 88l1 10M119 86l1 8M121 87l1 8M123 89l1 5M126 86l1 12"/>
<path class="b" d="M70 98l1-8M72 98l1-1M75 98l1-12M83 98l1-14M85 98l1-9M93 98l1-11M113 98l1-10M117 98l1-11M127 98l1-13"/>
<path class="g" d="M71 90l1 8M76 86l1 8M80 89l1 6M86 89l1 8M88 88l1 8M90 87l1 9M96 86l1 11M99 89l1 6M101 90l1 7M112 90l1 8M118 87l1-1"/>
<path class="k" d="M98 86l1 3"/>
</g>
<g transform="matrix(4.1420 -1.0773 0 -6.3880 493.1 1143.9)"><path class="y" d="M61 96l1-10 1 12 1-10 1 8 1-9 1 8 1-9 1 10 1-9 1 8 1-8 1 9 1-1 1-8 1 8 1-4 1-2 1 10 1-14 1 12 1-4 1-7 1 9 1-1 1-7 1 9 1-8 1 9 1-10 1 10 1-8 1 10 1-11 1 10 1-10 1 8 1-9 1 7 1-7 1 9 1-7 1 9 1-12 1 8 1-6 1 9 1-10 1 10 1-8 1 7 1-8 1 10 1-13 1 11 1-8 1 7 1-8 1 9 1-10 1 9 1-7 1 9 1-8 1 10 1-13 1 2 1 9"/>
<path class="o" d="M62 86l1 12M64 88l1 8M66 87l1 8M68 86l1 10M70 87l1 8M72 87l1 9M80 85l1 12M83 86l1 9M88 88l1 9M90 87l1 10M96 88l1 8M98 87l1 7M100 87l1 9M104 86l1 8M106 88l1 9M108 87l1 10M112 88l1 10M114 85l1 11M116 88l1 7M118 87l1 9M122 88l1 9"/>
<path class="b" d="M63 98l1-10M79 99l1-14M91 97l1-8M93 99l1-11M95 98l1-10M103 98l1-12M113 98l1-13M125 99l1-13"/>
<path class="g" d="M75 87l1 8M77 91l1-2 1 10M86 87l1 9M92 89l1 10M94 88l1 10M102 89l1 9M110 89l1 7M120 86l1 9M124 89l1 10M126 86l1 2 1 9"/>
</g>
<g transform="matrix(4.1420 -1.0773 0 -6.3880 509.5 1151.5)"><path class="y" d="M61 84l1 13 1-11 1 10 1-8 1 8 1-10 1 12 1-14 1 10 1 3 1-9 1 8 1 2 1-11 1 9 1-10 1 7 1-6 1 9 1-8 1 10 1-10 1 11 1-14 1 10 1-7 1 10 1-14 1 13 1-12 1 11 1-8 1 9 1-13 1 11 1-8 1 7 1-6 1 8 1-8 1 6 1 3 1-8 1 8 1-8 1 7 1-7 1 4 1-7 1 10 1-7 1 7 1-10 1 7 1-9 1 12 1-1 1 3 1-9 1 7 1-8 1 6 1-8 1 8 1-9 1 10 1-9"/>
<path class="k" d="M61 84l1 13M69 84l1 10M89 84l1 13M116 84l1 12"/>
<path class="b" d="M62 97l1-11M68 98l1-14M74 98l1-11M82 98l1-10M84 99l1-14M88 98l1-14M119 98l1-9"/>
<path class="o" d="M63 86l1 10M67 86l1 12M75 87l1 9M77 86l1 7M79 87l1 9M83 88l1 11M85 85l1 10M91 85l1 11M95 84l1 11M97 87l1 7M110 86l1 10M114 86l1 7M124 86l1 8M126 85l1 10"/>
<path class="g" d="M65 88l1 8M72 88l1 8M81 88l1 10M87 88l1 10M93 88l1 9M99 88l1 8M101 88l1 6M104 89l1 8M106 89l1 7M108 89l1 4M112 89l1 7M120 89l1 7M122 88l1 6"/>
</g>
<g transform="matrix(4.1420 -1.0773 0 -6.3880 525.8 1159.1)"><path class="y" d="M61 97l1-9 1 7 1-8 1 9 1-10 1 10 1-10 1 10 1-9 1 7 1-7 1 8 1-7 1 8 1-9 1 8 1-9 1 11 1-10 1 9 1-9 1 10 1-8 1 8 1-13 1 12 1-12 1 12 1 2 1 1 1-1 1-1 1-10 1 8 1-9 1 11 1-11 1 0 1 9 1-11 1 11 1-7 1 7 1-7 1 10 1-13 1 10 1-7 1 9 1-12 1 12 1-9 1-2 1 12 1-13 1 13 1-14 1 11 1-9 1 11 1 0 1-11 1 12 1-1 1-11 1 8 1-6"/>
<path class="b" d="M61 97l1-9M79 97l1-10M83 97l1-8M85 97l1-13M90 98l1 1 1-1 1-1 1-10M97 97l1-11M106 98l1-13M110 97l1-12M112 97l1-9M115 98l1-13M117 98l1-14M121 97l1 0M124 98l1-1 1-11"/>
<path class="g" d="M62 88l1 7M66 86l1 10M82 87l1 10M84 89l1 8M94 87l1 8M96 86l1 11M103 88l1 7M105 88l1 10M113 88l1-2M120 86l1 11M123 86l1 12"/>
<path class="o" d="M64 87l1 9M68 86l1 10M70 87l1 7M72 87l1 8M74 88l1 8M76 87l1 8M78 86l1 11M80 87l1 9M88 84l1 12M98 86l1 0 1 9M101 84l1 11M107 85l1 10M109 88l1 9M114 86l1 12M116 85l1 13M126 86l1 8"/>
<path class="k" d="M86 84l1 12M111 85l1 12M118 84l1 11"/>
</g>
<g transform="matrix(4.1420 -1.0773 0 -6.3880 542.2 1166.6)"><path class="y" d="M61 94l1-9 1 3 1 7 1-6 1 7 1-7 1 5 1-9 1 12 1-11 1 9 1 1 1-11 1 13 1-12 1 9 1-6 1 8 1-12 1 12 1-10 1 7 1-7 1 11 1-12 1 7 1-6 1 10 1-10 1 7 1-10 1 11 1-11 1 10 1-7 1 6 1-7 1 9 1-8 1 9 1-8 1-2 1 8 1-7 1 9 1-9 1 11 1-13 1 10 1-8 1 7 1-7 1 7 1-7 1 9 1-9 1-2 1 10 1-10 1 11 1-7 1 7 1-11 1 12 1-11 1 1 1 11"/>
<path class="g" d="M62 85l1 3 1 7M65 89l1 7M67 89l1 5M78 89l1 8M84 87l1 11M86 86l1 7M102 88l1-2 1 8M105 87l1 9M109 85l1 10M115 87l1 9M122 89l1 7M126 86l1 1"/>
<path class="o" d="M69 85l1 12M71 86l1 9M74 85l1 13M76 86l1 9M80 85l1 12M82 87l1 7M88 87l1 10M90 87l1 7M96 87l1 6M98 86l1 9M100 87l1 9M107 87l1 11M111 87l1 7M113 87l1 7M117 87l1-2 1 10M120 85l1 11M124 85l1 12M127 87l1 11"/>
<path class="b" d="M70 97l1-11M75 98l1-12M79 97l1-12M81 97l1-10M85 98l1-12M89 97l1-10M108 98l1-13M121 96l1-7M125 97l1-11"/>
<path class="k" d="M92 84l1 11M94 84l1 10"/>
</g>
<g transform="matrix(4.1420 -1.0773 0 -6.3880 558.5 1174.2)"><path class="y" d="M61 86l1 10 1-11 1 12 1-9 1 9 1-11 1 10 1-12 1 12 1-12 1 13 1-12 1 2 1 7 1-10 1 15 1-13 1 11 1-13 1 12 1-13 1 13 1-1 1-11 1 4 1 8 1-8 1 9 1-13 1 10 1-4 1 4 1 4 1-10 1 7 1-10 1 10 1-10 1 7 1-9 1 14 1 0 1-13 1 13 1-10 1 9 1-9 1 6 1-6 1 9 1-11 1 10 1-7 1 6 1-7 1 8 1-8 1 5 1-8 1 10 1-6 1 6 1-7 1 10 1-9 1 9 1-9"/>
<path class="o" d="M61 86l1 10M63 85l1 12M69 84l1 12M73 85l1 2M80 84l1 12M82 83l1 13M97 85l1 10M99 85l1 7M104 84l1 13M110 87l1 9M112 85l1 10M116 87l1 8M120 84l1 10"/>
<path class="b" d="M64 97l1-9M66 97l1-11M68 96l1-12M72 97l1-12M77 99l1-13M79 97l1-13M81 96l1-13M87 96l1-8M89 97l1-13M94 98l1-10M102 97l1 0 1-13M105 97l1-10M107 96l1-9M125 97l1-9M127 97l1-9"/>
<path class="g" d="M65 88l1 9M67 86l1 10M74 87l1 7M78 86l1 11M86 88l1 8M88 88l1 9M92 90l1 4M95 88l1 7M106 87l1 9M108 87l1 6M114 88l1 6M118 87l1 5M122 88l1 6M124 87l1 10M126 88l1 9"/>
<path class="k" d="M71 84l1 13M76 84l1 15M85 84l1 4M90 84l1 10M101 83l1 14"/>
</g>
<g transform="matrix(4.1420 -1.0773 0 -6.3880 574.9 1181.8)"><path class="y" d="M61 84l1 1 1 8 1-6 1 9 1-12 1 4 1 8 1-9 1 6 1-8 1 10 1-8 1 8 1-10 1 9 1-11 1 15 1-13 1 8 1-8 1 8 1-8 1 11 1-1 1-11 1 12 1-11 1 10 1-8 1 10 1-12 1 12 1-12 1 9 1-8 1 8 1-7 1 8 1-9 1 8 1-9 1 0 1 8 1-8 1 9 1-6 1 5 1-8 1 8 1-8 1 1 1 10 1-12 1 12 1-10 1 10 1-9 1 10 1-13 1 10 1-9 1 8 1-7 1 7 1-8 1 10 1-10"/>
<path class="k" d="M61 84l1 1M77 83l1 15M114 84l1 12M120 84l1 10"/>
<path class="o" d="M62 85l1 8M66 84l1 4M71 85l1 10M75 85l1 9M79 85l1 8M81 85l1 8M83 85l1 11M86 84l1 12M88 85l1 10M90 87l1 10M92 85l1 12M94 85l1 9M98 87l1 8M100 86l1 8M102 85l1 0M105 85l1 9M111 85l1 1M122 85l1 8M124 86l1 7M126 85l1 10"/>
<path class="g" d="M64 87l1 9M67 88l1 8M69 87l1 6M73 87l1 8M96 86l1 8M103 85l1 8M107 88l1 5M109 85l1 8M112 86l1 10M116 86l1 10M118 87l1 10"/>
<path class="b" d="M65 96l1-12M78 98l1-13M91 97l1-12M93 97l1-12M115 96l1-10M117 96l1-9M119 97l1-13"/>
</g>
<g transform="matrix(4.1420 -1.0773 0 -6.3880 161.3 990.2)"><path class="y" d="M61 93l1 10 1-8 1 0 1 10 1-10 1 5 1-9 1 11 1-8 1 8 1-11 1 10 1-5 1 8 1-12 1 11 1-12 1 11 1-11 1 8 1-6 1 8 1-8 1 8 1-8 1 10 1-11 1 10 1-9 1 9 1-8 1-4 1 12 1-7 1 8 1-9 1 10 1-11 1 6 1-5 1 7 1-8 1 12 1-12 1 8 1-6 1 6 1-10 1 12 1-11 1 9 1 1 1-10 1 10 1-8 1 8 1-7 1 5 1-4 1 7 1-10 1 7 1-9 1 11 1-7 1 7 1-10"/>
<path class="g" d="M61 93l1 10M63 95l1 0 1 10M66 95l1 5M70 94l1 8M74 96l1 8M82 93l1 8M84 93l1 8M92 94l1-4M95 95l1 8M97 94l1 10M101 94l1 7M103 93l1 12M107 95l1 6M111 92l1 9M116 94l1 8M118 95l1 5M120 96l1 7M126 95l1 7"/>
<path class="b" d="M65 105l1-10M75 104l1-12M98 104l1-11M104 105l1-12"/>
<path class="o" d="M68 91l1 11M72 91l1 10M76 92l1 11M80 91l1 8M86 93l1 10M88 92l1 10M90 93l1 9M93 90l1 12M99 93l1 6M105 93l1 8M114 92l1 10M122 93l1 7"/>
<path class="k" d="M78 91l1 11M109 91l1 12M124 91l1 11"/>
</g>
<g transform="matrix(4.1420 -1.0773 0 -6.3880 588.9 1188.3)"><path class="y" d="M61 97l1-11 1 8 1-9 1 9 1-10 1 11 1-9 1 8 1-10 1 12 1-9 1 6 1-6 1 10 1-10 1 6 1-7 1 1 1 10 1-10 1 6 1-8 1 11 1-12 1 12 1-12 1 10 1-10 1 11 1-9 1-3 1 14 1-11 1 8 1-11 1 13 1-10 1 10 1-11 1 9 1-7 1 0 1 11 1-13 1 9 1-8 1 9 1-8 1 8 1-8 1 7 1-9 1 9 1-9 1 8 1-5 1 8 1-13 1 13 1-10 1 11 1-12 1 0 1 9 1-9 1 8 1-9"/>
<path class="b" d="M61 97l1-11M71 96l1-9M75 97l1-10M80 97l1-10M84 96l1-12M86 96l1-12M93 97l1-11M97 96l1-10M99 96l1-11M104 98l1-13M118 96l1-13M120 96l1-10M122 97l1-12"/>
<path class="g" d="M62 86l1 8M64 85l1 9M72 87l1 6M74 87l1 10M76 87l1 6M79 87l1 10M81 87l1 6M83 85l1 11M94 86l1 8M98 86l1 10M100 85l1 9M102 87l1 0 1 11M105 85l1 9M109 87l1 8M111 87l1 7M115 85l1 8M117 88l1 8"/>
<path class="o" d="M66 84l1 11M68 86l1 8M78 86l1 1M85 84l1 12M89 84l1 11M91 86l1-3M96 83l1 13M107 86l1 9M113 85l1 9M119 83l1 13M121 86l1 11M123 85l1 0 1 9M126 85l1 8"/>
<path class="k" d="M70 84l1 12M87 84l1 10M92 83l1 14"/>
</g>
<g transform="matrix(4.1420 -1.0773 0 -6.3880 591.3 1189.4)"><path class="y" d="M61 84l1 9 1-8 1 12 1-10 1 5 1-7 1 11 1-9 1 10 1-11 1 11 1-12 1 12 1-11 1 9 1-12 1 10 1-6 1 7 1-9 1 11 1-11 1 11 1-13 1 12 1-8 1-2 1 8 1-9 1 10 1-10 1 10 1-8 1 11 1-9 1 8 1-11 1 10 1-9 1 11 1-12 1 12 1-11 1 5 1-3 1 8 1-11 1-1 1 12 1-11 1 10 1-11 1 8 1-8 1 13 1-11 1 10 1-9 1 9 1-12 1 13 1-13 1 13 1-4 1-8 1 9 1-11"/>
<path class="o" d="M61 84l1 9M67 85l1 11M71 86l1 11M73 85l1 12M75 86l1 9M81 85l1 11M83 85l1 11M88 85l1 8M92 84l1 10M94 86l1 11M98 85l1 10M100 86l1 11M102 85l1 12M104 86l1 5M109 84l1 12M113 84l1 8M115 84l1 13M121 84l1 13M123 84l1 13"/>
<path class="g" d="M63 85l1 12M65 87l1 5M69 87l1 10M79 87l1 7M87 87l1-2M96 88l1 8M106 88l1 8M108 85l1-1M111 85l1 10M117 86l1 10M119 87l1 9M126 85l1 9"/>
<path class="b" d="M64 97l1-10M68 96l1-9M70 97l1-11M72 97l1-12M74 97l1-11M82 96l1-11M84 96l1-13M95 97l1-9M97 96l1-11M101 97l1-12M103 97l1-11M107 96l1-11M110 96l1-11M116 97l1-11M118 96l1-9M120 96l1-12M122 97l1-13M124 97l1-4"/>
<path class="k" d="M77 83l1 10M85 83l1 12M90 84l1 10"/>
</g>
<g transform="matrix(4.1420 -1.0773 0 -6.3880 593.6 1190.4)"><path class="y" d="M61 94l1-8 1-3 1 12 1-8 1 5 1 0 1-4 1 7 1-7 1 7 1-8 1 11 1-10 1 7 1-9 1-1 1 8 1-10 1 14 1-13 1 8 1-6 1 8 1-9 1 9 1-8 1 9 1-8 1 9 1-11 1 10 1-9 1 9 1-10 1 10 1-12 1 11 1-9 1 8 1 3 1-10 1 1 1 7 1 2 1-11 1 12 1-9 1 5 1-7 1 10 1-10 1 12 1-15 1 10 1-9 1 3 1 7 1-9 1 8 1-7 1 9 1-8 1 9 1-11 1 9 1-9 1 12"/>
<path class="o" d="M62 86l1-3 1 12M76 86l1-1M79 83l1 14M91 85l1 10M95 85l1 10M97 83l1 11M99 85l1 8M102 86l1 1M106 85l1 12M112 86l1 12M116 84l1 3M119 85l1 8M121 86l1 9M125 85l1 9"/>
<path class="g" d="M65 87l1 5M68 88l1 7M70 88l1 7M72 87l1 11M74 88l1 7M77 85l1 8M81 84l1 8M83 86l1 8M85 85l1 9M87 86l1 9M89 87l1 9M93 86l1 9M103 87l1 7M108 88l1 5M110 86l1 10M117 87l1 7M123 87l1 9M127 85l1 12"/>
<path class="b" d="M73 98l1-10M80 97l1-13M90 96l1-11M101 96l1-10M105 96l1-11M107 97l1-9M111 96l1-10M113 98l1-15"/>
<path class="k" d="M114 83l1 10"/>
</g>
<g transform="matrix(4.1420 -1.0773 0 -6.3880 595.9 1191.5)"><path class="y" d="M61 86l1 8 1-7 1 5 1-5 1 8 1-11 1 11 1-8 1 6 1-8 1 9 1-7 1 7 1-10 1 11 1-12 1 10 1-7 1 2 1 5 1-9 1 12 1-8 1 7 1-9 1 9 1-13 1 14 1-11 1 10 1-10 1 12 1-9 1 8 1-11 1 10 1-12 1 11 1-8 1 9 1-10 1 9 1-12 1 10 1-6 1 10 1-10 1 7 1-7 1 7 1-1 1-5 1 7 1-10 1 10 1-10 1 11 1-10 1 10 1-10 1 10 1-11 1 9 1-8 1 10 1-8 1 8"/>
<path class="g" d="M61 86l1 8M63 87l1 5M65 87l1 8M69 87l1 6M71 85l1 9M73 87l1 7M79 86l1 2 1 5M84 88l1 7M86 86l1 9M92 85l1 12M94 88l1 8M106 86l1 10M108 86l1 7M113 87l1 7M127 87l1 8"/>
<path class="k" d="M67 84l1 11M82 84l1 12M123 84l1 9"/>
<path class="o" d="M75 84l1 11M77 83l1 10M88 82l1 14M90 85l1 10M96 85l1 10M98 83l1 11M100 86l1 9M102 85l1 9M104 82l1 10M110 86l1 7M115 84l1 10M117 84l1 11M119 85l1 10M121 85l1 10M125 85l1 10"/>
<path class="b" d="M83 96l1-8M89 96l1-11M93 97l1-9M95 96l1-11M107 96l1-10"/>
</g>
<g transform="matrix(4.1420 -1.0773 0 -6.3880 598.3 1192.6)"><path class="y" d="M61 87l1 10 1-10 1 5 1-4 1 9 1-10 1 7 1-10 1 12 1-3 1-11 1 12 1 1 1-11 1 9 1-6 1 6 1-7 1 10 1-12 1 9 1-6 1 9 1-13 1 11 1-6 1 6 1-10 1 10 1-8 1 9 1-10 1 1 1 8 1-10 1 13 1-13 1 2 1 9 1-8 1 7 1-8 1 10 1-12 1 12 1-9 1 8 1-9 1 11 1-13 1 11 1-9 1 8 1-6 1 7 1-13 1 15 1-13 1 12 1-9 1 5 1-5 1 4 1-7 1 10 1-9 1 8"/>
<path class="g" d="M61 87l1 10M63 87l1 5M65 88l1 9M67 87l1 7M77 87l1 6M81 84l1 9M83 87l1 9M87 88l1 6M93 85l1 1M99 86l1 9M101 87l1 7M103 86l1 10M107 87l1 8M113 86l1 8M115 88l1 7M119 84l1 12M121 87l1 5M123 87l1 4"/>
<path class="b" d="M62 97l1-10M66 97l1-10M70 96l1-3M80 96l1-12M84 96l1-13M97 97l1-13M104 96l1-12M106 96l1-9M110 97l1-13M118 97l1-13M120 96l1-9"/>
<path class="o" d="M69 84l1 12M72 82l1 12M75 84l1 9M79 86l1 10M85 83l1 11M89 84l1 10M91 86l1 9M94 86l1 8M96 84l1 13M98 84l1 2M105 84l1 12M109 86l1 11M111 84l1 11M125 84l1 10M127 85l1 8"/>
<path class="k" d="M117 82l1 15"/>
</g>
</g>
<path d="M861 492v13M823 383v8M882 496v18M844 550v17M644 450v9M922 531v7M897 363v14M1033 431v10M792 437v15M774 430v18M684 437v7M793 489v12M897 370v13M719 306v15M742 388v14M1050 444v19M908 478v12M489 303v6M795 454v17M675 342v15M801 321v8M578 353v15M958 424v11M503 321v7M848 399v6M846 452v12M774 376v13M806 496v7M694 428v7M696 315v18M621 308v10M897 503v16M764 274v14M764 459v19M545 360v17M828 414v11M844 357v10M909 374v12M814 352v19M658 341v16M840 495v7M771 436v16M860 406v17M542 327v10M814 430v9M687 298v9M676 408v11M498 336v8M710 359v11M735 451v20M784 422v18M734 411v9M789 310v11M881 394v13M788 375v11M913 544v12M848 360v20M782 487v10M867 436v18M509 340v15M785 309v10M709 230v12M847 488v16M1050 430v8M921 512v15M876 500v15M980 481v12M760 305v15M597 271v13M857 438v19M999 481v16M808 344v14M842 453v9M826 465v12M847 387v6M748 459v11M824 465v15M769 458v20M551 268v6" stroke="#fff" stroke-opacity="0.45" stroke-width="2.4" fill="none"/>
<path d="M1038 477v7M777 418v17M739 342v8M983 478v13M962 469v15M575 252v11M669 385v19M655 442v8M704 264v6M870 500v8M681 477v11M727 390v16M609 348v16M667 374v20M659 337v8M509 308v9M640 292v6M695 379v14M666 354v11M959 521v10M641 412v16M612 316v8M794 534v9M798 460v8M853 469v19M979 478v6M754 364v9M688 341v12M578 276v6M840 333v16M835 490v16M541 351v12M858 572v7M615 313v7M747 453v18M649 317v15M859 357v9M989 464v7M843 519v8M621 369v14M707 218v6M819 484v12M647 397v11M596 335v17M634 356v17M625 323v10M660 272v8M566 319v19M884 341v11M738 373v8M666 295v13M779 411v19M997 479v13M749 449v10M758 406v11M638 408v14M535 311v5M442 295v8M897 340v19M824 513v15M897 481v6M780 409v7M514 335v15M967 422v14" stroke="#fff" stroke-opacity="0.7" stroke-width="2.4" fill="none"/>
<path d="M722 393v18M678 291v10M840 487v15M749 371v13M530 334v12M728 417v16M949 469v18M706 263v12M538 274v15M847 380v9M585 363v7M619 289v13M728 382v14M644 424v12M773 361v10M550 320v20M1025 413v16M609 376v6M696 272v20M687 447v19M697 287v7M941 476v11M981 487v12M872 526v18M691 340v7M810 346v14M530 320v9" stroke="#fff" stroke-opacity="0.9" stroke-width="2.4" fill="none"/>
<g fill="none" stroke-width="3.3">
<path stroke="#f7dc2a" d="M412.9 328.8L412.9 329.2M415.8 307.8L414.9 344.2M417.7 326.5L417.6 330.4M419.9 332.8L421.5 266.6M422.8 311.4L422.1 338.7M438.6 339.8L438.5 343.4M562.5 397.3L561.8 426.4M565.4 371.7L564.0 432.7M661.0 426.6L661.2 418.8M672.2 449.6L671.5 482.5M723.9 462.7L722.9 503.2M749.5 477.5L748.6 518.8M751.7 484.6L751.1 510.0M814.8 515.4L815.5 483.1M835.8 527.0L834.4 582.3M838.1 528.3L836.9 580.1M849.7 535.0L848.9 571.9"/>
<path stroke="#febe3c" d="M423.3 388.8L424.3 344.5M435.0 394.6L436.4 333.1M444.3 401.5L445.3 359.1M495.8 418.0L498.5 306.6M544.7 448.6L547.4 336.8M568.3 451.0L570.4 361.8M584.5 462.4L586.5 378.2M605.7 467.9L608.0 367.8M607.8 477.5L610.3 372.6M612.6 473.6L613.6 433.9M617.2 480.5L617.8 454.6M631.4 480.0L633.4 396.1M657.0 496.8L657.9 456.9M699.1 512.0L700.9 438.2M720.0 527.6L720.7 498.1M731.7 530.8L732.0 518.1M815.8 573.7L815.7 574.1M829.8 577.7L831.5 508.5M832.2 576.8L832.0 588.1M839.2 580.6L841.1 502.1M843.8 584.6L845.3 522.0"/>
<path stroke="#e6bb2d" d="M424.5 438.7L426.8 339.0M429.6 421.5L432.7 292.3M462.4 434.1L465.9 285.8M464.2 457.1L466.6 355.6M466.5 458.2L468.6 372.2M483.2 453.9L484.9 381.2M485.7 446.1L487.4 376.3M499.2 473.4L501.2 390.0M501.6 474.5L503.8 381.6M504.4 454.8L506.1 385.5M506.5 465.8L509.6 336.0M510.9 478.8L512.9 396.8M516.1 458.9L519.3 323.4M520.3 483.1L522.3 396.9M522.9 470.7L526.3 327.9M524.9 485.3L527.2 390.1M527.3 486.4L529.2 403.8M546.0 495.0L548.2 399.1M555.5 489.9L558.5 364.9M571.8 500.6L573.7 419.5M574.0 508.0L577.8 350.1M576.5 500.7L579.4 378.4M588.3 502.9L591.5 367.4M590.4 515.6L593.3 390.2M592.7 516.7L594.4 445.0M597.4 518.8L600.9 371.4M600.2 498.0L601.0 464.0M602.1 517.1L605.5 377.1M618.8 511.4L621.6 394.7M620.7 529.7L624.0 393.6M623.1 530.7L624.7 460.9M625.4 531.8L628.8 391.1M634.8 534.0L637.9 402.6M637.4 525.6L640.4 397.1M639.5 534.0L641.4 455.2M641.8 539.4L643.9 449.8M644.1 540.5L647.2 410.1M651.2 539.2L653.9 427.2M676.9 550.1L678.6 478.7M681.5 557.8L683.4 478.0M683.8 558.5L686.9 428.1M700.3 562.3L702.0 489.8M705.4 547.4L707.7 449.6M707.5 555.4L710.1 446.2M714.2 573.0L715.7 509.8M728.2 578.8L729.9 507.6M732.9 581.6L736.1 445.9M742.7 568.1L745.1 465.3M768.0 593.7L770.8 478.1M770.3 598.9L773.1 481.6M772.6 600.0L774.0 540.2M796.0 610.8L797.3 553.5M798.5 605.3L801.2 492.1M803.0 614.1L804.4 553.5M807.7 616.3L809.0 559.6M810.2 609.0L812.8 498.7M817.0 620.6L819.5 516.1M822.0 609.5L824.7 497.0M824.2 615.2L825.0 580.8"/>
<path stroke="#f0ba36" d="M427.6 407.0L430.4 287.9M439.3 412.3L440.9 344.0M453.2 424.0L456.2 297.6M460.2 427.7L462.9 313.9M469.6 426.7L471.2 361.7M474.1 437.5L477.4 300.8M488.2 442.4L491.0 323.6M518.7 449.9L519.9 397.8M537.4 458.5L539.0 389.7M558.3 473.1L561.1 356.8M595.6 492.4L596.8 442.1M703.3 534.5L704.4 489.6M717.3 540.9L720.1 423.7M724.3 545.1L726.2 464.6M735.9 553.1L736.6 526.6M738.1 561.1L739.3 509.2M775.6 572.7L778.0 471.9M780.2 579.4L781.3 531.3M794.4 577.2L795.0 553.3M801.2 590.5L802.1 551.4"/>
<path stroke="#fec934" d="M433.2 369.9L433.8 342.6M447.2 375.4L449.0 300.8M482.2 395.6L483.8 326.3M498.5 403.5L498.9 386.6M510.3 406.9L511.2 368.9M615.5 452.5L616.8 395.1M655.2 470.0L656.4 422.0M662.2 476.0L662.2 473.0M666.9 474.5L666.7 483.3M673.9 477.8L675.3 419.8M692.5 493.0L694.1 426.4M694.9 490.2L696.1 441.0M755.6 518.9L756.6 476.9M760.3 520.1L759.7 548.8M788.4 530.3L788.2 539.5M790.8 530.9L791.8 487.8M793.1 532.9L793.9 499.0"/>
<path stroke="#f8ba3d" d="M441.7 411.1L444.8 279.5M472.1 423.0L474.4 325.5M479.0 429.4L482.1 300.4M530.5 450.8L533.3 333.2M532.9 449.7L535.1 355.5M542.1 458.7L543.0 421.3M549.2 459.0L550.2 418.1M579.5 476.2L580.5 433.8M582.0 468.1L584.5 363.5M586.5 478.1L589.0 373.7M628.8 489.3L631.0 396.1M633.2 500.6L634.1 463.5M675.4 517.4L676.5 467.4M687.0 524.2L687.8 492.3M689.3 525.5L690.1 493.5M696.3 530.2L698.5 436.3M712.7 535.2L713.3 512.2M761.8 558.2L762.3 538.3M764.2 556.3L766.2 470.3M778.2 562.8L778.3 560.5M783.0 560.6L783.1 556.2M820.3 582.7L822.2 501.3"/>
<path stroke="#fccf30" d="M449.9 363.8L450.1 353.3M452.1 367.9L452.2 365.0M477.9 377.7L479.2 323.4M566.7 418.2L566.4 429.1M681.2 472.0L682.5 415.7M807.3 533.5L807.7 515.9M828.3 544.1L829.4 496.8"/>
<path stroke="#fec338" d="M456.2 394.9L458.4 304.5M458.7 392.1L459.4 359.8M535.7 428.9L536.3 404.4M540.4 433.2L540.9 408.2M554.5 432.5L554.9 416.6M570.9 441.1L572.8 360.4M647.9 481.4L648.4 457.6M650.2 480.9L652.0 404.8M669.0 488.5L670.5 423.6M711.1 505.8L712.7 438.3M727.2 522.6L727.5 508.5M741.2 529.8L741.2 531.7M753.1 525.1L754.2 479.9M757.6 534.7L759.2 467.2M767.0 539.6L767.0 538.7M846.5 571.8L846.3 579.4"/>
<path stroke="#fad62d" d="M492.1 374.6L493.5 318.8M494.4 377.2L494.4 376.8M515.4 388.1L515.8 374.7M553.0 399.9L552.8 406.8M611.1 436.2L612.1 394.3M664.9 460.2L664.3 483.9M746.9 489.1L747.5 463.1M786.5 512.1L785.7 547.8M842.7 533.4L841.4 587.2"/>
<path stroke="#3fca8e" d="M408.7 505.5L413.0 326.8M431.9 525.9L435.0 392.6M436.8 517.5L439.3 410.4M438.6 538.3L441.7 409.2M464.4 548.9L466.6 456.3M503.6 590.0L506.6 463.9M577.1 577.4L579.5 474.2M585.6 615.6L588.3 501.0M588.1 609.5L590.4 513.7M592.8 610.4L595.7 490.5M650.8 657.2L655.3 468.0M754.3 675.0L757.7 532.8M761.4 674.1L764.2 554.3M765.5 698.9L768.1 591.8M819.2 726.5L822.0 607.6M837.7 744.1L842.7 531.4"/>
<path stroke="#31c69f" d="M409.5 573.4L415.8 305.9M444.8 577.0L449.9 361.9M451.9 577.1L456.3 393.0M461.0 590.8L464.2 455.2M487.0 592.7L492.2 372.6M499.1 580.8L501.6 472.5M514.8 616.0L518.7 447.9M561.7 628.4L566.7 416.3M566.6 620.7L570.9 439.2M577.9 643.6L582.1 466.2M629.2 668.9L633.3 498.6M636.7 654.2L639.6 532.0M671.7 670.2L675.4 515.5M678.3 693.5L681.5 555.9M692.5 690.2L696.4 528.2M701.6 704.9L705.4 545.5M762.8 713.8L767.0 537.6M767.7 707.5L770.3 597.0M781.4 728.9L786.6 510.2M786.1 729.4L790.8 529.0M804.5 747.7L807.7 614.3M813.6 762.7L817.1 618.7M821.0 750.0L824.3 613.2M840.2 738.7L843.9 582.7"/>
<path stroke="#2cc4a7" d="M412.4 549.4L417.7 324.6M421.4 566.1L424.5 436.8M423.9 563.7L427.6 405.1M425.5 594.0L429.7 419.5M433.2 570.6L438.7 337.9M465.5 600.5L469.7 424.8M474.8 608.0L479.1 427.5M521.5 630.0L525.0 483.3M537.8 640.1L542.2 456.7M573.3 638.4L576.6 498.8M594.0 660.1L597.4 516.9M596.2 668.5L600.3 496.1M631.6 669.6L634.9 532.1M634.1 665.4L637.4 523.7M659.7 679.2L665.0 458.2M715.8 705.9L720.0 525.7M722.4 724.1L727.3 520.7M743.8 718.7L749.6 475.5M750.5 735.5L755.7 517.0M757.5 737.1L761.8 556.2M793.0 734.4L796.0 608.9M795.3 736.8L798.5 603.4M800.1 734.3L803.0 612.2M802.2 747.4L807.3 531.6M823.3 754.4L828.3 542.1M828.0 754.2L832.3 574.9M844.2 767.1L849.8 533.1"/>
<path stroke="#37c897" d="M414.5 560.0L419.9 330.9M428.7 560.2L433.2 368.0M440.2 571.4L444.3 399.6M454.3 577.2L458.7 390.2M510.5 594.9L515.5 386.2M569.1 616.1L571.9 498.7M571.0 636.3L574.1 506.1M583.3 615.3L586.6 476.2M590.0 630.2L592.7 514.7M648.4 659.5L651.3 537.3M652.9 667.7L657.0 494.8M779.1 726.7L783.0 558.7M788.5 726.4L793.1 530.9M798.1 722.3L801.2 588.6M826.1 733.7L829.9 575.8"/>
<path stroke="#01b8ca" d="M415.7 607.7L422.8 309.4M417.7 622.5L423.3 386.8M469.2 642.9L474.2 435.5M471.7 638.5L477.9 375.7M602.3 710.1L607.8 475.6M660.7 735.9L667.0 472.6M679.7 734.7L683.9 556.6M681.6 750.0L687.1 522.3M696.0 742.6L700.3 560.4M770.7 779.4L775.7 570.8M772.7 793.3L778.3 560.9"/>
<path stroke="#24c1ae" d="M441.9 600.8L447.3 373.5M456.2 594.9L460.2 425.8M458.2 609.9L462.4 432.1M483.8 625.8L488.2 440.5M489.0 606.9L494.5 375.3M495.6 628.3L499.3 471.4M504.8 635.4L510.3 404.9M507.6 620.5L511.0 476.9M533.5 624.0L537.4 456.6M540.3 633.0L544.8 446.6M563.6 648.6L568.3 449.1M580.2 643.4L584.6 460.5M613.0 657.6L617.2 478.6M614.6 688.0L618.9 509.5M645.4 686.1L650.3 478.9M654.2 710.8L661.0 424.7M675.7 702.7L681.2 470.1M685.3 695.4L689.4 523.6M698.7 726.5L703.3 532.6M725.0 714.4L728.3 576.9M748.4 724.4L753.2 523.2M755.1 740.8L760.4 518.2M775.9 758.7L780.2 577.5M829.7 782.8L835.8 525.1M832.4 768.6L838.1 526.4M841.7 776.4L846.6 569.8"/>
<path stroke="#0bbdbd" d="M446.1 620.9L452.2 366.0M467.0 637.1L472.1 421.1M480.9 650.7L485.8 444.2M511.6 650.6L516.2 456.9M546.8 660.8L553.0 397.9M548.9 671.3L554.6 430.5M600.3 694.4L605.7 466.0M605.2 686.6L611.2 434.3M623.6 706.9L628.8 487.4M656.1 733.2L662.2 474.1M667.7 740.0L674.0 475.8M686.7 735.2L692.5 491.0M693.7 739.3L699.2 510.1M703.5 725.8L707.6 553.5M705.5 741.4L711.1 503.8M710.5 728.4L714.2 571.0M728.5 765.7L732.9 579.7M736.1 745.1L741.3 527.9M740.7 749.9L746.9 487.1M834.2 789.9L839.3 578.6"/>
<path stroke="#08b5d0" d="M448.0 642.7L453.2 422.1M525.0 682.7L530.5 448.8M543.8 687.5L549.2 457.1M606.8 718.6L612.7 471.6M616.3 716.5L620.8 527.7M730.6 777.7L736.0 551.2"/>
<path stroke="#19bfb6" d="M476.6 632.5L482.2 393.6M491.2 614.7L495.9 416.1M493.1 634.6L498.6 401.5M500.3 628.7L504.5 452.8M516.7 634.7L520.3 481.2M518.6 651.9L523.0 468.7M523.4 650.6L527.3 484.4M528.3 643.8L532.9 447.7M530.3 658.3L535.8 427.0M535.5 638.2L540.4 431.3M553.8 662.1L558.3 471.2M556.1 666.2L562.5 395.3M619.5 682.5L623.1 528.8M621.5 695.9L625.5 529.9M626.3 692.9L631.4 478.0M638.2 687.6L641.8 537.5M673.6 692.2L677.0 548.2M689.6 715.0L694.9 488.3M717.5 731.1L723.9 460.8M720.1 721.1L724.4 543.2M738.3 751.7L742.7 566.2M745.6 743.8L751.8 482.7M769.0 752.3L772.7 598.1M782.9 765.7L788.5 528.4M806.7 754.7L810.2 607.0M808.3 787.5L814.8 513.5M811.3 762.7L815.8 571.8M815.4 786.3L820.3 580.7"/>
<path stroke="#02bac3" d="M478.6 648.2L483.2 452.0M541.2 695.3L546.0 493.1M550.8 687.8L555.6 488.0M558.0 684.8L565.5 369.8M597.7 702.9L602.2 515.2M609.8 693.2L615.5 450.5M639.9 715.5L644.1 538.6M642.5 707.3L647.9 479.5M663.1 736.6L669.0 486.6M665.9 715.5L672.3 447.7M707.5 755.8L712.8 533.2M712.3 753.8L717.4 538.9M725.9 778.4L731.8 528.9M733.6 752.7L738.1 559.1M789.4 789.9L794.5 575.3"/>
<path stroke="#4531da" d="M399.4 896.9L408.8 503.6M401.7 902.1L409.5 571.5M404.2 893.9L412.4 547.5M427.7 901.3L436.8 515.6M434.4 916.0L441.9 598.9M441.6 912.6L448.0 640.8M448.7 909.7L456.2 593.0M450.7 924.7L458.3 607.9M453.3 914.1L461.1 588.9M464.9 924.3L471.7 636.6M469.4 932.4L476.6 630.6M481.4 924.3L489.0 605.0M485.7 942.5L493.1 632.6M488.4 931.7L495.6 626.4M511.7 942.9L518.7 649.9M513.9 951.9L521.6 628.0M532.8 949.0L540.4 631.0M549.1 960.0L556.1 664.3M551.2 973.0L558.0 682.9M565.5 964.3L573.3 636.5M572.6 966.6L580.3 641.4M574.8 973.5L583.3 613.3M584.0 984.7L592.9 608.4M595.6 989.8L602.3 708.2M614.4 997.2L621.6 693.9M619.2 994.5L626.4 691.0M623.8 997.3L631.6 667.6M628.6 995.2L636.7 652.3M647.1 1009.2L654.3 708.9M656.5 1012.9L663.1 734.7M686.7 1033.5L693.8 737.4M689.3 1026.7L696.0 740.6M691.7 1024.0L698.8 724.6M693.9 1032.0L701.7 702.9M696.3 1027.1L703.5 723.9M700.8 1038.4L707.5 753.9M717.3 1037.7L725.1 712.4M724.3 1044.4L730.6 775.8M736.0 1046.4L743.9 716.7M745.2 1059.9L754.3 673.1M747.6 1058.5L755.1 738.9M766.3 1065.9L772.8 791.3M768.8 1061.0L776.0 756.7M789.8 1070.4L798.1 720.3M796.9 1070.2L804.6 745.8M831.8 1090.7L840.2 736.8"/>
<path stroke="#4835df" d="M406.6 894.6L414.6 558.1M423.0 898.2L431.9 523.9M429.7 914.9L438.7 536.4M432.1 912.5L440.3 569.5M439.3 908.4L446.2 618.9M444.0 911.3L451.9 575.1M460.3 918.6L467.1 635.1M471.7 934.9L478.6 646.3M478.8 938.2L487.0 590.8M490.5 940.1L499.1 578.9M499.9 942.6L507.6 618.6M502.1 948.0L510.6 592.9M509.4 939.2L516.7 632.8M518.5 953.6L525.0 680.7M525.5 958.6L533.5 622.1M544.2 969.0L550.9 685.9M562.8 978.2L571.0 634.4M567.8 968.5L577.1 575.5M586.4 980.0L594.1 658.2M590.9 989.2L597.8 701.0M616.9 988.5L623.7 705.0M626.1 998.3L634.1 663.4M630.6 1008.2L638.3 685.7M633.2 1000.7L640.0 713.6M649.6 1007.4L656.1 731.3M652.0 1004.2L659.8 677.3M665.9 1016.6L673.6 690.2M675.2 1020.5L681.7 748.1M684.7 1021.3L692.6 688.2M710.3 1036.7L717.6 729.2M721.7 1052.0L728.6 763.7M731.3 1046.2L738.3 749.8M733.7 1045.9L740.8 748.0M763.8 1070.2L770.8 777.4M771.1 1060.8L779.1 724.8M775.5 1076.8L782.9 763.8M785.1 1067.6L793.1 732.5M791.9 1080.1L800.2 732.3M806.2 1075.7L813.7 760.8M810.7 1086.8L819.3 724.6M817.5 1095.7L826.2 731.8"/>
<path stroke="#4632dc" d="M408.7 904.2L415.8 605.8M420.5 905.3L428.7 558.3M425.1 910.4L433.2 568.7M436.7 916.9L444.9 575.1M458.0 918.2L465.6 598.5M462.6 920.9L469.3 641.0M476.5 935.6L483.9 623.8M495.2 943.7L503.6 588.1M497.8 933.0L504.9 633.5M504.7 940.1L511.6 648.6M516.3 949.5L523.4 648.7M528.0 955.1L535.5 636.3M534.9 963.3L541.3 693.4M537.3 958.6L543.8 685.5M541.8 968.0L548.9 669.4M546.6 965.8L553.9 660.2M553.5 971.9L561.7 626.5M558.5 963.6L566.7 618.8M560.8 965.9L569.1 614.2M570.1 972.1L577.9 641.7M581.5 986.6L590.1 628.3M588.9 975.5L596.2 666.6M598.1 985.4L605.2 684.7M605.0 992.2L613.0 655.7M607.3 996.1L614.7 686.1M609.9 986.0L616.3 714.6M621.4 1001.4L629.3 666.9M635.4 1008.0L642.6 705.4M637.8 1003.2L645.4 684.1M640.2 1003.2L648.4 657.6M644.8 1009.5L652.9 665.7M658.7 1019.7L666.0 713.5M670.3 1028.2L678.3 691.6M672.8 1023.7L679.7 732.7M677.6 1018.9L685.4 693.5M680.0 1020.0L686.8 733.3M698.4 1039.5L705.5 739.4M703.1 1041.0L710.6 726.5M705.4 1041.6L712.3 751.8M708.0 1035.0L715.8 704.0M712.5 1040.5L720.2 719.1M714.8 1046.3L722.5 722.2M719.7 1039.2L725.9 776.5M726.7 1039.4L733.6 750.8M728.8 1052.1L736.1 743.1M738.2 1055.1L745.6 741.8M757.1 1055.5L765.6 696.9M773.1 1075.0L781.4 727.0M777.8 1077.1L786.1 727.4M782.6 1073.7L789.4 787.9M787.4 1073.5L795.4 734.9M801.2 1085.7L808.4 785.6M803.9 1074.0L811.3 760.7M808.4 1082.5L815.5 784.4M813.2 1079.6L821.1 748.1M819.9 1094.4L828.1 752.2M822.5 1086.9L829.7 780.9M824.6 1095.7L832.4 766.7M827.1 1090.3L834.3 788.0M836.2 1104.4L844.3 765.1"/>
<path stroke="#4630d8" d="M411.0 906.4L417.8 620.6M413.5 901.6L421.5 564.2M415.7 906.1L423.9 561.8M418.0 908.3L425.6 592.1M446.0 924.0L454.3 575.3M455.6 916.9L464.4 546.9M467.3 922.7L474.8 606.0M474.1 933.6L480.9 648.8M483.4 939.8L491.2 612.8M493.1 933.0L500.3 626.8M506.8 950.8L514.8 614.1M520.8 956.7L528.3 641.9M523.4 950.2L530.3 656.4M530.4 951.3L537.8 638.2M539.5 967.1L546.8 658.9M556.2 959.6L563.6 646.6M577.0 978.7L585.7 613.7M579.4 976.4L588.2 607.6M593.6 977.3L600.3 692.5M600.6 981.7L606.8 716.7M602.9 984.6L609.8 691.3M612.3 985.9L619.5 680.6M642.4 1009.2L650.8 655.2M654.2 1012.6L660.8 733.9M661.3 1011.2L667.8 738.1M663.4 1023.2L671.8 668.2M668.0 1025.4L675.7 700.8M682.3 1019.7L689.6 713.0M740.7 1047.2L748.4 722.5M743.0 1051.8L750.5 733.6M750.1 1049.8L757.6 735.2M752.3 1058.8L761.5 672.1M754.8 1050.6L762.9 711.8M759.3 1059.3L767.7 705.5M761.5 1067.6L769.0 750.4M780.5 1063.2L788.6 724.5M794.3 1078.7L802.2 745.5M799.0 1082.4L806.8 752.7M815.5 1083.0L823.3 752.5M829.6 1087.0L837.7 742.2M834.2 1092.2L841.7 774.5"/>
<path stroke="#4021b0" d="M398.7 928.5L399.5 895.0M401.0 929.5L401.7 900.1M403.3 930.6L404.3 891.9M405.7 931.7L406.6 892.7M408.0 932.8L408.7 902.2M410.4 933.9L411.1 904.4M412.7 934.9L413.5 899.7M415.0 936.0L415.8 904.1M417.4 937.1L418.1 906.4M419.7 938.2L420.5 903.4M422.0 939.3L423.1 896.3M424.4 940.4L425.1 908.5M426.7 941.4L427.7 899.3M429.0 942.5L429.7 913.0M431.4 943.6L432.2 910.6M433.7 944.7L434.4 914.0M436.1 945.8L436.8 915.0M438.4 946.9L439.4 906.5M440.7 947.9L441.6 910.6M443.1 949.0L444.0 909.4M445.4 950.1L446.1 922.1M447.7 951.2L448.8 907.8M450.1 952.3L450.8 922.8M452.4 953.3L453.4 912.2M454.7 954.4L455.7 914.9M457.1 955.5L458.0 916.3M459.4 956.6L460.4 916.7M461.8 957.7L462.7 918.9M464.1 958.8L465.0 922.4M466.4 959.8L467.4 920.7M468.8 960.9L469.5 930.5M471.1 962.0L471.8 933.0M473.4 963.1L474.2 931.6M475.8 964.2L476.5 933.7M478.1 965.3L478.8 936.3M480.5 966.3L481.5 922.4M482.8 967.4L483.5 937.9M485.1 968.5L485.8 940.6M487.5 969.6L488.4 929.7M489.8 970.7L490.6 938.1M492.1 971.8L493.1 931.0M494.5 972.8L495.2 941.7M496.8 973.9L497.8 931.1M499.1 975.0L500.0 940.7M501.5 976.1L502.2 946.1M503.8 977.2L504.7 938.2M506.2 978.2L506.8 948.9M508.5 979.3L509.5 937.2M510.8 980.4L511.8 941.0M513.2 981.5L513.9 949.9M515.5 982.6L516.3 947.6M517.8 983.7L518.6 951.7M520.2 984.7L520.9 954.8M522.5 985.8L523.4 948.3M524.8 986.9L525.6 956.7M527.2 988.0L528.0 953.2M529.5 989.1L530.5 949.3M531.9 990.2L532.9 947.1M534.2 991.2L534.9 961.4M536.5 992.3L537.4 956.7M538.9 993.4L539.5 965.1M541.2 994.5L541.9 966.1M543.5 995.6L544.2 967.1M545.9 996.6L546.7 963.9M548.2 997.7L549.2 958.0M550.5 998.8L551.2 971.0M552.9 999.9L553.6 969.9M555.2 1001.0L556.2 957.7M557.6 1002.1L558.5 961.6M559.9 1003.1L560.8 964.0M562.2 1004.2L562.9 976.3M564.6 1005.3L565.6 962.4M566.9 1006.4L567.8 966.6M569.2 1007.5L570.1 970.2M571.6 1008.6L572.6 964.7M573.9 1009.6L574.8 971.5M576.2 1010.7L577.1 976.8M578.6 1011.8L579.5 974.5M580.9 1012.9L581.6 984.7M583.3 1014.0L584.0 982.7M585.6 1015.1L586.5 978.0M587.9 1016.1L588.9 973.6M590.3 1017.2L591.0 987.2M592.6 1018.3L593.6 975.4M594.9 1019.4L595.7 987.9M597.3 1020.5L598.2 983.5M599.6 1021.5L600.6 979.8M601.9 1022.6L602.9 982.7M604.3 1023.7L605.1 990.3M606.6 1024.8L607.3 994.2M609.0 1025.9L610.0 984.0M611.3 1027.0L612.3 984.0M613.6 1028.0L614.4 995.3M616.0 1029.1L617.0 986.6M618.3 1030.2L619.2 992.5M620.6 1031.3L621.4 999.4M623.0 1032.4L623.9 995.4M625.3 1033.5L626.2 996.3M627.7 1034.5L628.6 993.3M630.0 1035.6L630.7 1006.3M632.3 1036.7L633.2 998.8M634.7 1037.8L635.4 1006.0M637.0 1038.9L637.9 1001.2M639.3 1039.9L640.3 1001.2M641.7 1041.0L642.5 1007.3M644.0 1042.1L644.8 1007.5M646.3 1043.2L647.2 1007.3M648.7 1044.3L649.6 1005.5M651.0 1045.4L652.0 1002.3M653.4 1046.4L654.2 1010.7M655.7 1047.5L656.6 1011.0M658.0 1048.6L658.8 1017.8M660.4 1049.7L661.3 1009.3M662.7 1050.8L663.4 1021.3M665.0 1051.9L665.9 1014.7M667.4 1052.9L668.1 1023.4M669.7 1054.0L670.4 1026.3M672.0 1055.1L672.8 1021.8M674.4 1056.2L675.3 1018.5M676.7 1057.3L677.7 1017.0M679.1 1058.4L680.0 1018.1M681.4 1059.4L682.4 1017.7M683.7 1060.5L684.7 1019.4M686.1 1061.6L686.8 1031.6M688.4 1062.7L689.3 1024.8M690.7 1063.8L691.7 1022.1M693.1 1064.8L693.9 1030.0M695.4 1065.9L696.4 1025.2M697.7 1067.0L698.4 1037.5M700.1 1068.1L700.8 1036.5M702.4 1069.2L703.1 1039.0M704.8 1070.3L705.5 1039.7M707.1 1071.3L708.0 1033.1M709.4 1072.4L710.3 1034.8M711.8 1073.5L712.6 1038.6M714.1 1074.6L714.8 1044.3M716.4 1075.7L717.4 1035.7M718.8 1076.8L719.7 1037.2M721.1 1077.8L721.8 1050.1M723.4 1078.9L724.3 1042.5M725.8 1080.0L726.8 1037.4M728.1 1081.1L728.9 1050.1M730.5 1082.2L731.4 1044.3M732.8 1083.2L733.7 1044.0M735.1 1084.3L736.1 1044.5M737.5 1085.4L738.2 1053.2M739.8 1086.5L740.8 1045.3M742.1 1087.6L743.0 1049.9M744.5 1088.7L745.2 1058.0M746.8 1089.7L747.6 1056.6M749.1 1090.8L750.2 1047.9M751.5 1091.9L752.3 1056.9M753.8 1093.0L754.9 1048.7M756.2 1094.1L757.1 1053.6M758.5 1095.2L759.4 1057.3M760.8 1096.2L761.6 1065.7M763.2 1097.3L763.9 1068.3M765.5 1098.4L766.3 1064.0M767.8 1099.5L768.8 1059.0M770.2 1100.6L771.2 1058.9M772.5 1101.7L773.2 1073.0M774.8 1102.7L775.5 1074.9M777.2 1103.8L777.9 1075.1M779.5 1104.9L780.6 1061.3M781.9 1106.0L782.7 1071.8M784.2 1107.1L785.2 1065.6M786.5 1108.1L787.4 1071.6M788.9 1109.2L789.8 1068.4M791.2 1110.3L792.0 1078.1M793.5 1111.4L794.4 1076.7M795.9 1112.5L796.9 1068.3M798.2 1113.6L799.0 1080.4M800.6 1114.6L801.3 1083.8M802.9 1115.7L803.9 1072.1M805.2 1116.8L806.2 1073.7M807.6 1117.9L808.4 1080.6M809.9 1119.0L810.7 1084.9M812.2 1120.1L813.2 1077.6M814.6 1121.1L815.5 1081.1M816.9 1122.2L817.6 1093.8M819.2 1123.3L820.0 1092.5M821.6 1124.4L822.5 1084.9M823.9 1125.5L824.7 1093.7M826.3 1126.5L827.2 1088.4M828.6 1127.6L829.6 1085.0M830.9 1128.7L831.9 1088.7M833.3 1129.8L834.2 1090.3M835.6 1130.9L836.3 1102.4"/>
</g>
<path d="M834 884v11M422 753v11M758 965v15M640 657v27M662 968v30M777 652v23M749 627v31M668 827v14M760 975v19M535 769v13M529 883v34M780 930v12M792 919v14M564 724v18M692 778v19M820 905v14M490 653v19" stroke="#fff" stroke-opacity="0.12" stroke-width="2.2" fill="none"/>
<path d="M744 794v20M544 656v12M429 631v28M693 616v22M624 637v10M738 726v13M691 744v33M734 803v28M804 707v30M659 963v31M418 739v23M460 448v21M523 599v16M809 1004v20M417 607v22" stroke="#fff" stroke-opacity="0.24" stroke-width="2.2" fill="none"/>
<polygon points="165.5,989.1 602.4,1191.5 836.0,1130.8 399.1,928.3" fill="#4021b0" stroke="#4021b0" stroke-width="2.5" stroke-linejoin="round"/>
<path d="M193.2 983.8h2.4v2.4h-2.4zM211.2 978.2h2.4v2.4h-2.4zM245.5 968.5h2.4v2.4h-2.4zM256.5 966.5h2.4v2.4h-2.4zM271.4 962.6h2.4v2.4h-2.4zM276.3 961.3h2.4v2.4h-2.4zM291.7 958.2h2.4v2.4h-2.4zM346.6 943.9h2.4v2.4h-2.4zM189.2 990.6h2.4v2.4h-2.4zM198.7 988.1h2.4v2.4h-2.4zM203.8 986.8h2.4v2.4h-2.4zM207.9 984.8h2.4v2.4h-2.4zM219.0 982.8h2.4v2.4h-2.4zM223.1 980.9h2.4v2.4h-2.4zM227.0 979.9h2.4v2.4h-2.4zM232.6 978.4h2.4v2.4h-2.4zM239.2 977.5h2.4v2.4h-2.4zM257.0 972.1h2.4v2.4h-2.4zM263.7 971.2h2.4v2.4h-2.4zM267.7 969.3h2.4v2.4h-2.4zM273.0 968.7h2.4v2.4h-2.4zM283.6 966.0h2.4v2.4h-2.4zM286.7 964.3h2.4v2.4h-2.4zM298.3 962.2h2.4v2.4h-2.4zM307.8 959.7h2.4v2.4h-2.4zM315.0 958.7h2.4v2.4h-2.4zM318.9 957.7h2.4v2.4h-2.4zM333.5 953.0h2.4v2.4h-2.4zM341.4 950.1h2.4v2.4h-2.4zM348.0 949.3h2.4v2.4h-2.4zM361.2 945.0h2.4v2.4h-2.4zM367.7 944.1h2.4v2.4h-2.4zM371.7 942.2h2.4v2.4h-2.4zM389.5 939.3h2.4v2.4h-2.4zM193.6 996.8h2.4v2.4h-2.4zM198.4 995.6h2.4v2.4h-2.4zM201.8 993.9h2.4v2.4h-2.4zM210.7 990.7h2.4v2.4h-2.4zM239.8 983.1h2.4v2.4h-2.4zM246.6 982.2h2.4v2.4h-2.4zM256.1 979.7h2.4v2.4h-2.4zM267.6 977.6h2.4v2.4h-2.4zM281.6 973.1h2.4v2.4h-2.4zM286.5 971.8h2.4v2.4h-2.4zM296.0 969.4h2.4v2.4h-2.4zM306.7 966.6h2.4v2.4h-2.4zM311.1 965.4h2.4v2.4h-2.4zM316.9 964.8h2.4v2.4h-2.4zM320.9 962.9h2.4v2.4h-2.4zM336.9 959.6h2.4v2.4h-2.4zM371.0 949.9h2.4v2.4h-2.4zM255.5 985.6h2.4v2.4h-2.4zM262.1 985.6h2.4v2.4h-2.4zM275.8 981.2h2.4v2.4h-2.4zM296.4 975.9h2.4v2.4h-2.4zM304.8 972.8h2.4v2.4h-2.4zM320.5 969.6h2.4v2.4h-2.4zM330.5 967.0h2.4v2.4h-2.4zM336.2 965.5h2.4v2.4h-2.4zM361.2 959.0h2.4v2.4h-2.4zM395.3 950.1h2.4v2.4h-2.4zM406.6 948.0h2.4v2.4h-2.4zM224.6 1000.3h2.4v2.4h-2.4zM241.3 996.8h2.4v2.4h-2.4zM246.8 996.2h2.4v2.4h-2.4zM289.5 983.4h2.4v2.4h-2.4zM324.1 974.4h2.4v2.4h-2.4zM345.7 969.6h2.4v2.4h-2.4zM350.3 968.4h2.4v2.4h-2.4zM374.8 962.0h2.4v2.4h-2.4zM384.6 959.5h2.4v2.4h-2.4zM224.0 1007.9h2.4v2.4h-2.4zM229.7 1006.4h2.4v2.4h-2.4zM236.1 1005.6h2.4v2.4h-2.4zM239.8 1003.8h2.4v2.4h-2.4zM244.6 1002.5h2.4v2.4h-2.4zM248.9 1001.4h2.4v2.4h-2.4zM272.5 994.4h2.4v2.4h-2.4zM299.3 988.3h2.4v2.4h-2.4zM308.7 985.8h2.4v2.4h-2.4zM317.9 982.6h2.4v2.4h-2.4zM339.4 977.9h2.4v2.4h-2.4zM344.3 977.4h2.4v2.4h-2.4zM348.2 974.7h2.4v2.4h-2.4zM358.5 972.9h2.4v2.4h-2.4zM364.1 971.4h2.4v2.4h-2.4zM367.5 969.7h2.4v2.4h-2.4zM373.4 969.0h2.4v2.4h-2.4zM383.4 966.4h2.4v2.4h-2.4zM413.8 958.5h2.4v2.4h-2.4zM231.1 1012.6h2.4v2.4h-2.4zM236.9 1011.1h2.4v2.4h-2.4zM246.8 1008.5h2.4v2.4h-2.4zM253.1 1007.7h2.4v2.4h-2.4zM263.2 1005.1h2.4v2.4h-2.4zM267.3 1004.0h2.4v2.4h-2.4zM281.6 999.5h2.4v2.4h-2.4zM286.6 998.2h2.4v2.4h-2.4zM291.3 997.0h2.4v2.4h-2.4zM295.7 995.0h2.4v2.4h-2.4zM302.7 994.8h2.4v2.4h-2.4zM307.6 993.6h2.4v2.4h-2.4zM316.9 991.1h2.4v2.4h-2.4zM325.8 988.0h2.4v2.4h-2.4zM329.4 986.2h2.4v2.4h-2.4zM334.4 984.9h2.4v2.4h-2.4zM341.5 983.9h2.4v2.4h-2.4zM345.7 982.8h2.4v2.4h-2.4zM355.6 980.2h2.4v2.4h-2.4zM366.3 977.4h2.4v2.4h-2.4zM375.6 975.0h2.4v2.4h-2.4zM385.6 972.4h2.4v2.4h-2.4zM389.4 970.6h2.4v2.4h-2.4zM404.0 966.8h2.4v2.4h-2.4zM409.2 965.4h2.4v2.4h-2.4zM424.5 961.5h2.4v2.4h-2.4zM238.8 1017.2h2.4v2.4h-2.4zM248.4 1014.7h2.4v2.4h-2.4zM253.3 1013.4h2.4v2.4h-2.4zM278.0 1007.0h2.4v2.4h-2.4zM293.5 1003.0h2.4v2.4h-2.4zM313.3 997.8h2.4v2.4h-2.4zM322.4 994.6h2.4v2.4h-2.4zM334.4 993.2h2.4v2.4h-2.4zM343.3 990.0h2.4v2.4h-2.4zM348.0 988.8h2.4v2.4h-2.4zM356.9 985.6h2.4v2.4h-2.4zM364.6 985.3h2.4v2.4h-2.4zM368.0 983.6h2.4v2.4h-2.4zM378.3 981.8h2.4v2.4h-2.4zM398.6 976.5h2.4v2.4h-2.4zM402.4 974.6h2.4v2.4h-2.4zM407.0 973.5h2.4v2.4h-2.4zM412.6 972.0h2.4v2.4h-2.4zM416.8 970.0h2.4v2.4h-2.4zM421.0 969.0h2.4v2.4h-2.4zM428.7 968.7h2.4v2.4h-2.4zM375.9 989.0h2.4v2.4h-2.4zM420.1 976.6h2.4v2.4h-2.4zM449.8 968.9h2.4v2.4h-2.4zM455.5 968.3h2.4v2.4h-2.4zM258.4 1025.3h2.4v2.4h-2.4zM273.3 1021.4h2.4v2.4h-2.4zM307.9 1012.4h2.4v2.4h-2.4zM338.4 1005.3h2.4v2.4h-2.4zM386.0 991.3h2.4v2.4h-2.4zM270.9 1029.5h2.4v2.4h-2.4zM273.9 1027.9h2.4v2.4h-2.4zM283.9 1025.3h2.4v2.4h-2.4zM294.5 1022.5h2.4v2.4h-2.4zM309.1 1018.7h2.4v2.4h-2.4zM313.9 1017.4h2.4v2.4h-2.4zM319.5 1016.0h2.4v2.4h-2.4zM324.7 1015.5h2.4v2.4h-2.4zM329.8 1014.1h2.4v2.4h-2.4zM334.0 1012.2h2.4v2.4h-2.4zM344.3 1009.5h2.4v2.4h-2.4zM347.9 1007.8h2.4v2.4h-2.4zM363.4 1004.6h2.4v2.4h-2.4zM372.6 1001.3h2.4v2.4h-2.4zM379.1 1000.5h2.4v2.4h-2.4zM393.4 996.8h2.4v2.4h-2.4zM403.1 994.2h2.4v2.4h-2.4zM407.2 992.3h2.4v2.4h-2.4zM418.7 990.2h2.4v2.4h-2.4zM424.1 988.8h2.4v2.4h-2.4zM429.9 988.1h2.4v2.4h-2.4zM435.2 986.7h2.4v2.4h-2.4zM453.0 981.3h2.4v2.4h-2.4zM456.7 979.4h2.4v2.4h-2.4zM471.5 975.6h2.4v2.4h-2.4zM273.3 1034.6h2.4v2.4h-2.4zM283.5 1031.9h2.4v2.4h-2.4zM291.6 1029.0h2.4v2.4h-2.4zM299.6 1028.6h2.4v2.4h-2.4zM308.4 1025.5h2.4v2.4h-2.4zM317.2 1022.3h2.4v2.4h-2.4zM328.8 1021.0h2.4v2.4h-2.4zM333.6 1018.9h2.4v2.4h-2.4zM338.6 1017.6h2.4v2.4h-2.4zM358.0 1012.6h2.4v2.4h-2.4zM389.1 1005.3h2.4v2.4h-2.4zM406.4 999.1h2.4v2.4h-2.4zM411.8 997.7h2.4v2.4h-2.4zM422.8 995.7h2.4v2.4h-2.4zM427.1 994.6h2.4v2.4h-2.4zM431.9 992.5h2.4v2.4h-2.4zM437.4 991.9h2.4v2.4h-2.4zM442.0 990.7h2.4v2.4h-2.4zM452.7 987.9h2.4v2.4h-2.4zM462.0 985.5h2.4v2.4h-2.4zM471.1 982.3h2.4v2.4h-2.4zM295.9 1034.5h2.4v2.4h-2.4zM331.7 1026.0h2.4v2.4h-2.4zM376.7 1014.3h2.4v2.4h-2.4zM441.3 997.5h2.4v2.4h-2.4zM450.2 994.3h2.4v2.4h-2.4zM467.7 991.5h2.4v2.4h-2.4zM469.5 989.3h2.4v2.4h-2.4zM481.3 987.1h2.4v2.4h-2.4zM486.2 985.8h2.4v2.4h-2.4zM299.8 1040.9h2.4v2.4h-2.4zM306.0 1040.1h2.4v2.4h-2.4zM325.6 1035.0h2.4v2.4h-2.4zM338.6 1029.9h2.4v2.4h-2.4zM344.1 1029.4h2.4v2.4h-2.4zM358.6 1025.6h2.4v2.4h-2.4zM379.3 1020.2h2.4v2.4h-2.4zM382.8 1018.5h2.4v2.4h-2.4zM392.4 1016.0h2.4v2.4h-2.4zM413.7 1011.3h2.4v2.4h-2.4zM423.2 1008.8h2.4v2.4h-2.4zM435.1 1006.5h2.4v2.4h-2.4zM439.0 1004.7h2.4v2.4h-2.4zM449.9 1002.7h2.4v2.4h-2.4zM457.1 999.1h2.4v2.4h-2.4zM462.6 997.7h2.4v2.4h-2.4zM474.1 996.4h2.4v2.4h-2.4zM487.7 991.2h2.4v2.4h-2.4zM301.6 1047.0h2.4v2.4h-2.4zM350.7 1034.2h2.4v2.4h-2.4zM357.2 1033.4h2.4v2.4h-2.4zM365.8 1030.3h2.4v2.4h-2.4zM436.1 1012.0h2.4v2.4h-2.4zM479.9 1000.6h2.4v2.4h-2.4zM505.4 994.0h2.4v2.4h-2.4zM511.8 993.2h2.4v2.4h-2.4zM308.3 1051.9h2.4v2.4h-2.4zM323.0 1048.0h2.4v2.4h-2.4zM332.9 1045.5h2.4v2.4h-2.4zM341.7 1042.3h2.4v2.4h-2.4zM349.7 1041.9h2.4v2.4h-2.4zM353.5 1040.1h2.4v2.4h-2.4zM356.8 1038.4h2.4v2.4h-2.4zM364.2 1038.2h2.4v2.4h-2.4zM372.1 1034.4h2.4v2.4h-2.4zM384.7 1032.8h2.4v2.4h-2.4zM391.8 1029.3h2.4v2.4h-2.4zM398.0 1028.5h2.4v2.4h-2.4zM403.5 1027.1h2.4v2.4h-2.4zM407.6 1026.0h2.4v2.4h-2.4zM417.5 1023.5h2.4v2.4h-2.4zM439.5 1018.6h2.4v2.4h-2.4zM448.0 1015.5h2.4v2.4h-2.4zM456.9 1012.4h2.4v2.4h-2.4zM467.6 1010.4h2.4v2.4h-2.4zM473.5 1009.7h2.4v2.4h-2.4zM483.3 1007.2h2.4v2.4h-2.4zM497.1 1002.8h2.4v2.4h-2.4zM501.3 1000.8h2.4v2.4h-2.4zM508.0 999.9h2.4v2.4h-2.4zM512.9 998.6h2.4v2.4h-2.4zM359.6 1045.1h2.4v2.4h-2.4zM408.3 1031.6h2.4v2.4h-2.4zM425.3 1028.0h2.4v2.4h-2.4zM445.2 1022.9h2.4v2.4h-2.4zM465.5 1018.4h2.4v2.4h-2.4zM469.6 1016.5h2.4v2.4h-2.4zM474.4 1015.2h2.4v2.4h-2.4zM489.4 1011.3h2.4v2.4h-2.4zM494.2 1010.1h2.4v2.4h-2.4zM499.0 1008.8h2.4v2.4h-2.4zM512.7 1004.4h2.4v2.4h-2.4zM518.7 1003.7h2.4v2.4h-2.4zM329.8 1059.5h2.4v2.4h-2.4zM335.3 1058.9h2.4v2.4h-2.4zM339.1 1057.0h2.4v2.4h-2.4zM354.0 1053.2h2.4v2.4h-2.4zM384.3 1045.3h2.4v2.4h-2.4zM393.2 1042.1h2.4v2.4h-2.4zM444.4 1029.7h2.4v2.4h-2.4zM452.9 1026.6h2.4v2.4h-2.4zM465.4 1025.0h2.4v2.4h-2.4zM476.8 1020.4h2.4v2.4h-2.4zM483.5 1019.5h2.4v2.4h-2.4zM509.3 1013.6h2.4v2.4h-2.4zM518.8 1010.3h2.4v2.4h-2.4zM523.5 1009.1h2.4v2.4h-2.4zM340.5 1063.3h2.4v2.4h-2.4zM347.7 1062.2h2.4v2.4h-2.4zM352.3 1061.0h2.4v2.4h-2.4zM367.0 1057.2h2.4v2.4h-2.4zM389.9 1049.6h2.4v2.4h-2.4zM430.8 1039.8h2.4v2.4h-2.4zM450.9 1034.6h2.4v2.4h-2.4zM466.0 1031.5h2.4v2.4h-2.4zM470.4 1029.5h2.4v2.4h-2.4zM474.7 1027.5h2.4v2.4h-2.4zM480.6 1026.8h2.4v2.4h-2.4zM486.2 1026.2h2.4v2.4h-2.4zM500.9 1022.4h2.4v2.4h-2.4zM504.9 1020.5h2.4v2.4h-2.4zM515.4 1017.8h2.4v2.4h-2.4zM531.1 1014.5h2.4v2.4h-2.4zM371.7 1061.7h2.4v2.4h-2.4zM380.5 1058.6h2.4v2.4h-2.4zM387.3 1058.5h2.4v2.4h-2.4zM411.9 1051.3h2.4v2.4h-2.4zM511.2 1025.4h2.4v2.4h-2.4zM541.0 1017.7h2.4v2.4h-2.4zM351.9 1072.6h2.4v2.4h-2.4zM433.6 1052.2h2.4v2.4h-2.4zM452.6 1047.3h2.4v2.4h-2.4zM459.0 1046.5h2.4v2.4h-2.4zM472.8 1042.0h2.4v2.4h-2.4zM478.0 1040.7h2.4v2.4h-2.4zM553.6 1021.9h2.4v2.4h-2.4zM368.9 1074.8h2.4v2.4h-2.4zM375.9 1074.7h2.4v2.4h-2.4zM384.0 1071.7h2.4v2.4h-2.4zM389.7 1070.2h2.4v2.4h-2.4zM398.2 1067.2h2.4v2.4h-2.4zM403.9 1066.5h2.4v2.4h-2.4zM414.3 1063.8h2.4v2.4h-2.4zM424.0 1061.3h2.4v2.4h-2.4zM429.0 1060.0h2.4v2.4h-2.4zM449.2 1054.8h2.4v2.4h-2.4zM452.9 1053.0h2.4v2.4h-2.4zM458.8 1052.3h2.4v2.4h-2.4zM473.9 1048.3h2.4v2.4h-2.4zM484.1 1045.7h2.4v2.4h-2.4zM487.8 1043.9h2.4v2.4h-2.4zM493.8 1043.2h2.4v2.4h-2.4zM499.5 1042.5h2.4v2.4h-2.4zM513.8 1038.0h2.4v2.4h-2.4zM518.6 1036.7h2.4v2.4h-2.4zM524.2 1035.3h2.4v2.4h-2.4zM528.4 1034.2h2.4v2.4h-2.4zM553.3 1027.7h2.4v2.4h-2.4zM559.3 1027.0h2.4v2.4h-2.4zM562.9 1025.2h2.4v2.4h-2.4zM567.0 1023.3h2.4v2.4h-2.4zM378.2 1080.7h2.4v2.4h-2.4zM387.6 1077.4h2.4v2.4h-2.4zM391.4 1075.5h2.4v2.4h-2.4zM401.6 1073.7h2.4v2.4h-2.4zM405.2 1072.0h2.4v2.4h-2.4zM416.5 1069.9h2.4v2.4h-2.4zM422.3 1068.4h2.4v2.4h-2.4zM442.6 1063.9h2.4v2.4h-2.4zM451.3 1060.8h2.4v2.4h-2.4zM455.5 1058.9h2.4v2.4h-2.4zM461.8 1058.1h2.4v2.4h-2.4zM468.0 1057.3h2.4v2.4h-2.4zM471.6 1055.5h2.4v2.4h-2.4zM481.9 1052.8h2.4v2.4h-2.4zM486.0 1051.8h2.4v2.4h-2.4zM491.1 1050.5h2.4v2.4h-2.4zM510.4 1044.6h2.4v2.4h-2.4zM518.0 1044.3h2.4v2.4h-2.4zM532.7 1040.5h2.4v2.4h-2.4zM540.5 1036.8h2.4v2.4h-2.4zM555.9 1033.6h2.4v2.4h-2.4zM560.0 1031.7h2.4v2.4h-2.4zM571.0 1029.7h2.4v2.4h-2.4zM581.3 1027.0h2.4v2.4h-2.4zM387.4 1083.2h2.4v2.4h-2.4zM408.4 1078.6h2.4v2.4h-2.4zM412.6 1077.5h2.4v2.4h-2.4zM432.1 1072.4h2.4v2.4h-2.4zM438.0 1070.8h2.4v2.4h-2.4zM442.6 1069.7h2.4v2.4h-2.4zM448.2 1069.1h2.4v2.4h-2.4zM452.9 1067.0h2.4v2.4h-2.4zM457.9 1065.7h2.4v2.4h-2.4zM480.7 1058.9h2.4v2.4h-2.4zM486.4 1057.4h2.4v2.4h-2.4zM493.0 1057.4h2.4v2.4h-2.4zM497.5 1055.4h2.4v2.4h-2.4zM502.9 1054.8h2.4v2.4h-2.4zM506.2 1052.3h2.4v2.4h-2.4zM511.9 1051.6h2.4v2.4h-2.4zM523.9 1049.4h2.4v2.4h-2.4zM538.1 1045.7h2.4v2.4h-2.4zM542.6 1043.7h2.4v2.4h-2.4zM553.2 1041.7h2.4v2.4h-2.4zM566.7 1037.4h2.4v2.4h-2.4zM575.2 1034.3h2.4v2.4h-2.4zM580.8 1032.9h2.4v2.4h-2.4zM587.1 1032.1h2.4v2.4h-2.4zM590.7 1030.3h2.4v2.4h-2.4zM394.4 1089.6h2.4v2.4h-2.4zM405.1 1086.9h2.4v2.4h-2.4zM412.5 1083.2h2.4v2.4h-2.4zM423.8 1081.2h2.4v2.4h-2.4zM430.1 1080.3h2.4v2.4h-2.4zM439.2 1078.0h2.4v2.4h-2.4zM445.1 1076.4h2.4v2.4h-2.4zM453.1 1073.5h2.4v2.4h-2.4zM458.7 1072.1h2.4v2.4h-2.4zM463.2 1070.9h2.4v2.4h-2.4zM486.9 1063.9h2.4v2.4h-2.4zM492.9 1063.2h2.4v2.4h-2.4zM498.9 1062.5h2.4v2.4h-2.4zM502.7 1060.6h2.4v2.4h-2.4zM508.4 1059.1h2.4v2.4h-2.4zM511.9 1057.4h2.4v2.4h-2.4zM523.5 1055.2h2.4v2.4h-2.4zM528.3 1054.0h2.4v2.4h-2.4zM538.8 1052.1h2.4v2.4h-2.4zM547.6 1049.0h2.4v2.4h-2.4zM552.7 1047.6h2.4v2.4h-2.4zM557.7 1046.3h2.4v2.4h-2.4zM583.1 1039.7h2.4v2.4h-2.4zM587.2 1038.6h2.4v2.4h-2.4zM426.3 1087.1h2.4v2.4h-2.4zM457.5 1079.8h2.4v2.4h-2.4zM470.6 1075.6h2.4v2.4h-2.4zM481.0 1072.9h2.4v2.4h-2.4zM505.6 1066.5h2.4v2.4h-2.4zM510.4 1065.2h2.4v2.4h-2.4zM570.7 1050.4h2.4v2.4h-2.4zM586.1 1046.4h2.4v2.4h-2.4zM594.7 1043.3h2.4v2.4h-2.4zM410.6 1096.9h2.4v2.4h-2.4zM421.8 1094.9h2.4v2.4h-2.4zM430.9 1091.6h2.4v2.4h-2.4zM436.7 1091.0h2.4v2.4h-2.4zM442.4 1089.5h2.4v2.4h-2.4zM452.3 1087.8h2.4v2.4h-2.4zM458.0 1086.3h2.4v2.4h-2.4zM476.7 1080.6h2.4v2.4h-2.4zM483.1 1079.8h2.4v2.4h-2.4zM484.9 1077.6h2.4v2.4h-2.4zM491.1 1076.8h2.4v2.4h-2.4zM495.9 1075.6h2.4v2.4h-2.4zM520.1 1068.4h2.4v2.4h-2.4zM541.3 1063.8h2.4v2.4h-2.4zM546.4 1062.4h2.4v2.4h-2.4zM550.7 1061.3h2.4v2.4h-2.4zM555.1 1059.3h2.4v2.4h-2.4zM560.6 1058.7h2.4v2.4h-2.4zM565.4 1056.6h2.4v2.4h-2.4zM580.4 1053.6h2.4v2.4h-2.4zM585.8 1052.2h2.4v2.4h-2.4zM595.7 1049.6h2.4v2.4h-2.4zM421.5 1101.5h2.4v2.4h-2.4zM432.2 1098.7h2.4v2.4h-2.4zM452.3 1093.5h2.4v2.4h-2.4zM461.3 1090.3h2.4v2.4h-2.4zM486.2 1083.9h2.4v2.4h-2.4zM496.9 1081.9h2.4v2.4h-2.4zM516.7 1076.8h2.4v2.4h-2.4zM536.2 1071.7h2.4v2.4h-2.4zM546.6 1069.0h2.4v2.4h-2.4zM552.2 1068.4h2.4v2.4h-2.4zM559.8 1064.7h2.4v2.4h-2.4zM577.6 1061.8h2.4v2.4h-2.4zM586.2 1058.7h2.4v2.4h-2.4zM630.4 1047.2h2.4v2.4h-2.4zM426.7 1106.8h2.4v2.4h-2.4zM436.5 1104.2h2.4v2.4h-2.4zM441.2 1103.0h2.4v2.4h-2.4zM450.6 1099.7h2.4v2.4h-2.4zM460.6 1097.1h2.4v2.4h-2.4zM466.8 1096.3h2.4v2.4h-2.4zM471.2 1095.2h2.4v2.4h-2.4zM476.7 1093.7h2.4v2.4h-2.4zM483.1 1092.9h2.4v2.4h-2.4zM526.1 1080.9h2.4v2.4h-2.4zM534.9 1077.8h2.4v2.4h-2.4zM540.5 1077.2h2.4v2.4h-2.4zM545.6 1075.8h2.4v2.4h-2.4zM556.5 1073.0h2.4v2.4h-2.4zM560.0 1071.2h2.4v2.4h-2.4zM565.2 1069.9h2.4v2.4h-2.4zM570.6 1069.3h2.4v2.4h-2.4zM576.4 1067.8h2.4v2.4h-2.4zM581.3 1066.5h2.4v2.4h-2.4zM585.9 1065.4h2.4v2.4h-2.4zM590.3 1064.2h2.4v2.4h-2.4zM600.5 1061.6h2.4v2.4h-2.4zM609.7 1058.3h2.4v2.4h-2.4zM615.1 1057.7h2.4v2.4h-2.4zM619.2 1055.8h2.4v2.4h-2.4zM624.9 1055.2h2.4v2.4h-2.4zM440.8 1109.7h2.4v2.4h-2.4zM445.6 1108.4h2.4v2.4h-2.4zM470.9 1101.8h2.4v2.4h-2.4zM500.4 1094.2h2.4v2.4h-2.4zM530.6 1086.3h2.4v2.4h-2.4zM559.6 1077.9h2.4v2.4h-2.4zM575.5 1074.7h2.4v2.4h-2.4zM581.1 1074.0h2.4v2.4h-2.4zM589.7 1071.0h2.4v2.4h-2.4zM605.5 1066.8h2.4v2.4h-2.4zM615.5 1064.2h2.4v2.4h-2.4zM644.5 1056.7h2.4v2.4h-2.4zM449.4 1114.0h2.4v2.4h-2.4zM455.4 1113.3h2.4v2.4h-2.4zM458.9 1111.6h2.4v2.4h-2.4zM473.1 1107.0h2.4v2.4h-2.4zM480.0 1106.9h2.4v2.4h-2.4zM494.2 1102.4h2.4v2.4h-2.4zM498.6 1100.4h2.4v2.4h-2.4zM509.5 1098.4h2.4v2.4h-2.4zM512.9 1096.7h2.4v2.4h-2.4zM534.3 1091.9h2.4v2.4h-2.4zM539.3 1090.7h2.4v2.4h-2.4zM554.2 1086.8h2.4v2.4h-2.4zM565.4 1084.7h2.4v2.4h-2.4zM578.6 1080.4h2.4v2.4h-2.4zM582.5 1078.6h2.4v2.4h-2.4zM598.0 1074.5h2.4v2.4h-2.4zM607.3 1072.1h2.4v2.4h-2.4zM618.3 1070.1h2.4v2.4h-2.4zM623.2 1068.8h2.4v2.4h-2.4zM628.7 1067.4h2.4v2.4h-2.4zM637.8 1065.0h2.4v2.4h-2.4zM461.0 1117.6h2.4v2.4h-2.4zM466.8 1116.1h2.4v2.4h-2.4zM480.9 1112.4h2.4v2.4h-2.4zM490.5 1109.9h2.4v2.4h-2.4zM509.8 1104.1h2.4v2.4h-2.4zM536.1 1098.1h2.4v2.4h-2.4zM550.9 1094.2h2.4v2.4h-2.4zM555.1 1092.3h2.4v2.4h-2.4zM570.1 1089.2h2.4v2.4h-2.4zM590.1 1084.0h2.4v2.4h-2.4zM595.2 1082.7h2.4v2.4h-2.4zM610.6 1078.7h2.4v2.4h-2.4zM624.9 1075.0h2.4v2.4h-2.4zM628.9 1073.1h2.4v2.4h-2.4zM635.3 1072.3h2.4v2.4h-2.4zM641.3 1071.6h2.4v2.4h-2.4zM649.9 1068.5h2.4v2.4h-2.4zM659.6 1066.0h2.4v2.4h-2.4zM474.0 1120.0h2.4v2.4h-2.4zM499.0 1113.5h2.4v2.4h-2.4zM514.7 1110.2h2.4v2.4h-2.4zM519.2 1109.1h2.4v2.4h-2.4zM588.8 1091.0h2.4v2.4h-2.4zM648.6 1075.4h2.4v2.4h-2.4zM654.0 1074.0h2.4v2.4h-2.4zM659.9 1073.3h2.4v2.4h-2.4zM664.4 1071.3h2.4v2.4h-2.4zM473.3 1128.4h2.4v2.4h-2.4zM481.8 1125.4h2.4v2.4h-2.4zM487.8 1124.7h2.4v2.4h-2.4zM491.4 1122.9h2.4v2.4h-2.4zM495.7 1120.9h2.4v2.4h-2.4zM500.4 1119.7h2.4v2.4h-2.4zM517.3 1116.2h2.4v2.4h-2.4zM565.9 1103.5h2.4v2.4h-2.4zM576.5 1100.7h2.4v2.4h-2.4zM581.4 1099.5h2.4v2.4h-2.4zM597.7 1096.1h2.4v2.4h-2.4zM604.4 1092.6h2.4v2.4h-2.4zM635.8 1085.3h2.4v2.4h-2.4zM647.2 1083.2h2.4v2.4h-2.4zM660.3 1079.0h2.4v2.4h-2.4zM666.4 1077.4h2.4v2.4h-2.4zM676.3 1074.8h2.4v2.4h-2.4zM682.0 1074.2h2.4v2.4h-2.4zM686.8 1072.9h2.4v2.4h-2.4zM481.2 1132.1h2.4v2.4h-2.4zM505.9 1125.7h2.4v2.4h-2.4zM531.2 1119.1h2.4v2.4h-2.4zM590.3 1103.8h2.4v2.4h-2.4zM611.0 1098.4h2.4v2.4h-2.4zM631.1 1093.1h2.4v2.4h-2.4zM676.5 1082.2h2.4v2.4h-2.4zM491.7 1136.8h2.4v2.4h-2.4zM500.9 1134.5h2.4v2.4h-2.4zM505.7 1132.4h2.4v2.4h-2.4zM510.2 1131.2h2.4v2.4h-2.4zM514.6 1130.0h2.4v2.4h-2.4zM525.0 1127.3h2.4v2.4h-2.4zM535.0 1124.7h2.4v2.4h-2.4zM538.7 1122.9h2.4v2.4h-2.4zM546.3 1122.6h2.4v2.4h-2.4zM549.0 1120.3h2.4v2.4h-2.4zM570.4 1115.5h2.4v2.4h-2.4zM579.8 1113.1h2.4v2.4h-2.4zM583.8 1111.2h2.4v2.4h-2.4zM589.2 1110.6h2.4v2.4h-2.4zM604.1 1106.8h2.4v2.4h-2.4zM619.1 1102.9h2.4v2.4h-2.4zM625.5 1102.0h2.4v2.4h-2.4zM634.1 1099.0h2.4v2.4h-2.4zM651.1 1095.4h2.4v2.4h-2.4zM663.9 1091.2h2.4v2.4h-2.4zM669.8 1090.5h2.4v2.4h-2.4zM678.2 1086.6h2.4v2.4h-2.4zM683.8 1086.0h2.4v2.4h-2.4zM689.1 1084.6h2.4v2.4h-2.4zM704.3 1080.7h2.4v2.4h-2.4zM506.0 1138.9h2.4v2.4h-2.4zM525.9 1133.7h2.4v2.4h-2.4zM531.6 1133.1h2.4v2.4h-2.4zM536.5 1131.8h2.4v2.4h-2.4zM560.1 1124.8h2.4v2.4h-2.4zM565.1 1123.5h2.4v2.4h-2.4zM575.9 1121.5h2.4v2.4h-2.4zM591.0 1117.6h2.4v2.4h-2.4zM598.8 1113.9h2.4v2.4h-2.4zM639.8 1104.1h2.4v2.4h-2.4zM650.6 1102.1h2.4v2.4h-2.4zM660.1 1098.8h2.4v2.4h-2.4zM680.1 1093.6h2.4v2.4h-2.4zM694.8 1089.8h2.4v2.4h-2.4zM703.4 1086.7h2.4v2.4h-2.4zM707.9 1085.5h2.4v2.4h-2.4zM516.4 1141.9h2.4v2.4h-2.4zM523.2 1141.8h2.4v2.4h-2.4zM527.2 1140.0h2.4v2.4h-2.4zM536.9 1137.4h2.4v2.4h-2.4zM546.9 1134.8h2.4v2.4h-2.4zM550.2 1133.1h2.4v2.4h-2.4zM565.6 1129.1h2.4v2.4h-2.4zM581.9 1125.7h2.4v2.4h-2.4zM601.0 1119.9h2.4v2.4h-2.4zM605.8 1118.7h2.4v2.4h-2.4zM612.5 1118.6h2.4v2.4h-2.4zM623.2 1115.8h2.4v2.4h-2.4zM626.6 1114.1h2.4v2.4h-2.4zM630.5 1112.2h2.4v2.4h-2.4zM640.1 1109.7h2.4v2.4h-2.4zM646.5 1108.9h2.4v2.4h-2.4zM656.4 1106.3h2.4v2.4h-2.4zM660.7 1105.2h2.4v2.4h-2.4zM672.7 1103.0h2.4v2.4h-2.4zM685.7 1098.7h2.4v2.4h-2.4zM692.2 1097.9h2.4v2.4h-2.4zM700.4 1094.1h2.4v2.4h-2.4zM526.0 1146.8h2.4v2.4h-2.4zM531.9 1146.2h2.4v2.4h-2.4zM535.4 1144.4h2.4v2.4h-2.4zM541.1 1142.9h2.4v2.4h-2.4zM546.5 1142.4h2.4v2.4h-2.4zM570.1 1135.4h2.4v2.4h-2.4zM589.6 1129.4h2.4v2.4h-2.4zM596.7 1129.3h2.4v2.4h-2.4zM621.7 1122.8h2.4v2.4h-2.4zM630.4 1119.7h2.4v2.4h-2.4zM646.9 1116.2h2.4v2.4h-2.4zM650.6 1114.4h2.4v2.4h-2.4zM660.6 1111.8h2.4v2.4h-2.4zM665.4 1110.6h2.4v2.4h-2.4zM670.3 1109.3h2.4v2.4h-2.4zM680.0 1106.8h2.4v2.4h-2.4zM686.5 1106.0h2.4v2.4h-2.4zM696.6 1103.3h2.4v2.4h-2.4zM699.3 1101.8h2.4v2.4h-2.4zM709.3 1099.2h2.4v2.4h-2.4zM714.8 1097.7h2.4v2.4h-2.4zM720.7 1097.1h2.4v2.4h-2.4zM724.2 1095.3h2.4v2.4h-2.4zM729.7 1093.9h2.4v2.4h-2.4zM712.5 1104.9h2.4v2.4h-2.4zM557.0 1152.8h2.4v2.4h-2.4zM571.4 1148.2h2.4v2.4h-2.4zM574.1 1146.7h2.4v2.4h-2.4zM585.5 1144.6h2.4v2.4h-2.4zM600.3 1140.7h2.4v2.4h-2.4zM604.4 1138.8h2.4v2.4h-2.4zM610.0 1137.3h2.4v2.4h-2.4zM619.0 1135.0h2.4v2.4h-2.4zM646.2 1129.6h2.4v2.4h-2.4zM660.3 1125.1h2.4v2.4h-2.4zM666.1 1124.4h2.4v2.4h-2.4zM679.6 1119.2h2.4v2.4h-2.4zM725.3 1108.2h2.4v2.4h-2.4zM730.1 1106.9h2.4v2.4h-2.4zM734.2 1105.0h2.4v2.4h-2.4zM546.8 1162.1h2.4v2.4h-2.4zM554.7 1159.2h2.4v2.4h-2.4zM559.5 1157.9h2.4v2.4h-2.4zM566.3 1157.0h2.4v2.4h-2.4zM569.9 1155.2h2.4v2.4h-2.4zM579.8 1152.6h2.4v2.4h-2.4zM583.4 1150.9h2.4v2.4h-2.4zM588.3 1149.6h2.4v2.4h-2.4zM595.2 1148.6h2.4v2.4h-2.4zM598.4 1147.0h2.4v2.4h-2.4zM605.2 1146.0h2.4v2.4h-2.4zM634.3 1138.5h2.4v2.4h-2.4zM639.4 1137.1h2.4v2.4h-2.4zM645.0 1135.7h2.4v2.4h-2.4zM659.6 1131.9h2.4v2.4h-2.4zM666.2 1131.0h2.4v2.4h-2.4zM672.6 1127.6h2.4v2.4h-2.4zM689.3 1124.1h2.4v2.4h-2.4zM698.4 1120.9h2.4v2.4h-2.4zM704.7 1120.1h2.4v2.4h-2.4zM717.8 1115.9h2.4v2.4h-2.4zM723.5 1115.2h2.4v2.4h-2.4zM560.1 1164.3h2.4v2.4h-2.4zM565.5 1162.9h2.4v2.4h-2.4zM569.9 1161.8h2.4v2.4h-2.4zM574.3 1159.8h2.4v2.4h-2.4zM584.4 1158.0h2.4v2.4h-2.4zM589.4 1156.7h2.4v2.4h-2.4zM600.0 1154.0h2.4v2.4h-2.4zM606.1 1153.2h2.4v2.4h-2.4zM610.4 1152.1h2.4v2.4h-2.4zM620.2 1149.5h2.4v2.4h-2.4zM630.0 1146.2h2.4v2.4h-2.4zM654.5 1139.8h2.4v2.4h-2.4zM664.3 1137.2h2.4v2.4h-2.4zM670.2 1136.5h2.4v2.4h-2.4zM674.5 1134.6h2.4v2.4h-2.4zM690.1 1131.4h2.4v2.4h-2.4zM719.1 1123.0h2.4v2.4h-2.4zM733.8 1119.2h2.4v2.4h-2.4zM743.2 1115.9h2.4v2.4h-2.4zM749.0 1115.2h2.4v2.4h-2.4zM753.6 1114.0h2.4v2.4h-2.4zM762.4 1110.9h2.4v2.4h-2.4zM565.0 1169.7h2.4v2.4h-2.4zM568.4 1167.9h2.4v2.4h-2.4zM574.5 1167.2h2.4v2.4h-2.4zM579.7 1165.8h2.4v2.4h-2.4zM583.8 1164.8h2.4v2.4h-2.4zM600.8 1161.2h2.4v2.4h-2.4zM609.0 1158.2h2.4v2.4h-2.4zM614.6 1156.8h2.4v2.4h-2.4zM618.3 1155.0h2.4v2.4h-2.4zM624.7 1154.1h2.4v2.4h-2.4zM638.8 1150.5h2.4v2.4h-2.4zM644.5 1149.0h2.4v2.4h-2.4zM658.5 1145.3h2.4v2.4h-2.4zM663.9 1143.9h2.4v2.4h-2.4zM667.5 1142.2h2.4v2.4h-2.4zM704.1 1133.5h2.4v2.4h-2.4zM709.5 1132.9h2.4v2.4h-2.4zM724.6 1129.0h2.4v2.4h-2.4zM727.3 1126.6h2.4v2.4h-2.4zM733.6 1125.8h2.4v2.4h-2.4zM738.7 1124.5h2.4v2.4h-2.4zM748.8 1121.9h2.4v2.4h-2.4zM754.2 1121.3h2.4v2.4h-2.4zM757.3 1118.8h2.4v2.4h-2.4zM762.2 1117.5h2.4v2.4h-2.4zM768.1 1116.8h2.4v2.4h-2.4zM578.3 1172.8h2.4v2.4h-2.4zM583.1 1171.6h2.4v2.4h-2.4zM592.8 1169.0h2.4v2.4h-2.4zM602.4 1165.7h2.4v2.4h-2.4zM623.4 1161.1h2.4v2.4h-2.4zM627.0 1159.3h2.4v2.4h-2.4zM638.5 1157.1h2.4v2.4h-2.4zM641.7 1155.5h2.4v2.4h-2.4zM653.1 1153.3h2.4v2.4h-2.4zM657.4 1151.4h2.4v2.4h-2.4zM668.9 1150.1h2.4v2.4h-2.4zM701.9 1139.8h2.4v2.4h-2.4zM707.4 1139.2h2.4v2.4h-2.4zM714.1 1138.3h2.4v2.4h-2.4zM716.9 1135.9h2.4v2.4h-2.4zM723.3 1135.1h2.4v2.4h-2.4zM727.6 1134.0h2.4v2.4h-2.4zM749.3 1129.2h2.4v2.4h-2.4zM757.7 1126.1h2.4v2.4h-2.4zM767.3 1123.6h2.4v2.4h-2.4zM772.1 1122.4h2.4v2.4h-2.4zM776.1 1120.5h2.4v2.4h-2.4zM786.7 1118.6h2.4v2.4h-2.4zM586.4 1177.3h2.4v2.4h-2.4zM611.9 1170.7h2.4v2.4h-2.4zM629.8 1165.1h2.4v2.4h-2.4zM655.6 1159.3h2.4v2.4h-2.4zM662.4 1158.4h2.4v2.4h-2.4zM665.5 1156.7h2.4v2.4h-2.4zM681.4 1152.6h2.4v2.4h-2.4zM695.5 1148.9h2.4v2.4h-2.4zM701.7 1148.1h2.4v2.4h-2.4zM705.4 1146.3h2.4v2.4h-2.4zM711.2 1144.8h2.4v2.4h-2.4zM715.9 1143.6h2.4v2.4h-2.4zM740.8 1137.1h2.4v2.4h-2.4zM770.9 1129.3h2.4v2.4h-2.4zM779.4 1126.2h2.4v2.4h-2.4zM785.4 1125.5h2.4v2.4h-2.4zM795.3 1122.9h2.4v2.4h-2.4zM603.0 1180.4h2.4v2.4h-2.4zM617.9 1176.5h2.4v2.4h-2.4zM638.0 1171.3h2.4v2.4h-2.4zM677.4 1161.0h2.4v2.4h-2.4zM710.7 1150.7h2.4v2.4h-2.4zM757.7 1140.2h2.4v2.4h-2.4zM766.0 1137.2h2.4v2.4h-2.4zM601.6 1185.7h2.4v2.4h-2.4zM611.8 1183.9h2.4v2.4h-2.4zM642.7 1175.8h2.4v2.4h-2.4zM678.7 1167.3h2.4v2.4h-2.4zM682.2 1165.5h2.4v2.4h-2.4zM692.2 1162.9h2.4v2.4h-2.4zM696.3 1161.9h2.4v2.4h-2.4zM721.3 1155.4h2.4v2.4h-2.4zM731.6 1152.7h2.4v2.4h-2.4zM746.5 1148.8h2.4v2.4h-2.4zM771.0 1142.4h2.4v2.4h-2.4zM786.8 1138.3h2.4v2.4h-2.4zM794.8 1135.4h2.4v2.4h-2.4z" fill="#fff" fill-opacity="0.3"/>
<path d="M186.9 984.6h2.4v2.4h-2.4zM285.9 958.8h2.4v2.4h-2.4zM342.5 944.9h2.4v2.4h-2.4zM356.6 941.3h2.4v2.4h-2.4zM380.5 934.2h2.4v2.4h-2.4zM185.8 992.3h2.4v2.4h-2.4zM194.3 989.2h2.4v2.4h-2.4zM242.9 975.7h2.4v2.4h-2.4zM248.7 975.1h2.4v2.4h-2.4zM254.2 973.6h2.4v2.4h-2.4zM303.1 960.9h2.4v2.4h-2.4zM323.3 955.7h2.4v2.4h-2.4zM327.7 954.5h2.4v2.4h-2.4zM357.8 946.7h2.4v2.4h-2.4zM377.3 940.8h2.4v2.4h-2.4zM382.8 940.2h2.4v2.4h-2.4zM216.7 990.0h2.4v2.4h-2.4zM225.4 986.9h2.4v2.4h-2.4zM231.6 986.1h2.4v2.4h-2.4zM261.0 978.5h2.4v2.4h-2.4zM326.7 962.2h2.4v2.4h-2.4zM340.0 957.1h2.4v2.4h-2.4zM351.5 954.9h2.4v2.4h-2.4zM354.5 953.3h2.4v2.4h-2.4zM362.4 952.9h2.4v2.4h-2.4zM380.6 947.4h2.4v2.4h-2.4zM212.4 998.5h2.4v2.4h-2.4zM221.6 995.3h2.4v2.4h-2.4zM232.7 993.3h2.4v2.4h-2.4zM241.9 990.0h2.4v2.4h-2.4zM247.0 988.7h2.4v2.4h-2.4zM249.9 987.1h2.4v2.4h-2.4zM272.6 982.9h2.4v2.4h-2.4zM285.0 978.0h2.4v2.4h-2.4zM349.4 961.2h2.4v2.4h-2.4zM355.6 960.4h2.4v2.4h-2.4zM369.5 956.0h2.4v2.4h-2.4zM391.4 952.0h2.4v2.4h-2.4zM215.4 1002.7h2.4v2.4h-2.4zM220.5 1002.2h2.4v2.4h-2.4zM251.2 994.2h2.4v2.4h-2.4zM307.0 980.5h2.4v2.4h-2.4zM371.4 963.8h2.4v2.4h-2.4zM409.9 952.9h2.4v2.4h-2.4zM254.1 1000.0h2.4v2.4h-2.4zM269.1 996.1h2.4v2.4h-2.4zM284.2 992.2h2.4v2.4h-2.4zM328.2 979.9h2.4v2.4h-2.4zM388.6 965.1h2.4v2.4h-2.4zM394.5 964.4h2.4v2.4h-2.4zM409.9 960.4h2.4v2.4h-2.4zM419.8 957.8h2.4v2.4h-2.4zM422.7 955.3h2.4v2.4h-2.4zM243.1 1010.3h2.4v2.4h-2.4zM257.9 1006.5h2.4v2.4h-2.4zM274.7 1000.4h2.4v2.4h-2.4zM311.8 991.6h2.4v2.4h-2.4zM320.8 989.3h2.4v2.4h-2.4zM349.9 980.9h2.4v2.4h-2.4zM361.8 979.5h2.4v2.4h-2.4zM371.4 976.1h2.4v2.4h-2.4zM382.1 974.2h2.4v2.4h-2.4zM397.3 970.2h2.4v2.4h-2.4zM400.0 968.7h2.4v2.4h-2.4zM414.9 964.8h2.4v2.4h-2.4zM435.1 959.5h2.4v2.4h-2.4zM283.0 1005.7h2.4v2.4h-2.4zM288.0 1004.4h2.4v2.4h-2.4zM301.8 1000.0h2.4v2.4h-2.4zM309.8 999.6h2.4v2.4h-2.4zM339.0 992.0h2.4v2.4h-2.4zM443.2 964.9h2.4v2.4h-2.4zM255.4 1019.5h2.4v2.4h-2.4zM310.1 1005.3h2.4v2.4h-2.4zM316.7 1004.4h2.4v2.4h-2.4zM325.4 1001.3h2.4v2.4h-2.4zM336.6 999.2h2.4v2.4h-2.4zM404.3 979.9h2.4v2.4h-2.4zM302.7 1013.8h2.4v2.4h-2.4zM328.5 1007.9h2.4v2.4h-2.4zM362.9 998.1h2.4v2.4h-2.4zM397.6 989.1h2.4v2.4h-2.4zM432.6 980.0h2.4v2.4h-2.4zM443.3 978.0h2.4v2.4h-2.4zM447.5 976.1h2.4v2.4h-2.4zM281.0 1026.8h2.4v2.4h-2.4zM288.3 1023.3h2.4v2.4h-2.4zM299.2 1021.3h2.4v2.4h-2.4zM303.9 1020.0h2.4v2.4h-2.4zM339.0 1010.9h2.4v2.4h-2.4zM358.7 1005.8h2.4v2.4h-2.4zM368.5 1003.3h2.4v2.4h-2.4zM388.0 997.3h2.4v2.4h-2.4zM413.0 991.7h2.4v2.4h-2.4zM443.4 983.8h2.4v2.4h-2.4zM448.2 982.5h2.4v2.4h-2.4zM463.5 978.5h2.4v2.4h-2.4zM278.7 1033.2h2.4v2.4h-2.4zM303.4 1026.8h2.4v2.4h-2.4zM312.7 1024.4h2.4v2.4h-2.4zM348.5 1015.0h2.4v2.4h-2.4zM372.2 1008.0h2.4v2.4h-2.4zM377.9 1007.4h2.4v2.4h-2.4zM382.4 1006.2h2.4v2.4h-2.4zM394.4 1003.9h2.4v2.4h-2.4zM398.4 1002.9h2.4v2.4h-2.4zM417.9 997.0h2.4v2.4h-2.4zM447.2 989.4h2.4v2.4h-2.4zM455.8 986.3h2.4v2.4h-2.4zM466.4 983.5h2.4v2.4h-2.4zM476.9 981.6h2.4v2.4h-2.4zM484.0 980.6h2.4v2.4h-2.4zM326.9 1027.2h2.4v2.4h-2.4zM363.1 1018.7h2.4v2.4h-2.4zM386.7 1011.7h2.4v2.4h-2.4zM490.5 984.7h2.4v2.4h-2.4zM290.5 1044.1h2.4v2.4h-2.4zM294.5 1042.3h2.4v2.4h-2.4zM308.7 1037.7h2.4v2.4h-2.4zM319.0 1035.9h2.4v2.4h-2.4zM329.1 1033.3h2.4v2.4h-2.4zM348.8 1028.1h2.4v2.4h-2.4zM354.1 1026.8h2.4v2.4h-2.4zM375.3 1022.1h2.4v2.4h-2.4zM397.8 1014.6h2.4v2.4h-2.4zM418.6 1010.0h2.4v2.4h-2.4zM428.6 1007.4h2.4v2.4h-2.4zM443.8 1003.4h2.4v2.4h-2.4zM468.5 997.0h2.4v2.4h-2.4zM494.3 991.1h2.4v2.4h-2.4zM497.1 988.7h2.4v2.4h-2.4zM314.1 1050.3h2.4v2.4h-2.4zM378.4 1033.6h2.4v2.4h-2.4zM388.1 1031.1h2.4v2.4h-2.4zM422.3 1021.4h2.4v2.4h-2.4zM427.3 1020.9h2.4v2.4h-2.4zM433.4 1019.3h2.4v2.4h-2.4zM442.7 1016.9h2.4v2.4h-2.4zM453.0 1014.2h2.4v2.4h-2.4zM463.0 1011.6h2.4v2.4h-2.4zM493.1 1003.8h2.4v2.4h-2.4zM516.1 997.0h2.4v2.4h-2.4zM340.7 1050.0h2.4v2.4h-2.4zM345.1 1048.9h2.4v2.4h-2.4zM354.9 1046.3h2.4v2.4h-2.4zM364.6 1043.8h2.4v2.4h-2.4zM378.8 1039.3h2.4v2.4h-2.4zM415.4 1030.6h2.4v2.4h-2.4zM439.3 1024.4h2.4v2.4h-2.4zM483.9 1012.8h2.4v2.4h-2.4zM530.0 1001.6h2.4v2.4h-2.4zM372.7 1047.5h2.4v2.4h-2.4zM405.1 1040.7h2.4v2.4h-2.4zM414.5 1037.4h2.4v2.4h-2.4zM419.7 1036.9h2.4v2.4h-2.4zM439.8 1031.7h2.4v2.4h-2.4zM457.0 1025.5h2.4v2.4h-2.4zM473.5 1022.1h2.4v2.4h-2.4zM503.1 1014.4h2.4v2.4h-2.4zM360.4 1058.1h2.4v2.4h-2.4zM380.2 1052.1h2.4v2.4h-2.4zM401.3 1048.3h2.4v2.4h-2.4zM434.1 1038.1h2.4v2.4h-2.4zM445.0 1036.1h2.4v2.4h-2.4zM509.9 1019.2h2.4v2.4h-2.4zM519.4 1016.7h2.4v2.4h-2.4zM535.7 1013.3h2.4v2.4h-2.4zM347.2 1068.1h2.4v2.4h-2.4zM357.1 1065.5h2.4v2.4h-2.4zM425.3 1046.9h2.4v2.4h-2.4zM450.6 1041.2h2.4v2.4h-2.4zM460.0 1037.9h2.4v2.4h-2.4zM476.0 1034.6h2.4v2.4h-2.4zM515.6 1024.3h2.4v2.4h-2.4zM521.1 1022.9h2.4v2.4h-2.4zM525.2 1021.8h2.4v2.4h-2.4zM359.0 1071.6h2.4v2.4h-2.4zM373.2 1067.9h2.4v2.4h-2.4zM412.3 1056.9h2.4v2.4h-2.4zM444.1 1050.3h2.4v2.4h-2.4zM449.3 1049.0h2.4v2.4h-2.4zM517.4 1030.4h2.4v2.4h-2.4zM379.2 1073.0h2.4v2.4h-2.4zM434.8 1058.5h2.4v2.4h-2.4zM439.4 1057.3h2.4v2.4h-2.4zM445.2 1056.6h2.4v2.4h-2.4zM463.1 1050.3h2.4v2.4h-2.4zM468.8 1049.7h2.4v2.4h-2.4zM505.4 1041.0h2.4v2.4h-2.4zM507.6 1038.7h2.4v2.4h-2.4zM538.9 1031.4h2.4v2.4h-2.4zM547.8 1028.3h2.4v2.4h-2.4zM372.7 1081.2h2.4v2.4h-2.4zM396.6 1075.0h2.4v2.4h-2.4zM411.5 1071.2h2.4v2.4h-2.4zM426.5 1067.3h2.4v2.4h-2.4zM433.0 1066.4h2.4v2.4h-2.4zM437.4 1064.4h2.4v2.4h-2.4zM496.1 1049.2h2.4v2.4h-2.4zM506.7 1046.4h2.4v2.4h-2.4zM523.0 1043.0h2.4v2.4h-2.4zM524.7 1040.9h2.4v2.4h-2.4zM536.6 1038.6h2.4v2.4h-2.4zM549.3 1034.5h2.4v2.4h-2.4zM575.8 1028.4h2.4v2.4h-2.4zM382.4 1085.3h2.4v2.4h-2.4zM398.1 1081.2h2.4v2.4h-2.4zM402.3 1080.1h2.4v2.4h-2.4zM427.3 1073.6h2.4v2.4h-2.4zM462.6 1064.5h2.4v2.4h-2.4zM472.7 1061.8h2.4v2.4h-2.4zM477.0 1060.7h2.4v2.4h-2.4zM518.6 1050.7h2.4v2.4h-2.4zM532.9 1047.0h2.4v2.4h-2.4zM546.4 1042.7h2.4v2.4h-2.4zM556.3 1039.3h2.4v2.4h-2.4zM563.1 1039.2h2.4v2.4h-2.4zM572.2 1035.9h2.4v2.4h-2.4zM398.5 1087.7h2.4v2.4h-2.4zM418.8 1082.4h2.4v2.4h-2.4zM447.9 1074.9h2.4v2.4h-2.4zM482.7 1065.8h2.4v2.4h-2.4zM531.8 1052.2h2.4v2.4h-2.4zM563.0 1044.9h2.4v2.4h-2.4zM568.2 1043.6h2.4v2.4h-2.4zM572.9 1042.4h2.4v2.4h-2.4zM579.0 1041.6h2.4v2.4h-2.4zM593.7 1037.8h2.4v2.4h-2.4zM597.8 1035.9h2.4v2.4h-2.4zM602.6 1034.6h2.4v2.4h-2.4zM431.5 1085.7h2.4v2.4h-2.4zM461.4 1078.0h2.4v2.4h-2.4zM485.3 1071.7h2.4v2.4h-2.4zM490.8 1070.3h2.4v2.4h-2.4zM501.9 1068.3h2.4v2.4h-2.4zM535.2 1058.8h2.4v2.4h-2.4zM554.7 1053.7h2.4v2.4h-2.4zM564.4 1050.3h2.4v2.4h-2.4zM579.9 1047.1h2.4v2.4h-2.4zM588.4 1044.1h2.4v2.4h-2.4zM417.3 1096.0h2.4v2.4h-2.4zM426.7 1093.6h2.4v2.4h-2.4zM466.1 1083.3h2.4v2.4h-2.4zM500.5 1073.5h2.4v2.4h-2.4zM505.4 1072.3h2.4v2.4h-2.4zM515.7 1070.4h2.4v2.4h-2.4zM535.9 1065.2h2.4v2.4h-2.4zM576.0 1054.7h2.4v2.4h-2.4zM590.3 1051.0h2.4v2.4h-2.4zM501.1 1080.8h2.4v2.4h-2.4zM510.0 1077.7h2.4v2.4h-2.4zM557.8 1066.9h2.4v2.4h-2.4zM622.3 1050.1h2.4v2.4h-2.4zM431.4 1105.5h2.4v2.4h-2.4zM446.2 1101.7h2.4v2.4h-2.4zM456.2 1099.1h2.4v2.4h-2.4zM486.0 1091.3h2.4v2.4h-2.4zM496.6 1088.6h2.4v2.4h-2.4zM502.6 1087.8h2.4v2.4h-2.4zM505.7 1086.2h2.4v2.4h-2.4zM511.8 1084.6h2.4v2.4h-2.4zM516.4 1083.4h2.4v2.4h-2.4zM551.2 1074.4h2.4v2.4h-2.4zM629.7 1053.1h2.4v2.4h-2.4zM640.2 1051.2h2.4v2.4h-2.4zM477.4 1101.0h2.4v2.4h-2.4zM495.2 1095.5h2.4v2.4h-2.4zM524.5 1087.1h2.4v2.4h-2.4zM546.8 1083.0h2.4v2.4h-2.4zM550.7 1081.1h2.4v2.4h-2.4zM565.1 1077.4h2.4v2.4h-2.4zM620.5 1062.9h2.4v2.4h-2.4zM634.8 1059.2h2.4v2.4h-2.4zM638.6 1057.4h2.4v2.4h-2.4zM649.9 1055.3h2.4v2.4h-2.4zM465.0 1110.0h2.4v2.4h-2.4zM483.9 1105.1h2.4v2.4h-2.4zM489.6 1103.6h2.4v2.4h-2.4zM518.7 1096.0h2.4v2.4h-2.4zM523.9 1094.7h2.4v2.4h-2.4zM530.3 1093.8h2.4v2.4h-2.4zM568.2 1083.1h2.4v2.4h-2.4zM572.8 1081.1h2.4v2.4h-2.4zM594.2 1076.4h2.4v2.4h-2.4zM603.0 1074.1h2.4v2.4h-2.4zM612.7 1070.7h2.4v2.4h-2.4zM634.6 1066.7h2.4v2.4h-2.4zM643.9 1063.5h2.4v2.4h-2.4zM652.7 1061.2h2.4v2.4h-2.4zM658.4 1059.7h2.4v2.4h-2.4zM471.2 1115.0h2.4v2.4h-2.4zM485.9 1111.1h2.4v2.4h-2.4zM501.4 1107.1h2.4v2.4h-2.4zM505.8 1106.0h2.4v2.4h-2.4zM531.7 1100.1h2.4v2.4h-2.4zM546.4 1095.4h2.4v2.4h-2.4zM575.4 1087.9h2.4v2.4h-2.4zM580.1 1086.6h2.4v2.4h-2.4zM585.2 1085.3h2.4v2.4h-2.4zM605.9 1079.9h2.4v2.4h-2.4zM615.5 1077.4h2.4v2.4h-2.4zM621.8 1076.6h2.4v2.4h-2.4zM646.8 1070.1h2.4v2.4h-2.4zM471.1 1122.4h2.4v2.4h-2.4zM481.6 1119.7h2.4v2.4h-2.4zM544.2 1102.6h2.4v2.4h-2.4zM559.0 1098.7h2.4v2.4h-2.4zM566.3 1097.7h2.4v2.4h-2.4zM600.5 1088.8h2.4v2.4h-2.4zM605.4 1087.5h2.4v2.4h-2.4zM607.8 1085.2h2.4v2.4h-2.4zM614.6 1084.2h2.4v2.4h-2.4zM477.0 1126.6h2.4v2.4h-2.4zM507.6 1119.5h2.4v2.4h-2.4zM512.7 1118.2h2.4v2.4h-2.4zM525.8 1113.1h2.4v2.4h-2.4zM531.8 1112.4h2.4v2.4h-2.4zM546.8 1108.5h2.4v2.4h-2.4zM553.2 1107.7h2.4v2.4h-2.4zM557.0 1105.8h2.4v2.4h-2.4zM587.8 1098.7h2.4v2.4h-2.4zM631.0 1086.6h2.4v2.4h-2.4zM640.9 1084.0h2.4v2.4h-2.4zM649.2 1081.0h2.4v2.4h-2.4zM521.8 1121.6h2.4v2.4h-2.4zM536.6 1117.7h2.4v2.4h-2.4zM561.7 1112.0h2.4v2.4h-2.4zM575.2 1106.8h2.4v2.4h-2.4zM581.2 1106.1h2.4v2.4h-2.4zM586.0 1104.9h2.4v2.4h-2.4zM641.1 1091.4h2.4v2.4h-2.4zM644.8 1088.7h2.4v2.4h-2.4zM656.7 1087.3h2.4v2.4h-2.4zM671.4 1083.5h2.4v2.4h-2.4zM520.7 1128.5h2.4v2.4h-2.4zM529.3 1125.4h2.4v2.4h-2.4zM554.9 1119.6h2.4v2.4h-2.4zM560.0 1118.2h2.4v2.4h-2.4zM563.9 1116.4h2.4v2.4h-2.4zM573.9 1113.8h2.4v2.4h-2.4zM595.2 1109.1h2.4v2.4h-2.4zM610.8 1105.9h2.4v2.4h-2.4zM629.8 1100.1h2.4v2.4h-2.4zM659.2 1092.4h2.4v2.4h-2.4zM672.7 1088.1h2.4v2.4h-2.4zM511.2 1137.5h2.4v2.4h-2.4zM520.2 1135.2h2.4v2.4h-2.4zM550.5 1127.3h2.4v2.4h-2.4zM554.8 1126.2h2.4v2.4h-2.4zM570.3 1122.1h2.4v2.4h-2.4zM581.1 1120.2h2.4v2.4h-2.4zM594.2 1115.1h2.4v2.4h-2.4zM624.3 1108.1h2.4v2.4h-2.4zM631.1 1107.2h2.4v2.4h-2.4zM698.8 1087.9h2.4v2.4h-2.4zM714.2 1084.7h2.4v2.4h-2.4zM512.3 1143.8h2.4v2.4h-2.4zM533.6 1139.1h2.4v2.4h-2.4zM557.2 1132.1h2.4v2.4h-2.4zM616.0 1116.9h2.4v2.4h-2.4zM651.0 1107.7h2.4v2.4h-2.4zM665.6 1103.9h2.4v2.4h-2.4zM676.8 1101.0h2.4v2.4h-2.4zM697.2 1096.6h2.4v2.4h-2.4zM719.7 1089.0h2.4v2.4h-2.4zM551.9 1141.0h2.4v2.4h-2.4zM560.7 1137.8h2.4v2.4h-2.4zM565.5 1136.6h2.4v2.4h-2.4zM575.2 1134.1h2.4v2.4h-2.4zM587.0 1131.8h2.4v2.4h-2.4zM600.1 1127.6h2.4v2.4h-2.4zM615.8 1123.5h2.4v2.4h-2.4zM623.8 1120.6h2.4v2.4h-2.4zM655.7 1113.1h2.4v2.4h-2.4zM674.7 1108.2h2.4v2.4h-2.4zM689.9 1104.2h2.4v2.4h-2.4zM704.6 1100.4h2.4v2.4h-2.4zM542.8 1149.1h2.4v2.4h-2.4zM702.2 1107.6h2.4v2.4h-2.4zM536.2 1157.4h2.4v2.4h-2.4zM580.5 1145.9h2.4v2.4h-2.4zM591.5 1143.8h2.4v2.4h-2.4zM616.0 1136.6h2.4v2.4h-2.4zM623.8 1133.8h2.4v2.4h-2.4zM641.3 1130.9h2.4v2.4h-2.4zM655.5 1126.4h2.4v2.4h-2.4zM710.2 1112.1h2.4v2.4h-2.4zM714.5 1111.0h2.4v2.4h-2.4zM744.6 1103.2h2.4v2.4h-2.4zM574.5 1154.0h2.4v2.4h-2.4zM609.2 1145.0h2.4v2.4h-2.4zM619.1 1142.4h2.4v2.4h-2.4zM624.8 1140.9h2.4v2.4h-2.4zM652.9 1132.8h2.4v2.4h-2.4zM668.5 1128.7h2.4v2.4h-2.4zM730.6 1114.2h2.4v2.4h-2.4zM738.1 1110.6h2.4v2.4h-2.4zM745.6 1110.3h2.4v2.4h-2.4zM752.8 1106.8h2.4v2.4h-2.4zM554.7 1165.7h2.4v2.4h-2.4zM659.8 1138.4h2.4v2.4h-2.4zM679.6 1133.3h2.4v2.4h-2.4zM698.8 1128.3h2.4v2.4h-2.4zM757.7 1112.1h2.4v2.4h-2.4zM768.7 1110.1h2.4v2.4h-2.4zM589.7 1163.2h2.4v2.4h-2.4zM604.5 1159.4h2.4v2.4h-2.4zM630.2 1153.6h2.4v2.4h-2.4zM648.0 1147.2h2.4v2.4h-2.4zM653.3 1146.7h2.4v2.4h-2.4zM673.8 1141.4h2.4v2.4h-2.4zM680.1 1140.6h2.4v2.4h-2.4zM688.3 1137.6h2.4v2.4h-2.4zM695.3 1136.6h2.4v2.4h-2.4zM699.2 1134.8h2.4v2.4h-2.4zM715.0 1131.5h2.4v2.4h-2.4zM718.5 1129.8h2.4v2.4h-2.4zM773.2 1115.5h2.4v2.4h-2.4zM778.5 1114.1h2.4v2.4h-2.4zM573.6 1174.0h2.4v2.4h-2.4zM588.1 1170.2h2.4v2.4h-2.4zM597.9 1167.7h2.4v2.4h-2.4zM608.9 1164.8h2.4v2.4h-2.4zM611.7 1163.3h2.4v2.4h-2.4zM618.4 1162.4h2.4v2.4h-2.4zM632.3 1157.9h2.4v2.4h-2.4zM649.1 1155.2h2.4v2.4h-2.4zM673.8 1148.8h2.4v2.4h-2.4zM676.3 1146.5h2.4v2.4h-2.4zM688.6 1145.0h2.4v2.4h-2.4zM732.5 1132.7h2.4v2.4h-2.4zM742.8 1130.0h2.4v2.4h-2.4zM752.7 1127.4h2.4v2.4h-2.4zM763.0 1124.8h2.4v2.4h-2.4zM781.8 1119.9h2.4v2.4h-2.4zM583.1 1179.0h2.4v2.4h-2.4zM621.0 1168.3h2.4v2.4h-2.4zM640.6 1163.2h2.4v2.4h-2.4zM647.5 1162.2h2.4v2.4h-2.4zM651.3 1160.4h2.4v2.4h-2.4zM685.5 1151.5h2.4v2.4h-2.4zM731.1 1139.7h2.4v2.4h-2.4zM736.4 1139.1h2.4v2.4h-2.4zM744.7 1135.3h2.4v2.4h-2.4zM760.4 1132.0h2.4v2.4h-2.4zM790.3 1124.3h2.4v2.4h-2.4zM596.5 1181.2h2.4v2.4h-2.4zM620.9 1174.0h2.4v2.4h-2.4zM682.0 1159.0h2.4v2.4h-2.4zM741.1 1143.6h2.4v2.4h-2.4zM638.5 1177.8h2.4v2.4h-2.4zM651.6 1173.5h2.4v2.4h-2.4zM706.2 1159.3h2.4v2.4h-2.4zM735.2 1150.9h2.4v2.4h-2.4zM779.6 1139.4h2.4v2.4h-2.4zM816.4 1130.6h2.4v2.4h-2.4z" fill="#fff" fill-opacity="0.55"/>
<path d="M277.0 966.9h2.4v2.4h-2.4zM352.4 948.1h2.4v2.4h-2.4zM237.1 984.7h2.4v2.4h-2.4zM249.9 980.5h2.4v2.4h-2.4zM299.8 967.5h2.4v2.4h-2.4zM345.8 956.4h2.4v2.4h-2.4zM202.9 1001.0h2.4v2.4h-2.4zM206.2 999.3h2.4v2.4h-2.4zM295.2 982.8h2.4v2.4h-2.4zM336.3 972.9h2.4v2.4h-2.4zM257.9 998.2h2.4v2.4h-2.4zM287.5 990.5h2.4v2.4h-2.4zM333.7 979.3h2.4v2.4h-2.4zM353.8 974.1h2.4v2.4h-2.4zM226.6 1013.8h2.4v2.4h-2.4zM420.8 963.3h2.4v2.4h-2.4zM429.4 960.2h2.4v2.4h-2.4zM371.8 981.8h2.4v2.4h-2.4zM438.8 966.0h2.4v2.4h-2.4zM249.6 1020.1h2.4v2.4h-2.4zM267.1 1017.3h2.4v2.4h-2.4zM340.8 997.3h2.4v2.4h-2.4zM321.2 1008.1h2.4v2.4h-2.4zM371.0 995.2h2.4v2.4h-2.4zM402.0 987.9h2.4v2.4h-2.4zM264.2 1030.4h2.4v2.4h-2.4zM437.8 984.4h2.4v2.4h-2.4zM467.2 976.7h2.4v2.4h-2.4zM287.1 1030.2h2.4v2.4h-2.4zM322.3 1021.0h2.4v2.4h-2.4zM343.0 1016.5h2.4v2.4h-2.4zM353.1 1013.8h2.4v2.4h-2.4zM368.4 1009.9h2.4v2.4h-2.4zM404.3 1001.4h2.4v2.4h-2.4zM366.1 1017.0h2.4v2.4h-2.4zM432.6 1000.6h2.4v2.4h-2.4zM313.8 1037.2h2.4v2.4h-2.4zM333.8 1032.0h2.4v2.4h-2.4zM364.5 1024.0h2.4v2.4h-2.4zM367.4 1022.5h2.4v2.4h-2.4zM388.8 1017.7h2.4v2.4h-2.4zM404.3 1013.7h2.4v2.4h-2.4zM453.8 1000.8h2.4v2.4h-2.4zM480.0 994.9h2.4v2.4h-2.4zM483.2 993.2h2.4v2.4h-2.4zM310.8 1044.6h2.4v2.4h-2.4zM328.2 1046.7h2.4v2.4h-2.4zM414.7 1025.0h2.4v2.4h-2.4zM476.5 1007.3h2.4v2.4h-2.4zM488.0 1005.1h2.4v2.4h-2.4zM368.6 1041.9h2.4v2.4h-2.4zM449.6 1021.7h2.4v2.4h-2.4zM460.9 1019.6h2.4v2.4h-2.4zM372.0 1055.9h2.4v2.4h-2.4zM410.7 1045.0h2.4v2.4h-2.4zM454.8 1033.5h2.4v2.4h-2.4zM460.3 1032.1h2.4v2.4h-2.4zM495.3 1023.0h2.4v2.4h-2.4zM422.7 1049.3h2.4v2.4h-2.4zM469.4 1035.5h2.4v2.4h-2.4zM534.3 1033.5h2.4v2.4h-2.4zM381.6 1078.9h2.4v2.4h-2.4zM447.3 1061.9h2.4v2.4h-2.4zM476.2 1054.3h2.4v2.4h-2.4zM501.4 1047.8h2.4v2.4h-2.4zM545.6 1036.3h2.4v2.4h-2.4zM566.8 1031.6h2.4v2.4h-2.4zM417.8 1076.1h2.4v2.4h-2.4zM422.1 1075.0h2.4v2.4h-2.4zM528.2 1048.2h2.4v2.4h-2.4zM408.6 1085.1h2.4v2.4h-2.4zM467.6 1068.9h2.4v2.4h-2.4zM472.4 1067.7h2.4v2.4h-2.4zM478.7 1066.9h2.4v2.4h-2.4zM412.7 1091.5h2.4v2.4h-2.4zM436.3 1084.5h2.4v2.4h-2.4zM445.8 1082.0h2.4v2.4h-2.4zM530.0 1060.1h2.4v2.4h-2.4zM551.3 1055.4h2.4v2.4h-2.4zM561.3 1052.8h2.4v2.4h-2.4zM526.2 1067.7h2.4v2.4h-2.4zM602.3 1048.7h2.4v2.4h-2.4zM610.2 1045.0h2.4v2.4h-2.4zM617.1 1044.9h2.4v2.4h-2.4zM427.5 1100.0h2.4v2.4h-2.4zM437.2 1097.4h2.4v2.4h-2.4zM441.9 1096.2h2.4v2.4h-2.4zM466.3 1089.9h2.4v2.4h-2.4zM480.9 1085.2h2.4v2.4h-2.4zM542.8 1070.8h2.4v2.4h-2.4zM492.6 1090.5h2.4v2.4h-2.4zM531.6 1080.3h2.4v2.4h-2.4zM595.5 1062.9h2.4v2.4h-2.4zM635.7 1052.4h2.4v2.4h-2.4zM449.7 1106.5h2.4v2.4h-2.4zM455.5 1105.8h2.4v2.4h-2.4zM535.5 1085.1h2.4v2.4h-2.4zM609.8 1065.7h2.4v2.4h-2.4zM625.0 1061.8h2.4v2.4h-2.4zM649.3 1062.9h2.4v2.4h-2.4zM476.8 1114.3h2.4v2.4h-2.4zM540.2 1096.2h2.4v2.4h-2.4zM655.7 1067.0h2.4v2.4h-2.4zM484.6 1118.1h2.4v2.4h-2.4zM579.0 1093.5h2.4v2.4h-2.4zM584.5 1092.1h2.4v2.4h-2.4zM595.0 1090.2h2.4v2.4h-2.4zM633.5 1078.5h2.4v2.4h-2.4zM538.1 1111.6h2.4v2.4h-2.4zM540.5 1109.3h2.4v2.4h-2.4zM571.6 1102.0h2.4v2.4h-2.4zM624.7 1087.4h2.4v2.4h-2.4zM494.9 1135.2h2.4v2.4h-2.4zM600.3 1108.6h2.4v2.4h-2.4zM614.0 1103.3h2.4v2.4h-2.4zM639.0 1097.7h2.4v2.4h-2.4zM693.7 1083.4h2.4v2.4h-2.4zM541.5 1130.5h2.4v2.4h-2.4zM546.9 1129.1h2.4v2.4h-2.4zM610.4 1111.7h2.4v2.4h-2.4zM620.5 1109.1h2.4v2.4h-2.4zM634.4 1105.5h2.4v2.4h-2.4zM644.9 1102.7h2.4v2.4h-2.4zM668.1 1095.9h2.4v2.4h-2.4zM674.6 1095.0h2.4v2.4h-2.4zM576.4 1127.2h2.4v2.4h-2.4zM712.6 1092.6h2.4v2.4h-2.4zM521.3 1148.1h2.4v2.4h-2.4zM554.0 1138.7h2.4v2.4h-2.4zM639.7 1117.3h2.4v2.4h-2.4zM629.5 1139.7h2.4v2.4h-2.4zM650.2 1135.2h2.4v2.4h-2.4zM714.7 1118.4h2.4v2.4h-2.4zM735.5 1113.0h2.4v2.4h-2.4zM749.5 1109.3h2.4v2.4h-2.4zM595.3 1155.2h2.4v2.4h-2.4zM683.3 1138.9h2.4v2.4h-2.4zM742.8 1123.4h2.4v2.4h-2.4zM683.0 1145.6h2.4v2.4h-2.4zM691.8 1142.4h2.4v2.4h-2.4zM696.3 1141.3h2.4v2.4h-2.4zM738.2 1132.1h2.4v2.4h-2.4zM601.5 1173.4h2.4v2.4h-2.4zM617.0 1169.3h2.4v2.4h-2.4zM628.3 1173.8h2.4v2.4h-2.4zM726.2 1147.5h2.4v2.4h-2.4zM617.1 1182.5h2.4v2.4h-2.4zM660.5 1170.3h2.4v2.4h-2.4zM667.2 1169.4h2.4v2.4h-2.4zM701.2 1160.6h2.4v2.4h-2.4zM777.1 1141.7h2.4v2.4h-2.4zM801.4 1134.5h2.4v2.4h-2.4z" fill="#fff" fill-opacity="0.85"/>
<g fill="none" stroke="#242424" stroke-width="5.2" stroke-linecap="butt" stroke-linejoin="miter">
<path d="M159.0 220.5L159.0 989.1L626.3 1205.6L1247.6 1044.0"/>
<path stroke-width="4.8" d="M159.0 989.1l-20.0 -9.2M159.0 861.3l-20.0 -9.2M159.0 733.6l-20.0 -9.2M159.0 605.8l-20.0 -9.2M159.0 478.1l-20.0 -9.2M159.0 350.3l-20.0 -9.2M159.0 222.5l-20.0 -9.2M159.0 989.1l-21.3 5.5M392.6 1097.3l-21.3 5.5M626.3 1205.6l-21.3 5.5M626.3 1205.6l20.0 9.2M833.4 1151.7l20.0 9.2M1040.5 1097.9l20.0 9.2M1247.6 1044.0l20.0 9.2"/>
</g>
<g font-family="'Liberation Serif', 'Times New Roman', serif" fill="#1c1c1c">
<text x="704.3" y="49.5" font-size="49.9" font-weight="bold" text-anchor="middle" fill="#000">The Transient Signals clustered by SOM</text>
<text x="131.2" y="996.1" font-size="49.2" text-anchor="end">0</text>
<text x="131.2" y="868.3" font-size="49.2" text-anchor="end">0.2</text>
<text x="131.2" y="740.6" font-size="49.2" text-anchor="end">0.4</text>
<text x="131.2" y="612.8" font-size="49.2" text-anchor="end">0.6</text>
<text x="131.2" y="485.1" font-size="49.2" text-anchor="end">0.8</text>
<text x="131.2" y="357.3" font-size="49.2" text-anchor="end">1</text>
<text x="131.2" y="229.5" font-size="49.2" text-anchor="end">1.2</text>
<text x="132.2" y="1041.9" font-size="49.2" text-anchor="end">0</text>
<text x="365.8" y="1150.1" font-size="49.2" text-anchor="end">100</text>
<text x="599.5" y="1258.4" font-size="49.2" text-anchor="end">200</text>
<text x="653.8" y="1261.6" font-size="49.2">0</text>
<text x="860.9" y="1207.7" font-size="49.2">50</text>
<text x="1068.0" y="1153.9" font-size="49.2">100</text>
<text x="1275.1" y="1100.0" font-size="49.2">150</text>
<text x="65.1" y="1275" font-size="49.9">Signal number</text>
<text x="935.5" y="1288.4" font-size="49.8">n(samples)</text>
<text transform="translate(51.2 605.2) rotate(-90)" font-size="49.5" text-anchor="middle">Amplitude</text>
</g>
</svg>
</body></html>
